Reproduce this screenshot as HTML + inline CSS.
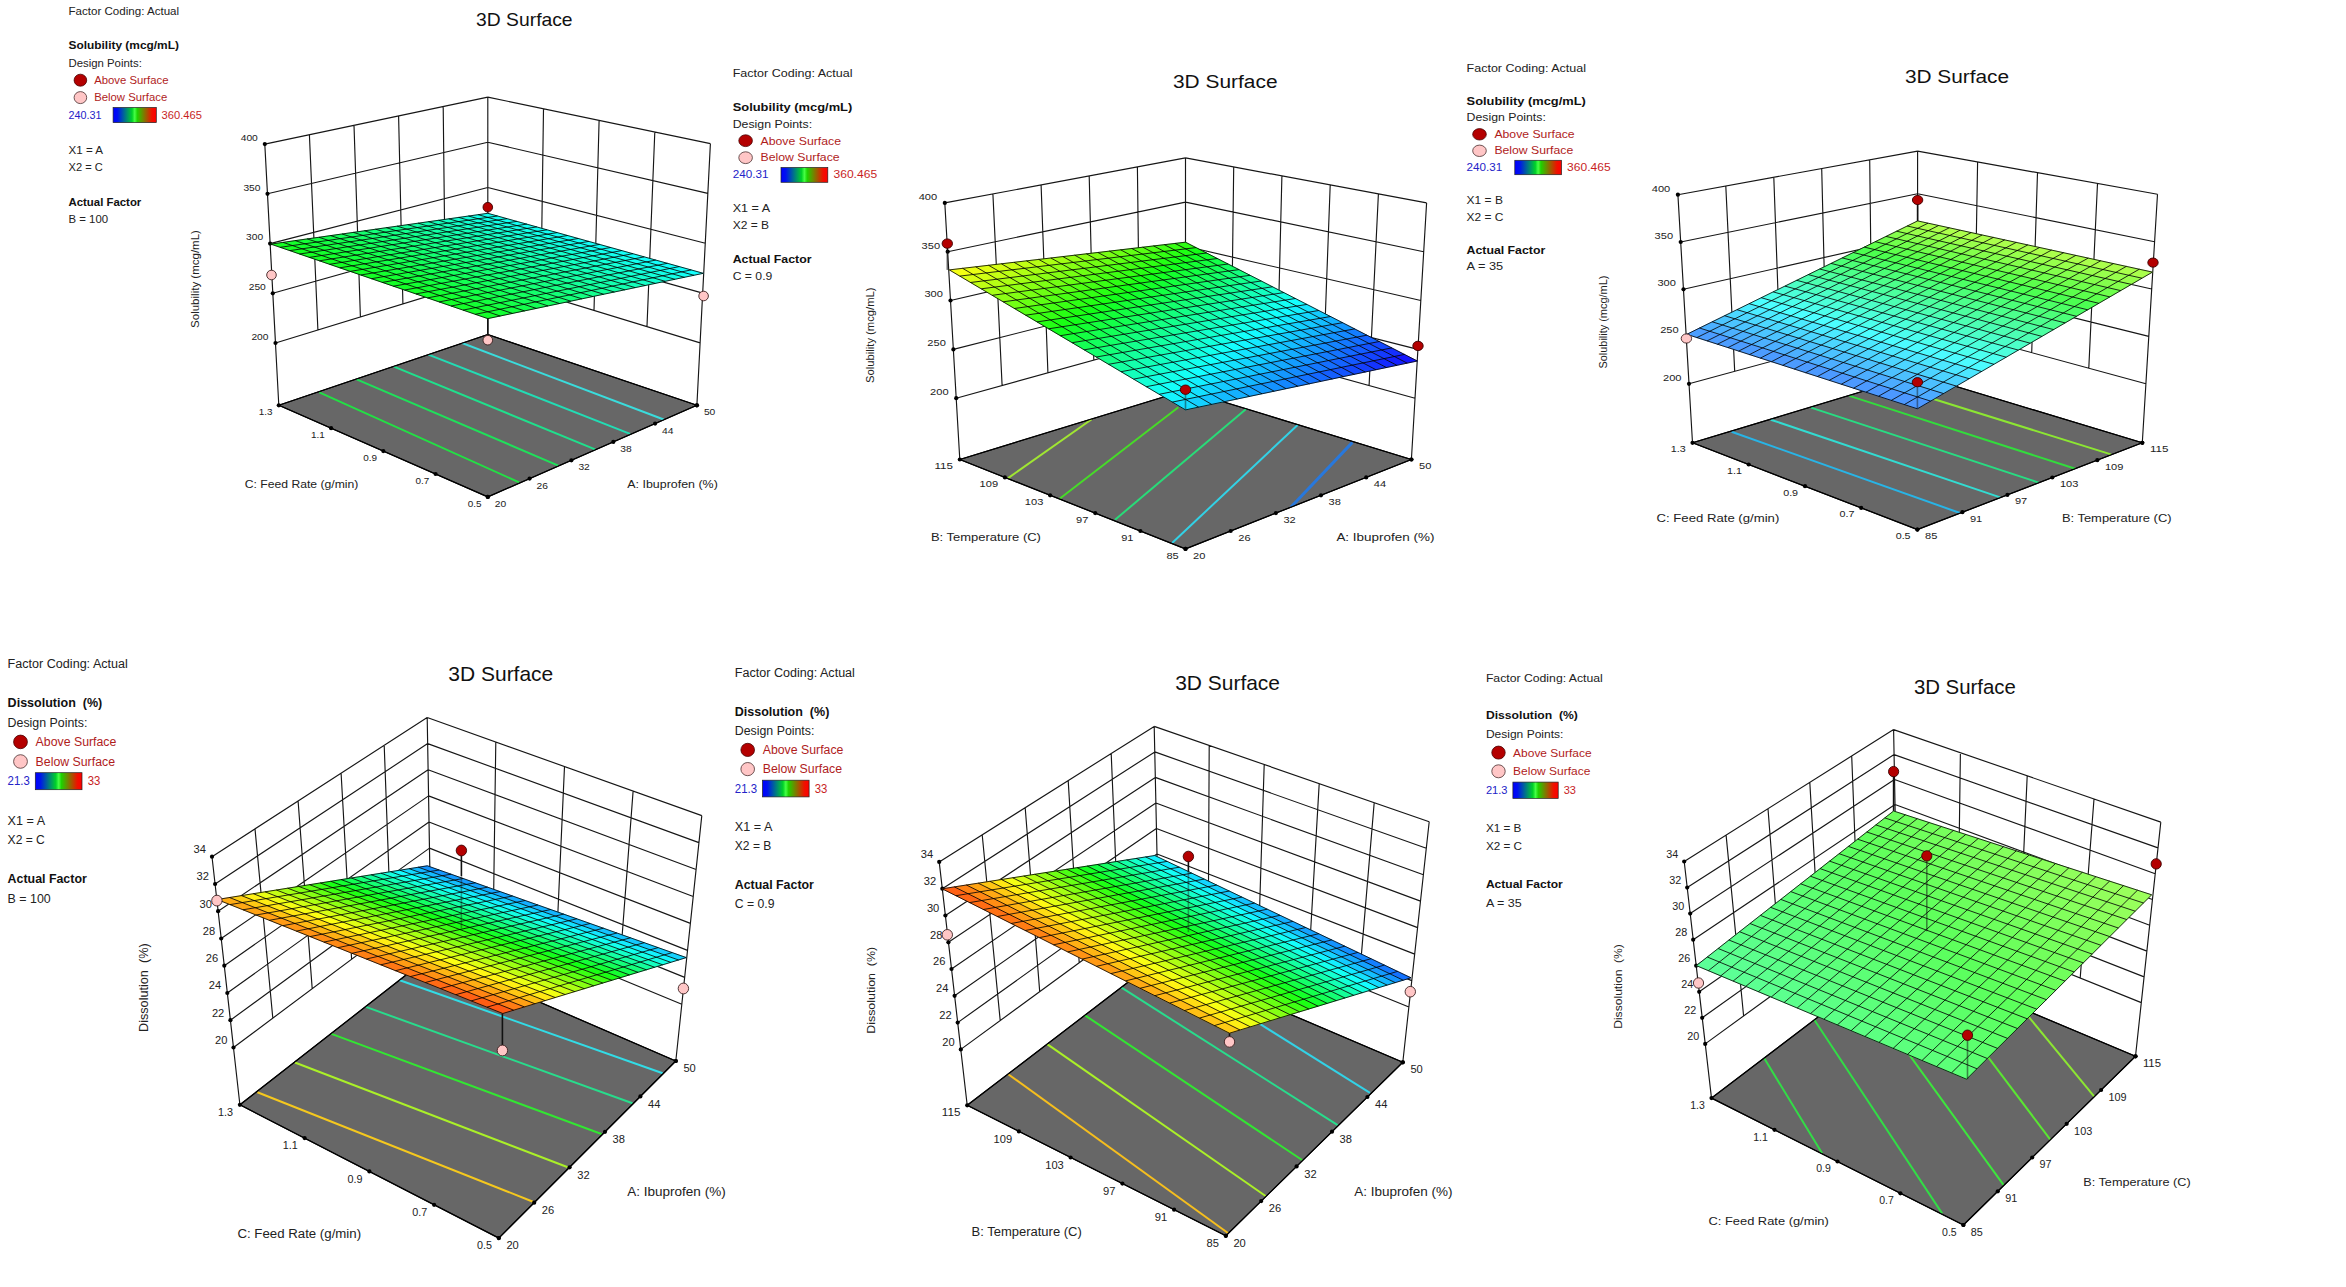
<!DOCTYPE html>
<html lang="en"><head><meta charset="utf-8"><title>3D Surface plots</title>
<style>html,body{margin:0;padding:0;background:#fff;}body{width:2346px;height:1287px;overflow:hidden;}svg{display:block;}</style>
</head><body>
<svg width="2346" height="1287" viewBox="0 0 2346 1287" font-family='"Liberation Sans", sans-serif'>
<defs><linearGradient id="cbar" x1="0" x2="1" y1="0" y2="0"><stop offset="0" stop-color="#0000ff"/><stop offset="0.1" stop-color="#0010f0"/><stop offset="0.44" stop-color="#00d228"/><stop offset="0.5" stop-color="#46ff46"/><stop offset="0.56" stop-color="#1ed200"/><stop offset="0.9" stop-color="#f01000"/><stop offset="1" stop-color="#ff0000"/></linearGradient></defs>
<rect width="2346" height="1287" fill="#fff"/>
<g>
<text x="68.5" y="14.5" font-size="10.90" fill="#222" textLength="110.6" lengthAdjust="spacingAndGlyphs">Factor Coding: Actual</text>
<text x="68.5" y="49.2" font-size="10.90" fill="#111" font-weight="bold" textLength="110.4" lengthAdjust="spacingAndGlyphs">Solubility (mcg/mL)</text>
<text x="68.5" y="66.6" font-size="10.90" fill="#222" textLength="73.3" lengthAdjust="spacingAndGlyphs">Design Points:</text>
<ellipse cx="80.4" cy="80.2" rx="6.3" ry="6" fill="#b40000" stroke="#4a0000" stroke-width="0.8"/>
<text x="94.2" y="84" font-size="10.90" fill="#b01c1c" textLength="74.3" lengthAdjust="spacingAndGlyphs">Above Surface</text>
<ellipse cx="80.4" cy="97.6" rx="6.3" ry="6" fill="#ffc6c6" stroke="#4a3030" stroke-width="0.8"/>
<text x="94.2" y="101.4" font-size="10.90" fill="#b01c1c" textLength="73" lengthAdjust="spacingAndGlyphs">Below Surface</text>
<text x="68.5" y="118.7" font-size="10.90" fill="#2323c8" textLength="33" lengthAdjust="spacingAndGlyphs">240.31</text>
<rect x="113.1" y="107.5" width="43.2" height="15.1" fill="url(#cbar)" stroke="#222" stroke-width="0.7"/>
<text x="161.6" y="118.7" font-size="10.90" fill="#c81e1e" textLength="40.3" lengthAdjust="spacingAndGlyphs">360.465</text>
<text x="68.5" y="153.5" font-size="10.90" fill="#222" textLength="34.5" lengthAdjust="spacingAndGlyphs">X1 = A</text>
<text x="68.5" y="170.8" font-size="10.90" fill="#222" textLength="34.2" lengthAdjust="spacingAndGlyphs">X2 = C</text>
<text x="68.5" y="205.6" font-size="10.90" fill="#111" font-weight="bold" textLength="72.8" lengthAdjust="spacingAndGlyphs">Actual Factor</text>
<text x="68.5" y="222.9" font-size="10.90" fill="#222" textLength="39.6" lengthAdjust="spacingAndGlyphs">B = 100</text>
<path d="M264.8,144.1 L275.5,343 M309.4,134.7 L317.9,330 M354,125.3 L360.4,317 M398.6,115.9 L402.9,303.9 M443.2,106.5 L445.3,290.9 M487.8,97.1 L487.8,277.9 M264.8,144.1 L487.8,97.1 M267.5,193.8 L487.8,142.3 M270.1,243.6 L487.8,187.5 M272.8,293.3 L487.8,232.7 M275.5,343 L487.8,277.9 M487.8,97.1 L487.8,277.9 M543.5,108.7 L540.9,294.1 M599.1,120.3 L594,310.4 M654.8,132 L647,326.6 M710.4,143.6 L700.1,342.9 M487.8,97.1 L710.4,143.6 M487.8,142.3 L707.8,193.4 M487.8,187.5 L705.3,243.2 M487.8,232.7 L702.7,293.1 M487.8,277.9 L700.1,342.9 M264.8,144.1 L278.8,405.3 M487.8,97.1 L487.8,334.5 M710.4,143.6 L696.9,405.3" fill="none" stroke="#161616" stroke-width="1.15"/>
<clipPath id="fc0"><polygon points="278.8,405.3 487.8,334.5 696.9,405.3 487.8,496.9"/></clipPath>
<polygon points="278.8,405.3 487.8,334.5 696.9,405.3 487.8,496.9" fill="#676767" stroke="#000" stroke-width="1.1" stroke-linejoin="round"/>
<g clip-path="url(#fc0)" fill="none"><path d="M319.3,392.3 L519.2,482.4" stroke="#22e044" stroke-width="2"/><path d="M356.6,379.4 L558.3,465.6" stroke="#1fe05a" stroke-width="2"/><path d="M393.9,366.7 L595.1,449.4" stroke="#1fe08c" stroke-width="2"/><path d="M428.4,354.6 L630.1,433.9" stroke="#22dcb4" stroke-width="2"/><path d="M462,343 L663.7,419.5" stroke="#3adcdc" stroke-width="2"/></g>
<polygon points="278.8,405.3 487.8,334.5 696.9,405.3 487.8,496.9" fill="none" stroke="#000" stroke-width="1.2" stroke-linejoin="round"/>
<g fill="#000"><circle cx="264.8" cy="144.1" r="2.1"/><circle cx="267.5" cy="193.8" r="2.1"/><circle cx="270.1" cy="243.6" r="2.1"/><circle cx="272.8" cy="293.3" r="2.1"/><circle cx="275.5" cy="343" r="2.1"/><circle cx="278.8" cy="405.3" r="2.1"/><circle cx="331.1" cy="428.2" r="2.1"/><circle cx="383.3" cy="451.1" r="2.1"/><circle cx="435.6" cy="474" r="2.1"/><circle cx="487.8" cy="496.9" r="2.1"/><circle cx="487.8" cy="496.9" r="2.1"/><circle cx="529.6" cy="478.6" r="2.1"/><circle cx="571.4" cy="460.3" r="2.1"/><circle cx="613.3" cy="441.9" r="2.1"/><circle cx="655.1" cy="423.6" r="2.1"/><circle cx="696.9" cy="405.3" r="2.1"/><circle cx="696.9" cy="405.3" r="2.1"/></g>
<g><text x="257.8" y="140.8" font-size="9.90" fill="#222" text-anchor="end" textLength="17.1" lengthAdjust="spacingAndGlyphs">400</text><text x="260.5" y="190.5" font-size="9.90" fill="#222" text-anchor="end" textLength="17.1" lengthAdjust="spacingAndGlyphs">350</text><text x="263.1" y="240.3" font-size="9.90" fill="#222" text-anchor="end" textLength="17.1" lengthAdjust="spacingAndGlyphs">300</text><text x="265.8" y="290" font-size="9.90" fill="#222" text-anchor="end" textLength="17.1" lengthAdjust="spacingAndGlyphs">250</text><text x="268.5" y="339.7" font-size="9.90" fill="#222" text-anchor="end" textLength="17.1" lengthAdjust="spacingAndGlyphs">200</text><text x="272.5" y="415.3" font-size="9.90" fill="#222" text-anchor="end" textLength="13.8" lengthAdjust="spacingAndGlyphs">1.3</text><text x="324.8" y="438.2" font-size="9.90" fill="#222" text-anchor="end" textLength="13.8" lengthAdjust="spacingAndGlyphs">1.1</text><text x="377" y="461.1" font-size="9.90" fill="#222" text-anchor="end" textLength="13.8" lengthAdjust="spacingAndGlyphs">0.9</text><text x="429.2" y="484" font-size="9.90" fill="#222" text-anchor="end" textLength="13.8" lengthAdjust="spacingAndGlyphs">0.7</text><text x="481.5" y="506.9" font-size="9.90" fill="#222" text-anchor="end" textLength="13.8" lengthAdjust="spacingAndGlyphs">0.5</text><text x="494.8" y="506.9" font-size="9.90" fill="#222" textLength="11.4" lengthAdjust="spacingAndGlyphs">20</text><text x="536.6" y="488.6" font-size="9.90" fill="#222" textLength="11.4" lengthAdjust="spacingAndGlyphs">26</text><text x="578.4" y="470.3" font-size="9.90" fill="#222" textLength="11.4" lengthAdjust="spacingAndGlyphs">32</text><text x="620.3" y="451.9" font-size="9.90" fill="#222" textLength="11.4" lengthAdjust="spacingAndGlyphs">38</text><text x="662.1" y="433.6" font-size="9.90" fill="#222" textLength="11.4" lengthAdjust="spacingAndGlyphs">44</text><text x="703.9" y="415.3" font-size="9.90" fill="#222" textLength="11.4" lengthAdjust="spacingAndGlyphs">50</text></g>
<text x="244.7" y="488" font-size="10.90" fill="#222" textLength="113.7" lengthAdjust="spacingAndGlyphs">C: Feed Rate (g/min)</text>
<text x="627.3" y="488" font-size="10.90" fill="#222" textLength="90.5" lengthAdjust="spacingAndGlyphs">A: Ibuprofen (%)</text>
<text x="0" y="0" font-size="10.90" fill="#222" textLength="97.8" lengthAdjust="spacingAndGlyphs" transform="translate(199.1,327.9) rotate(-90)">Solubility (mcg/mL)</text>
<text x="476.1" y="25.7" font-size="18.40" fill="#111" textLength="96.5" lengthAdjust="spacingAndGlyphs">3D Surface</text>
<g stroke-width="0.6" stroke-linejoin="round"><path d="M487.8,217.3 L497.4,216 L487.8,213.3 L478.2,214.7Z" fill="#14fff1" stroke="#14fff1"/><path d="M497.5,220.1 L507,218.7 L497.4,216 L487.8,217.3Z" fill="#14fff2" stroke="#14fff2"/><path d="M507.3,222.8 L516.8,221.4 L507,218.7 L497.5,220.1Z" fill="#14fff3" stroke="#14fff3"/><path d="M517.2,225.6 L526.8,224.1 L516.8,221.4 L507.3,222.8Z" fill="#14fff3" stroke="#14fff3"/><path d="M527.2,228.4 L536.8,226.9 L526.8,224.1 L517.2,225.6Z" fill="#14fff4" stroke="#14fff4"/><path d="M537.4,231.3 L547,229.8 L536.8,226.9 L527.2,228.4Z" fill="#14fff4" stroke="#14fff4"/><path d="M547.7,234.2 L557.2,232.6 L547,229.8 L537.4,231.3Z" fill="#14fff5" stroke="#14fff5"/><path d="M558.1,237.1 L567.6,235.5 L557.2,232.6 L547.7,234.2Z" fill="#14fff6" stroke="#14fff6"/><path d="M568.7,240.1 L578.2,238.5 L567.6,235.5 L558.1,237.1Z" fill="#14fff6" stroke="#14fff6"/><path d="M579.3,243.1 L588.8,241.4 L578.2,238.5 L568.7,240.1Z" fill="#14fff7" stroke="#14fff7"/><path d="M590.1,246.1 L599.6,244.4 L588.8,241.4 L579.3,243.1Z" fill="#14fff8" stroke="#14fff8"/><path d="M601.1,249.2 L610.6,247.5 L599.6,244.4 L590.1,246.1Z" fill="#14fff8" stroke="#14fff8"/><path d="M612.2,252.3 L621.7,250.6 L610.6,247.5 L601.1,249.2Z" fill="#14fff9" stroke="#14fff9"/><path d="M623.4,255.4 L632.9,253.7 L621.7,250.6 L612.2,252.3Z" fill="#14fff9" stroke="#14fff9"/><path d="M634.8,258.6 L644.2,256.9 L632.9,253.7 L623.4,255.4Z" fill="#14fffa" stroke="#14fffa"/><path d="M646.3,261.9 L655.7,260.1 L644.2,256.9 L634.8,258.6Z" fill="#14fffb" stroke="#14fffb"/><path d="M658,265.2 L667.4,263.3 L655.7,260.1 L646.3,261.9Z" fill="#14fffb" stroke="#14fffb"/><path d="M669.8,268.5 L679.2,266.6 L667.4,263.3 L658,265.2Z" fill="#14fffc" stroke="#14fffc"/><path d="M681.8,271.8 L691.2,269.9 L679.2,266.6 L669.8,268.5Z" fill="#14fffd" stroke="#14fffd"/><path d="M694,275.3 L703.3,273.3 L691.2,269.9 L681.8,271.8Z" fill="#14fffd" stroke="#14fffd"/><path d="M478.1,218.7 L487.8,217.3 L478.2,214.7 L468.5,216Z" fill="#14ffe6" stroke="#14ffe6"/><path d="M487.8,221.5 L497.5,220.1 L487.8,217.3 L478.1,218.7Z" fill="#14ffe7" stroke="#14ffe7"/><path d="M497.6,224.3 L507.3,222.8 L497.5,220.1 L487.8,221.5Z" fill="#14ffe8" stroke="#14ffe8"/><path d="M507.5,227.1 L517.2,225.6 L507.3,222.8 L497.6,224.3Z" fill="#14ffe8" stroke="#14ffe8"/><path d="M517.6,229.9 L527.2,228.4 L517.2,225.6 L507.5,227.1Z" fill="#14ffe9" stroke="#14ffe9"/><path d="M527.7,232.8 L537.4,231.3 L527.2,228.4 L517.6,229.9Z" fill="#14ffe9" stroke="#14ffe9"/><path d="M538,235.7 L547.7,234.2 L537.4,231.3 L527.7,232.8Z" fill="#14ffea" stroke="#14ffea"/><path d="M548.5,238.7 L558.1,237.1 L547.7,234.2 L538,235.7Z" fill="#14ffeb" stroke="#14ffeb"/><path d="M559,241.7 L568.7,240.1 L558.1,237.1 L548.5,238.7Z" fill="#14ffeb" stroke="#14ffeb"/><path d="M569.7,244.7 L579.3,243.1 L568.7,240.1 L559,241.7Z" fill="#14ffec" stroke="#14ffec"/><path d="M580.5,247.8 L590.1,246.1 L579.3,243.1 L569.7,244.7Z" fill="#14ffec" stroke="#14ffec"/><path d="M591.5,250.9 L601.1,249.2 L590.1,246.1 L580.5,247.8Z" fill="#14ffed" stroke="#14ffed"/><path d="M602.6,254 L612.2,252.3 L601.1,249.2 L591.5,250.9Z" fill="#14ffee" stroke="#14ffee"/><path d="M613.8,257.2 L623.4,255.4 L612.2,252.3 L602.6,254Z" fill="#14ffee" stroke="#14ffee"/><path d="M625.2,260.5 L634.8,258.6 L623.4,255.4 L613.8,257.2Z" fill="#14ffef" stroke="#14ffef"/><path d="M636.8,263.7 L646.3,261.9 L634.8,258.6 L625.2,260.5Z" fill="#14fff0" stroke="#14fff0"/><path d="M648.5,267 L658,265.2 L646.3,261.9 L636.8,263.7Z" fill="#14fff0" stroke="#14fff0"/><path d="M660.3,270.4 L669.8,268.5 L658,265.2 L648.5,267Z" fill="#14fff1" stroke="#14fff1"/><path d="M672.3,273.8 L681.8,271.8 L669.8,268.5 L660.3,270.4Z" fill="#14fff1" stroke="#14fff1"/><path d="M684.5,277.3 L694,275.3 L681.8,271.8 L672.3,273.8Z" fill="#14fff2" stroke="#14fff2"/><path d="M468.3,220.2 L478.1,218.7 L468.5,216 L458.7,217.4Z" fill="#14ffdb" stroke="#14ffdb"/><path d="M478,222.9 L487.8,221.5 L478.1,218.7 L468.3,220.2Z" fill="#14ffdc" stroke="#14ffdc"/><path d="M487.8,225.7 L497.6,224.3 L487.8,221.5 L478,222.9Z" fill="#14ffdd" stroke="#14ffdd"/><path d="M497.7,228.6 L507.5,227.1 L497.6,224.3 L487.8,225.7Z" fill="#14ffdd" stroke="#14ffdd"/><path d="M507.8,231.5 L517.6,229.9 L507.5,227.1 L497.7,228.6Z" fill="#14ffde" stroke="#14ffde"/><path d="M518,234.4 L527.7,232.8 L517.6,229.9 L507.8,231.5Z" fill="#14ffde" stroke="#14ffde"/><path d="M528.3,237.3 L538,235.7 L527.7,232.8 L518,234.4Z" fill="#14ffdf" stroke="#14ffdf"/><path d="M538.7,240.3 L548.5,238.7 L538,235.7 L528.3,237.3Z" fill="#14ffe0" stroke="#14ffe0"/><path d="M549.2,243.3 L559,241.7 L548.5,238.7 L538.7,240.3Z" fill="#14ffe0" stroke="#14ffe0"/><path d="M559.9,246.4 L569.7,244.7 L559,241.7 L549.2,243.3Z" fill="#14ffe1" stroke="#14ffe1"/><path d="M570.8,249.5 L580.5,247.8 L569.7,244.7 L559.9,246.4Z" fill="#14ffe1" stroke="#14ffe1"/><path d="M581.8,252.6 L591.5,250.9 L580.5,247.8 L570.8,249.5Z" fill="#14ffe2" stroke="#14ffe2"/><path d="M592.9,255.8 L602.6,254 L591.5,250.9 L581.8,252.6Z" fill="#14ffe3" stroke="#14ffe3"/><path d="M604.1,259 L613.8,257.2 L602.6,254 L592.9,255.8Z" fill="#14ffe3" stroke="#14ffe3"/><path d="M615.5,262.3 L625.2,260.5 L613.8,257.2 L604.1,259Z" fill="#14ffe4" stroke="#14ffe4"/><path d="M627.1,265.6 L636.8,263.7 L625.2,260.5 L615.5,262.3Z" fill="#14ffe4" stroke="#14ffe4"/><path d="M638.8,268.9 L648.5,267 L636.8,263.7 L627.1,265.6Z" fill="#14ffe5" stroke="#14ffe5"/><path d="M650.7,272.3 L660.3,270.4 L648.5,267 L638.8,268.9Z" fill="#14ffe6" stroke="#14ffe6"/><path d="M662.7,275.8 L672.3,273.8 L660.3,270.4 L650.7,272.3Z" fill="#14ffe6" stroke="#14ffe6"/><path d="M674.9,279.3 L684.5,277.3 L672.3,273.8 L662.7,275.8Z" fill="#14ffe7" stroke="#14ffe7"/><path d="M458.4,221.6 L468.3,220.2 L458.7,217.4 L448.8,218.8Z" fill="#14ffd0" stroke="#14ffd0"/><path d="M468.1,224.4 L478,222.9 L468.3,220.2 L458.4,221.6Z" fill="#14ffd1" stroke="#14ffd1"/><path d="M477.9,227.2 L487.8,225.7 L478,222.9 L468.1,224.4Z" fill="#14ffd2" stroke="#14ffd2"/><path d="M487.8,230.1 L497.7,228.6 L487.8,225.7 L477.9,227.2Z" fill="#14ffd2" stroke="#14ffd2"/><path d="M497.9,233 L507.8,231.5 L497.7,228.6 L487.8,230.1Z" fill="#14ffd3" stroke="#14ffd3"/><path d="M508,235.9 L518,234.4 L507.8,231.5 L497.9,233Z" fill="#14ffd3" stroke="#14ffd3"/><path d="M518.3,238.9 L528.3,237.3 L518,234.4 L508,235.9Z" fill="#14ffd4" stroke="#14ffd4"/><path d="M528.8,241.9 L538.7,240.3 L528.3,237.3 L518.3,238.9Z" fill="#14ffd5" stroke="#14ffd5"/><path d="M539.4,245 L549.2,243.3 L538.7,240.3 L528.8,241.9Z" fill="#14ffd5" stroke="#14ffd5"/><path d="M550.1,248.1 L559.9,246.4 L549.2,243.3 L539.4,245Z" fill="#14ffd6" stroke="#14ffd6"/><path d="M560.9,251.2 L570.8,249.5 L559.9,246.4 L550.1,248.1Z" fill="#14ffd6" stroke="#14ffd6"/><path d="M571.9,254.4 L581.8,252.6 L570.8,249.5 L560.9,251.2Z" fill="#14ffd7" stroke="#14ffd7"/><path d="M583,257.6 L592.9,255.8 L581.8,252.6 L571.9,254.4Z" fill="#14ffd8" stroke="#14ffd8"/><path d="M594.3,260.9 L604.1,259 L592.9,255.8 L583,257.6Z" fill="#14ffd8" stroke="#14ffd8"/><path d="M605.7,264.2 L615.5,262.3 L604.1,259 L594.3,260.9Z" fill="#14ffd9" stroke="#14ffd9"/><path d="M617.3,267.5 L627.1,265.6 L615.5,262.3 L605.7,264.2Z" fill="#14ffd9" stroke="#14ffd9"/><path d="M629,270.9 L638.8,268.9 L627.1,265.6 L617.3,267.5Z" fill="#14ffda" stroke="#14ffda"/><path d="M640.9,274.3 L650.7,272.3 L638.8,268.9 L629,270.9Z" fill="#14ffdb" stroke="#14ffdb"/><path d="M652.9,277.8 L662.7,275.8 L650.7,272.3 L640.9,274.3Z" fill="#14ffdb" stroke="#14ffdb"/><path d="M665.2,281.3 L674.9,279.3 L662.7,275.8 L652.9,277.8Z" fill="#14ffdc" stroke="#14ffdc"/><path d="M448.3,223.1 L458.4,221.6 L448.8,218.8 L438.7,220.3Z" fill="#14ffc6" stroke="#14ffc6"/><path d="M458,225.9 L468.1,224.4 L458.4,221.6 L448.3,223.1Z" fill="#14ffc6" stroke="#14ffc6"/><path d="M467.8,228.7 L477.9,227.2 L468.1,224.4 L458,225.9Z" fill="#14ffc7" stroke="#14ffc7"/><path d="M477.7,231.6 L487.8,230.1 L477.9,227.2 L467.8,228.7Z" fill="#14ffc7" stroke="#14ffc7"/><path d="M487.8,234.6 L497.9,233 L487.8,230.1 L477.7,231.6Z" fill="#14ffc8" stroke="#14ffc8"/><path d="M498,237.5 L508,235.9 L497.9,233 L487.8,234.6Z" fill="#14ffc8" stroke="#14ffc8"/><path d="M508.3,240.5 L518.3,238.9 L508,235.9 L498,237.5Z" fill="#14ffc9" stroke="#14ffc9"/><path d="M518.7,243.6 L528.8,241.9 L518.3,238.9 L508.3,240.5Z" fill="#14ffca" stroke="#14ffca"/><path d="M529.3,246.7 L539.4,245 L528.8,241.9 L518.7,243.6Z" fill="#14ffca" stroke="#14ffca"/><path d="M540,249.8 L550.1,248.1 L539.4,245 L529.3,246.7Z" fill="#14ffcb" stroke="#14ffcb"/><path d="M550.9,253 L560.9,251.2 L550.1,248.1 L540,249.8Z" fill="#14ffcb" stroke="#14ffcb"/><path d="M561.9,256.2 L571.9,254.4 L560.9,251.2 L550.9,253Z" fill="#14ffcc" stroke="#14ffcc"/><path d="M573,259.4 L583,257.6 L571.9,254.4 L561.9,256.2Z" fill="#14ffcd" stroke="#14ffcd"/><path d="M584.3,262.7 L594.3,260.9 L583,257.6 L573,259.4Z" fill="#14ffcd" stroke="#14ffcd"/><path d="M595.7,266 L605.7,264.2 L594.3,260.9 L584.3,262.7Z" fill="#14ffce" stroke="#14ffce"/><path d="M607.3,269.4 L617.3,267.5 L605.7,264.2 L595.7,266Z" fill="#14ffce" stroke="#14ffce"/><path d="M619.1,272.8 L629,270.9 L617.3,267.5 L607.3,269.4Z" fill="#14ffcf" stroke="#14ffcf"/><path d="M631,276.3 L640.9,274.3 L629,270.9 L619.1,272.8Z" fill="#14ffcf" stroke="#14ffcf"/><path d="M643,279.8 L652.9,277.8 L640.9,274.3 L631,276.3Z" fill="#14ffd0" stroke="#14ffd0"/><path d="M655.3,283.4 L665.2,281.3 L652.9,277.8 L643,279.8Z" fill="#14ffd1" stroke="#14ffd1"/><path d="M438.1,224.5 L448.3,223.1 L438.7,220.3 L428.5,221.7Z" fill="#14ffbb" stroke="#14ffbb"/><path d="M447.8,227.4 L458,225.9 L448.3,223.1 L438.1,224.5Z" fill="#14ffbb" stroke="#14ffbb"/><path d="M457.6,230.3 L467.8,228.7 L458,225.9 L447.8,227.4Z" fill="#14ffbc" stroke="#14ffbc"/><path d="M467.6,233.2 L477.7,231.6 L467.8,228.7 L457.6,230.3Z" fill="#14ffbc" stroke="#14ffbc"/><path d="M477.6,236.2 L487.8,234.6 L477.7,231.6 L467.6,233.2Z" fill="#14ffbd" stroke="#14ffbd"/><path d="M487.8,239.2 L498,237.5 L487.8,234.6 L477.6,236.2Z" fill="#14ffbd" stroke="#14ffbd"/><path d="M498.1,242.2 L508.3,240.5 L498,237.5 L487.8,239.2Z" fill="#14ffbe" stroke="#14ffbe"/><path d="M508.6,245.3 L518.7,243.6 L508.3,240.5 L498.1,242.2Z" fill="#14ffbf" stroke="#14ffbf"/><path d="M519.1,248.4 L529.3,246.7 L518.7,243.6 L508.6,245.3Z" fill="#14ffbf" stroke="#14ffbf"/><path d="M529.9,251.5 L540,249.8 L529.3,246.7 L519.1,248.4Z" fill="#14ffc0" stroke="#14ffc0"/><path d="M540.7,254.7 L550.9,253 L540,249.8 L529.9,251.5Z" fill="#14ffc0" stroke="#14ffc0"/><path d="M551.7,258 L561.9,256.2 L550.9,253 L540.7,254.7Z" fill="#14ffc1" stroke="#14ffc1"/><path d="M562.9,261.3 L573,259.4 L561.9,256.2 L551.7,258Z" fill="#14ffc1" stroke="#14ffc1"/><path d="M574.2,264.6 L584.3,262.7 L573,259.4 L562.9,261.3Z" fill="#14ffc2" stroke="#14ffc2"/><path d="M585.6,268 L595.7,266 L584.3,262.7 L574.2,264.6Z" fill="#14ffc3" stroke="#14ffc3"/><path d="M597.2,271.4 L607.3,269.4 L595.7,266 L585.6,268Z" fill="#14ffc3" stroke="#14ffc3"/><path d="M609,274.8 L619.1,272.8 L607.3,269.4 L597.2,271.4Z" fill="#14ffc4" stroke="#14ffc4"/><path d="M620.9,278.3 L631,276.3 L619.1,272.8 L609,274.8Z" fill="#14ffc4" stroke="#14ffc4"/><path d="M633,281.9 L643,279.8 L631,276.3 L620.9,278.3Z" fill="#14ffc5" stroke="#14ffc5"/><path d="M645.2,285.5 L655.3,283.4 L643,279.8 L633,281.9Z" fill="#14ffc6" stroke="#14ffc6"/><path d="M427.8,226 L438.1,224.5 L428.5,221.7 L418.2,223.2Z" fill="#14ffb0" stroke="#14ffb0"/><path d="M437.5,228.9 L447.8,227.4 L438.1,224.5 L427.8,226Z" fill="#14ffb0" stroke="#14ffb0"/><path d="M447.3,231.8 L457.6,230.3 L447.8,227.4 L437.5,228.9Z" fill="#14ffb1" stroke="#14ffb1"/><path d="M457.2,234.8 L467.6,233.2 L457.6,230.3 L447.3,231.8Z" fill="#14ffb1" stroke="#14ffb1"/><path d="M467.3,237.8 L477.6,236.2 L467.6,233.2 L457.2,234.8Z" fill="#14ffb2" stroke="#14ffb2"/><path d="M477.5,240.8 L487.8,239.2 L477.6,236.2 L467.3,237.8Z" fill="#14ffb2" stroke="#14ffb2"/><path d="M487.8,243.9 L498.1,242.2 L487.8,239.2 L477.5,240.8Z" fill="#14ffb3" stroke="#14ffb3"/><path d="M498.3,247 L508.6,245.3 L498.1,242.2 L487.8,243.9Z" fill="#14ffb4" stroke="#14ffb4"/><path d="M508.8,250.1 L519.1,248.4 L508.6,245.3 L498.3,247Z" fill="#14ffb4" stroke="#14ffb4"/><path d="M519.6,253.3 L529.9,251.5 L519.1,248.4 L508.8,250.1Z" fill="#14ffb5" stroke="#14ffb5"/><path d="M530.4,256.5 L540.7,254.7 L529.9,251.5 L519.6,253.3Z" fill="#14ffb5" stroke="#14ffb5"/><path d="M541.4,259.8 L551.7,258 L540.7,254.7 L530.4,256.5Z" fill="#14ffb6" stroke="#14ffb6"/><path d="M552.6,263.1 L562.9,261.3 L551.7,258 L541.4,259.8Z" fill="#14ffb6" stroke="#14ffb6"/><path d="M563.9,266.5 L574.2,264.6 L562.9,261.3 L552.6,263.1Z" fill="#14ffb7" stroke="#14ffb7"/><path d="M575.4,269.9 L585.6,268 L574.2,264.6 L563.9,266.5Z" fill="#14ffb8" stroke="#14ffb8"/><path d="M587,273.3 L597.2,271.4 L585.6,268 L575.4,269.9Z" fill="#14ffb8" stroke="#14ffb8"/><path d="M598.8,276.8 L609,274.8 L597.2,271.4 L587,273.3Z" fill="#14ffb9" stroke="#14ffb9"/><path d="M610.7,280.4 L620.9,278.3 L609,274.8 L598.8,276.8Z" fill="#14ffb9" stroke="#14ffb9"/><path d="M622.8,284 L633,281.9 L620.9,278.3 L610.7,280.4Z" fill="#14ffba" stroke="#14ffba"/><path d="M635.1,287.6 L645.2,285.5 L633,281.9 L622.8,284Z" fill="#14ffba" stroke="#14ffba"/><path d="M417.3,227.5 L427.8,226 L418.2,223.2 L407.8,224.7Z" fill="#14ffa5" stroke="#14ffa5"/><path d="M427,230.4 L437.5,228.9 L427.8,226 L417.3,227.5Z" fill="#14ffa5" stroke="#14ffa5"/><path d="M436.8,233.4 L447.3,231.8 L437.5,228.9 L427,230.4Z" fill="#14ffa6" stroke="#14ffa6"/><path d="M446.8,236.4 L457.2,234.8 L447.3,231.8 L436.8,233.4Z" fill="#14ffa6" stroke="#14ffa6"/><path d="M456.8,239.4 L467.3,237.8 L457.2,234.8 L446.8,236.4Z" fill="#14ffa7" stroke="#14ffa7"/><path d="M467,242.5 L477.5,240.8 L467.3,237.8 L456.8,239.4Z" fill="#14ffa7" stroke="#14ffa7"/><path d="M477.3,245.6 L487.8,243.9 L477.5,240.8 L467,242.5Z" fill="#14ffa8" stroke="#14ffa8"/><path d="M487.8,248.7 L498.3,247 L487.8,243.9 L477.3,245.6Z" fill="#14ffa9" stroke="#14ffa9"/><path d="M498.4,251.9 L508.8,250.1 L498.3,247 L487.8,248.7Z" fill="#14ffa9" stroke="#14ffa9"/><path d="M509.1,255.1 L519.6,253.3 L508.8,250.1 L498.4,251.9Z" fill="#14ffaa" stroke="#14ffaa"/><path d="M520,258.4 L530.4,256.5 L519.6,253.3 L509.1,255.1Z" fill="#14ffaa" stroke="#14ffaa"/><path d="M531,261.7 L541.4,259.8 L530.4,256.5 L520,258.4Z" fill="#14ffab" stroke="#14ffab"/><path d="M542.2,265 L552.6,263.1 L541.4,259.8 L531,261.7Z" fill="#14ffab" stroke="#14ffab"/><path d="M553.5,268.4 L563.9,266.5 L552.6,263.1 L542.2,265Z" fill="#14ffac" stroke="#14ffac"/><path d="M565,271.9 L575.4,269.9 L563.9,266.5 L553.5,268.4Z" fill="#14ffad" stroke="#14ffad"/><path d="M576.6,275.4 L587,273.3 L575.4,269.9 L565,271.9Z" fill="#14ffad" stroke="#14ffad"/><path d="M588.4,278.9 L598.8,276.8 L587,273.3 L576.6,275.4Z" fill="#14ffae" stroke="#14ffae"/><path d="M600.3,282.5 L610.7,280.4 L598.8,276.8 L588.4,278.9Z" fill="#14ffae" stroke="#14ffae"/><path d="M612.5,286.1 L622.8,284 L610.7,280.4 L600.3,282.5Z" fill="#14ffaf" stroke="#14ffaf"/><path d="M624.8,289.8 L635.1,287.6 L622.8,284 L612.5,286.1Z" fill="#14ffaf" stroke="#14ffaf"/><path d="M406.7,229.1 L417.3,227.5 L407.8,224.7 L397.2,226.2Z" fill="#14ff9a" stroke="#14ff9a"/><path d="M416.4,232 L427,230.4 L417.3,227.5 L406.7,229.1Z" fill="#14ff9a" stroke="#14ff9a"/><path d="M426.2,235 L436.8,233.4 L427,230.4 L416.4,232Z" fill="#14ff9b" stroke="#14ff9b"/><path d="M436.2,238 L446.8,236.4 L436.8,233.4 L426.2,235Z" fill="#14ff9b" stroke="#14ff9b"/><path d="M446.2,241 L456.8,239.4 L446.8,236.4 L436.2,238Z" fill="#14ff9c" stroke="#14ff9c"/><path d="M456.4,244.1 L467,242.5 L456.8,239.4 L446.2,241Z" fill="#14ff9c" stroke="#14ff9c"/><path d="M466.7,247.3 L477.3,245.6 L467,242.5 L456.4,244.1Z" fill="#14ff9d" stroke="#14ff9d"/><path d="M477.2,250.4 L487.8,248.7 L477.3,245.6 L466.7,247.3Z" fill="#14ff9e" stroke="#14ff9e"/><path d="M487.8,253.7 L498.4,251.9 L487.8,248.7 L477.2,250.4Z" fill="#14ff9e" stroke="#14ff9e"/><path d="M498.5,256.9 L509.1,255.1 L498.4,251.9 L487.8,253.7Z" fill="#14ff9f" stroke="#14ff9f"/><path d="M509.4,260.2 L520,258.4 L509.1,255.1 L498.5,256.9Z" fill="#14ff9f" stroke="#14ff9f"/><path d="M520.4,263.6 L531,261.7 L520,258.4 L509.4,260.2Z" fill="#14ffa0" stroke="#14ffa0"/><path d="M531.6,266.9 L542.2,265 L531,261.7 L520.4,263.6Z" fill="#14ffa0" stroke="#14ffa0"/><path d="M542.9,270.4 L553.5,268.4 L542.2,265 L531.6,266.9Z" fill="#14ffa1" stroke="#14ffa1"/><path d="M554.4,273.9 L565,271.9 L553.5,268.4 L542.9,270.4Z" fill="#14ffa1" stroke="#14ffa1"/><path d="M566.1,277.4 L576.6,275.4 L565,271.9 L554.4,273.9Z" fill="#14ffa2" stroke="#14ffa2"/><path d="M577.9,281 L588.4,278.9 L576.6,275.4 L566.1,277.4Z" fill="#14ffa3" stroke="#14ffa3"/><path d="M589.8,284.6 L600.3,282.5 L588.4,278.9 L577.9,281Z" fill="#14ffa3" stroke="#14ffa3"/><path d="M602,288.3 L612.5,286.1 L600.3,282.5 L589.8,284.6Z" fill="#14ffa4" stroke="#14ffa4"/><path d="M614.3,292 L624.8,289.8 L612.5,286.1 L602,288.3Z" fill="#14ffa4" stroke="#14ffa4"/><path d="M396,230.6 L406.7,229.1 L397.2,226.2 L386.4,227.7Z" fill="#14ff8f" stroke="#14ff8f"/><path d="M405.7,233.6 L416.4,232 L406.7,229.1 L396,230.6Z" fill="#14ff8f" stroke="#14ff8f"/><path d="M415.5,236.6 L426.2,235 L416.4,232 L405.7,233.6Z" fill="#14ff90" stroke="#14ff90"/><path d="M425.4,239.6 L436.2,238 L426.2,235 L415.5,236.6Z" fill="#14ff90" stroke="#14ff90"/><path d="M435.5,242.7 L446.2,241 L436.2,238 L425.4,239.6Z" fill="#14ff91" stroke="#14ff91"/><path d="M445.7,245.8 L456.4,244.1 L446.2,241 L435.5,242.7Z" fill="#14ff92" stroke="#14ff92"/><path d="M456,249 L466.7,247.3 L456.4,244.1 L445.7,245.8Z" fill="#14ff92" stroke="#14ff92"/><path d="M466.5,252.2 L477.2,250.4 L466.7,247.3 L456,249Z" fill="#14ff93" stroke="#14ff93"/><path d="M477.1,255.5 L487.8,253.7 L477.2,250.4 L466.5,252.2Z" fill="#14ff93" stroke="#14ff93"/><path d="M487.8,258.8 L498.5,256.9 L487.8,253.7 L477.1,255.5Z" fill="#14ff94" stroke="#14ff94"/><path d="M498.7,262.1 L509.4,260.2 L498.5,256.9 L487.8,258.8Z" fill="#14ff94" stroke="#14ff94"/><path d="M509.7,265.5 L520.4,263.6 L509.4,260.2 L498.7,262.1Z" fill="#14ff95" stroke="#14ff95"/><path d="M520.9,268.9 L531.6,266.9 L520.4,263.6 L509.7,265.5Z" fill="#14ff95" stroke="#14ff95"/><path d="M532.2,272.4 L542.9,270.4 L531.6,266.9 L520.9,268.9Z" fill="#14ff96" stroke="#14ff96"/><path d="M543.7,275.9 L554.4,273.9 L542.9,270.4 L532.2,272.4Z" fill="#14ff96" stroke="#14ff96"/><path d="M555.4,279.5 L566.1,277.4 L554.4,273.9 L543.7,275.9Z" fill="#14ff97" stroke="#14ff97"/><path d="M567.2,283.1 L577.9,281 L566.1,277.4 L555.4,279.5Z" fill="#14ff97" stroke="#14ff97"/><path d="M579.2,286.7 L589.8,284.6 L577.9,281 L567.2,283.1Z" fill="#14ff98" stroke="#14ff98"/><path d="M591.3,290.5 L602,288.3 L589.8,284.6 L579.2,286.7Z" fill="#14ff99" stroke="#14ff99"/><path d="M603.6,294.2 L614.3,292 L602,288.3 L591.3,290.5Z" fill="#14ff99" stroke="#14ff99"/><path d="M385.1,232.2 L396,230.6 L386.4,227.7 L375.6,229.2Z" fill="#14ff84" stroke="#14ff84"/><path d="M394.8,235.2 L405.7,233.6 L396,230.6 L385.1,232.2Z" fill="#14ff84" stroke="#14ff84"/><path d="M404.6,238.2 L415.5,236.6 L405.7,233.6 L394.8,235.2Z" fill="#14ff85" stroke="#14ff85"/><path d="M414.5,241.3 L425.4,239.6 L415.5,236.6 L404.6,238.2Z" fill="#14ff85" stroke="#14ff85"/><path d="M424.6,244.4 L435.5,242.7 L425.4,239.6 L414.5,241.3Z" fill="#14ff86" stroke="#14ff86"/><path d="M434.8,247.6 L445.7,245.8 L435.5,242.7 L424.6,244.4Z" fill="#14ff87" stroke="#14ff87"/><path d="M445.1,250.8 L456,249 L445.7,245.8 L434.8,247.6Z" fill="#14ff87" stroke="#14ff87"/><path d="M455.6,254 L466.5,252.2 L456,249 L445.1,250.8Z" fill="#14ff88" stroke="#14ff88"/><path d="M466.2,257.3 L477.1,255.5 L466.5,252.2 L455.6,254Z" fill="#14ff88" stroke="#14ff88"/><path d="M476.9,260.6 L487.8,258.8 L477.1,255.5 L466.2,257.3Z" fill="#14ff89" stroke="#14ff89"/><path d="M487.8,264 L498.7,262.1 L487.8,258.8 L476.9,260.6Z" fill="#14ff89" stroke="#14ff89"/><path d="M498.8,267.4 L509.7,265.5 L498.7,262.1 L487.8,264Z" fill="#14ff8a" stroke="#14ff8a"/><path d="M510,270.9 L520.9,268.9 L509.7,265.5 L498.8,267.4Z" fill="#14ff8a" stroke="#14ff8a"/><path d="M521.4,274.4 L532.2,272.4 L520.9,268.9 L510,270.9Z" fill="#14ff8b" stroke="#14ff8b"/><path d="M532.9,277.9 L543.7,275.9 L532.2,272.4 L521.4,274.4Z" fill="#14ff8b" stroke="#14ff8b"/><path d="M544.5,281.6 L555.4,279.5 L543.7,275.9 L532.9,277.9Z" fill="#14ff8c" stroke="#14ff8c"/><path d="M556.4,285.2 L567.2,283.1 L555.4,279.5 L544.5,281.6Z" fill="#14ff8c" stroke="#14ff8c"/><path d="M568.3,288.9 L579.2,286.7 L567.2,283.1 L556.4,285.2Z" fill="#14ff8d" stroke="#14ff8d"/><path d="M580.5,292.7 L591.3,290.5 L579.2,286.7 L568.3,288.9Z" fill="#14ff8d" stroke="#14ff8d"/><path d="M592.8,296.5 L603.6,294.2 L591.3,290.5 L580.5,292.7Z" fill="#14ff8e" stroke="#14ff8e"/><path d="M374.1,233.8 L385.1,232.2 L375.6,229.2 L364.5,230.8Z" fill="#14ff79" stroke="#14ff79"/><path d="M383.8,236.8 L394.8,235.2 L385.1,232.2 L374.1,233.8Z" fill="#14ff79" stroke="#14ff79"/><path d="M393.6,239.9 L404.6,238.2 L394.8,235.2 L383.8,236.8Z" fill="#14ff7a" stroke="#14ff7a"/><path d="M403.5,243 L414.5,241.3 L404.6,238.2 L393.6,239.9Z" fill="#14ff7a" stroke="#14ff7a"/><path d="M413.5,246.1 L424.6,244.4 L414.5,241.3 L403.5,243Z" fill="#14ff7b" stroke="#14ff7b"/><path d="M423.7,249.3 L434.8,247.6 L424.6,244.4 L413.5,246.1Z" fill="#14ff7c" stroke="#14ff7c"/><path d="M434.1,252.6 L445.1,250.8 L434.8,247.6 L423.7,249.3Z" fill="#14ff7c" stroke="#14ff7c"/><path d="M444.5,255.8 L455.6,254 L445.1,250.8 L434.1,252.6Z" fill="#14ff7d" stroke="#14ff7d"/><path d="M455.1,259.1 L466.2,257.3 L455.6,254 L444.5,255.8Z" fill="#14ff7d" stroke="#14ff7d"/><path d="M465.9,262.5 L476.9,260.6 L466.2,257.3 L455.1,259.1Z" fill="#14ff7e" stroke="#14ff7e"/><path d="M476.8,265.9 L487.8,264 L476.9,260.6 L465.9,262.5Z" fill="#14ff7e" stroke="#14ff7e"/><path d="M487.8,269.4 L498.8,267.4 L487.8,264 L476.8,265.9Z" fill="#14ff7f" stroke="#14ff7f"/><path d="M499,272.9 L510,270.9 L498.8,267.4 L487.8,269.4Z" fill="#14ff7f" stroke="#14ff7f"/><path d="M510.3,276.4 L521.4,274.4 L510,270.9 L499,272.9Z" fill="#14ff80" stroke="#14ff80"/><path d="M521.8,280 L532.9,277.9 L521.4,274.4 L510.3,276.4Z" fill="#14ff80" stroke="#14ff80"/><path d="M533.5,283.7 L544.5,281.6 L532.9,277.9 L521.8,280Z" fill="#14ff81" stroke="#14ff81"/><path d="M545.4,287.4 L556.4,285.2 L544.5,281.6 L533.5,283.7Z" fill="#14ff81" stroke="#14ff81"/><path d="M557.4,291.1 L568.3,288.9 L556.4,285.2 L545.4,287.4Z" fill="#14ff82" stroke="#14ff82"/><path d="M569.5,295 L580.5,292.7 L568.3,288.9 L557.4,291.1Z" fill="#14ff82" stroke="#14ff82"/><path d="M581.9,298.8 L592.8,296.5 L580.5,292.7 L569.5,295Z" fill="#14ff83" stroke="#14ff83"/><path d="M362.9,235.4 L374.1,233.8 L364.5,230.8 L353.4,232.4Z" fill="#14ff6e" stroke="#14ff6e"/><path d="M372.6,238.5 L383.8,236.8 L374.1,233.8 L362.9,235.4Z" fill="#14ff6f" stroke="#14ff6f"/><path d="M382.4,241.6 L393.6,239.9 L383.8,236.8 L372.6,238.5Z" fill="#14ff6f" stroke="#14ff6f"/><path d="M392.3,244.7 L403.5,243 L393.6,239.9 L382.4,241.6Z" fill="#14ff70" stroke="#14ff70"/><path d="M402.4,247.9 L413.5,246.1 L403.5,243 L392.3,244.7Z" fill="#14ff70" stroke="#14ff70"/><path d="M412.5,251.1 L423.7,249.3 L413.5,246.1 L402.4,247.9Z" fill="#14ff71" stroke="#14ff71"/><path d="M422.9,254.4 L434.1,252.6 L423.7,249.3 L412.5,251.1Z" fill="#14ff71" stroke="#14ff71"/><path d="M433.3,257.7 L444.5,255.8 L434.1,252.6 L422.9,254.4Z" fill="#14ff72" stroke="#14ff72"/><path d="M443.9,261 L455.1,259.1 L444.5,255.8 L433.3,257.7Z" fill="#14ff72" stroke="#14ff72"/><path d="M454.7,264.4 L465.9,262.5 L455.1,259.1 L443.9,261Z" fill="#14ff73" stroke="#14ff73"/><path d="M465.6,267.9 L476.8,265.9 L465.9,262.5 L454.7,264.4Z" fill="#14ff73" stroke="#14ff73"/><path d="M476.6,271.4 L487.8,269.4 L476.8,265.9 L465.6,267.9Z" fill="#14ff74" stroke="#14ff74"/><path d="M487.8,274.9 L499,272.9 L487.8,269.4 L476.6,271.4Z" fill="#14ff74" stroke="#14ff74"/><path d="M499.2,278.5 L510.3,276.4 L499,272.9 L487.8,274.9Z" fill="#14ff75" stroke="#14ff75"/><path d="M510.7,282.1 L521.8,280 L510.3,276.4 L499.2,278.5Z" fill="#14ff75" stroke="#14ff75"/><path d="M522.3,285.8 L533.5,283.7 L521.8,280 L510.7,282.1Z" fill="#14ff76" stroke="#14ff76"/><path d="M534.2,289.6 L545.4,287.4 L533.5,283.7 L522.3,285.8Z" fill="#14ff76" stroke="#14ff76"/><path d="M546.2,293.4 L557.4,291.1 L545.4,287.4 L534.2,289.6Z" fill="#14ff77" stroke="#14ff77"/><path d="M558.4,297.2 L569.5,295 L557.4,291.1 L546.2,293.4Z" fill="#14ff77" stroke="#14ff77"/><path d="M570.8,301.2 L581.9,298.8 L569.5,295 L558.4,297.2Z" fill="#14ff78" stroke="#14ff78"/><path d="M351.6,237 L362.9,235.4 L353.4,232.4 L342.1,234Z" fill="#14ff63" stroke="#14ff63"/><path d="M361.2,240.1 L372.6,238.5 L362.9,235.4 L351.6,237Z" fill="#14ff64" stroke="#14ff64"/><path d="M371,243.3 L382.4,241.6 L372.6,238.5 L361.2,240.1Z" fill="#14ff64" stroke="#14ff64"/><path d="M381,246.4 L392.3,244.7 L382.4,241.6 L371,243.3Z" fill="#14ff65" stroke="#14ff65"/><path d="M391,249.6 L402.4,247.9 L392.3,244.7 L381,246.4Z" fill="#14ff65" stroke="#14ff65"/><path d="M401.2,252.9 L412.5,251.1 L402.4,247.9 L391,249.6Z" fill="#14ff66" stroke="#14ff66"/><path d="M411.5,256.2 L422.9,254.4 L412.5,251.1 L401.2,252.9Z" fill="#14ff66" stroke="#14ff66"/><path d="M422,259.5 L433.3,257.7 L422.9,254.4 L411.5,256.2Z" fill="#14ff67" stroke="#14ff67"/><path d="M432.6,262.9 L443.9,261 L433.3,257.7 L422,259.5Z" fill="#14ff67" stroke="#14ff67"/><path d="M443.3,266.4 L454.7,264.4 L443.9,261 L432.6,262.9Z" fill="#14ff68" stroke="#14ff68"/><path d="M454.2,269.9 L465.6,267.9 L454.7,264.4 L443.3,266.4Z" fill="#14ff68" stroke="#14ff68"/><path d="M465.2,273.4 L476.6,271.4 L465.6,267.9 L454.2,269.9Z" fill="#14ff69" stroke="#14ff69"/><path d="M476.4,277 L487.8,274.9 L476.6,271.4 L465.2,273.4Z" fill="#14ff69" stroke="#14ff69"/><path d="M487.8,280.6 L499.2,278.5 L487.8,274.9 L476.4,277Z" fill="#14ff6a" stroke="#14ff6a"/><path d="M499.3,284.3 L510.7,282.1 L499.2,278.5 L487.8,280.6Z" fill="#14ff6a" stroke="#14ff6a"/><path d="M511,288 L522.3,285.8 L510.7,282.1 L499.3,284.3Z" fill="#14ff6b" stroke="#14ff6b"/><path d="M522.9,291.8 L534.2,289.6 L522.3,285.8 L511,288Z" fill="#14ff6b" stroke="#14ff6b"/><path d="M534.9,295.7 L546.2,293.4 L534.2,289.6 L522.9,291.8Z" fill="#14ff6c" stroke="#14ff6c"/><path d="M547.1,299.6 L558.4,297.2 L546.2,293.4 L534.9,295.7Z" fill="#14ff6c" stroke="#14ff6c"/><path d="M559.5,303.5 L570.8,301.2 L558.4,297.2 L547.1,299.6Z" fill="#14ff6d" stroke="#14ff6d"/><path d="M340.1,238.7 L351.6,237 L342.1,234 L330.6,235.6Z" fill="#14ff58" stroke="#14ff58"/><path d="M349.8,241.8 L361.2,240.1 L351.6,237 L340.1,238.7Z" fill="#14ff59" stroke="#14ff59"/><path d="M359.5,245 L371,243.3 L361.2,240.1 L349.8,241.8Z" fill="#14ff59" stroke="#14ff59"/><path d="M369.4,248.2 L381,246.4 L371,243.3 L359.5,245Z" fill="#14ff5a" stroke="#14ff5a"/><path d="M379.5,251.4 L391,249.6 L381,246.4 L369.4,248.2Z" fill="#14ff5a" stroke="#14ff5a"/><path d="M389.7,254.7 L401.2,252.9 L391,249.6 L379.5,251.4Z" fill="#14ff5b" stroke="#14ff5b"/><path d="M400,258.1 L411.5,256.2 L401.2,252.9 L389.7,254.7Z" fill="#14ff5b" stroke="#14ff5b"/><path d="M410.4,261.4 L422,259.5 L411.5,256.2 L400,258.1Z" fill="#14ff5c" stroke="#14ff5c"/><path d="M421,264.9 L432.6,262.9 L422,259.5 L410.4,261.4Z" fill="#14ff5c" stroke="#14ff5c"/><path d="M431.8,268.4 L443.3,266.4 L432.6,262.9 L421,264.9Z" fill="#14ff5d" stroke="#14ff5d"/><path d="M442.7,271.9 L454.2,269.9 L443.3,266.4 L431.8,268.4Z" fill="#14ff5d" stroke="#14ff5d"/><path d="M453.7,275.5 L465.2,273.4 L454.2,269.9 L442.7,271.9Z" fill="#14ff5e" stroke="#14ff5e"/><path d="M464.9,279.1 L476.4,277 L465.2,273.4 L453.7,275.5Z" fill="#14ff5e" stroke="#14ff5e"/><path d="M476.3,282.8 L487.8,280.6 L476.4,277 L464.9,279.1Z" fill="#14ff5e" stroke="#14ff5e"/><path d="M487.8,286.5 L499.3,284.3 L487.8,280.6 L476.3,282.8Z" fill="#14ff5f" stroke="#14ff5f"/><path d="M499.5,290.3 L511,288 L499.3,284.3 L487.8,286.5Z" fill="#14ff5f" stroke="#14ff5f"/><path d="M511.3,294.1 L522.9,291.8 L511,288 L499.5,290.3Z" fill="#14ff60" stroke="#14ff60"/><path d="M523.4,298 L534.9,295.7 L522.9,291.8 L511.3,294.1Z" fill="#14ff60" stroke="#14ff60"/><path d="M535.6,301.9 L547.1,299.6 L534.9,295.7 L523.4,298Z" fill="#14ff61" stroke="#14ff61"/><path d="M548,305.9 L559.5,303.5 L547.1,299.6 L535.6,301.9Z" fill="#14ff61" stroke="#14ff61"/><path d="M328.5,240.4 L340.1,238.7 L330.6,235.6 L319,237.3Z" fill="#14ff4d" stroke="#14ff4d"/><path d="M338.1,243.5 L349.8,241.8 L340.1,238.7 L328.5,240.4Z" fill="#14ff4e" stroke="#14ff4e"/><path d="M347.9,246.7 L359.5,245 L349.8,241.8 L338.1,243.5Z" fill="#14ff4e" stroke="#14ff4e"/><path d="M357.8,250 L369.4,248.2 L359.5,245 L347.9,246.7Z" fill="#14ff4f" stroke="#14ff4f"/><path d="M367.8,253.3 L379.5,251.4 L369.4,248.2 L357.8,250Z" fill="#14ff4f" stroke="#14ff4f"/><path d="M378,256.6 L389.7,254.7 L379.5,251.4 L367.8,253.3Z" fill="#14ff50" stroke="#14ff50"/><path d="M388.3,260 L400,258.1 L389.7,254.7 L378,256.6Z" fill="#14ff50" stroke="#14ff50"/><path d="M398.7,263.4 L410.4,261.4 L400,258.1 L388.3,260Z" fill="#14ff51" stroke="#14ff51"/><path d="M409.3,266.8 L421,264.9 L410.4,261.4 L398.7,263.4Z" fill="#14ff51" stroke="#14ff51"/><path d="M420.1,270.4 L431.8,268.4 L421,264.9 L409.3,266.8Z" fill="#14ff52" stroke="#14ff52"/><path d="M431,273.9 L442.7,271.9 L431.8,268.4 L420.1,270.4Z" fill="#14ff52" stroke="#14ff52"/><path d="M442,277.5 L453.7,275.5 L442.7,271.9 L431,273.9Z" fill="#14ff52" stroke="#14ff52"/><path d="M453.2,281.2 L464.9,279.1 L453.7,275.5 L442,277.5Z" fill="#14ff53" stroke="#14ff53"/><path d="M464.6,284.9 L476.3,282.8 L464.9,279.1 L453.2,281.2Z" fill="#14ff53" stroke="#14ff53"/><path d="M476.1,288.7 L487.8,286.5 L476.3,282.8 L464.6,284.9Z" fill="#14ff54" stroke="#14ff54"/><path d="M487.8,292.5 L499.5,290.3 L487.8,286.5 L476.1,288.7Z" fill="#14ff54" stroke="#14ff54"/><path d="M499.7,296.4 L511.3,294.1 L499.5,290.3 L487.8,292.5Z" fill="#14ff55" stroke="#14ff55"/><path d="M511.7,300.3 L523.4,298 L511.3,294.1 L499.7,296.4Z" fill="#14ff55" stroke="#14ff55"/><path d="M523.9,304.3 L535.6,301.9 L523.4,298 L511.7,300.3Z" fill="#14ff56" stroke="#14ff56"/><path d="M536.3,308.4 L548,305.9 L535.6,301.9 L523.9,304.3Z" fill="#14ff56" stroke="#14ff56"/><path d="M316.7,242.1 L328.5,240.4 L319,237.3 L307.2,238.9Z" fill="#14ff42" stroke="#14ff42"/><path d="M326.3,245.3 L338.1,243.5 L328.5,240.4 L316.7,242.1Z" fill="#14ff43" stroke="#14ff43"/><path d="M336.1,248.5 L347.9,246.7 L338.1,243.5 L326.3,245.3Z" fill="#14ff43" stroke="#14ff43"/><path d="M345.9,251.8 L357.8,250 L347.9,246.7 L336.1,248.5Z" fill="#14ff44" stroke="#14ff44"/><path d="M356,255.1 L367.8,253.3 L357.8,250 L345.9,251.8Z" fill="#14ff44" stroke="#14ff44"/><path d="M366.1,258.5 L378,256.6 L367.8,253.3 L356,255.1Z" fill="#14ff45" stroke="#14ff45"/><path d="M376.4,261.9 L388.3,260 L378,256.6 L366.1,258.5Z" fill="#14ff45" stroke="#14ff45"/><path d="M386.9,265.3 L398.7,263.4 L388.3,260 L376.4,261.9Z" fill="#14ff46" stroke="#14ff46"/><path d="M397.5,268.8 L409.3,266.8 L398.7,263.4 L386.9,265.3Z" fill="#14ff46" stroke="#14ff46"/><path d="M408.2,272.4 L420.1,270.4 L409.3,266.8 L397.5,268.8Z" fill="#14ff46" stroke="#14ff46"/><path d="M419.1,276 L431,273.9 L420.1,270.4 L408.2,272.4Z" fill="#14ff47" stroke="#14ff47"/><path d="M430.1,279.7 L442,277.5 L431,273.9 L419.1,276Z" fill="#14ff47" stroke="#14ff47"/><path d="M441.3,283.4 L453.2,281.2 L442,277.5 L430.1,279.7Z" fill="#14ff48" stroke="#14ff48"/><path d="M452.7,287.1 L464.6,284.9 L453.2,281.2 L441.3,283.4Z" fill="#14ff48" stroke="#14ff48"/><path d="M464.2,290.9 L476.1,288.7 L464.6,284.9 L452.7,287.1Z" fill="#14ff49" stroke="#14ff49"/><path d="M475.9,294.8 L487.8,292.5 L476.1,288.7 L464.2,290.9Z" fill="#14ff49" stroke="#14ff49"/><path d="M487.8,298.7 L499.7,296.4 L487.8,292.5 L475.9,294.8Z" fill="#14ff4a" stroke="#14ff4a"/><path d="M499.8,302.7 L511.7,300.3 L499.7,296.4 L487.8,298.7Z" fill="#14ff4a" stroke="#14ff4a"/><path d="M512.1,306.8 L523.9,304.3 L511.7,300.3 L499.8,302.7Z" fill="#14ff4b" stroke="#14ff4b"/><path d="M524.5,310.9 L536.3,308.4 L523.9,304.3 L512.1,306.8Z" fill="#14ff4b" stroke="#14ff4b"/><path d="M304.7,243.8 L316.7,242.1 L307.2,238.9 L295.2,240.6Z" fill="#14ff37" stroke="#14ff37"/><path d="M314.3,247 L326.3,245.3 L316.7,242.1 L304.7,243.8Z" fill="#14ff38" stroke="#14ff38"/><path d="M324.1,250.3 L336.1,248.5 L326.3,245.3 L314.3,247Z" fill="#14ff38" stroke="#14ff38"/><path d="M333.9,253.6 L345.9,251.8 L336.1,248.5 L324.1,250.3Z" fill="#14ff39" stroke="#14ff39"/><path d="M344,257 L356,255.1 L345.9,251.8 L333.9,253.6Z" fill="#14ff39" stroke="#14ff39"/><path d="M354.1,260.4 L366.1,258.5 L356,255.1 L344,257Z" fill="#14ff3a" stroke="#14ff3a"/><path d="M364.4,263.8 L376.4,261.9 L366.1,258.5 L354.1,260.4Z" fill="#14ff3a" stroke="#14ff3a"/><path d="M374.8,267.3 L386.9,265.3 L376.4,261.9 L364.4,263.8Z" fill="#14ff3b" stroke="#14ff3b"/><path d="M385.4,270.9 L397.5,268.8 L386.9,265.3 L374.8,267.3Z" fill="#14ff3b" stroke="#14ff3b"/><path d="M396.2,274.5 L408.2,272.4 L397.5,268.8 L385.4,270.9Z" fill="#14ff3b" stroke="#14ff3b"/><path d="M407,278.1 L419.1,276 L408.2,272.4 L396.2,274.5Z" fill="#14ff3c" stroke="#14ff3c"/><path d="M418.1,281.8 L430.1,279.7 L419.1,276 L407,278.1Z" fill="#14ff3c" stroke="#14ff3c"/><path d="M429.3,285.6 L441.3,283.4 L430.1,279.7 L418.1,281.8Z" fill="#14ff3d" stroke="#14ff3d"/><path d="M440.6,289.4 L452.7,287.1 L441.3,283.4 L429.3,285.6Z" fill="#14ff3d" stroke="#14ff3d"/><path d="M452.2,293.2 L464.2,290.9 L452.7,287.1 L440.6,289.4Z" fill="#14ff3e" stroke="#14ff3e"/><path d="M463.9,297.1 L475.9,294.8 L464.2,290.9 L452.2,293.2Z" fill="#14ff3e" stroke="#14ff3e"/><path d="M475.7,301.1 L487.8,298.7 L475.9,294.8 L463.9,297.1Z" fill="#14ff3f" stroke="#14ff3f"/><path d="M487.8,305.2 L499.8,302.7 L487.8,298.7 L475.7,301.1Z" fill="#14ff3f" stroke="#14ff3f"/><path d="M500,309.3 L512.1,306.8 L499.8,302.7 L487.8,305.2Z" fill="#14ff40" stroke="#14ff40"/><path d="M512.4,313.4 L524.5,310.9 L512.1,306.8 L500,309.3Z" fill="#14ff40" stroke="#14ff40"/><path d="M292.6,245.6 L304.7,243.8 L295.2,240.6 L283.1,242.4Z" fill="#14ff2c" stroke="#14ff2c"/><path d="M302.2,248.8 L314.3,247 L304.7,243.8 L292.6,245.6Z" fill="#14ff2d" stroke="#14ff2d"/><path d="M311.9,252.1 L324.1,250.3 L314.3,247 L302.2,248.8Z" fill="#14ff2d" stroke="#14ff2d"/><path d="M321.8,255.5 L333.9,253.6 L324.1,250.3 L311.9,252.1Z" fill="#14ff2e" stroke="#14ff2e"/><path d="M331.8,258.9 L344,257 L333.9,253.6 L321.8,255.5Z" fill="#14ff2e" stroke="#14ff2e"/><path d="M341.9,262.3 L354.1,260.4 L344,257 L331.8,258.9Z" fill="#14ff2f" stroke="#14ff2f"/><path d="M352.2,265.8 L364.4,263.8 L354.1,260.4 L341.9,262.3Z" fill="#14ff2f" stroke="#14ff2f"/><path d="M362.6,269.3 L374.8,267.3 L364.4,263.8 L352.2,265.8Z" fill="#14ff30" stroke="#14ff30"/><path d="M373.2,272.9 L385.4,270.9 L374.8,267.3 L362.6,269.3Z" fill="#14ff30" stroke="#14ff30"/><path d="M383.9,276.6 L396.2,274.5 L385.4,270.9 L373.2,272.9Z" fill="#14ff30" stroke="#14ff30"/><path d="M394.8,280.2 L407,278.1 L396.2,274.5 L383.9,276.6Z" fill="#14ff31" stroke="#14ff31"/><path d="M405.9,284 L418.1,281.8 L407,278.1 L394.8,280.2Z" fill="#14ff31" stroke="#14ff31"/><path d="M417,287.8 L429.3,285.6 L418.1,281.8 L405.9,284Z" fill="#14ff32" stroke="#14ff32"/><path d="M428.4,291.6 L440.6,289.4 L429.3,285.6 L417,287.8Z" fill="#14ff32" stroke="#14ff32"/><path d="M439.9,295.5 L452.2,293.2 L440.6,289.4 L428.4,291.6Z" fill="#14ff33" stroke="#14ff33"/><path d="M451.6,299.5 L463.9,297.1 L452.2,293.2 L439.9,295.5Z" fill="#14ff33" stroke="#14ff33"/><path d="M463.5,303.5 L475.7,301.1 L463.9,297.1 L451.6,299.5Z" fill="#14ff34" stroke="#14ff34"/><path d="M475.6,307.6 L487.8,305.2 L475.7,301.1 L463.5,303.5Z" fill="#14ff34" stroke="#14ff34"/><path d="M487.8,311.8 L500,309.3 L487.8,305.2 L475.6,307.6Z" fill="#14ff35" stroke="#14ff35"/><path d="M500.2,316 L512.4,313.4 L500,309.3 L487.8,311.8Z" fill="#14ff35" stroke="#14ff35"/><path d="M280.3,247.3 L292.6,245.6 L283.1,242.4 L270.8,244.1Z" fill="#14ff21" stroke="#14ff21"/><path d="M289.9,250.6 L302.2,248.8 L292.6,245.6 L280.3,247.3Z" fill="#14ff22" stroke="#14ff22"/><path d="M299.6,254 L311.9,252.1 L302.2,248.8 L289.9,250.6Z" fill="#14ff22" stroke="#14ff22"/><path d="M309.4,257.4 L321.8,255.5 L311.9,252.1 L299.6,254Z" fill="#14ff23" stroke="#14ff23"/><path d="M319.4,260.8 L331.8,258.9 L321.8,255.5 L309.4,257.4Z" fill="#14ff23" stroke="#14ff23"/><path d="M329.6,264.3 L341.9,262.3 L331.8,258.9 L319.4,260.8Z" fill="#14ff24" stroke="#14ff24"/><path d="M339.8,267.8 L352.2,265.8 L341.9,262.3 L329.6,264.3Z" fill="#14ff24" stroke="#14ff24"/><path d="M350.2,271.4 L362.6,269.3 L352.2,265.8 L339.8,267.8Z" fill="#14ff25" stroke="#14ff25"/><path d="M360.8,275 L373.2,272.9 L362.6,269.3 L350.2,271.4Z" fill="#14ff25" stroke="#14ff25"/><path d="M371.5,278.7 L383.9,276.6 L373.2,272.9 L360.8,275Z" fill="#14ff25" stroke="#14ff25"/><path d="M382.4,282.4 L394.8,280.2 L383.9,276.6 L371.5,278.7Z" fill="#14ff26" stroke="#14ff26"/><path d="M393.4,286.2 L405.9,284 L394.8,280.2 L382.4,282.4Z" fill="#14ff26" stroke="#14ff26"/><path d="M404.6,290 L417,287.8 L405.9,284 L393.4,286.2Z" fill="#14ff27" stroke="#14ff27"/><path d="M416,293.9 L428.4,291.6 L417,287.8 L404.6,290Z" fill="#14ff27" stroke="#14ff27"/><path d="M427.5,297.9 L439.9,295.5 L428.4,291.6 L416,293.9Z" fill="#14ff28" stroke="#14ff28"/><path d="M439.2,301.9 L451.6,299.5 L439.9,295.5 L427.5,297.9Z" fill="#14ff28" stroke="#14ff28"/><path d="M451.1,306 L463.5,303.5 L451.6,299.5 L439.2,301.9Z" fill="#14ff29" stroke="#14ff29"/><path d="M463.1,310.1 L475.6,307.6 L463.5,303.5 L451.1,306Z" fill="#14ff29" stroke="#14ff29"/><path d="M475.4,314.3 L487.8,311.8 L475.6,307.6 L463.1,310.1Z" fill="#14ff29" stroke="#14ff29"/><path d="M487.8,318.6 L500.2,316 L487.8,311.8 L475.4,314.3Z" fill="#14ff2a" stroke="#14ff2a"/></g>
<path d="M487.8,318.6 L270.8,244.1 M487.8,318.6 L703.3,273.3 M500.2,316 L283.1,242.4 M475.4,314.3 L691.2,269.9 M512.4,313.4 L295.2,240.6 M463.1,310.1 L679.2,266.6 M524.5,310.9 L307.2,238.9 M451.1,306 L667.4,263.3 M536.3,308.4 L319,237.3 M439.2,301.9 L655.7,260.1 M548,305.9 L330.6,235.6 M427.5,297.9 L644.2,256.9 M559.5,303.5 L342.1,234 M416,293.9 L632.9,253.7 M570.8,301.2 L353.4,232.4 M404.6,290 L621.7,250.6 M581.9,298.8 L364.5,230.8 M393.4,286.2 L610.6,247.5 M592.8,296.5 L375.6,229.2 M382.4,282.4 L599.6,244.4 M603.6,294.2 L386.4,227.7 M371.5,278.7 L588.8,241.4 M614.3,292 L397.2,226.2 M360.8,275 L578.2,238.5 M624.8,289.8 L407.8,224.7 M350.2,271.4 L567.6,235.5 M635.1,287.6 L418.2,223.2 M339.8,267.8 L557.2,232.6 M645.2,285.5 L428.5,221.7 M329.6,264.3 L547,229.8 M655.3,283.4 L438.7,220.3 M319.4,260.8 L536.8,226.9 M665.2,281.3 L448.8,218.8 M309.4,257.4 L526.8,224.1 M674.9,279.3 L458.7,217.4 M299.6,254 L516.8,221.4 M684.5,277.3 L468.5,216 M289.9,250.6 L507,218.7 M694,275.3 L478.2,214.7 M280.3,247.3 L497.4,216 M703.3,273.3 L487.8,213.3 M270.8,244.1 L487.8,213.3" fill="none" stroke="#000" stroke-opacity="0.82" stroke-width="1.0"/>
<ellipse cx="271.5" cy="275" rx="4.8" ry="4.8" fill="#ffc6c6" stroke="#3c2020" stroke-width="0.9"/>
<ellipse cx="487.8" cy="207.2" rx="4.8" ry="4.8" fill="#b40000" stroke="#3c0000" stroke-width="0.9"/>
<ellipse cx="703.6" cy="296" rx="4.8" ry="4.8" fill="#ffc6c6" stroke="#3c2020" stroke-width="0.9"/>
<path d="M487.8,318.6 L487.8,340.2" stroke="#111" stroke-opacity="1" stroke-width="1.6"/>
<ellipse cx="487.8" cy="340.2" rx="4.8" ry="4.8" fill="#ffc6c6" stroke="#3c2020" stroke-width="0.9"/>
</g>
<g>
<text x="732.7" y="76.5" font-size="10.66" fill="#222" textLength="119.8" lengthAdjust="spacingAndGlyphs">Factor Coding: Actual</text>
<text x="732.7" y="110.5" font-size="10.66" fill="#111" font-weight="bold" textLength="119.6" lengthAdjust="spacingAndGlyphs">Solubility (mcg/mL)</text>
<text x="732.7" y="127.5" font-size="10.66" fill="#222" textLength="79.4" lengthAdjust="spacingAndGlyphs">Design Points:</text>
<ellipse cx="745.6" cy="140.7" rx="6.8" ry="5.9" fill="#b40000" stroke="#4a0000" stroke-width="0.8"/>
<text x="760.5" y="144.5" font-size="10.66" fill="#b01c1c" textLength="80.5" lengthAdjust="spacingAndGlyphs">Above Surface</text>
<ellipse cx="745.6" cy="157.7" rx="6.8" ry="5.9" fill="#ffc6c6" stroke="#4a3030" stroke-width="0.8"/>
<text x="760.5" y="161.4" font-size="10.66" fill="#b01c1c" textLength="79.1" lengthAdjust="spacingAndGlyphs">Below Surface</text>
<text x="732.7" y="178.4" font-size="10.66" fill="#2323c8" textLength="35.7" lengthAdjust="spacingAndGlyphs">240.31</text>
<rect x="781" y="167.5" width="46.8" height="14.8" fill="url(#cbar)" stroke="#222" stroke-width="0.7"/>
<text x="833.5" y="178.4" font-size="10.66" fill="#c81e1e" textLength="43.6" lengthAdjust="spacingAndGlyphs">360.465</text>
<text x="732.7" y="212.4" font-size="10.66" fill="#222" textLength="37.4" lengthAdjust="spacingAndGlyphs">X1 = A</text>
<text x="732.7" y="229.4" font-size="10.66" fill="#222" textLength="36.4" lengthAdjust="spacingAndGlyphs">X2 = B</text>
<text x="732.7" y="263.4" font-size="10.66" fill="#111" font-weight="bold" textLength="78.8" lengthAdjust="spacingAndGlyphs">Actual Factor</text>
<text x="732.7" y="280.4" font-size="10.66" fill="#222" textLength="39.6" lengthAdjust="spacingAndGlyphs">C = 0.9</text>
<path d="M944.8,202.9 L956.2,398.2 M992.9,193.9 L1002.1,385.5 M1041.1,184.9 L1047.9,372.8 M1089.2,175.9 L1093.8,360.1 M1137.4,166.9 L1139.6,347.4 M1185.5,157.9 L1185.5,334.7 M944.8,202.9 L1185.5,157.9 M947.7,251.7 L1185.5,202.1 M950.5,300.5 L1185.5,246.3 M953.4,349.4 L1185.5,290.5 M956.2,398.2 L1185.5,334.7 M1185.5,157.9 L1185.5,334.7 M1233.7,166.9 L1231.4,347.4 M1281.9,175.9 L1277.3,360.1 M1330.2,184.9 L1323.2,372.8 M1378.4,193.9 L1369.1,385.5 M1426.6,202.9 L1415,398.2 M1185.5,157.9 L1426.6,202.9 M1185.5,202.1 L1423.7,251.7 M1185.5,246.3 L1420.8,300.5 M1185.5,290.5 L1417.9,349.4 M1185.5,334.7 L1415,398.2 M944.8,202.9 L959.8,459.5 M1185.5,157.9 L1185.5,390.2 M1426.6,202.9 L1411.4,459.5" fill="none" stroke="#161616" stroke-width="1.15"/>
<clipPath id="fc1"><polygon points="959.8,459.5 1185.5,390.2 1411.4,459.5 1185.5,548.9"/></clipPath>
<polygon points="959.8,459.5 1185.5,390.2 1411.4,459.5 1185.5,548.9" fill="#676767" stroke="#000" stroke-width="1.1" stroke-linejoin="round"/>
<g clip-path="url(#fc1)" fill="none"><path d="M1008.1,478.1 L1091.7,419.3" stroke="#a0e632" stroke-width="2"/><path d="M1059.6,498.7 L1178.4,407.2" stroke="#46dc28" stroke-width="2"/><path d="M1115,519.8 L1246.1,409" stroke="#28dc78" stroke-width="2"/><path d="M1172.1,543 L1297.9,424.7" stroke="#32d2e6" stroke-width="2"/><path d="M1290.8,507.3 L1352.4,442.4" stroke="#2878dc" stroke-width="3"/></g>
<polygon points="959.8,459.5 1185.5,390.2 1411.4,459.5 1185.5,548.9" fill="none" stroke="#000" stroke-width="1.2" stroke-linejoin="round"/>
<g fill="#000"><circle cx="944.8" cy="202.9" r="2.1"/><circle cx="947.7" cy="251.7" r="2.1"/><circle cx="950.5" cy="300.5" r="2.1"/><circle cx="953.4" cy="349.4" r="2.1"/><circle cx="956.2" cy="398.2" r="2.1"/><circle cx="959.8" cy="459.5" r="2.1"/><circle cx="1004.9" cy="477.4" r="2.1"/><circle cx="1050.1" cy="495.3" r="2.1"/><circle cx="1095.2" cy="513.1" r="2.1"/><circle cx="1140.4" cy="531" r="2.1"/><circle cx="1185.5" cy="548.9" r="2.1"/><circle cx="1185.5" cy="548.9" r="2.1"/><circle cx="1230.7" cy="531" r="2.1"/><circle cx="1275.9" cy="513.1" r="2.1"/><circle cx="1321" cy="495.3" r="2.1"/><circle cx="1366.2" cy="477.4" r="2.1"/><circle cx="1411.4" cy="459.5" r="2.1"/><circle cx="1411.4" cy="459.5" r="2.1"/></g>
<g><text x="937.2" y="199.7" font-size="9.68" fill="#222" text-anchor="end" textLength="18.5" lengthAdjust="spacingAndGlyphs">400</text><text x="940.1" y="248.5" font-size="9.68" fill="#222" text-anchor="end" textLength="18.5" lengthAdjust="spacingAndGlyphs">350</text><text x="942.9" y="297.3" font-size="9.68" fill="#222" text-anchor="end" textLength="18.5" lengthAdjust="spacingAndGlyphs">300</text><text x="945.8" y="346.1" font-size="9.68" fill="#222" text-anchor="end" textLength="18.5" lengthAdjust="spacingAndGlyphs">250</text><text x="948.6" y="395" font-size="9.68" fill="#222" text-anchor="end" textLength="18.5" lengthAdjust="spacingAndGlyphs">200</text><text x="953" y="469.3" font-size="9.68" fill="#222" text-anchor="end" textLength="18.5" lengthAdjust="spacingAndGlyphs">115</text><text x="998.1" y="487.2" font-size="9.68" fill="#222" text-anchor="end" textLength="18.5" lengthAdjust="spacingAndGlyphs">109</text><text x="1043.3" y="505" font-size="9.68" fill="#222" text-anchor="end" textLength="18.5" lengthAdjust="spacingAndGlyphs">103</text><text x="1088.4" y="522.9" font-size="9.68" fill="#222" text-anchor="end" textLength="12.3" lengthAdjust="spacingAndGlyphs">97</text><text x="1133.5" y="540.8" font-size="9.68" fill="#222" text-anchor="end" textLength="12.3" lengthAdjust="spacingAndGlyphs">91</text><text x="1178.7" y="558.7" font-size="9.68" fill="#222" text-anchor="end" textLength="12.3" lengthAdjust="spacingAndGlyphs">85</text><text x="1193.1" y="558.7" font-size="9.68" fill="#222" textLength="12.3" lengthAdjust="spacingAndGlyphs">20</text><text x="1238.3" y="540.8" font-size="9.68" fill="#222" textLength="12.3" lengthAdjust="spacingAndGlyphs">26</text><text x="1283.4" y="522.9" font-size="9.68" fill="#222" textLength="12.3" lengthAdjust="spacingAndGlyphs">32</text><text x="1328.6" y="505" font-size="9.68" fill="#222" textLength="12.3" lengthAdjust="spacingAndGlyphs">38</text><text x="1373.8" y="487.2" font-size="9.68" fill="#222" textLength="12.3" lengthAdjust="spacingAndGlyphs">44</text><text x="1419" y="469.3" font-size="9.68" fill="#222" textLength="12.3" lengthAdjust="spacingAndGlyphs">50</text></g>
<text x="930.9" y="541.2" font-size="10.66" fill="#222" textLength="110" lengthAdjust="spacingAndGlyphs">B: Temperature (C)</text>
<text x="1336.4" y="541.2" font-size="10.66" fill="#222" textLength="98" lengthAdjust="spacingAndGlyphs">A: Ibuprofen (%)</text>
<text x="0" y="0" font-size="11.80" fill="#222" textLength="95.6" lengthAdjust="spacingAndGlyphs" transform="translate(873.9,383) rotate(-90)">Solubility (mcg/mL)</text>
<text x="1173" y="87.9" font-size="18.00" fill="#111" textLength="104.5" lengthAdjust="spacingAndGlyphs">3D Surface</text>
<g stroke-width="0.6" stroke-linejoin="round"><path d="M1185.5,248.8 L1196,247.6 L1185.5,242.2 L1175,243.4Z" fill="#2eff14" stroke="#2eff14"/><path d="M1196.1,254.3 L1206.6,253 L1196,247.6 L1185.5,248.8Z" fill="#14ff15" stroke="#14ff15"/><path d="M1206.8,259.8 L1217.3,258.5 L1206.6,253 L1196.1,254.3Z" fill="#14ff2f" stroke="#14ff2f"/><path d="M1217.6,265.4 L1228.1,264 L1217.3,258.5 L1206.8,259.8Z" fill="#14ff49" stroke="#14ff49"/><path d="M1228.6,271 L1239,269.6 L1228.1,264 L1217.6,265.4Z" fill="#14ff63" stroke="#14ff63"/><path d="M1239.6,276.7 L1250,275.3 L1239,269.6 L1228.6,271Z" fill="#14ff7d" stroke="#14ff7d"/><path d="M1250.8,282.5 L1261.2,281 L1250,275.3 L1239.6,276.7Z" fill="#14ff97" stroke="#14ff97"/><path d="M1262,288.3 L1272.4,286.8 L1261.2,281 L1250.8,282.5Z" fill="#14ffb1" stroke="#14ffb1"/><path d="M1273.4,294.2 L1283.8,292.6 L1272.4,286.8 L1262,288.3Z" fill="#14ffcb" stroke="#14ffcb"/><path d="M1284.9,300.1 L1295.3,298.5 L1283.8,292.6 L1273.4,294.2Z" fill="#14ffe5" stroke="#14ffe5"/><path d="M1296.6,306.1 L1306.9,304.4 L1295.3,298.5 L1284.9,300.1Z" fill="#14ffff" stroke="#14ffff"/><path d="M1308.3,312.2 L1318.7,310.5 L1306.9,304.4 L1296.6,306.1Z" fill="#14e5ff" stroke="#14e5ff"/><path d="M1320.2,318.3 L1330.5,316.5 L1318.7,310.5 L1308.3,312.2Z" fill="#14cbff" stroke="#14cbff"/><path d="M1332.2,324.5 L1342.5,322.7 L1330.5,316.5 L1320.2,318.3Z" fill="#14b1ff" stroke="#14b1ff"/><path d="M1344.4,330.8 L1354.7,328.9 L1342.5,322.7 L1332.2,324.5Z" fill="#1497ff" stroke="#1497ff"/><path d="M1356.7,337.1 L1366.9,335.2 L1354.7,328.9 L1344.4,330.8Z" fill="#147dff" stroke="#147dff"/><path d="M1369.1,343.5 L1379.3,341.5 L1366.9,335.2 L1356.7,337.1Z" fill="#1463ff" stroke="#1463ff"/><path d="M1381.6,350 L1391.8,347.9 L1379.3,341.5 L1369.1,343.5Z" fill="#1449ff" stroke="#1449ff"/><path d="M1394.3,356.5 L1404.5,354.4 L1391.8,347.9 L1381.6,350Z" fill="#142fff" stroke="#142fff"/><path d="M1407.1,363.1 L1417.3,361 L1404.5,354.4 L1394.3,356.5Z" fill="#1415ff" stroke="#1415ff"/><path d="M1174.9,250.1 L1185.5,248.8 L1175,243.4 L1164.4,244.7Z" fill="#38ff14" stroke="#38ff14"/><path d="M1185.5,255.6 L1196.1,254.3 L1185.5,248.8 L1174.9,250.1Z" fill="#1eff14" stroke="#1eff14"/><path d="M1196.2,261.2 L1206.8,259.8 L1196.1,254.3 L1185.5,255.6Z" fill="#14ff24" stroke="#14ff24"/><path d="M1207,266.8 L1217.6,265.4 L1206.8,259.8 L1196.2,261.2Z" fill="#14ff3e" stroke="#14ff3e"/><path d="M1218,272.5 L1228.6,271 L1217.6,265.4 L1207,266.8Z" fill="#14ff58" stroke="#14ff58"/><path d="M1229,278.2 L1239.6,276.7 L1228.6,271 L1218,272.5Z" fill="#14ff72" stroke="#14ff72"/><path d="M1240.2,284 L1250.8,282.5 L1239.6,276.7 L1229,278.2Z" fill="#14ff8c" stroke="#14ff8c"/><path d="M1251.5,289.9 L1262,288.3 L1250.8,282.5 L1240.2,284Z" fill="#14ffa6" stroke="#14ffa6"/><path d="M1262.9,295.8 L1273.4,294.2 L1262,288.3 L1251.5,289.9Z" fill="#14ffc0" stroke="#14ffc0"/><path d="M1274.4,301.8 L1284.9,300.1 L1273.4,294.2 L1262.9,295.8Z" fill="#14ffda" stroke="#14ffda"/><path d="M1286.1,307.8 L1296.6,306.1 L1284.9,300.1 L1274.4,301.8Z" fill="#14fff4" stroke="#14fff4"/><path d="M1297.9,313.9 L1308.3,312.2 L1296.6,306.1 L1286.1,307.8Z" fill="#14f0ff" stroke="#14f0ff"/><path d="M1309.8,320.1 L1320.2,318.3 L1308.3,312.2 L1297.9,313.9Z" fill="#14d6ff" stroke="#14d6ff"/><path d="M1321.8,326.4 L1332.2,324.5 L1320.2,318.3 L1309.8,320.1Z" fill="#14bcff" stroke="#14bcff"/><path d="M1334,332.7 L1344.4,330.8 L1332.2,324.5 L1321.8,326.4Z" fill="#14a2ff" stroke="#14a2ff"/><path d="M1346.3,339.1 L1356.7,337.1 L1344.4,330.8 L1334,332.7Z" fill="#1488ff" stroke="#1488ff"/><path d="M1358.7,345.5 L1369.1,343.5 L1356.7,337.1 L1346.3,339.1Z" fill="#146eff" stroke="#146eff"/><path d="M1371.3,352 L1381.6,350 L1369.1,343.5 L1358.7,345.5Z" fill="#1454ff" stroke="#1454ff"/><path d="M1384,358.6 L1394.3,356.5 L1381.6,350 L1371.3,352Z" fill="#143aff" stroke="#143aff"/><path d="M1396.9,365.3 L1407.1,363.1 L1394.3,356.5 L1384,358.6Z" fill="#1420ff" stroke="#1420ff"/><path d="M1164.2,251.4 L1174.9,250.1 L1164.4,244.7 L1153.6,245.9Z" fill="#43ff14" stroke="#43ff14"/><path d="M1174.8,257 L1185.5,255.6 L1174.9,250.1 L1164.2,251.4Z" fill="#29ff14" stroke="#29ff14"/><path d="M1185.5,262.6 L1196.2,261.2 L1185.5,255.6 L1174.8,257Z" fill="#14ff1a" stroke="#14ff1a"/><path d="M1196.3,268.2 L1207,266.8 L1196.2,261.2 L1185.5,262.6Z" fill="#14ff34" stroke="#14ff34"/><path d="M1207.3,274 L1218,272.5 L1207,266.8 L1196.3,268.2Z" fill="#14ff4e" stroke="#14ff4e"/><path d="M1218.4,279.7 L1229,278.2 L1218,272.5 L1207.3,274Z" fill="#14ff68" stroke="#14ff68"/><path d="M1229.5,285.6 L1240.2,284 L1229,278.2 L1218.4,279.7Z" fill="#14ff82" stroke="#14ff82"/><path d="M1240.8,291.5 L1251.5,289.9 L1240.2,284 L1229.5,285.6Z" fill="#14ff9c" stroke="#14ff9c"/><path d="M1252.3,297.4 L1262.9,295.8 L1251.5,289.9 L1240.8,291.5Z" fill="#14ffb6" stroke="#14ffb6"/><path d="M1263.8,303.5 L1274.4,301.8 L1262.9,295.8 L1252.3,297.4Z" fill="#14ffd0" stroke="#14ffd0"/><path d="M1275.5,309.6 L1286.1,307.8 L1274.4,301.8 L1263.8,303.5Z" fill="#14ffea" stroke="#14ffea"/><path d="M1287.3,315.7 L1297.9,313.9 L1286.1,307.8 L1275.5,309.6Z" fill="#14faff" stroke="#14faff"/><path d="M1299.2,322 L1309.8,320.1 L1297.9,313.9 L1287.3,315.7Z" fill="#14e0ff" stroke="#14e0ff"/><path d="M1311.3,328.2 L1321.8,326.4 L1309.8,320.1 L1299.2,322Z" fill="#14c6ff" stroke="#14c6ff"/><path d="M1323.4,334.6 L1334,332.7 L1321.8,326.4 L1311.3,328.2Z" fill="#14acff" stroke="#14acff"/><path d="M1335.8,341 L1346.3,339.1 L1334,332.7 L1323.4,334.6Z" fill="#1492ff" stroke="#1492ff"/><path d="M1348.2,347.6 L1358.7,345.5 L1346.3,339.1 L1335.8,341Z" fill="#1478ff" stroke="#1478ff"/><path d="M1360.8,354.1 L1371.3,352 L1358.7,345.5 L1348.2,347.6Z" fill="#145eff" stroke="#145eff"/><path d="M1373.6,360.8 L1384,358.6 L1371.3,352 L1360.8,354.1Z" fill="#1444ff" stroke="#1444ff"/><path d="M1386.4,367.5 L1396.9,365.3 L1384,358.6 L1373.6,360.8Z" fill="#142aff" stroke="#142aff"/><path d="M1153.3,252.7 L1164.2,251.4 L1153.6,245.9 L1142.8,247.2Z" fill="#4dff14" stroke="#4dff14"/><path d="M1163.9,258.3 L1174.8,257 L1164.2,251.4 L1153.3,252.7Z" fill="#33ff14" stroke="#33ff14"/><path d="M1174.7,264 L1185.5,262.6 L1174.8,257 L1163.9,258.3Z" fill="#19ff14" stroke="#19ff14"/><path d="M1185.5,269.7 L1196.3,268.2 L1185.5,262.6 L1174.7,264Z" fill="#14ff2a" stroke="#14ff2a"/><path d="M1196.5,275.4 L1207.3,274 L1196.3,268.2 L1185.5,269.7Z" fill="#14ff44" stroke="#14ff44"/><path d="M1207.5,281.3 L1218.4,279.7 L1207.3,274 L1196.5,275.4Z" fill="#14ff5e" stroke="#14ff5e"/><path d="M1218.7,287.1 L1229.5,285.6 L1218.4,279.7 L1207.5,281.3Z" fill="#14ff78" stroke="#14ff78"/><path d="M1230.1,293.1 L1240.8,291.5 L1229.5,285.6 L1218.7,287.1Z" fill="#14ff92" stroke="#14ff92"/><path d="M1241.5,299.1 L1252.3,297.4 L1240.8,291.5 L1230.1,293.1Z" fill="#14ffac" stroke="#14ffac"/><path d="M1253,305.2 L1263.8,303.5 L1252.3,297.4 L1241.5,299.1Z" fill="#14ffc6" stroke="#14ffc6"/><path d="M1264.7,311.3 L1275.5,309.6 L1263.8,303.5 L1253,305.2Z" fill="#14ffe0" stroke="#14ffe0"/><path d="M1276.5,317.5 L1287.3,315.7 L1275.5,309.6 L1264.7,311.3Z" fill="#14fffa" stroke="#14fffa"/><path d="M1288.5,323.8 L1299.2,322 L1287.3,315.7 L1276.5,317.5Z" fill="#14eaff" stroke="#14eaff"/><path d="M1300.6,330.1 L1311.3,328.2 L1299.2,322 L1288.5,323.8Z" fill="#14d0ff" stroke="#14d0ff"/><path d="M1312.8,336.6 L1323.4,334.6 L1311.3,328.2 L1300.6,330.1Z" fill="#14b6ff" stroke="#14b6ff"/><path d="M1325.1,343.1 L1335.8,341 L1323.4,334.6 L1312.8,336.6Z" fill="#149cff" stroke="#149cff"/><path d="M1337.6,349.6 L1348.2,347.6 L1335.8,341 L1325.1,343.1Z" fill="#1482ff" stroke="#1482ff"/><path d="M1350.2,356.2 L1360.8,354.1 L1348.2,347.6 L1337.6,349.6Z" fill="#1468ff" stroke="#1468ff"/><path d="M1363,363 L1373.6,360.8 L1360.8,354.1 L1350.2,356.2Z" fill="#144eff" stroke="#144eff"/><path d="M1375.9,369.7 L1386.4,367.5 L1373.6,360.8 L1363,363Z" fill="#1434ff" stroke="#1434ff"/><path d="M1142.3,254.1 L1153.3,252.7 L1142.8,247.2 L1131.8,248.5Z" fill="#58ff14" stroke="#58ff14"/><path d="M1152.9,259.7 L1163.9,258.3 L1153.3,252.7 L1142.3,254.1Z" fill="#3eff14" stroke="#3eff14"/><path d="M1163.7,265.4 L1174.7,264 L1163.9,258.3 L1152.9,259.7Z" fill="#24ff14" stroke="#24ff14"/><path d="M1174.5,271.1 L1185.5,269.7 L1174.7,264 L1163.7,265.4Z" fill="#14ff1f" stroke="#14ff1f"/><path d="M1185.5,276.9 L1196.5,275.4 L1185.5,269.7 L1174.5,271.1Z" fill="#14ff39" stroke="#14ff39"/><path d="M1196.6,282.8 L1207.5,281.3 L1196.5,275.4 L1185.5,276.9Z" fill="#14ff53" stroke="#14ff53"/><path d="M1207.8,288.7 L1218.7,287.1 L1207.5,281.3 L1196.6,282.8Z" fill="#14ff6d" stroke="#14ff6d"/><path d="M1219.1,294.7 L1230.1,293.1 L1218.7,287.1 L1207.8,288.7Z" fill="#14ff87" stroke="#14ff87"/><path d="M1230.6,300.8 L1241.5,299.1 L1230.1,293.1 L1219.1,294.7Z" fill="#14ffa1" stroke="#14ffa1"/><path d="M1242.1,306.9 L1253,305.2 L1241.5,299.1 L1230.6,300.8Z" fill="#14ffbb" stroke="#14ffbb"/><path d="M1253.8,313.1 L1264.7,311.3 L1253,305.2 L1242.1,306.9Z" fill="#14ffd5" stroke="#14ffd5"/><path d="M1265.7,319.4 L1276.5,317.5 L1264.7,311.3 L1253.8,313.1Z" fill="#14ffef" stroke="#14ffef"/><path d="M1277.6,325.7 L1288.5,323.8 L1276.5,317.5 L1265.7,319.4Z" fill="#14f5ff" stroke="#14f5ff"/><path d="M1289.7,332.1 L1300.6,330.1 L1288.5,323.8 L1277.6,325.7Z" fill="#14dbff" stroke="#14dbff"/><path d="M1301.9,338.5 L1312.8,336.6 L1300.6,330.1 L1289.7,332.1Z" fill="#14c1ff" stroke="#14c1ff"/><path d="M1314.3,345.1 L1325.1,343.1 L1312.8,336.6 L1301.9,338.5Z" fill="#14a7ff" stroke="#14a7ff"/><path d="M1326.8,351.7 L1337.6,349.6 L1325.1,343.1 L1314.3,345.1Z" fill="#148dff" stroke="#148dff"/><path d="M1339.4,358.4 L1350.2,356.2 L1337.6,349.6 L1326.8,351.7Z" fill="#1473ff" stroke="#1473ff"/><path d="M1352.2,365.2 L1363,363 L1350.2,356.2 L1339.4,358.4Z" fill="#1459ff" stroke="#1459ff"/><path d="M1365.2,372 L1375.9,369.7 L1363,363 L1352.2,365.2Z" fill="#143fff" stroke="#143fff"/><path d="M1131.2,255.4 L1142.3,254.1 L1131.8,248.5 L1120.6,249.8Z" fill="#62ff14" stroke="#62ff14"/><path d="M1141.8,261.1 L1152.9,259.7 L1142.3,254.1 L1131.2,255.4Z" fill="#48ff14" stroke="#48ff14"/><path d="M1152.6,266.8 L1163.7,265.4 L1152.9,259.7 L1141.8,261.1Z" fill="#2eff14" stroke="#2eff14"/><path d="M1163.4,272.6 L1174.5,271.1 L1163.7,265.4 L1152.6,266.8Z" fill="#14ff15" stroke="#14ff15"/><path d="M1174.4,278.4 L1185.5,276.9 L1174.5,271.1 L1163.4,272.6Z" fill="#14ff2f" stroke="#14ff2f"/><path d="M1185.5,284.4 L1196.6,282.8 L1185.5,276.9 L1174.4,278.4Z" fill="#14ff49" stroke="#14ff49"/><path d="M1196.7,290.3 L1207.8,288.7 L1196.6,282.8 L1185.5,284.4Z" fill="#14ff63" stroke="#14ff63"/><path d="M1208.1,296.4 L1219.1,294.7 L1207.8,288.7 L1196.7,290.3Z" fill="#14ff7d" stroke="#14ff7d"/><path d="M1219.5,302.5 L1230.6,300.8 L1219.1,294.7 L1208.1,296.4Z" fill="#14ff97" stroke="#14ff97"/><path d="M1231.1,308.7 L1242.1,306.9 L1230.6,300.8 L1219.5,302.5Z" fill="#14ffb1" stroke="#14ffb1"/><path d="M1242.8,314.9 L1253.8,313.1 L1242.1,306.9 L1231.1,308.7Z" fill="#14ffcb" stroke="#14ffcb"/><path d="M1254.7,321.2 L1265.7,319.4 L1253.8,313.1 L1242.8,314.9Z" fill="#14ffe5" stroke="#14ffe5"/><path d="M1266.6,327.6 L1277.6,325.7 L1265.7,319.4 L1254.7,321.2Z" fill="#14ffff" stroke="#14ffff"/><path d="M1278.7,334 L1289.7,332.1 L1277.6,325.7 L1266.6,327.6Z" fill="#14e5ff" stroke="#14e5ff"/><path d="M1291,340.6 L1301.9,338.5 L1289.7,332.1 L1278.7,334Z" fill="#14cbff" stroke="#14cbff"/><path d="M1303.4,347.1 L1314.3,345.1 L1301.9,338.5 L1291,340.6Z" fill="#14b1ff" stroke="#14b1ff"/><path d="M1315.9,353.8 L1326.8,351.7 L1314.3,345.1 L1303.4,347.1Z" fill="#1497ff" stroke="#1497ff"/><path d="M1328.6,360.6 L1339.4,358.4 L1326.8,351.7 L1315.9,353.8Z" fill="#147dff" stroke="#147dff"/><path d="M1341.4,367.4 L1352.2,365.2 L1339.4,358.4 L1328.6,360.6Z" fill="#1463ff" stroke="#1463ff"/><path d="M1354.3,374.3 L1365.2,372 L1352.2,365.2 L1341.4,367.4Z" fill="#1449ff" stroke="#1449ff"/><path d="M1119.9,256.8 L1131.2,255.4 L1120.6,249.8 L1109.4,251.1Z" fill="#6cff14" stroke="#6cff14"/><path d="M1130.5,262.5 L1141.8,261.1 L1131.2,255.4 L1119.9,256.8Z" fill="#52ff14" stroke="#52ff14"/><path d="M1141.3,268.3 L1152.6,266.8 L1141.8,261.1 L1130.5,262.5Z" fill="#38ff14" stroke="#38ff14"/><path d="M1152.2,274.1 L1163.4,272.6 L1152.6,266.8 L1141.3,268.3Z" fill="#1eff14" stroke="#1eff14"/><path d="M1163.2,280 L1174.4,278.4 L1163.4,272.6 L1152.2,274.1Z" fill="#14ff24" stroke="#14ff24"/><path d="M1174.3,285.9 L1185.5,284.4 L1174.4,278.4 L1163.2,280Z" fill="#14ff3e" stroke="#14ff3e"/><path d="M1185.5,292 L1196.7,290.3 L1185.5,284.4 L1174.3,285.9Z" fill="#14ff58" stroke="#14ff58"/><path d="M1196.8,298.1 L1208.1,296.4 L1196.7,290.3 L1185.5,292Z" fill="#14ff72" stroke="#14ff72"/><path d="M1208.3,304.2 L1219.5,302.5 L1208.1,296.4 L1196.8,298.1Z" fill="#14ff8c" stroke="#14ff8c"/><path d="M1219.9,310.4 L1231.1,308.7 L1219.5,302.5 L1208.3,304.2Z" fill="#14ffa6" stroke="#14ffa6"/><path d="M1231.6,316.7 L1242.8,314.9 L1231.1,308.7 L1219.9,310.4Z" fill="#14ffc0" stroke="#14ffc0"/><path d="M1243.5,323.1 L1254.7,321.2 L1242.8,314.9 L1231.6,316.7Z" fill="#14ffda" stroke="#14ffda"/><path d="M1255.5,329.5 L1266.6,327.6 L1254.7,321.2 L1243.5,323.1Z" fill="#14fff4" stroke="#14fff4"/><path d="M1267.6,336 L1278.7,334 L1266.6,327.6 L1255.5,329.5Z" fill="#14f0ff" stroke="#14f0ff"/><path d="M1279.9,342.6 L1291,340.6 L1278.7,334 L1267.6,336Z" fill="#14d6ff" stroke="#14d6ff"/><path d="M1292.3,349.2 L1303.4,347.1 L1291,340.6 L1279.9,342.6Z" fill="#14bcff" stroke="#14bcff"/><path d="M1304.8,356 L1315.9,353.8 L1303.4,347.1 L1292.3,349.2Z" fill="#14a2ff" stroke="#14a2ff"/><path d="M1317.5,362.8 L1328.6,360.6 L1315.9,353.8 L1304.8,356Z" fill="#1488ff" stroke="#1488ff"/><path d="M1330.3,369.6 L1341.4,367.4 L1328.6,360.6 L1317.5,362.8Z" fill="#146eff" stroke="#146eff"/><path d="M1343.3,376.6 L1354.3,374.3 L1341.4,367.4 L1330.3,369.6Z" fill="#1454ff" stroke="#1454ff"/><path d="M1108.5,258.2 L1119.9,256.8 L1109.4,251.1 L1098,252.5Z" fill="#77ff14" stroke="#77ff14"/><path d="M1119.1,263.9 L1130.5,262.5 L1119.9,256.8 L1108.5,258.2Z" fill="#5dff14" stroke="#5dff14"/><path d="M1129.9,269.7 L1141.3,268.3 L1130.5,262.5 L1119.1,263.9Z" fill="#43ff14" stroke="#43ff14"/><path d="M1140.8,275.6 L1152.2,274.1 L1141.3,268.3 L1129.9,269.7Z" fill="#29ff14" stroke="#29ff14"/><path d="M1151.8,281.5 L1163.2,280 L1152.2,274.1 L1140.8,275.6Z" fill="#14ff1a" stroke="#14ff1a"/><path d="M1162.9,287.5 L1174.3,285.9 L1163.2,280 L1151.8,281.5Z" fill="#14ff34" stroke="#14ff34"/><path d="M1174.1,293.6 L1185.5,292 L1174.3,285.9 L1162.9,287.5Z" fill="#14ff4e" stroke="#14ff4e"/><path d="M1185.5,299.7 L1196.8,298.1 L1185.5,292 L1174.1,293.6Z" fill="#14ff68" stroke="#14ff68"/><path d="M1197,305.9 L1208.3,304.2 L1196.8,298.1 L1185.5,299.7Z" fill="#14ff82" stroke="#14ff82"/><path d="M1208.6,312.2 L1219.9,310.4 L1208.3,304.2 L1197,305.9Z" fill="#14ff9c" stroke="#14ff9c"/><path d="M1220.3,318.6 L1231.6,316.7 L1219.9,310.4 L1208.6,312.2Z" fill="#14ffb6" stroke="#14ffb6"/><path d="M1232.2,325 L1243.5,323.1 L1231.6,316.7 L1220.3,318.6Z" fill="#14ffd0" stroke="#14ffd0"/><path d="M1244.2,331.5 L1255.5,329.5 L1243.5,323.1 L1232.2,325Z" fill="#14ffea" stroke="#14ffea"/><path d="M1256.4,338 L1267.6,336 L1255.5,329.5 L1244.2,331.5Z" fill="#14faff" stroke="#14faff"/><path d="M1268.6,344.6 L1279.9,342.6 L1267.6,336 L1256.4,338Z" fill="#14e0ff" stroke="#14e0ff"/><path d="M1281.1,351.3 L1292.3,349.2 L1279.9,342.6 L1268.6,344.6Z" fill="#14c6ff" stroke="#14c6ff"/><path d="M1293.6,358.1 L1304.8,356 L1292.3,349.2 L1281.1,351.3Z" fill="#14acff" stroke="#14acff"/><path d="M1306.3,365 L1317.5,362.8 L1304.8,356 L1293.6,358.1Z" fill="#1492ff" stroke="#1492ff"/><path d="M1319.2,371.9 L1330.3,369.6 L1317.5,362.8 L1306.3,365Z" fill="#1478ff" stroke="#1478ff"/><path d="M1332.2,379 L1343.3,376.6 L1330.3,369.6 L1319.2,371.9Z" fill="#145eff" stroke="#145eff"/><path d="M1096.9,259.6 L1108.5,258.2 L1098,252.5 L1086.4,253.8Z" fill="#81ff14" stroke="#81ff14"/><path d="M1107.6,265.4 L1119.1,263.9 L1108.5,258.2 L1096.9,259.6Z" fill="#67ff14" stroke="#67ff14"/><path d="M1118.4,271.2 L1129.9,269.7 L1119.1,263.9 L1107.6,265.4Z" fill="#4dff14" stroke="#4dff14"/><path d="M1129.3,277.1 L1140.8,275.6 L1129.9,269.7 L1118.4,271.2Z" fill="#33ff14" stroke="#33ff14"/><path d="M1140.3,283.1 L1151.8,281.5 L1140.8,275.6 L1129.3,277.1Z" fill="#19ff14" stroke="#19ff14"/><path d="M1151.4,289.2 L1162.9,287.5 L1151.8,281.5 L1140.3,283.1Z" fill="#14ff29" stroke="#14ff29"/><path d="M1162.6,295.3 L1174.1,293.6 L1162.9,287.5 L1151.4,289.2Z" fill="#14ff43" stroke="#14ff43"/><path d="M1174,301.5 L1185.5,299.7 L1174.1,293.6 L1162.6,295.3Z" fill="#14ff5e" stroke="#14ff5e"/><path d="M1185.5,307.7 L1197,305.9 L1185.5,299.7 L1174,301.5Z" fill="#14ff78" stroke="#14ff78"/><path d="M1197.1,314 L1208.6,312.2 L1197,305.9 L1185.5,307.7Z" fill="#14ff92" stroke="#14ff92"/><path d="M1208.9,320.4 L1220.3,318.6 L1208.6,312.2 L1197.1,314Z" fill="#14ffac" stroke="#14ffac"/><path d="M1220.8,326.9 L1232.2,325 L1220.3,318.6 L1208.9,320.4Z" fill="#14ffc6" stroke="#14ffc6"/><path d="M1232.8,333.4 L1244.2,331.5 L1232.2,325 L1220.8,326.9Z" fill="#14ffe0" stroke="#14ffe0"/><path d="M1244.9,340 L1256.4,338 L1244.2,331.5 L1232.8,333.4Z" fill="#14fffa" stroke="#14fffa"/><path d="M1257.2,346.7 L1268.6,344.6 L1256.4,338 L1244.9,340Z" fill="#14eaff" stroke="#14eaff"/><path d="M1269.7,353.5 L1281.1,351.3 L1268.6,344.6 L1257.2,346.7Z" fill="#14d0ff" stroke="#14d0ff"/><path d="M1282.2,360.3 L1293.6,358.1 L1281.1,351.3 L1269.7,353.5Z" fill="#14b6ff" stroke="#14b6ff"/><path d="M1295,367.3 L1306.3,365 L1293.6,358.1 L1282.2,360.3Z" fill="#149cff" stroke="#149cff"/><path d="M1307.9,374.3 L1319.2,371.9 L1306.3,365 L1295,367.3Z" fill="#1482ff" stroke="#1482ff"/><path d="M1320.9,381.3 L1332.2,379 L1319.2,371.9 L1307.9,374.3Z" fill="#1468ff" stroke="#1468ff"/><path d="M1085.3,261 L1096.9,259.6 L1086.4,253.8 L1074.7,255.2Z" fill="#8cff14" stroke="#8cff14"/><path d="M1095.9,266.8 L1107.6,265.4 L1096.9,259.6 L1085.3,261Z" fill="#72ff14" stroke="#72ff14"/><path d="M1106.7,272.7 L1118.4,271.2 L1107.6,265.4 L1095.9,266.8Z" fill="#58ff14" stroke="#58ff14"/><path d="M1117.6,278.7 L1129.3,277.1 L1118.4,271.2 L1106.7,272.7Z" fill="#3eff14" stroke="#3eff14"/><path d="M1128.6,284.7 L1140.3,283.1 L1129.3,277.1 L1117.6,278.7Z" fill="#24ff14" stroke="#24ff14"/><path d="M1139.7,290.8 L1151.4,289.2 L1140.3,283.1 L1128.6,284.7Z" fill="#14ff1f" stroke="#14ff1f"/><path d="M1151,297 L1162.6,295.3 L1151.4,289.2 L1139.7,290.8Z" fill="#14ff39" stroke="#14ff39"/><path d="M1162.4,303.2 L1174,301.5 L1162.6,295.3 L1151,297Z" fill="#14ff53" stroke="#14ff53"/><path d="M1173.9,309.5 L1185.5,307.7 L1174,301.5 L1162.4,303.2Z" fill="#14ff6d" stroke="#14ff6d"/><path d="M1185.5,315.9 L1197.1,314 L1185.5,307.7 L1173.9,309.5Z" fill="#14ff87" stroke="#14ff87"/><path d="M1197.3,322.3 L1208.9,320.4 L1197.1,314 L1185.5,315.9Z" fill="#14ffa1" stroke="#14ffa1"/><path d="M1209.2,328.8 L1220.8,326.9 L1208.9,320.4 L1197.3,322.3Z" fill="#14ffbb" stroke="#14ffbb"/><path d="M1221.2,335.4 L1232.8,333.4 L1220.8,326.9 L1209.2,328.8Z" fill="#14ffd5" stroke="#14ffd5"/><path d="M1233.4,342.1 L1244.9,340 L1232.8,333.4 L1221.2,335.4Z" fill="#14ffef" stroke="#14ffef"/><path d="M1245.7,348.8 L1257.2,346.7 L1244.9,340 L1233.4,342.1Z" fill="#14f5ff" stroke="#14f5ff"/><path d="M1258.1,355.7 L1269.7,353.5 L1257.2,346.7 L1245.7,348.8Z" fill="#14dbff" stroke="#14dbff"/><path d="M1270.7,362.6 L1282.2,360.3 L1269.7,353.5 L1258.1,355.7Z" fill="#14c1ff" stroke="#14c1ff"/><path d="M1283.5,369.5 L1295,367.3 L1282.2,360.3 L1270.7,362.6Z" fill="#14a7ff" stroke="#14a7ff"/><path d="M1296.4,376.6 L1307.9,374.3 L1295,367.3 L1283.5,369.5Z" fill="#148dff" stroke="#148dff"/><path d="M1309.4,383.8 L1320.9,381.3 L1307.9,374.3 L1296.4,376.6Z" fill="#1473ff" stroke="#1473ff"/><path d="M1073.4,262.4 L1085.3,261 L1074.7,255.2 L1062.9,256.6Z" fill="#96ff14" stroke="#96ff14"/><path d="M1084.1,268.3 L1095.9,266.8 L1085.3,261 L1073.4,262.4Z" fill="#7cff14" stroke="#7cff14"/><path d="M1094.9,274.2 L1106.7,272.7 L1095.9,266.8 L1084.1,268.3Z" fill="#62ff14" stroke="#62ff14"/><path d="M1105.8,280.2 L1117.6,278.7 L1106.7,272.7 L1094.9,274.2Z" fill="#48ff14" stroke="#48ff14"/><path d="M1116.8,286.3 L1128.6,284.7 L1117.6,278.7 L1105.8,280.2Z" fill="#2eff14" stroke="#2eff14"/><path d="M1127.9,292.5 L1139.7,290.8 L1128.6,284.7 L1116.8,286.3Z" fill="#14ff15" stroke="#14ff15"/><path d="M1139.2,298.7 L1151,297 L1139.7,290.8 L1127.9,292.5Z" fill="#14ff2f" stroke="#14ff2f"/><path d="M1150.6,305 L1162.4,303.2 L1151,297 L1139.2,298.7Z" fill="#14ff49" stroke="#14ff49"/><path d="M1162.1,311.3 L1173.9,309.5 L1162.4,303.2 L1150.6,305Z" fill="#14ff63" stroke="#14ff63"/><path d="M1173.7,317.7 L1185.5,315.9 L1173.9,309.5 L1162.1,311.3Z" fill="#14ff7d" stroke="#14ff7d"/><path d="M1185.5,324.2 L1197.3,322.3 L1185.5,315.9 L1173.7,317.7Z" fill="#14ff97" stroke="#14ff97"/><path d="M1197.4,330.8 L1209.2,328.8 L1197.3,322.3 L1185.5,324.2Z" fill="#14ffb1" stroke="#14ffb1"/><path d="M1209.5,337.5 L1221.2,335.4 L1209.2,328.8 L1197.4,330.8Z" fill="#14ffcb" stroke="#14ffcb"/><path d="M1221.6,344.2 L1233.4,342.1 L1221.2,335.4 L1209.5,337.5Z" fill="#14ffe5" stroke="#14ffe5"/><path d="M1234,351 L1245.7,348.8 L1233.4,342.1 L1221.6,344.2Z" fill="#14ffff" stroke="#14ffff"/><path d="M1246.4,357.9 L1258.1,355.7 L1245.7,348.8 L1234,351Z" fill="#14e5ff" stroke="#14e5ff"/><path d="M1259.1,364.8 L1270.7,362.6 L1258.1,355.7 L1246.4,357.9Z" fill="#14cbff" stroke="#14cbff"/><path d="M1271.8,371.9 L1283.5,369.5 L1270.7,362.6 L1259.1,364.8Z" fill="#14b1ff" stroke="#14b1ff"/><path d="M1284.7,379 L1296.4,376.6 L1283.5,369.5 L1271.8,371.9Z" fill="#1497ff" stroke="#1497ff"/><path d="M1297.8,386.2 L1309.4,383.8 L1296.4,376.6 L1284.7,379Z" fill="#147dff" stroke="#147dff"/><path d="M1061.4,263.9 L1073.4,262.4 L1062.9,256.6 L1050.9,258Z" fill="#a1ff14" stroke="#a1ff14"/><path d="M1072.1,269.8 L1084.1,268.3 L1073.4,262.4 L1061.4,263.9Z" fill="#87ff14" stroke="#87ff14"/><path d="M1082.9,275.8 L1094.9,274.2 L1084.1,268.3 L1072.1,269.8Z" fill="#6dff14" stroke="#6dff14"/><path d="M1093.8,281.8 L1105.8,280.2 L1094.9,274.2 L1082.9,275.8Z" fill="#53ff14" stroke="#53ff14"/><path d="M1104.8,288 L1116.8,286.3 L1105.8,280.2 L1093.8,281.8Z" fill="#39ff14" stroke="#39ff14"/><path d="M1116,294.2 L1127.9,292.5 L1116.8,286.3 L1104.8,288Z" fill="#1fff14" stroke="#1fff14"/><path d="M1127.2,300.4 L1139.2,298.7 L1127.9,292.5 L1116,294.2Z" fill="#14ff24" stroke="#14ff24"/><path d="M1138.6,306.8 L1150.6,305 L1139.2,298.7 L1127.2,300.4Z" fill="#14ff3e" stroke="#14ff3e"/><path d="M1150.1,313.2 L1162.1,311.3 L1150.6,305 L1138.6,306.8Z" fill="#14ff58" stroke="#14ff58"/><path d="M1161.8,319.6 L1173.7,317.7 L1162.1,311.3 L1150.1,313.2Z" fill="#14ff72" stroke="#14ff72"/><path d="M1173.6,326.2 L1185.5,324.2 L1173.7,317.7 L1161.8,319.6Z" fill="#14ff8c" stroke="#14ff8c"/><path d="M1185.5,332.8 L1197.4,330.8 L1185.5,324.2 L1173.6,326.2Z" fill="#14ffa6" stroke="#14ffa6"/><path d="M1197.6,339.5 L1209.5,337.5 L1197.4,330.8 L1185.5,332.8Z" fill="#14ffc0" stroke="#14ffc0"/><path d="M1209.8,346.3 L1221.6,344.2 L1209.5,337.5 L1197.6,339.5Z" fill="#14ffda" stroke="#14ffda"/><path d="M1222.1,353.2 L1234,351 L1221.6,344.2 L1209.8,346.3Z" fill="#14fff4" stroke="#14fff4"/><path d="M1234.6,360.1 L1246.4,357.9 L1234,351 L1222.1,353.2Z" fill="#14f0ff" stroke="#14f0ff"/><path d="M1247.2,367.1 L1259.1,364.8 L1246.4,357.9 L1234.6,360.1Z" fill="#14d6ff" stroke="#14d6ff"/><path d="M1260,374.2 L1271.8,371.9 L1259.1,364.8 L1247.2,367.1Z" fill="#14bcff" stroke="#14bcff"/><path d="M1272.9,381.4 L1284.7,379 L1271.8,371.9 L1260,374.2Z" fill="#14a2ff" stroke="#14a2ff"/><path d="M1286,388.7 L1297.8,386.2 L1284.7,379 L1272.9,381.4Z" fill="#1487ff" stroke="#1487ff"/><path d="M1049.3,265.3 L1061.4,263.9 L1050.9,258 L1038.7,259.4Z" fill="#abff14" stroke="#abff14"/><path d="M1060,271.3 L1072.1,269.8 L1061.4,263.9 L1049.3,265.3Z" fill="#91ff14" stroke="#91ff14"/><path d="M1070.8,277.3 L1082.9,275.8 L1072.1,269.8 L1060,271.3Z" fill="#77ff14" stroke="#77ff14"/><path d="M1081.7,283.4 L1093.8,281.8 L1082.9,275.8 L1070.8,277.3Z" fill="#5dff14" stroke="#5dff14"/><path d="M1092.7,289.6 L1104.8,288 L1093.8,281.8 L1081.7,283.4Z" fill="#43ff14" stroke="#43ff14"/><path d="M1103.8,295.9 L1116,294.2 L1104.8,288 L1092.7,289.6Z" fill="#29ff14" stroke="#29ff14"/><path d="M1115.1,302.2 L1127.2,300.4 L1116,294.2 L1103.8,295.9Z" fill="#14ff1a" stroke="#14ff1a"/><path d="M1126.5,308.6 L1138.6,306.8 L1127.2,300.4 L1115.1,302.2Z" fill="#14ff34" stroke="#14ff34"/><path d="M1138,315 L1150.1,313.2 L1138.6,306.8 L1126.5,308.6Z" fill="#14ff4e" stroke="#14ff4e"/><path d="M1149.7,321.5 L1161.8,319.6 L1150.1,313.2 L1138,315Z" fill="#14ff68" stroke="#14ff68"/><path d="M1161.5,328.2 L1173.6,326.2 L1161.8,319.6 L1149.7,321.5Z" fill="#14ff82" stroke="#14ff82"/><path d="M1173.4,334.8 L1185.5,332.8 L1173.6,326.2 L1161.5,328.2Z" fill="#14ff9c" stroke="#14ff9c"/><path d="M1185.5,341.6 L1197.6,339.5 L1185.5,332.8 L1173.4,334.8Z" fill="#14ffb6" stroke="#14ffb6"/><path d="M1197.7,348.4 L1209.8,346.3 L1197.6,339.5 L1185.5,341.6Z" fill="#14ffd0" stroke="#14ffd0"/><path d="M1210.1,355.4 L1222.1,353.2 L1209.8,346.3 L1197.7,348.4Z" fill="#14ffea" stroke="#14ffea"/><path d="M1222.6,362.4 L1234.6,360.1 L1222.1,353.2 L1210.1,355.4Z" fill="#14faff" stroke="#14faff"/><path d="M1235.2,369.4 L1247.2,367.1 L1234.6,360.1 L1222.6,362.4Z" fill="#14e0ff" stroke="#14e0ff"/><path d="M1248,376.6 L1260,374.2 L1247.2,367.1 L1235.2,369.4Z" fill="#14c6ff" stroke="#14c6ff"/><path d="M1261,383.9 L1272.9,381.4 L1260,374.2 L1248,376.6Z" fill="#14acff" stroke="#14acff"/><path d="M1274.1,391.2 L1286,388.7 L1272.9,381.4 L1261,383.9Z" fill="#1492ff" stroke="#1492ff"/><path d="M1037,266.8 L1049.3,265.3 L1038.7,259.4 L1026.5,260.9Z" fill="#b6ff14" stroke="#b6ff14"/><path d="M1047.7,272.8 L1060,271.3 L1049.3,265.3 L1037,266.8Z" fill="#9cff14" stroke="#9cff14"/><path d="M1058.5,278.9 L1070.8,277.3 L1060,271.3 L1047.7,272.8Z" fill="#82ff14" stroke="#82ff14"/><path d="M1069.4,285.1 L1081.7,283.4 L1070.8,277.3 L1058.5,278.9Z" fill="#68ff14" stroke="#68ff14"/><path d="M1080.4,291.3 L1092.7,289.6 L1081.7,283.4 L1069.4,285.1Z" fill="#4dff14" stroke="#4dff14"/><path d="M1091.6,297.6 L1103.8,295.9 L1092.7,289.6 L1080.4,291.3Z" fill="#33ff14" stroke="#33ff14"/><path d="M1102.8,304 L1115.1,302.2 L1103.8,295.9 L1091.6,297.6Z" fill="#19ff14" stroke="#19ff14"/><path d="M1114.2,310.4 L1126.5,308.6 L1115.1,302.2 L1102.8,304Z" fill="#14ff29" stroke="#14ff29"/><path d="M1125.8,316.9 L1138,315 L1126.5,308.6 L1114.2,310.4Z" fill="#14ff43" stroke="#14ff43"/><path d="M1137.4,323.5 L1149.7,321.5 L1138,315 L1125.8,316.9Z" fill="#14ff5d" stroke="#14ff5d"/><path d="M1149.3,330.2 L1161.5,328.2 L1149.7,321.5 L1137.4,323.5Z" fill="#14ff77" stroke="#14ff77"/><path d="M1161.2,336.9 L1173.4,334.8 L1161.5,328.2 L1149.3,330.2Z" fill="#14ff92" stroke="#14ff92"/><path d="M1173.3,343.7 L1185.5,341.6 L1173.4,334.8 L1161.2,336.9Z" fill="#14ffac" stroke="#14ffac"/><path d="M1185.5,350.6 L1197.7,348.4 L1185.5,341.6 L1173.3,343.7Z" fill="#14ffc6" stroke="#14ffc6"/><path d="M1197.9,357.6 L1210.1,355.4 L1197.7,348.4 L1185.5,350.6Z" fill="#14ffe0" stroke="#14ffe0"/><path d="M1210.4,364.7 L1222.6,362.4 L1210.1,355.4 L1197.9,357.6Z" fill="#14fffa" stroke="#14fffa"/><path d="M1223,371.8 L1235.2,369.4 L1222.6,362.4 L1210.4,364.7Z" fill="#14eaff" stroke="#14eaff"/><path d="M1235.9,379 L1248,376.6 L1235.2,369.4 L1223,371.8Z" fill="#14d0ff" stroke="#14d0ff"/><path d="M1248.8,386.4 L1261,383.9 L1248,376.6 L1235.9,379Z" fill="#14b6ff" stroke="#14b6ff"/><path d="M1262,393.8 L1274.1,391.2 L1261,383.9 L1248.8,386.4Z" fill="#149cff" stroke="#149cff"/><path d="M1024.6,268.3 L1037,266.8 L1026.5,260.9 L1014,262.3Z" fill="#c0ff14" stroke="#c0ff14"/><path d="M1035.2,274.4 L1047.7,272.8 L1037,266.8 L1024.6,268.3Z" fill="#a6ff14" stroke="#a6ff14"/><path d="M1046,280.5 L1058.5,278.9 L1047.7,272.8 L1035.2,274.4Z" fill="#8cff14" stroke="#8cff14"/><path d="M1056.9,286.7 L1069.4,285.1 L1058.5,278.9 L1046,280.5Z" fill="#72ff14" stroke="#72ff14"/><path d="M1068,293 L1080.4,291.3 L1069.4,285.1 L1056.9,286.7Z" fill="#58ff14" stroke="#58ff14"/><path d="M1079.1,299.3 L1091.6,297.6 L1080.4,291.3 L1068,293Z" fill="#3eff14" stroke="#3eff14"/><path d="M1090.4,305.8 L1102.8,304 L1091.6,297.6 L1079.1,299.3Z" fill="#24ff14" stroke="#24ff14"/><path d="M1101.8,312.3 L1114.2,310.4 L1102.8,304 L1090.4,305.8Z" fill="#14ff1f" stroke="#14ff1f"/><path d="M1113.4,318.8 L1125.8,316.9 L1114.2,310.4 L1101.8,312.3Z" fill="#14ff39" stroke="#14ff39"/><path d="M1125,325.5 L1137.4,323.5 L1125.8,316.9 L1113.4,318.8Z" fill="#14ff53" stroke="#14ff53"/><path d="M1136.8,332.2 L1149.3,330.2 L1137.4,323.5 L1125,325.5Z" fill="#14ff6d" stroke="#14ff6d"/><path d="M1148.8,339 L1161.2,336.9 L1149.3,330.2 L1136.8,332.2Z" fill="#14ff87" stroke="#14ff87"/><path d="M1160.9,345.9 L1173.3,343.7 L1161.2,336.9 L1148.8,339Z" fill="#14ffa1" stroke="#14ffa1"/><path d="M1173.1,352.8 L1185.5,350.6 L1173.3,343.7 L1160.9,345.9Z" fill="#14ffbb" stroke="#14ffbb"/><path d="M1185.5,359.9 L1197.9,357.6 L1185.5,350.6 L1173.1,352.8Z" fill="#14ffd5" stroke="#14ffd5"/><path d="M1198,367 L1210.4,364.7 L1197.9,357.6 L1185.5,359.9Z" fill="#14ffef" stroke="#14ffef"/><path d="M1210.7,374.2 L1223,371.8 L1210.4,364.7 L1198,367Z" fill="#14f5ff" stroke="#14f5ff"/><path d="M1223.5,381.5 L1235.9,379 L1223,371.8 L1210.7,374.2Z" fill="#14dbff" stroke="#14dbff"/><path d="M1236.5,388.9 L1248.8,386.4 L1235.9,379 L1223.5,381.5Z" fill="#14c1ff" stroke="#14c1ff"/><path d="M1249.7,396.4 L1262,393.8 L1248.8,386.4 L1236.5,388.9Z" fill="#14a7ff" stroke="#14a7ff"/><path d="M1011.9,269.8 L1024.6,268.3 L1014,262.3 L1001.4,263.8Z" fill="#caff14" stroke="#caff14"/><path d="M1022.6,276 L1035.2,274.4 L1024.6,268.3 L1011.9,269.8Z" fill="#b0ff14" stroke="#b0ff14"/><path d="M1033.4,282.1 L1046,280.5 L1035.2,274.4 L1022.6,276Z" fill="#96ff14" stroke="#96ff14"/><path d="M1044.3,288.4 L1056.9,286.7 L1046,280.5 L1033.4,282.1Z" fill="#7cff14" stroke="#7cff14"/><path d="M1055.3,294.7 L1068,293 L1056.9,286.7 L1044.3,288.4Z" fill="#62ff14" stroke="#62ff14"/><path d="M1066.5,301.1 L1079.1,299.3 L1068,293 L1055.3,294.7Z" fill="#48ff14" stroke="#48ff14"/><path d="M1077.8,307.6 L1090.4,305.8 L1079.1,299.3 L1066.5,301.1Z" fill="#2eff14" stroke="#2eff14"/><path d="M1089.2,314.1 L1101.8,312.3 L1090.4,305.8 L1077.8,307.6Z" fill="#14ff15" stroke="#14ff15"/><path d="M1100.8,320.8 L1113.4,318.8 L1101.8,312.3 L1089.2,314.1Z" fill="#14ff2f" stroke="#14ff2f"/><path d="M1112.4,327.5 L1125,325.5 L1113.4,318.8 L1100.8,320.8Z" fill="#14ff49" stroke="#14ff49"/><path d="M1124.3,334.2 L1136.8,332.2 L1125,325.5 L1112.4,327.5Z" fill="#14ff63" stroke="#14ff63"/><path d="M1136.2,341.1 L1148.8,339 L1136.8,332.2 L1124.3,334.2Z" fill="#14ff7d" stroke="#14ff7d"/><path d="M1148.3,348 L1160.9,345.9 L1148.8,339 L1136.2,341.1Z" fill="#14ff97" stroke="#14ff97"/><path d="M1160.6,355 L1173.1,352.8 L1160.9,345.9 L1148.3,348Z" fill="#14ffb1" stroke="#14ffb1"/><path d="M1173,362.1 L1185.5,359.9 L1173.1,352.8 L1160.6,355Z" fill="#14ffcb" stroke="#14ffcb"/><path d="M1185.5,369.3 L1198,367 L1185.5,359.9 L1173,362.1Z" fill="#14ffe5" stroke="#14ffe5"/><path d="M1198.2,376.6 L1210.7,374.2 L1198,367 L1185.5,369.3Z" fill="#14ffff" stroke="#14ffff"/><path d="M1211,384 L1223.5,381.5 L1210.7,374.2 L1198.2,376.6Z" fill="#14e5ff" stroke="#14e5ff"/><path d="M1224,391.4 L1236.5,388.9 L1223.5,381.5 L1211,384Z" fill="#14cbff" stroke="#14cbff"/><path d="M1237.2,399 L1249.7,396.4 L1236.5,388.9 L1224,391.4Z" fill="#14b1ff" stroke="#14b1ff"/><path d="M999.2,271.4 L1011.9,269.8 L1001.4,263.8 L988.6,265.3Z" fill="#d5ff14" stroke="#d5ff14"/><path d="M1009.8,277.6 L1022.6,276 L1011.9,269.8 L999.2,271.4Z" fill="#bbff14" stroke="#bbff14"/><path d="M1020.6,283.8 L1033.4,282.1 L1022.6,276 L1009.8,277.6Z" fill="#a1ff14" stroke="#a1ff14"/><path d="M1031.5,290.1 L1044.3,288.4 L1033.4,282.1 L1020.6,283.8Z" fill="#87ff14" stroke="#87ff14"/><path d="M1042.6,296.5 L1055.3,294.7 L1044.3,288.4 L1031.5,290.1Z" fill="#6dff14" stroke="#6dff14"/><path d="M1053.7,302.9 L1066.5,301.1 L1055.3,294.7 L1042.6,296.5Z" fill="#53ff14" stroke="#53ff14"/><path d="M1065,309.4 L1077.8,307.6 L1066.5,301.1 L1053.7,302.9Z" fill="#39ff14" stroke="#39ff14"/><path d="M1076.4,316 L1089.2,314.1 L1077.8,307.6 L1065,309.4Z" fill="#1fff14" stroke="#1fff14"/><path d="M1088,322.7 L1100.8,320.8 L1089.2,314.1 L1076.4,316Z" fill="#14ff24" stroke="#14ff24"/><path d="M1099.7,329.5 L1112.4,327.5 L1100.8,320.8 L1088,322.7Z" fill="#14ff3e" stroke="#14ff3e"/><path d="M1111.5,336.3 L1124.3,334.2 L1112.4,327.5 L1099.7,329.5Z" fill="#14ff58" stroke="#14ff58"/><path d="M1123.5,343.2 L1136.2,341.1 L1124.3,334.2 L1111.5,336.3Z" fill="#14ff72" stroke="#14ff72"/><path d="M1135.6,350.2 L1148.3,348 L1136.2,341.1 L1123.5,343.2Z" fill="#14ff8c" stroke="#14ff8c"/><path d="M1147.8,357.3 L1160.6,355 L1148.3,348 L1135.6,350.2Z" fill="#14ffa6" stroke="#14ffa6"/><path d="M1160.2,364.5 L1173,362.1 L1160.6,355 L1147.8,357.3Z" fill="#14ffc0" stroke="#14ffc0"/><path d="M1172.8,371.7 L1185.5,369.3 L1173,362.1 L1160.2,364.5Z" fill="#14ffda" stroke="#14ffda"/><path d="M1185.5,379.1 L1198.2,376.6 L1185.5,369.3 L1172.8,371.7Z" fill="#14fff4" stroke="#14fff4"/><path d="M1198.4,386.5 L1211,384 L1198.2,376.6 L1185.5,379.1Z" fill="#14efff" stroke="#14efff"/><path d="M1211.4,394 L1224,391.4 L1211,384 L1198.4,386.5Z" fill="#14d5ff" stroke="#14d5ff"/><path d="M1224.6,401.7 L1237.2,399 L1224,391.4 L1211.4,394Z" fill="#14bbff" stroke="#14bbff"/><path d="M986.2,273 L999.2,271.4 L988.6,265.3 L975.7,266.8Z" fill="#dfff14" stroke="#dfff14"/><path d="M996.9,279.2 L1009.8,277.6 L999.2,271.4 L986.2,273Z" fill="#c5ff14" stroke="#c5ff14"/><path d="M1007.7,285.5 L1020.6,283.8 L1009.8,277.6 L996.9,279.2Z" fill="#abff14" stroke="#abff14"/><path d="M1018.6,291.8 L1031.5,290.1 L1020.6,283.8 L1007.7,285.5Z" fill="#91ff14" stroke="#91ff14"/><path d="M1029.6,298.2 L1042.6,296.5 L1031.5,290.1 L1018.6,291.8Z" fill="#77ff14" stroke="#77ff14"/><path d="M1040.8,304.7 L1053.7,302.9 L1042.6,296.5 L1029.6,298.2Z" fill="#5dff14" stroke="#5dff14"/><path d="M1052.1,311.3 L1065,309.4 L1053.7,302.9 L1040.8,304.7Z" fill="#43ff14" stroke="#43ff14"/><path d="M1063.5,318 L1076.4,316 L1065,309.4 L1052.1,311.3Z" fill="#29ff14" stroke="#29ff14"/><path d="M1075.1,324.7 L1088,322.7 L1076.4,316 L1063.5,318Z" fill="#14ff1a" stroke="#14ff1a"/><path d="M1086.7,331.5 L1099.7,329.5 L1088,322.7 L1075.1,324.7Z" fill="#14ff34" stroke="#14ff34"/><path d="M1098.6,338.4 L1111.5,336.3 L1099.7,329.5 L1086.7,331.5Z" fill="#14ff4e" stroke="#14ff4e"/><path d="M1110.5,345.4 L1123.5,343.2 L1111.5,336.3 L1098.6,338.4Z" fill="#14ff68" stroke="#14ff68"/><path d="M1122.7,352.5 L1135.6,350.2 L1123.5,343.2 L1110.5,345.4Z" fill="#14ff82" stroke="#14ff82"/><path d="M1134.9,359.6 L1147.8,357.3 L1135.6,350.2 L1122.7,352.5Z" fill="#14ff9c" stroke="#14ff9c"/><path d="M1147.3,366.8 L1160.2,364.5 L1147.8,357.3 L1134.9,359.6Z" fill="#14ffb6" stroke="#14ffb6"/><path d="M1159.9,374.2 L1172.8,371.7 L1160.2,364.5 L1147.3,366.8Z" fill="#14ffd0" stroke="#14ffd0"/><path d="M1172.6,381.6 L1185.5,379.1 L1172.8,371.7 L1159.9,374.2Z" fill="#14ffea" stroke="#14ffea"/><path d="M1185.5,389.1 L1198.4,386.5 L1185.5,379.1 L1172.6,381.6Z" fill="#14faff" stroke="#14faff"/><path d="M1198.5,396.7 L1211.4,394 L1198.4,386.5 L1185.5,389.1Z" fill="#14e0ff" stroke="#14e0ff"/><path d="M1211.7,404.4 L1224.6,401.7 L1211.4,394 L1198.5,396.7Z" fill="#14c6ff" stroke="#14c6ff"/><path d="M973.1,274.5 L986.2,273 L975.7,266.8 L962.6,268.3Z" fill="#eaff14" stroke="#eaff14"/><path d="M983.8,280.8 L996.9,279.2 L986.2,273 L973.1,274.5Z" fill="#d0ff14" stroke="#d0ff14"/><path d="M994.6,287.1 L1007.7,285.5 L996.9,279.2 L983.8,280.8Z" fill="#b6ff14" stroke="#b6ff14"/><path d="M1005.5,293.5 L1018.6,291.8 L1007.7,285.5 L994.6,287.1Z" fill="#9cff14" stroke="#9cff14"/><path d="M1016.5,300 L1029.6,298.2 L1018.6,291.8 L1005.5,293.5Z" fill="#82ff14" stroke="#82ff14"/><path d="M1027.7,306.6 L1040.8,304.7 L1029.6,298.2 L1016.5,300Z" fill="#68ff14" stroke="#68ff14"/><path d="M1039,313.2 L1052.1,311.3 L1040.8,304.7 L1027.7,306.6Z" fill="#4eff14" stroke="#4eff14"/><path d="M1050.4,319.9 L1063.5,318 L1052.1,311.3 L1039,313.2Z" fill="#34ff14" stroke="#34ff14"/><path d="M1061.9,326.7 L1075.1,324.7 L1063.5,318 L1050.4,319.9Z" fill="#19ff14" stroke="#19ff14"/><path d="M1073.6,333.6 L1086.7,331.5 L1075.1,324.7 L1061.9,326.7Z" fill="#14ff29" stroke="#14ff29"/><path d="M1085.5,340.6 L1098.6,338.4 L1086.7,331.5 L1073.6,333.6Z" fill="#14ff43" stroke="#14ff43"/><path d="M1097.4,347.6 L1110.5,345.4 L1098.6,338.4 L1085.5,340.6Z" fill="#14ff5d" stroke="#14ff5d"/><path d="M1109.6,354.7 L1122.7,352.5 L1110.5,345.4 L1097.4,347.6Z" fill="#14ff78" stroke="#14ff78"/><path d="M1121.8,361.9 L1134.9,359.6 L1122.7,352.5 L1109.6,354.7Z" fill="#14ff92" stroke="#14ff92"/><path d="M1134.3,369.2 L1147.3,366.8 L1134.9,359.6 L1121.8,361.9Z" fill="#14ffac" stroke="#14ffac"/><path d="M1146.8,376.6 L1159.9,374.2 L1147.3,366.8 L1134.3,369.2Z" fill="#14ffc6" stroke="#14ffc6"/><path d="M1159.6,384.1 L1172.6,381.6 L1159.9,374.2 L1146.8,376.6Z" fill="#14ffe0" stroke="#14ffe0"/><path d="M1172.4,391.7 L1185.5,389.1 L1172.6,381.6 L1159.6,384.1Z" fill="#14fffa" stroke="#14fffa"/><path d="M1185.5,399.3 L1198.5,396.7 L1185.5,389.1 L1172.4,391.7Z" fill="#14eaff" stroke="#14eaff"/><path d="M1198.7,407.1 L1211.7,404.4 L1198.5,396.7 L1185.5,399.3Z" fill="#14d0ff" stroke="#14d0ff"/><path d="M959.8,276.1 L973.1,274.5 L962.6,268.3 L949.3,269.9Z" fill="#f4ff14" stroke="#f4ff14"/><path d="M970.5,282.5 L983.8,280.8 L973.1,274.5 L959.8,276.1Z" fill="#daff14" stroke="#daff14"/><path d="M981.3,288.8 L994.6,287.1 L983.8,280.8 L970.5,282.5Z" fill="#c0ff14" stroke="#c0ff14"/><path d="M992.2,295.3 L1005.5,293.5 L994.6,287.1 L981.3,288.8Z" fill="#a6ff14" stroke="#a6ff14"/><path d="M1003.2,301.8 L1016.5,300 L1005.5,293.5 L992.2,295.3Z" fill="#8cff14" stroke="#8cff14"/><path d="M1014.4,308.5 L1027.7,306.6 L1016.5,300 L1003.2,301.8Z" fill="#72ff14" stroke="#72ff14"/><path d="M1025.6,315.2 L1039,313.2 L1027.7,306.6 L1014.4,308.5Z" fill="#58ff14" stroke="#58ff14"/><path d="M1037.1,321.9 L1050.4,319.9 L1039,313.2 L1025.6,315.2Z" fill="#3eff14" stroke="#3eff14"/><path d="M1048.6,328.8 L1061.9,326.7 L1050.4,319.9 L1037.1,321.9Z" fill="#24ff14" stroke="#24ff14"/><path d="M1060.3,335.7 L1073.6,333.6 L1061.9,326.7 L1048.6,328.8Z" fill="#14ff1f" stroke="#14ff1f"/><path d="M1072.2,342.7 L1085.5,340.6 L1073.6,333.6 L1060.3,335.7Z" fill="#14ff39" stroke="#14ff39"/><path d="M1084.2,349.8 L1097.4,347.6 L1085.5,340.6 L1072.2,342.7Z" fill="#14ff53" stroke="#14ff53"/><path d="M1096.3,357 L1109.6,354.7 L1097.4,347.6 L1084.2,349.8Z" fill="#14ff6d" stroke="#14ff6d"/><path d="M1108.6,364.3 L1121.8,361.9 L1109.6,354.7 L1096.3,357Z" fill="#14ff87" stroke="#14ff87"/><path d="M1121,371.7 L1134.3,369.2 L1121.8,361.9 L1108.6,364.3Z" fill="#14ffa1" stroke="#14ffa1"/><path d="M1133.6,379.1 L1146.8,376.6 L1134.3,369.2 L1121,371.7Z" fill="#14ffbb" stroke="#14ffbb"/><path d="M1146.3,386.7 L1159.6,384.1 L1146.8,376.6 L1133.6,379.1Z" fill="#14ffd5" stroke="#14ffd5"/><path d="M1159.2,394.3 L1172.4,391.7 L1159.6,384.1 L1146.3,386.7Z" fill="#14ffef" stroke="#14ffef"/><path d="M1172.3,402.1 L1185.5,399.3 L1172.4,391.7 L1159.2,394.3Z" fill="#14f5ff" stroke="#14f5ff"/><path d="M1185.5,409.9 L1198.7,407.1 L1185.5,399.3 L1172.3,402.1Z" fill="#14dbff" stroke="#14dbff"/></g>
<path d="M1185.5,409.9 L949.3,269.9 M1185.5,409.9 L1417.3,361 M1198.7,407.1 L962.6,268.3 M1172.3,402.1 L1404.5,354.4 M1211.7,404.4 L975.7,266.8 M1159.2,394.3 L1391.8,347.9 M1224.6,401.7 L988.6,265.3 M1146.3,386.7 L1379.3,341.5 M1237.2,399 L1001.4,263.8 M1133.6,379.1 L1366.9,335.2 M1249.7,396.4 L1014,262.3 M1121,371.7 L1354.7,328.9 M1262,393.8 L1026.5,260.9 M1108.6,364.3 L1342.5,322.7 M1274.1,391.2 L1038.7,259.4 M1096.3,357 L1330.5,316.5 M1286,388.7 L1050.9,258 M1084.2,349.8 L1318.7,310.5 M1297.8,386.2 L1062.9,256.6 M1072.2,342.7 L1306.9,304.4 M1309.4,383.8 L1074.7,255.2 M1060.3,335.7 L1295.3,298.5 M1320.9,381.3 L1086.4,253.8 M1048.6,328.8 L1283.8,292.6 M1332.2,379 L1098,252.5 M1037.1,321.9 L1272.4,286.8 M1343.3,376.6 L1109.4,251.1 M1025.6,315.2 L1261.2,281 M1354.3,374.3 L1120.6,249.8 M1014.4,308.5 L1250,275.3 M1365.2,372 L1131.8,248.5 M1003.2,301.8 L1239,269.6 M1375.9,369.7 L1142.8,247.2 M992.2,295.3 L1228.1,264 M1386.4,367.5 L1153.6,245.9 M981.3,288.8 L1217.3,258.5 M1396.9,365.3 L1164.4,244.7 M970.5,282.5 L1206.6,253 M1407.1,363.1 L1175,243.4 M959.8,276.1 L1196,247.6 M1417.3,361 L1185.5,242.2 M949.3,269.9 L1185.5,242.2" fill="none" stroke="#000" stroke-opacity="0.82" stroke-width="1.0"/>
<path d="M947.3,243.6 L947.3,269.9" stroke="#111" stroke-opacity="0.6" stroke-width="1.6"/>
<ellipse cx="947.3" cy="243.6" rx="5.2" ry="4.7" fill="#b40000" stroke="#3c0000" stroke-width="0.9"/>
<ellipse cx="1418" cy="345.9" rx="5.2" ry="4.7" fill="#b40000" stroke="#3c0000" stroke-width="0.9"/>
<path d="M1185.5,389.7 L1185.5,409.9" stroke="#111" stroke-opacity="0.45" stroke-width="1.6"/>
<ellipse cx="1185.5" cy="389.7" rx="5.2" ry="4.7" fill="#b40000" stroke="#3c0000" stroke-width="0.9"/>
</g>
<g>
<text x="1466.6" y="71.8" font-size="10.37" fill="#222" textLength="119.4" lengthAdjust="spacingAndGlyphs">Factor Coding: Actual</text>
<text x="1466.6" y="104.8" font-size="10.37" fill="#111" font-weight="bold" textLength="119.2" lengthAdjust="spacingAndGlyphs">Solubility (mcg/mL)</text>
<text x="1466.6" y="121.4" font-size="10.37" fill="#222" textLength="79.2" lengthAdjust="spacingAndGlyphs">Design Points:</text>
<ellipse cx="1479.5" cy="134.3" rx="6.8" ry="5.7" fill="#b40000" stroke="#4a0000" stroke-width="0.8"/>
<text x="1494.4" y="137.9" font-size="10.37" fill="#b01c1c" textLength="80.2" lengthAdjust="spacingAndGlyphs">Above Surface</text>
<ellipse cx="1479.5" cy="150.8" rx="6.8" ry="5.7" fill="#ffc6c6" stroke="#4a3030" stroke-width="0.8"/>
<text x="1494.4" y="154.4" font-size="10.37" fill="#b01c1c" textLength="78.8" lengthAdjust="spacingAndGlyphs">Below Surface</text>
<text x="1466.6" y="170.9" font-size="10.37" fill="#2323c8" textLength="35.6" lengthAdjust="spacingAndGlyphs">240.31</text>
<rect x="1514.8" y="160.3" width="46.7" height="14.4" fill="url(#cbar)" stroke="#222" stroke-width="0.7"/>
<text x="1567.1" y="170.9" font-size="10.37" fill="#c81e1e" textLength="43.5" lengthAdjust="spacingAndGlyphs">360.465</text>
<text x="1466.6" y="204" font-size="10.37" fill="#222" textLength="36.3" lengthAdjust="spacingAndGlyphs">X1 = B</text>
<text x="1466.6" y="220.5" font-size="10.37" fill="#222" textLength="36.9" lengthAdjust="spacingAndGlyphs">X2 = C</text>
<text x="1466.6" y="253.5" font-size="10.37" fill="#111" font-weight="bold" textLength="78.6" lengthAdjust="spacingAndGlyphs">Actual Factor</text>
<text x="1466.6" y="270" font-size="10.37" fill="#222" textLength="36.6" lengthAdjust="spacingAndGlyphs">A = 35</text>
<path d="M1677.9,194.7 L1689,383.8 M1725.8,186 L1734.7,371.4 M1773.8,177.3 L1780.4,358.9 M1821.7,168.5 L1826.1,346.5 M1869.7,159.8 L1871.8,334 M1917.6,151.1 L1917.5,321.6 M1677.9,194.7 L1917.6,151.1 M1680.7,242 L1917.6,193.7 M1683.5,289.3 L1917.6,236.4 M1686.2,336.5 L1917.5,279 M1689,383.8 L1917.5,321.6 M1917.6,151.1 L1917.5,321.6 M1977.6,161.9 L1974.6,337.1 M2037.5,172.7 L2031.7,352.7 M2097.5,183.5 L2088.8,368.2 M2157.5,194.3 L2145.9,383.7 M1917.6,151.1 L2157.5,194.3 M1917.6,193.7 L2154.6,241.7 M1917.6,236.4 L2151.7,289 M1917.5,279 L2148.8,336.4 M1917.5,321.6 L2145.9,383.7 M1677.9,194.7 L1692.5,442.8 M1917.6,151.1 L1917.5,374.8 M2157.5,194.3 L2142.3,442.8" fill="none" stroke="#161616" stroke-width="1.15"/>
<clipPath id="fc2"><polygon points="1692.5,442.8 1917.5,374.8 2142.3,442.8 1917.4,529.6"/></clipPath>
<polygon points="1692.5,442.8 1917.5,374.8 2142.3,442.8 1917.4,529.6" fill="#676767" stroke="#000" stroke-width="1.1" stroke-linejoin="round"/>
<g clip-path="url(#fc2)" fill="none"><path d="M1731.5,431.7 L1960,513" stroke="#28b4e6" stroke-width="2"/><path d="M1770.8,419.7 L2000.2,497.4" stroke="#32dcd2" stroke-width="2"/><path d="M1811,407.6 L2038.7,482.6" stroke="#28dc82" stroke-width="2"/><path d="M1849.4,395.9 L2075.3,468.7" stroke="#32dc3c" stroke-width="2"/><path d="M1887,384.5 L2111,454.4" stroke="#8ce632" stroke-width="2"/></g>
<polygon points="1692.5,442.8 1917.5,374.8 2142.3,442.8 1917.4,529.6" fill="none" stroke="#000" stroke-width="1.2" stroke-linejoin="round"/>
<g fill="#000"><circle cx="1677.9" cy="194.7" r="2.1"/><circle cx="1680.7" cy="242" r="2.1"/><circle cx="1683.5" cy="289.3" r="2.1"/><circle cx="1686.2" cy="336.5" r="2.1"/><circle cx="1689" cy="383.8" r="2.1"/><circle cx="1692.5" cy="442.8" r="2.1"/><circle cx="1748.7" cy="464.5" r="2.1"/><circle cx="1805" cy="486.2" r="2.1"/><circle cx="1861.2" cy="507.9" r="2.1"/><circle cx="1917.4" cy="529.6" r="2.1"/><circle cx="1917.4" cy="529.6" r="2.1"/><circle cx="1962.4" cy="512.2" r="2.1"/><circle cx="2007.4" cy="494.9" r="2.1"/><circle cx="2052.3" cy="477.5" r="2.1"/><circle cx="2097.3" cy="460.2" r="2.1"/><circle cx="2142.3" cy="442.8" r="2.1"/><circle cx="2142.3" cy="442.8" r="2.1"/></g>
<g><text x="1670.3" y="191.6" font-size="9.41" fill="#222" text-anchor="end" textLength="18.5" lengthAdjust="spacingAndGlyphs">400</text><text x="1673.1" y="238.8" font-size="9.41" fill="#222" text-anchor="end" textLength="18.5" lengthAdjust="spacingAndGlyphs">350</text><text x="1675.9" y="286.1" font-size="9.41" fill="#222" text-anchor="end" textLength="18.5" lengthAdjust="spacingAndGlyphs">300</text><text x="1678.7" y="333.4" font-size="9.41" fill="#222" text-anchor="end" textLength="18.5" lengthAdjust="spacingAndGlyphs">250</text><text x="1681.5" y="380.7" font-size="9.41" fill="#222" text-anchor="end" textLength="18.5" lengthAdjust="spacingAndGlyphs">200</text><text x="1685.7" y="452.3" font-size="9.41" fill="#222" text-anchor="end" textLength="14.9" lengthAdjust="spacingAndGlyphs">1.3</text><text x="1741.9" y="474" font-size="9.41" fill="#222" text-anchor="end" textLength="14.9" lengthAdjust="spacingAndGlyphs">1.1</text><text x="1798.1" y="495.7" font-size="9.41" fill="#222" text-anchor="end" textLength="14.9" lengthAdjust="spacingAndGlyphs">0.9</text><text x="1854.4" y="517.4" font-size="9.41" fill="#222" text-anchor="end" textLength="14.9" lengthAdjust="spacingAndGlyphs">0.7</text><text x="1910.6" y="539.1" font-size="9.41" fill="#222" text-anchor="end" textLength="14.9" lengthAdjust="spacingAndGlyphs">0.5</text><text x="1925" y="539.1" font-size="9.41" fill="#222" textLength="12.3" lengthAdjust="spacingAndGlyphs">85</text><text x="1969.9" y="521.8" font-size="9.41" fill="#222" textLength="12.3" lengthAdjust="spacingAndGlyphs">91</text><text x="2014.9" y="504.4" font-size="9.41" fill="#222" textLength="12.3" lengthAdjust="spacingAndGlyphs">97</text><text x="2059.9" y="487" font-size="9.41" fill="#222" textLength="18.5" lengthAdjust="spacingAndGlyphs">103</text><text x="2104.9" y="469.7" font-size="9.41" fill="#222" textLength="18.5" lengthAdjust="spacingAndGlyphs">109</text><text x="2149.9" y="452.3" font-size="9.41" fill="#222" textLength="18.5" lengthAdjust="spacingAndGlyphs">115</text></g>
<text x="1656.5" y="521.9" font-size="10.37" fill="#222" textLength="122.8" lengthAdjust="spacingAndGlyphs">C: Feed Rate (g/min)</text>
<text x="2061.9" y="521.9" font-size="10.37" fill="#222" textLength="109.7" lengthAdjust="spacingAndGlyphs">B: Temperature (C)</text>
<text x="0" y="0" font-size="11.77" fill="#222" textLength="93" lengthAdjust="spacingAndGlyphs" transform="translate(1607.4,368.6) rotate(-90)">Solubility (mcg/mL)</text>
<text x="1904.9" y="82.9" font-size="17.50" fill="#111" textLength="104.2" lengthAdjust="spacingAndGlyphs">3D Surface</text>
<g stroke-width="0.6" stroke-linejoin="round"><path d="M1917.6,228.3 L1928,223.2 L1917.6,220.9 L1907.2,226Z" fill="#acff4c" stroke="#acff4c"/><path d="M1928.1,230.7 L1938.6,225.5 L1928,223.2 L1917.6,228.3Z" fill="#acff4c" stroke="#acff4c"/><path d="M1938.8,233.1 L1949.3,227.8 L1938.6,225.5 L1928.1,230.7Z" fill="#acff4c" stroke="#acff4c"/><path d="M1949.6,235.5 L1960.1,230.2 L1949.3,227.8 L1938.8,233.1Z" fill="#acff4c" stroke="#acff4c"/><path d="M1960.6,237.9 L1971.1,232.6 L1960.1,230.2 L1949.6,235.5Z" fill="#acff4c" stroke="#acff4c"/><path d="M1971.7,240.4 L1982.1,235 L1971.1,232.6 L1960.6,237.9Z" fill="#acff4c" stroke="#acff4c"/><path d="M1982.9,242.8 L1993.3,237.4 L1982.1,235 L1971.7,240.4Z" fill="#acff4c" stroke="#acff4c"/><path d="M1994.2,245.4 L2004.7,239.9 L1993.3,237.4 L1982.9,242.8Z" fill="#abff4c" stroke="#abff4c"/><path d="M2005.7,247.9 L2016.2,242.4 L2004.7,239.9 L1994.2,245.4Z" fill="#abff4c" stroke="#abff4c"/><path d="M2017.3,250.5 L2027.8,244.9 L2016.2,242.4 L2005.7,247.9Z" fill="#abff4c" stroke="#abff4c"/><path d="M2029.1,253.1 L2039.6,247.5 L2027.8,244.9 L2017.3,250.5Z" fill="#abff4c" stroke="#abff4c"/><path d="M2041,255.8 L2051.5,250.1 L2039.6,247.5 L2029.1,253.1Z" fill="#abff4c" stroke="#abff4c"/><path d="M2053.1,258.4 L2063.6,252.7 L2051.5,250.1 L2041,255.8Z" fill="#abff4c" stroke="#abff4c"/><path d="M2065.3,261.2 L2075.8,255.4 L2063.6,252.7 L2053.1,258.4Z" fill="#abff4c" stroke="#abff4c"/><path d="M2077.7,263.9 L2088.2,258.1 L2075.8,255.4 L2065.3,261.2Z" fill="#abff4c" stroke="#abff4c"/><path d="M2090.2,266.7 L2100.7,260.8 L2088.2,258.1 L2077.7,263.9Z" fill="#abff4c" stroke="#abff4c"/><path d="M2102.9,269.5 L2113.4,263.6 L2100.7,260.8 L2090.2,266.7Z" fill="#abff4c" stroke="#abff4c"/><path d="M2115.8,272.4 L2126.3,266.4 L2113.4,263.6 L2102.9,269.5Z" fill="#abff4c" stroke="#abff4c"/><path d="M2128.8,275.3 L2139.3,269.2 L2126.3,266.4 L2115.8,272.4Z" fill="#aaff4c" stroke="#aaff4c"/><path d="M2142,278.2 L2152.5,272.1 L2139.3,269.2 L2128.8,275.3Z" fill="#aaff4c" stroke="#aaff4c"/><path d="M1907,233.6 L1917.6,228.3 L1907.2,226 L1896.6,231.2Z" fill="#99ff4c" stroke="#99ff4c"/><path d="M1917.6,236 L1928.1,230.7 L1917.6,228.3 L1907,233.6Z" fill="#98ff4c" stroke="#98ff4c"/><path d="M1928.3,238.4 L1938.8,233.1 L1928.1,230.7 L1917.6,236Z" fill="#98ff4c" stroke="#98ff4c"/><path d="M1939.1,240.8 L1949.6,235.5 L1938.8,233.1 L1928.3,238.4Z" fill="#98ff4c" stroke="#98ff4c"/><path d="M1950,243.3 L1960.6,237.9 L1949.6,235.5 L1939.1,240.8Z" fill="#98ff4c" stroke="#98ff4c"/><path d="M1961.1,245.8 L1971.7,240.4 L1960.6,237.9 L1950,243.3Z" fill="#98ff4c" stroke="#98ff4c"/><path d="M1972.3,248.3 L1982.9,242.8 L1971.7,240.4 L1961.1,245.8Z" fill="#98ff4c" stroke="#98ff4c"/><path d="M1983.6,250.9 L1994.2,245.4 L1982.9,242.8 L1972.3,248.3Z" fill="#98ff4c" stroke="#98ff4c"/><path d="M1995.1,253.5 L2005.7,247.9 L1994.2,245.4 L1983.6,250.9Z" fill="#98ff4c" stroke="#98ff4c"/><path d="M2006.7,256.1 L2017.3,250.5 L2005.7,247.9 L1995.1,253.5Z" fill="#98ff4c" stroke="#98ff4c"/><path d="M2018.5,258.8 L2029.1,253.1 L2017.3,250.5 L2006.7,256.1Z" fill="#98ff4c" stroke="#98ff4c"/><path d="M2030.4,261.5 L2041,255.8 L2029.1,253.1 L2018.5,258.8Z" fill="#97ff4c" stroke="#97ff4c"/><path d="M2042.4,264.2 L2053.1,258.4 L2041,255.8 L2030.4,261.5Z" fill="#97ff4c" stroke="#97ff4c"/><path d="M2054.7,267 L2065.3,261.2 L2053.1,258.4 L2042.4,264.2Z" fill="#97ff4c" stroke="#97ff4c"/><path d="M2067,269.8 L2077.7,263.9 L2065.3,261.2 L2054.7,267Z" fill="#97ff4c" stroke="#97ff4c"/><path d="M2079.6,272.6 L2090.2,266.7 L2077.7,263.9 L2067,269.8Z" fill="#97ff4c" stroke="#97ff4c"/><path d="M2092.3,275.5 L2102.9,269.5 L2090.2,266.7 L2079.6,272.6Z" fill="#97ff4c" stroke="#97ff4c"/><path d="M2105.2,278.4 L2115.8,272.4 L2102.9,269.5 L2092.3,275.5Z" fill="#97ff4c" stroke="#97ff4c"/><path d="M2118.2,281.4 L2128.8,275.3 L2115.8,272.4 L2105.2,278.4Z" fill="#97ff4c" stroke="#97ff4c"/><path d="M2131.4,284.4 L2142,278.2 L2128.8,275.3 L2118.2,281.4Z" fill="#97ff4c" stroke="#97ff4c"/><path d="M1896.4,238.8 L1907,233.6 L1896.6,231.2 L1886,236.4Z" fill="#85ff4c" stroke="#85ff4c"/><path d="M1906.9,241.3 L1917.6,236 L1907,233.6 L1896.4,238.8Z" fill="#85ff4c" stroke="#85ff4c"/><path d="M1917.6,243.7 L1928.3,238.4 L1917.6,236 L1906.9,241.3Z" fill="#85ff4c" stroke="#85ff4c"/><path d="M1928.4,246.2 L1939.1,240.8 L1928.3,238.4 L1917.6,243.7Z" fill="#85ff4c" stroke="#85ff4c"/><path d="M1939.3,248.8 L1950,243.3 L1939.1,240.8 L1928.4,246.2Z" fill="#85ff4c" stroke="#85ff4c"/><path d="M1950.4,251.3 L1961.1,245.8 L1950,243.3 L1939.3,248.8Z" fill="#84ff4c" stroke="#84ff4c"/><path d="M1961.5,253.9 L1972.3,248.3 L1961.1,245.8 L1950.4,251.3Z" fill="#84ff4c" stroke="#84ff4c"/><path d="M1972.9,256.5 L1983.6,250.9 L1972.3,248.3 L1961.5,253.9Z" fill="#84ff4c" stroke="#84ff4c"/><path d="M1984.4,259.1 L1995.1,253.5 L1983.6,250.9 L1972.9,256.5Z" fill="#84ff4c" stroke="#84ff4c"/><path d="M1996,261.8 L2006.7,256.1 L1995.1,253.5 L1984.4,259.1Z" fill="#84ff4c" stroke="#84ff4c"/><path d="M2007.7,264.5 L2018.5,258.8 L2006.7,256.1 L1996,261.8Z" fill="#84ff4c" stroke="#84ff4c"/><path d="M2019.6,267.3 L2030.4,261.5 L2018.5,258.8 L2007.7,264.5Z" fill="#84ff4c" stroke="#84ff4c"/><path d="M2031.7,270.1 L2042.4,264.2 L2030.4,261.5 L2019.6,267.3Z" fill="#84ff4c" stroke="#84ff4c"/><path d="M2043.9,272.9 L2054.7,267 L2042.4,264.2 L2031.7,270.1Z" fill="#84ff4c" stroke="#84ff4c"/><path d="M2056.3,275.8 L2067,269.8 L2054.7,267 L2043.9,272.9Z" fill="#83ff4c" stroke="#83ff4c"/><path d="M2068.8,278.6 L2079.6,272.6 L2067,269.8 L2056.3,275.8Z" fill="#83ff4c" stroke="#83ff4c"/><path d="M2081.5,281.6 L2092.3,275.5 L2079.6,272.6 L2068.8,278.6Z" fill="#83ff4c" stroke="#83ff4c"/><path d="M2094.4,284.5 L2105.2,278.4 L2092.3,275.5 L2081.5,281.6Z" fill="#83ff4c" stroke="#83ff4c"/><path d="M2107.5,287.6 L2118.2,281.4 L2105.2,278.4 L2094.4,284.5Z" fill="#83ff4c" stroke="#83ff4c"/><path d="M2120.7,290.6 L2131.4,284.4 L2118.2,281.4 L2107.5,287.6Z" fill="#83ff4c" stroke="#83ff4c"/><path d="M1885.6,244.2 L1896.4,238.8 L1886,236.4 L1875.2,241.7Z" fill="#71ff4c" stroke="#71ff4c"/><path d="M1896.1,246.7 L1906.9,241.3 L1896.4,238.8 L1885.6,244.2Z" fill="#71ff4c" stroke="#71ff4c"/><path d="M1906.8,249.2 L1917.6,243.7 L1906.9,241.3 L1896.1,246.7Z" fill="#71ff4c" stroke="#71ff4c"/><path d="M1917.6,251.7 L1928.4,246.2 L1917.6,243.7 L1906.8,249.2Z" fill="#71ff4c" stroke="#71ff4c"/><path d="M1928.5,254.3 L1939.3,248.8 L1928.4,246.2 L1917.6,251.7Z" fill="#71ff4c" stroke="#71ff4c"/><path d="M1939.5,256.9 L1950.4,251.3 L1939.3,248.8 L1928.5,254.3Z" fill="#71ff4c" stroke="#71ff4c"/><path d="M1950.7,259.5 L1961.5,253.9 L1950.4,251.3 L1939.5,256.9Z" fill="#71ff4c" stroke="#71ff4c"/><path d="M1962,262.2 L1972.9,256.5 L1961.5,253.9 L1950.7,259.5Z" fill="#71ff4c" stroke="#71ff4c"/><path d="M1973.5,264.9 L1984.4,259.1 L1972.9,256.5 L1962,262.2Z" fill="#70ff4c" stroke="#70ff4c"/><path d="M1985.1,267.6 L1996,261.8 L1984.4,259.1 L1973.5,264.9Z" fill="#70ff4c" stroke="#70ff4c"/><path d="M1996.9,270.4 L2007.7,264.5 L1996,261.8 L1985.1,267.6Z" fill="#70ff4c" stroke="#70ff4c"/><path d="M2008.8,273.2 L2019.6,267.3 L2007.7,264.5 L1996.9,270.4Z" fill="#70ff4c" stroke="#70ff4c"/><path d="M2020.9,276 L2031.7,270.1 L2019.6,267.3 L2008.8,273.2Z" fill="#70ff4c" stroke="#70ff4c"/><path d="M2033.1,278.9 L2043.9,272.9 L2031.7,270.1 L2020.9,276Z" fill="#70ff4c" stroke="#70ff4c"/><path d="M2045.4,281.8 L2056.3,275.8 L2043.9,272.9 L2033.1,278.9Z" fill="#70ff4c" stroke="#70ff4c"/><path d="M2058,284.7 L2068.8,278.6 L2056.3,275.8 L2045.4,281.8Z" fill="#70ff4c" stroke="#70ff4c"/><path d="M2070.7,287.7 L2081.5,281.6 L2068.8,278.6 L2058,284.7Z" fill="#6fff4c" stroke="#6fff4c"/><path d="M2083.6,290.7 L2094.4,284.5 L2081.5,281.6 L2070.7,287.7Z" fill="#6fff4c" stroke="#6fff4c"/><path d="M2096.6,293.8 L2107.5,287.6 L2094.4,284.5 L2083.6,290.7Z" fill="#6fff4c" stroke="#6fff4c"/><path d="M2109.8,296.9 L2120.7,290.6 L2107.5,287.6 L2096.6,293.8Z" fill="#6fff4c" stroke="#6fff4c"/><path d="M1874.7,249.6 L1885.6,244.2 L1875.2,241.7 L1864.3,247.1Z" fill="#5eff4c" stroke="#5eff4c"/><path d="M1885.2,252.1 L1896.1,246.7 L1885.6,244.2 L1874.7,249.6Z" fill="#5eff4c" stroke="#5eff4c"/><path d="M1895.9,254.6 L1906.8,249.2 L1896.1,246.7 L1885.2,252.1Z" fill="#5eff4c" stroke="#5eff4c"/><path d="M1906.7,257.2 L1917.6,251.7 L1906.8,249.2 L1895.9,254.6Z" fill="#5dff4c" stroke="#5dff4c"/><path d="M1917.6,259.8 L1928.5,254.3 L1917.6,251.7 L1906.7,257.2Z" fill="#5dff4c" stroke="#5dff4c"/><path d="M1928.6,262.5 L1939.5,256.9 L1928.5,254.3 L1917.6,259.8Z" fill="#5dff4c" stroke="#5dff4c"/><path d="M1939.8,265.2 L1950.7,259.5 L1939.5,256.9 L1928.6,262.5Z" fill="#5dff4c" stroke="#5dff4c"/><path d="M1951.1,267.9 L1962,262.2 L1950.7,259.5 L1939.8,265.2Z" fill="#5dff4c" stroke="#5dff4c"/><path d="M1962.6,270.6 L1973.5,264.9 L1962,262.2 L1951.1,267.9Z" fill="#5dff4c" stroke="#5dff4c"/><path d="M1974.2,273.4 L1985.1,267.6 L1973.5,264.9 L1962.6,270.6Z" fill="#5dff4c" stroke="#5dff4c"/><path d="M1985.9,276.2 L1996.9,270.4 L1985.1,267.6 L1974.2,273.4Z" fill="#5dff4c" stroke="#5dff4c"/><path d="M1997.8,279.1 L2008.8,273.2 L1996.9,270.4 L1985.9,276.2Z" fill="#5cff4c" stroke="#5cff4c"/><path d="M2009.9,282 L2020.9,276 L2008.8,273.2 L1997.8,279.1Z" fill="#5cff4c" stroke="#5cff4c"/><path d="M2022.1,284.9 L2033.1,278.9 L2020.9,276 L2009.9,282Z" fill="#5cff4c" stroke="#5cff4c"/><path d="M2034.5,287.9 L2045.4,281.8 L2033.1,278.9 L2022.1,284.9Z" fill="#5cff4c" stroke="#5cff4c"/><path d="M2047,290.9 L2058,284.7 L2045.4,281.8 L2034.5,287.9Z" fill="#5cff4c" stroke="#5cff4c"/><path d="M2059.7,293.9 L2070.7,287.7 L2058,284.7 L2047,290.9Z" fill="#5cff4c" stroke="#5cff4c"/><path d="M2072.6,297 L2083.6,290.7 L2070.7,287.7 L2059.7,293.9Z" fill="#5cff4c" stroke="#5cff4c"/><path d="M2085.6,300.1 L2096.6,293.8 L2083.6,290.7 L2072.6,297Z" fill="#5bff4c" stroke="#5bff4c"/><path d="M2098.8,303.3 L2109.8,296.9 L2096.6,293.8 L2085.6,300.1Z" fill="#5bff4c" stroke="#5bff4c"/><path d="M1863.7,255 L1874.7,249.6 L1864.3,247.1 L1853.3,252.5Z" fill="#4cff4f" stroke="#4cff4f"/><path d="M1874.2,257.6 L1885.2,252.1 L1874.7,249.6 L1863.7,255Z" fill="#4cff4f" stroke="#4cff4f"/><path d="M1884.9,260.2 L1895.9,254.6 L1885.2,252.1 L1874.2,257.6Z" fill="#4cff4f" stroke="#4cff4f"/><path d="M1895.6,262.8 L1906.7,257.2 L1895.9,254.6 L1884.9,260.2Z" fill="#4cff4f" stroke="#4cff4f"/><path d="M1906.5,265.5 L1917.6,259.8 L1906.7,257.2 L1895.6,262.8Z" fill="#4cff4f" stroke="#4cff4f"/><path d="M1917.5,268.2 L1928.6,262.5 L1917.6,259.8 L1906.5,265.5Z" fill="#4cff4f" stroke="#4cff4f"/><path d="M1928.7,270.9 L1939.8,265.2 L1928.6,262.5 L1917.5,268.2Z" fill="#4cff50" stroke="#4cff50"/><path d="M1940,273.7 L1951.1,267.9 L1939.8,265.2 L1928.7,270.9Z" fill="#4cff50" stroke="#4cff50"/><path d="M1951.5,276.5 L1962.6,270.6 L1951.1,267.9 L1940,273.7Z" fill="#4cff50" stroke="#4cff50"/><path d="M1963.1,279.3 L1974.2,273.4 L1962.6,270.6 L1951.5,276.5Z" fill="#4cff50" stroke="#4cff50"/><path d="M1974.8,282.2 L1985.9,276.2 L1974.2,273.4 L1963.1,279.3Z" fill="#4cff50" stroke="#4cff50"/><path d="M1986.7,285.1 L1997.8,279.1 L1985.9,276.2 L1974.8,282.2Z" fill="#4cff50" stroke="#4cff50"/><path d="M1998.8,288 L2009.9,282 L1997.8,279.1 L1986.7,285.1Z" fill="#4cff50" stroke="#4cff50"/><path d="M2011,291 L2022.1,284.9 L2009.9,282 L1998.8,288Z" fill="#4cff51" stroke="#4cff51"/><path d="M2023.4,294 L2034.5,287.9 L2022.1,284.9 L2011,291Z" fill="#4cff51" stroke="#4cff51"/><path d="M2035.9,297.1 L2047,290.9 L2034.5,287.9 L2023.4,294Z" fill="#4cff51" stroke="#4cff51"/><path d="M2048.6,300.2 L2059.7,293.9 L2047,290.9 L2035.9,297.1Z" fill="#4cff51" stroke="#4cff51"/><path d="M2061.5,303.3 L2072.6,297 L2059.7,293.9 L2048.6,300.2Z" fill="#4cff51" stroke="#4cff51"/><path d="M2074.5,306.5 L2085.6,300.1 L2072.6,297 L2061.5,303.3Z" fill="#4cff51" stroke="#4cff51"/><path d="M2087.7,309.8 L2098.8,303.3 L2085.6,300.1 L2074.5,306.5Z" fill="#4cff52" stroke="#4cff52"/><path d="M1852.6,260.5 L1863.7,255 L1853.3,252.5 L1842.2,257.9Z" fill="#4cff62" stroke="#4cff62"/><path d="M1863.1,263.1 L1874.2,257.6 L1863.7,255 L1852.6,260.5Z" fill="#4cff62" stroke="#4cff62"/><path d="M1873.7,265.8 L1884.9,260.2 L1874.2,257.6 L1863.1,263.1Z" fill="#4cff63" stroke="#4cff63"/><path d="M1884.5,268.4 L1895.6,262.8 L1884.9,260.2 L1873.7,265.8Z" fill="#4cff63" stroke="#4cff63"/><path d="M1895.4,271.2 L1906.5,265.5 L1895.6,262.8 L1884.5,268.4Z" fill="#4cff63" stroke="#4cff63"/><path d="M1906.4,273.9 L1917.5,268.2 L1906.5,265.5 L1895.4,271.2Z" fill="#4cff63" stroke="#4cff63"/><path d="M1917.5,276.7 L1928.7,270.9 L1917.5,268.2 L1906.4,273.9Z" fill="#4cff63" stroke="#4cff63"/><path d="M1928.8,279.5 L1940,273.7 L1928.7,270.9 L1917.5,276.7Z" fill="#4cff63" stroke="#4cff63"/><path d="M1940.3,282.4 L1951.5,276.5 L1940,273.7 L1928.8,279.5Z" fill="#4cff64" stroke="#4cff64"/><path d="M1951.9,285.2 L1963.1,279.3 L1951.5,276.5 L1940.3,282.4Z" fill="#4cff64" stroke="#4cff64"/><path d="M1963.6,288.2 L1974.8,282.2 L1963.1,279.3 L1951.9,285.2Z" fill="#4cff64" stroke="#4cff64"/><path d="M1975.5,291.1 L1986.7,285.1 L1974.8,282.2 L1963.6,288.2Z" fill="#4cff64" stroke="#4cff64"/><path d="M1987.6,294.1 L1998.8,288 L1986.7,285.1 L1975.5,291.1Z" fill="#4cff64" stroke="#4cff64"/><path d="M1999.8,297.2 L2011,291 L1998.8,288 L1987.6,294.1Z" fill="#4cff64" stroke="#4cff64"/><path d="M2012.1,300.3 L2023.4,294 L2011,291 L1999.8,297.2Z" fill="#4cff65" stroke="#4cff65"/><path d="M2024.7,303.4 L2035.9,297.1 L2023.4,294 L2012.1,300.3Z" fill="#4cff65" stroke="#4cff65"/><path d="M2037.4,306.5 L2048.6,300.2 L2035.9,297.1 L2024.7,303.4Z" fill="#4cff65" stroke="#4cff65"/><path d="M2050.2,309.7 L2061.5,303.3 L2048.6,300.2 L2037.4,306.5Z" fill="#4cff65" stroke="#4cff65"/><path d="M2063.3,313 L2074.5,306.5 L2061.5,303.3 L2050.2,309.7Z" fill="#4cff65" stroke="#4cff65"/><path d="M2076.5,316.3 L2087.7,309.8 L2074.5,306.5 L2063.3,313Z" fill="#4cff65" stroke="#4cff65"/><path d="M1841.4,266.1 L1852.6,260.5 L1842.2,257.9 L1831,263.4Z" fill="#4cff76" stroke="#4cff76"/><path d="M1851.9,268.7 L1863.1,263.1 L1852.6,260.5 L1841.4,266.1Z" fill="#4cff76" stroke="#4cff76"/><path d="M1862.5,271.4 L1873.7,265.8 L1863.1,263.1 L1851.9,268.7Z" fill="#4cff76" stroke="#4cff76"/><path d="M1873.2,274.1 L1884.5,268.4 L1873.7,265.8 L1862.5,271.4Z" fill="#4cff76" stroke="#4cff76"/><path d="M1884.1,276.9 L1895.4,271.2 L1884.5,268.4 L1873.2,274.1Z" fill="#4cff76" stroke="#4cff76"/><path d="M1895.1,279.7 L1906.4,273.9 L1895.4,271.2 L1884.1,276.9Z" fill="#4cff77" stroke="#4cff77"/><path d="M1906.2,282.5 L1917.5,276.7 L1906.4,273.9 L1895.1,279.7Z" fill="#4cff77" stroke="#4cff77"/><path d="M1917.5,285.4 L1928.8,279.5 L1917.5,276.7 L1906.2,282.5Z" fill="#4cff77" stroke="#4cff77"/><path d="M1929,288.3 L1940.3,282.4 L1928.8,279.5 L1917.5,285.4Z" fill="#4cff77" stroke="#4cff77"/><path d="M1940.5,291.3 L1951.9,285.2 L1940.3,282.4 L1929,288.3Z" fill="#4cff77" stroke="#4cff77"/><path d="M1952.3,294.2 L1963.6,288.2 L1951.9,285.2 L1940.5,291.3Z" fill="#4cff78" stroke="#4cff78"/><path d="M1964.2,297.3 L1975.5,291.1 L1963.6,288.2 L1952.3,294.2Z" fill="#4cff78" stroke="#4cff78"/><path d="M1976.2,300.3 L1987.6,294.1 L1975.5,291.1 L1964.2,297.3Z" fill="#4cff78" stroke="#4cff78"/><path d="M1988.4,303.4 L1999.8,297.2 L1987.6,294.1 L1976.2,300.3Z" fill="#4cff78" stroke="#4cff78"/><path d="M2000.8,306.6 L2012.1,300.3 L1999.8,297.2 L1988.4,303.4Z" fill="#4cff78" stroke="#4cff78"/><path d="M2013.3,309.7 L2024.7,303.4 L2012.1,300.3 L2000.8,306.6Z" fill="#4cff78" stroke="#4cff78"/><path d="M2026,313 L2037.4,306.5 L2024.7,303.4 L2013.3,309.7Z" fill="#4cff79" stroke="#4cff79"/><path d="M2038.9,316.2 L2050.2,309.7 L2037.4,306.5 L2026,313Z" fill="#4cff79" stroke="#4cff79"/><path d="M2051.9,319.5 L2063.3,313 L2050.2,309.7 L2038.9,316.2Z" fill="#4cff79" stroke="#4cff79"/><path d="M2065.1,322.9 L2076.5,316.3 L2063.3,313 L2051.9,319.5Z" fill="#4cff79" stroke="#4cff79"/><path d="M1830,271.7 L1841.4,266.1 L1831,263.4 L1819.7,269Z" fill="#4cff89" stroke="#4cff89"/><path d="M1840.5,274.4 L1851.9,268.7 L1841.4,266.1 L1830,271.7Z" fill="#4cff89" stroke="#4cff89"/><path d="M1851.1,277.1 L1862.5,271.4 L1851.9,268.7 L1840.5,274.4Z" fill="#4cff8a" stroke="#4cff8a"/><path d="M1861.8,279.9 L1873.2,274.1 L1862.5,271.4 L1851.1,277.1Z" fill="#4cff8a" stroke="#4cff8a"/><path d="M1872.7,282.7 L1884.1,276.9 L1873.2,274.1 L1861.8,279.9Z" fill="#4cff8a" stroke="#4cff8a"/><path d="M1883.7,285.6 L1895.1,279.7 L1884.1,276.9 L1872.7,282.7Z" fill="#4cff8a" stroke="#4cff8a"/><path d="M1894.8,288.5 L1906.2,282.5 L1895.1,279.7 L1883.7,285.6Z" fill="#4cff8a" stroke="#4cff8a"/><path d="M1906.1,291.4 L1917.5,285.4 L1906.2,282.5 L1894.8,288.5Z" fill="#4cff8b" stroke="#4cff8b"/><path d="M1917.5,294.3 L1929,288.3 L1917.5,285.4 L1906.1,291.4Z" fill="#4cff8b" stroke="#4cff8b"/><path d="M1929.1,297.3 L1940.5,291.3 L1929,288.3 L1917.5,294.3Z" fill="#4cff8b" stroke="#4cff8b"/><path d="M1940.8,300.4 L1952.3,294.2 L1940.5,291.3 L1929.1,297.3Z" fill="#4cff8b" stroke="#4cff8b"/><path d="M1952.7,303.4 L1964.2,297.3 L1952.3,294.2 L1940.8,300.4Z" fill="#4cff8b" stroke="#4cff8b"/><path d="M1964.7,306.6 L1976.2,300.3 L1964.2,297.3 L1952.7,303.4Z" fill="#4cff8c" stroke="#4cff8c"/><path d="M1976.9,309.7 L1988.4,303.4 L1976.2,300.3 L1964.7,306.6Z" fill="#4cff8c" stroke="#4cff8c"/><path d="M1989.3,312.9 L2000.8,306.6 L1988.4,303.4 L1976.9,309.7Z" fill="#4cff8c" stroke="#4cff8c"/><path d="M2001.8,316.2 L2013.3,309.7 L2000.8,306.6 L1989.3,312.9Z" fill="#4cff8c" stroke="#4cff8c"/><path d="M2014.5,319.5 L2026,313 L2013.3,309.7 L2001.8,316.2Z" fill="#4cff8c" stroke="#4cff8c"/><path d="M2027.4,322.8 L2038.9,316.2 L2026,313 L2014.5,319.5Z" fill="#4cff8d" stroke="#4cff8d"/><path d="M2040.4,326.2 L2051.9,319.5 L2038.9,316.2 L2027.4,322.8Z" fill="#4cff8d" stroke="#4cff8d"/><path d="M2053.6,329.6 L2065.1,322.9 L2051.9,319.5 L2040.4,326.2Z" fill="#4cff8d" stroke="#4cff8d"/><path d="M1818.6,277.4 L1830,271.7 L1819.7,269 L1808.3,274.6Z" fill="#4cff9d" stroke="#4cff9d"/><path d="M1829,280.1 L1840.5,274.4 L1830,271.7 L1818.6,277.4Z" fill="#4cff9d" stroke="#4cff9d"/><path d="M1839.6,282.9 L1851.1,277.1 L1840.5,274.4 L1829,280.1Z" fill="#4cff9d" stroke="#4cff9d"/><path d="M1850.3,285.7 L1861.8,279.9 L1851.1,277.1 L1839.6,282.9Z" fill="#4cff9d" stroke="#4cff9d"/><path d="M1861.2,288.6 L1872.7,282.7 L1861.8,279.9 L1850.3,285.7Z" fill="#4cff9e" stroke="#4cff9e"/><path d="M1872.1,291.5 L1883.7,285.6 L1872.7,282.7 L1861.2,288.6Z" fill="#4cff9e" stroke="#4cff9e"/><path d="M1883.3,294.4 L1894.8,288.5 L1883.7,285.6 L1872.1,291.5Z" fill="#4cff9e" stroke="#4cff9e"/><path d="M1894.5,297.4 L1906.1,291.4 L1894.8,288.5 L1883.3,294.4Z" fill="#4cff9e" stroke="#4cff9e"/><path d="M1906,300.4 L1917.5,294.3 L1906.1,291.4 L1894.5,297.4Z" fill="#4cff9e" stroke="#4cff9e"/><path d="M1917.5,303.5 L1929.1,297.3 L1917.5,294.3 L1906,300.4Z" fill="#4cff9f" stroke="#4cff9f"/><path d="M1929.2,306.6 L1940.8,300.4 L1929.1,297.3 L1917.5,303.5Z" fill="#4cff9f" stroke="#4cff9f"/><path d="M1941.1,309.7 L1952.7,303.4 L1940.8,300.4 L1929.2,306.6Z" fill="#4cff9f" stroke="#4cff9f"/><path d="M1953.1,312.9 L1964.7,306.6 L1952.7,303.4 L1941.1,309.7Z" fill="#4cff9f" stroke="#4cff9f"/><path d="M1965.3,316.1 L1976.9,309.7 L1964.7,306.6 L1953.1,312.9Z" fill="#4cff9f" stroke="#4cff9f"/><path d="M1977.7,319.4 L1989.3,312.9 L1976.9,309.7 L1965.3,316.1Z" fill="#4cffa0" stroke="#4cffa0"/><path d="M1990.2,322.7 L2001.8,316.2 L1989.3,312.9 L1977.7,319.4Z" fill="#4cffa0" stroke="#4cffa0"/><path d="M2002.9,326 L2014.5,319.5 L2001.8,316.2 L1990.2,322.7Z" fill="#4cffa0" stroke="#4cffa0"/><path d="M2015.7,329.4 L2027.4,322.8 L2014.5,319.5 L2002.9,326Z" fill="#4cffa0" stroke="#4cffa0"/><path d="M2028.8,332.9 L2040.4,326.2 L2027.4,322.8 L2015.7,329.4Z" fill="#4cffa0" stroke="#4cffa0"/><path d="M2042,336.4 L2053.6,329.6 L2040.4,326.2 L2028.8,332.9Z" fill="#4cffa1" stroke="#4cffa1"/><path d="M1807,283.1 L1818.6,277.4 L1808.3,274.6 L1796.7,280.3Z" fill="#4cffb0" stroke="#4cffb0"/><path d="M1817.4,285.9 L1829,280.1 L1818.6,277.4 L1807,283.1Z" fill="#4cffb1" stroke="#4cffb1"/><path d="M1828,288.7 L1839.6,282.9 L1829,280.1 L1817.4,285.9Z" fill="#4cffb1" stroke="#4cffb1"/><path d="M1838.7,291.6 L1850.3,285.7 L1839.6,282.9 L1828,288.7Z" fill="#4cffb1" stroke="#4cffb1"/><path d="M1849.5,294.5 L1861.2,288.6 L1850.3,285.7 L1838.7,291.6Z" fill="#4cffb1" stroke="#4cffb1"/><path d="M1860.5,297.5 L1872.1,291.5 L1861.2,288.6 L1849.5,294.5Z" fill="#4cffb1" stroke="#4cffb1"/><path d="M1871.6,300.5 L1883.3,294.4 L1872.1,291.5 L1860.5,297.5Z" fill="#4cffb2" stroke="#4cffb2"/><path d="M1882.8,303.5 L1894.5,297.4 L1883.3,294.4 L1871.6,300.5Z" fill="#4cffb2" stroke="#4cffb2"/><path d="M1894.3,306.6 L1906,300.4 L1894.5,297.4 L1882.8,303.5Z" fill="#4cffb2" stroke="#4cffb2"/><path d="M1905.8,309.7 L1917.5,303.5 L1906,300.4 L1894.3,306.6Z" fill="#4cffb2" stroke="#4cffb2"/><path d="M1917.5,312.9 L1929.2,306.6 L1917.5,303.5 L1905.8,309.7Z" fill="#4cffb3" stroke="#4cffb3"/><path d="M1929.4,316.1 L1941.1,309.7 L1929.2,306.6 L1917.5,312.9Z" fill="#4cffb3" stroke="#4cffb3"/><path d="M1941.4,319.3 L1953.1,312.9 L1941.1,309.7 L1929.4,316.1Z" fill="#4cffb3" stroke="#4cffb3"/><path d="M1953.6,322.6 L1965.3,316.1 L1953.1,312.9 L1941.4,319.3Z" fill="#4cffb3" stroke="#4cffb3"/><path d="M1965.9,325.9 L1977.7,319.4 L1965.3,316.1 L1953.6,322.6Z" fill="#4cffb3" stroke="#4cffb3"/><path d="M1978.4,329.3 L1990.2,322.7 L1977.7,319.4 L1965.9,325.9Z" fill="#4cffb4" stroke="#4cffb4"/><path d="M1991.1,332.7 L2002.9,326 L1990.2,322.7 L1978.4,329.3Z" fill="#4cffb4" stroke="#4cffb4"/><path d="M2003.9,336.1 L2015.7,329.4 L2002.9,326 L1991.1,332.7Z" fill="#4cffb4" stroke="#4cffb4"/><path d="M2017,339.7 L2028.8,332.9 L2015.7,329.4 L2003.9,336.1Z" fill="#4cffb4" stroke="#4cffb4"/><path d="M2030.2,343.2 L2042,336.4 L2028.8,332.9 L2017,339.7Z" fill="#4cffb4" stroke="#4cffb4"/><path d="M1795.3,288.9 L1807,283.1 L1796.7,280.3 L1785,286.1Z" fill="#4cffc4" stroke="#4cffc4"/><path d="M1805.7,291.7 L1817.4,285.9 L1807,283.1 L1795.3,288.9Z" fill="#4cffc4" stroke="#4cffc4"/><path d="M1816.2,294.6 L1828,288.7 L1817.4,285.9 L1805.7,291.7Z" fill="#4cffc4" stroke="#4cffc4"/><path d="M1826.9,297.6 L1838.7,291.6 L1828,288.7 L1816.2,294.6Z" fill="#4cffc5" stroke="#4cffc5"/><path d="M1837.7,300.5 L1849.5,294.5 L1838.7,291.6 L1826.9,297.6Z" fill="#4cffc5" stroke="#4cffc5"/><path d="M1848.7,303.6 L1860.5,297.5 L1849.5,294.5 L1837.7,300.5Z" fill="#4cffc5" stroke="#4cffc5"/><path d="M1859.8,306.6 L1871.6,300.5 L1860.5,297.5 L1848.7,303.6Z" fill="#4cffc5" stroke="#4cffc5"/><path d="M1871,309.7 L1882.8,303.5 L1871.6,300.5 L1859.8,306.6Z" fill="#4cffc6" stroke="#4cffc6"/><path d="M1882.4,312.8 L1894.3,306.6 L1882.8,303.5 L1871,309.7Z" fill="#4cffc6" stroke="#4cffc6"/><path d="M1894,316 L1905.8,309.7 L1894.3,306.6 L1882.4,312.8Z" fill="#4cffc6" stroke="#4cffc6"/><path d="M1905.6,319.2 L1917.5,312.9 L1905.8,309.7 L1894,316Z" fill="#4cffc6" stroke="#4cffc6"/><path d="M1917.5,322.5 L1929.4,316.1 L1917.5,312.9 L1905.6,319.2Z" fill="#4cffc6" stroke="#4cffc6"/><path d="M1929.5,325.8 L1941.4,319.3 L1929.4,316.1 L1917.5,322.5Z" fill="#4cffc7" stroke="#4cffc7"/><path d="M1941.7,329.1 L1953.6,322.6 L1941.4,319.3 L1929.5,325.8Z" fill="#4cffc7" stroke="#4cffc7"/><path d="M1954,332.5 L1965.9,325.9 L1953.6,322.6 L1941.7,329.1Z" fill="#4cffc7" stroke="#4cffc7"/><path d="M1966.5,335.9 L1978.4,329.3 L1965.9,325.9 L1954,332.5Z" fill="#4cffc7" stroke="#4cffc7"/><path d="M1979.2,339.4 L1991.1,332.7 L1978.4,329.3 L1966.5,335.9Z" fill="#4cffc8" stroke="#4cffc8"/><path d="M1992,342.9 L2003.9,336.1 L1991.1,332.7 L1979.2,339.4Z" fill="#4cffc8" stroke="#4cffc8"/><path d="M2005.1,346.5 L2017,339.7 L2003.9,336.1 L1992,342.9Z" fill="#4cffc8" stroke="#4cffc8"/><path d="M2018.3,350.1 L2030.2,343.2 L2017,339.7 L2005.1,346.5Z" fill="#4cffc8" stroke="#4cffc8"/><path d="M1783.4,294.7 L1795.3,288.9 L1785,286.1 L1773.2,291.9Z" fill="#4cffd7" stroke="#4cffd7"/><path d="M1793.8,297.7 L1805.7,291.7 L1795.3,288.9 L1783.4,294.7Z" fill="#4cffd8" stroke="#4cffd8"/><path d="M1804.4,300.6 L1816.2,294.6 L1805.7,291.7 L1793.8,297.7Z" fill="#4cffd8" stroke="#4cffd8"/><path d="M1815,303.6 L1826.9,297.6 L1816.2,294.6 L1804.4,300.6Z" fill="#4cffd8" stroke="#4cffd8"/><path d="M1825.8,306.6 L1837.7,300.5 L1826.9,297.6 L1815,303.6Z" fill="#4cffd8" stroke="#4cffd8"/><path d="M1836.8,309.7 L1848.7,303.6 L1837.7,300.5 L1825.8,306.6Z" fill="#4cffd9" stroke="#4cffd9"/><path d="M1847.9,312.8 L1859.8,306.6 L1848.7,303.6 L1836.8,309.7Z" fill="#4cffd9" stroke="#4cffd9"/><path d="M1859.1,315.9 L1871,309.7 L1859.8,306.6 L1847.9,312.8Z" fill="#4cffd9" stroke="#4cffd9"/><path d="M1870.5,319.1 L1882.4,312.8 L1871,309.7 L1859.1,315.9Z" fill="#4cffd9" stroke="#4cffd9"/><path d="M1882,322.4 L1894,316 L1882.4,312.8 L1870.5,319.1Z" fill="#4cffda" stroke="#4cffda"/><path d="M1893.7,325.6 L1905.6,319.2 L1894,316 L1882,322.4Z" fill="#4cffda" stroke="#4cffda"/><path d="M1905.5,328.9 L1917.5,322.5 L1905.6,319.2 L1893.7,325.6Z" fill="#4cffda" stroke="#4cffda"/><path d="M1917.5,332.3 L1929.5,325.8 L1917.5,322.5 L1905.5,328.9Z" fill="#4cffda" stroke="#4cffda"/><path d="M1929.6,335.7 L1941.7,329.1 L1929.5,325.8 L1917.5,332.3Z" fill="#4cffdb" stroke="#4cffdb"/><path d="M1942,339.2 L1954,332.5 L1941.7,329.1 L1929.6,335.7Z" fill="#4cffdb" stroke="#4cffdb"/><path d="M1954.5,342.7 L1966.5,335.9 L1954,332.5 L1942,339.2Z" fill="#4cffdb" stroke="#4cffdb"/><path d="M1967.1,346.2 L1979.2,339.4 L1966.5,335.9 L1954.5,342.7Z" fill="#4cffdb" stroke="#4cffdb"/><path d="M1980,349.8 L1992,342.9 L1979.2,339.4 L1967.1,346.2Z" fill="#4cffdc" stroke="#4cffdc"/><path d="M1993,353.5 L2005.1,346.5 L1992,342.9 L1980,349.8Z" fill="#4cffdc" stroke="#4cffdc"/><path d="M2006.2,357.2 L2018.3,350.1 L2005.1,346.5 L1993,353.5Z" fill="#4cffdc" stroke="#4cffdc"/><path d="M1771.5,300.7 L1783.4,294.7 L1773.2,291.9 L1761.2,297.7Z" fill="#4cffeb" stroke="#4cffeb"/><path d="M1781.9,303.6 L1793.8,297.7 L1783.4,294.7 L1771.5,300.7Z" fill="#4cffeb" stroke="#4cffeb"/><path d="M1792.4,306.6 L1804.4,300.6 L1793.8,297.7 L1781.9,303.6Z" fill="#4cffec" stroke="#4cffec"/><path d="M1803,309.7 L1815,303.6 L1804.4,300.6 L1792.4,306.6Z" fill="#4cffec" stroke="#4cffec"/><path d="M1813.8,312.8 L1825.8,306.6 L1815,303.6 L1803,309.7Z" fill="#4cffec" stroke="#4cffec"/><path d="M1824.7,315.9 L1836.8,309.7 L1825.8,306.6 L1813.8,312.8Z" fill="#4cffec" stroke="#4cffec"/><path d="M1835.8,319 L1847.9,312.8 L1836.8,309.7 L1824.7,315.9Z" fill="#4cffed" stroke="#4cffed"/><path d="M1847,322.2 L1859.1,315.9 L1847.9,312.8 L1835.8,319Z" fill="#4cffed" stroke="#4cffed"/><path d="M1858.4,325.5 L1870.5,319.1 L1859.1,315.9 L1847,322.2Z" fill="#4cffed" stroke="#4cffed"/><path d="M1869.9,328.8 L1882,322.4 L1870.5,319.1 L1858.4,325.5Z" fill="#4cffed" stroke="#4cffed"/><path d="M1881.5,332.1 L1893.7,325.6 L1882,322.4 L1869.9,328.8Z" fill="#4cffee" stroke="#4cffee"/><path d="M1893.3,335.5 L1905.5,328.9 L1893.7,325.6 L1881.5,332.1Z" fill="#4cffee" stroke="#4cffee"/><path d="M1905.3,338.9 L1917.5,332.3 L1905.5,328.9 L1893.3,335.5Z" fill="#4cffee" stroke="#4cffee"/><path d="M1917.5,342.4 L1929.6,335.7 L1917.5,332.3 L1905.3,338.9Z" fill="#4cffee" stroke="#4cffee"/><path d="M1929.8,345.9 L1942,339.2 L1929.6,335.7 L1917.5,342.4Z" fill="#4cffef" stroke="#4cffef"/><path d="M1942.3,349.5 L1954.5,342.7 L1942,339.2 L1929.8,345.9Z" fill="#4cffef" stroke="#4cffef"/><path d="M1954.9,353.1 L1967.1,346.2 L1954.5,342.7 L1942.3,349.5Z" fill="#4cffef" stroke="#4cffef"/><path d="M1967.8,356.8 L1980,349.8 L1967.1,346.2 L1954.9,353.1Z" fill="#4cffef" stroke="#4cffef"/><path d="M1980.8,360.5 L1993,353.5 L1980,349.8 L1967.8,356.8Z" fill="#4cfff0" stroke="#4cfff0"/><path d="M1994,364.3 L2006.2,357.2 L1993,353.5 L1980.8,360.5Z" fill="#4cfff0" stroke="#4cfff0"/><path d="M1759.4,306.6 L1771.5,300.7 L1761.2,297.7 L1749.2,303.7Z" fill="#4cffff" stroke="#4cffff"/><path d="M1769.8,309.7 L1781.9,303.6 L1771.5,300.7 L1759.4,306.6Z" fill="#4cffff" stroke="#4cffff"/><path d="M1780.2,312.7 L1792.4,306.6 L1781.9,303.6 L1769.8,309.7Z" fill="#4cffff" stroke="#4cffff"/><path d="M1790.9,315.8 L1803,309.7 L1792.4,306.6 L1780.2,312.7Z" fill="#4cffff" stroke="#4cffff"/><path d="M1801.6,319 L1813.8,312.8 L1803,309.7 L1790.9,315.8Z" fill="#4cfeff" stroke="#4cfeff"/><path d="M1812.5,322.1 L1824.7,315.9 L1813.8,312.8 L1801.6,319Z" fill="#4cfeff" stroke="#4cfeff"/><path d="M1823.6,325.4 L1835.8,319 L1824.7,315.9 L1812.5,322.1Z" fill="#4cfeff" stroke="#4cfeff"/><path d="M1834.8,328.6 L1847,322.2 L1835.8,319 L1823.6,325.4Z" fill="#4cfeff" stroke="#4cfeff"/><path d="M1846.1,331.9 L1858.4,325.5 L1847,322.2 L1834.8,328.6Z" fill="#4cfdff" stroke="#4cfdff"/><path d="M1857.6,335.3 L1869.9,328.8 L1858.4,325.5 L1846.1,331.9Z" fill="#4cfdff" stroke="#4cfdff"/><path d="M1869.3,338.7 L1881.5,332.1 L1869.9,328.8 L1857.6,335.3Z" fill="#4cfdff" stroke="#4cfdff"/><path d="M1881.1,342.1 L1893.3,335.5 L1881.5,332.1 L1869.3,338.7Z" fill="#4cfcff" stroke="#4cfcff"/><path d="M1893,345.6 L1905.3,338.9 L1893.3,335.5 L1881.1,342.1Z" fill="#4cfcff" stroke="#4cfcff"/><path d="M1905.2,349.2 L1917.5,342.4 L1905.3,338.9 L1893,345.6Z" fill="#4cfcff" stroke="#4cfcff"/><path d="M1917.5,352.8 L1929.8,345.9 L1917.5,342.4 L1905.2,349.2Z" fill="#4cfcff" stroke="#4cfcff"/><path d="M1929.9,356.4 L1942.3,349.5 L1929.8,345.9 L1917.5,352.8Z" fill="#4cfbff" stroke="#4cfbff"/><path d="M1942.6,360.1 L1954.9,353.1 L1942.3,349.5 L1929.9,356.4Z" fill="#4cfbff" stroke="#4cfbff"/><path d="M1955.4,363.8 L1967.8,356.8 L1954.9,353.1 L1942.6,360.1Z" fill="#4cfbff" stroke="#4cfbff"/><path d="M1968.4,367.6 L1980.8,360.5 L1967.8,356.8 L1955.4,363.8Z" fill="#4cfbff" stroke="#4cfbff"/><path d="M1981.6,371.5 L1994,364.3 L1980.8,360.5 L1968.4,367.6Z" fill="#4cfaff" stroke="#4cfaff"/><path d="M1747.2,312.7 L1759.4,306.6 L1749.2,303.7 L1737,309.7Z" fill="#4cecff" stroke="#4cecff"/><path d="M1757.5,315.8 L1769.8,309.7 L1759.4,306.6 L1747.2,312.7Z" fill="#4cecff" stroke="#4cecff"/><path d="M1768,318.9 L1780.2,312.7 L1769.8,309.7 L1757.5,315.8Z" fill="#4cebff" stroke="#4cebff"/><path d="M1778.6,322 L1790.9,315.8 L1780.2,312.7 L1768,318.9Z" fill="#4cebff" stroke="#4cebff"/><path d="M1789.3,325.2 L1801.6,319 L1790.9,315.8 L1778.6,322Z" fill="#4cebff" stroke="#4cebff"/><path d="M1800.2,328.5 L1812.5,322.1 L1801.6,319 L1789.3,325.2Z" fill="#4ceaff" stroke="#4ceaff"/><path d="M1811.2,331.8 L1823.6,325.4 L1812.5,322.1 L1800.2,328.5Z" fill="#4ceaff" stroke="#4ceaff"/><path d="M1822.4,335.1 L1834.8,328.6 L1823.6,325.4 L1811.2,331.8Z" fill="#4ceaff" stroke="#4ceaff"/><path d="M1833.7,338.5 L1846.1,331.9 L1834.8,328.6 L1822.4,335.1Z" fill="#4ceaff" stroke="#4ceaff"/><path d="M1845.2,341.9 L1857.6,335.3 L1846.1,331.9 L1833.7,338.5Z" fill="#4ce9ff" stroke="#4ce9ff"/><path d="M1856.8,345.3 L1869.3,338.7 L1857.6,335.3 L1845.2,341.9Z" fill="#4ce9ff" stroke="#4ce9ff"/><path d="M1868.6,348.8 L1881.1,342.1 L1869.3,338.7 L1856.8,345.3Z" fill="#4ce9ff" stroke="#4ce9ff"/><path d="M1880.6,352.4 L1893,345.6 L1881.1,342.1 L1868.6,348.8Z" fill="#4ce9ff" stroke="#4ce9ff"/><path d="M1892.7,356 L1905.2,349.2 L1893,345.6 L1880.6,352.4Z" fill="#4ce8ff" stroke="#4ce8ff"/><path d="M1905,359.7 L1917.5,352.8 L1905.2,349.2 L1892.7,356Z" fill="#4ce8ff" stroke="#4ce8ff"/><path d="M1917.4,363.4 L1929.9,356.4 L1917.5,352.8 L1905,359.7Z" fill="#4ce8ff" stroke="#4ce8ff"/><path d="M1930.1,367.1 L1942.6,360.1 L1929.9,356.4 L1917.4,363.4Z" fill="#4ce7ff" stroke="#4ce7ff"/><path d="M1942.9,371 L1955.4,363.8 L1942.6,360.1 L1930.1,367.1Z" fill="#4ce7ff" stroke="#4ce7ff"/><path d="M1955.9,374.8 L1968.4,367.6 L1955.4,363.8 L1942.9,371Z" fill="#4ce7ff" stroke="#4ce7ff"/><path d="M1969.1,378.7 L1981.6,371.5 L1968.4,367.6 L1955.9,374.8Z" fill="#4ce7ff" stroke="#4ce7ff"/><path d="M1734.8,318.8 L1747.2,312.7 L1737,309.7 L1724.6,315.7Z" fill="#4cd8ff" stroke="#4cd8ff"/><path d="M1745.1,321.9 L1757.5,315.8 L1747.2,312.7 L1734.8,318.8Z" fill="#4cd8ff" stroke="#4cd8ff"/><path d="M1755.6,325.1 L1768,318.9 L1757.5,315.8 L1745.1,321.9Z" fill="#4cd8ff" stroke="#4cd8ff"/><path d="M1766.2,328.3 L1778.6,322 L1768,318.9 L1755.6,325.1Z" fill="#4cd7ff" stroke="#4cd7ff"/><path d="M1776.9,331.6 L1789.3,325.2 L1778.6,322 L1766.2,328.3Z" fill="#4cd7ff" stroke="#4cd7ff"/><path d="M1787.7,334.9 L1800.2,328.5 L1789.3,325.2 L1776.9,331.6Z" fill="#4cd7ff" stroke="#4cd7ff"/><path d="M1798.7,338.2 L1811.2,331.8 L1800.2,328.5 L1787.7,334.9Z" fill="#4cd7ff" stroke="#4cd7ff"/><path d="M1809.9,341.6 L1822.4,335.1 L1811.2,331.8 L1798.7,338.2Z" fill="#4cd6ff" stroke="#4cd6ff"/><path d="M1821.2,345.1 L1833.7,338.5 L1822.4,335.1 L1809.9,341.6Z" fill="#4cd6ff" stroke="#4cd6ff"/><path d="M1832.7,348.5 L1845.2,341.9 L1833.7,338.5 L1821.2,345.1Z" fill="#4cd6ff" stroke="#4cd6ff"/><path d="M1844.3,352.1 L1856.8,345.3 L1845.2,341.9 L1832.7,348.5Z" fill="#4cd5ff" stroke="#4cd5ff"/><path d="M1856.1,355.6 L1868.6,348.8 L1856.8,345.3 L1844.3,352.1Z" fill="#4cd5ff" stroke="#4cd5ff"/><path d="M1868,359.3 L1880.6,352.4 L1868.6,348.8 L1856.1,355.6Z" fill="#4cd5ff" stroke="#4cd5ff"/><path d="M1880.1,362.9 L1892.7,356 L1880.6,352.4 L1868,359.3Z" fill="#4cd5ff" stroke="#4cd5ff"/><path d="M1892.4,366.7 L1905,359.7 L1892.7,356 L1880.1,362.9Z" fill="#4cd4ff" stroke="#4cd4ff"/><path d="M1904.8,370.4 L1917.4,363.4 L1905,359.7 L1892.4,366.7Z" fill="#4cd4ff" stroke="#4cd4ff"/><path d="M1917.4,374.3 L1930.1,367.1 L1917.4,363.4 L1904.8,370.4Z" fill="#4cd4ff" stroke="#4cd4ff"/><path d="M1930.2,378.2 L1942.9,371 L1930.1,367.1 L1917.4,374.3Z" fill="#4cd3ff" stroke="#4cd3ff"/><path d="M1943.2,382.1 L1955.9,374.8 L1942.9,371 L1930.2,378.2Z" fill="#4cd3ff" stroke="#4cd3ff"/><path d="M1956.4,386.1 L1969.1,378.7 L1955.9,374.8 L1943.2,382.1Z" fill="#4cd3ff" stroke="#4cd3ff"/><path d="M1722.3,325 L1734.8,318.8 L1724.6,315.7 L1712.2,321.8Z" fill="#4cc5ff" stroke="#4cc5ff"/><path d="M1732.6,328.2 L1745.1,321.9 L1734.8,318.8 L1722.3,325Z" fill="#4cc4ff" stroke="#4cc4ff"/><path d="M1743,331.4 L1755.6,325.1 L1745.1,321.9 L1732.6,328.2Z" fill="#4cc4ff" stroke="#4cc4ff"/><path d="M1753.6,334.7 L1766.2,328.3 L1755.6,325.1 L1743,331.4Z" fill="#4cc4ff" stroke="#4cc4ff"/><path d="M1764.3,338 L1776.9,331.6 L1766.2,328.3 L1753.6,334.7Z" fill="#4cc4ff" stroke="#4cc4ff"/><path d="M1775.1,341.4 L1787.7,334.9 L1776.9,331.6 L1764.3,338Z" fill="#4cc3ff" stroke="#4cc3ff"/><path d="M1786.1,344.8 L1798.7,338.2 L1787.7,334.9 L1775.1,341.4Z" fill="#4cc3ff" stroke="#4cc3ff"/><path d="M1797.3,348.2 L1809.9,341.6 L1798.7,338.2 L1786.1,344.8Z" fill="#4cc3ff" stroke="#4cc3ff"/><path d="M1808.5,351.7 L1821.2,345.1 L1809.9,341.6 L1797.3,348.2Z" fill="#4cc2ff" stroke="#4cc2ff"/><path d="M1820,355.3 L1832.7,348.5 L1821.2,345.1 L1808.5,351.7Z" fill="#4cc2ff" stroke="#4cc2ff"/><path d="M1831.6,358.9 L1844.3,352.1 L1832.7,348.5 L1820,355.3Z" fill="#4cc2ff" stroke="#4cc2ff"/><path d="M1843.3,362.5 L1856.1,355.6 L1844.3,352.1 L1831.6,358.9Z" fill="#4cc1ff" stroke="#4cc1ff"/><path d="M1855.3,366.2 L1868,359.3 L1856.1,355.6 L1843.3,362.5Z" fill="#4cc1ff" stroke="#4cc1ff"/><path d="M1867.3,370 L1880.1,362.9 L1868,359.3 L1855.3,366.2Z" fill="#4cc1ff" stroke="#4cc1ff"/><path d="M1879.6,373.8 L1892.4,366.7 L1880.1,362.9 L1867.3,370Z" fill="#4cc1ff" stroke="#4cc1ff"/><path d="M1892,377.6 L1904.8,370.4 L1892.4,366.7 L1879.6,373.8Z" fill="#4cc0ff" stroke="#4cc0ff"/><path d="M1904.6,381.5 L1917.4,374.3 L1904.8,370.4 L1892,377.6Z" fill="#4cc0ff" stroke="#4cc0ff"/><path d="M1917.4,385.5 L1930.2,378.2 L1917.4,374.3 L1904.6,381.5Z" fill="#4cc0ff" stroke="#4cc0ff"/><path d="M1930.4,389.5 L1943.2,382.1 L1930.2,378.2 L1917.4,385.5Z" fill="#4cbfff" stroke="#4cbfff"/><path d="M1943.6,393.6 L1956.4,386.1 L1943.2,382.1 L1930.4,389.5Z" fill="#4cbfff" stroke="#4cbfff"/><path d="M1709.7,331.2 L1722.3,325 L1712.2,321.8 L1699.5,328Z" fill="#4cb1ff" stroke="#4cb1ff"/><path d="M1719.9,334.5 L1732.6,328.2 L1722.3,325 L1709.7,331.2Z" fill="#4cb1ff" stroke="#4cb1ff"/><path d="M1730.3,337.8 L1743,331.4 L1732.6,328.2 L1719.9,334.5Z" fill="#4cb1ff" stroke="#4cb1ff"/><path d="M1740.9,341.1 L1753.6,334.7 L1743,331.4 L1730.3,337.8Z" fill="#4cb0ff" stroke="#4cb0ff"/><path d="M1751.6,344.5 L1764.3,338 L1753.6,334.7 L1740.9,341.1Z" fill="#4cb0ff" stroke="#4cb0ff"/><path d="M1762.4,347.9 L1775.1,341.4 L1764.3,338 L1751.6,344.5Z" fill="#4cb0ff" stroke="#4cb0ff"/><path d="M1773.3,351.4 L1786.1,344.8 L1775.1,341.4 L1762.4,347.9Z" fill="#4cafff" stroke="#4cafff"/><path d="M1784.5,354.9 L1797.3,348.2 L1786.1,344.8 L1773.3,351.4Z" fill="#4cafff" stroke="#4cafff"/><path d="M1795.7,358.5 L1808.5,351.7 L1797.3,348.2 L1784.5,354.9Z" fill="#4cafff" stroke="#4cafff"/><path d="M1807.1,362.1 L1820,355.3 L1808.5,351.7 L1795.7,358.5Z" fill="#4caeff" stroke="#4caeff"/><path d="M1818.7,365.7 L1831.6,358.9 L1820,355.3 L1807.1,362.1Z" fill="#4caeff" stroke="#4caeff"/><path d="M1830.5,369.5 L1843.3,362.5 L1831.6,358.9 L1818.7,365.7Z" fill="#4caeff" stroke="#4caeff"/><path d="M1842.4,373.2 L1855.3,366.2 L1843.3,362.5 L1830.5,369.5Z" fill="#4cadff" stroke="#4cadff"/><path d="M1854.4,377 L1867.3,370 L1855.3,366.2 L1842.4,373.2Z" fill="#4cadff" stroke="#4cadff"/><path d="M1866.7,380.9 L1879.6,373.8 L1867.3,370 L1854.4,377Z" fill="#4cadff" stroke="#4cadff"/><path d="M1879.1,384.9 L1892,377.6 L1879.6,373.8 L1866.7,380.9Z" fill="#4cacff" stroke="#4cacff"/><path d="M1891.7,388.8 L1904.6,381.5 L1892,377.6 L1879.1,384.9Z" fill="#4cacff" stroke="#4cacff"/><path d="M1904.4,392.9 L1917.4,385.5 L1904.6,381.5 L1891.7,388.8Z" fill="#4cacff" stroke="#4cacff"/><path d="M1917.4,397 L1930.4,389.5 L1917.4,385.5 L1904.4,392.9Z" fill="#4cacff" stroke="#4cacff"/><path d="M1930.6,401.1 L1943.6,393.6 L1930.4,389.5 L1917.4,397Z" fill="#4cabff" stroke="#4cabff"/><path d="M1696.9,337.6 L1709.7,331.2 L1699.5,328 L1686.8,334.3Z" fill="#4c9eff" stroke="#4c9eff"/><path d="M1707.1,340.9 L1719.9,334.5 L1709.7,331.2 L1696.9,337.6Z" fill="#4c9dff" stroke="#4c9dff"/><path d="M1717.5,344.2 L1730.3,337.8 L1719.9,334.5 L1707.1,340.9Z" fill="#4c9dff" stroke="#4c9dff"/><path d="M1728,347.6 L1740.9,341.1 L1730.3,337.8 L1717.5,344.2Z" fill="#4c9dff" stroke="#4c9dff"/><path d="M1738.7,351.1 L1751.6,344.5 L1740.9,341.1 L1728,347.6Z" fill="#4c9cff" stroke="#4c9cff"/><path d="M1749.5,354.6 L1762.4,347.9 L1751.6,344.5 L1738.7,351.1Z" fill="#4c9cff" stroke="#4c9cff"/><path d="M1760.4,358.1 L1773.3,351.4 L1762.4,347.9 L1749.5,354.6Z" fill="#4c9cff" stroke="#4c9cff"/><path d="M1771.5,361.7 L1784.5,354.9 L1773.3,351.4 L1760.4,358.1Z" fill="#4c9bff" stroke="#4c9bff"/><path d="M1782.8,365.3 L1795.7,358.5 L1784.5,354.9 L1771.5,361.7Z" fill="#4c9bff" stroke="#4c9bff"/><path d="M1794.2,369 L1807.1,362.1 L1795.7,358.5 L1782.8,365.3Z" fill="#4c9bff" stroke="#4c9bff"/><path d="M1805.7,372.7 L1818.7,365.7 L1807.1,362.1 L1794.2,369Z" fill="#4c9aff" stroke="#4c9aff"/><path d="M1817.4,376.5 L1830.5,369.5 L1818.7,365.7 L1805.7,372.7Z" fill="#4c9aff" stroke="#4c9aff"/><path d="M1829.3,380.3 L1842.4,373.2 L1830.5,369.5 L1817.4,376.5Z" fill="#4c9aff" stroke="#4c9aff"/><path d="M1841.4,384.2 L1854.4,377 L1842.4,373.2 L1829.3,380.3Z" fill="#4c99ff" stroke="#4c99ff"/><path d="M1853.6,388.2 L1866.7,380.9 L1854.4,377 L1841.4,384.2Z" fill="#4c99ff" stroke="#4c99ff"/><path d="M1866,392.2 L1879.1,384.9 L1866.7,380.9 L1853.6,388.2Z" fill="#4c99ff" stroke="#4c99ff"/><path d="M1878.6,396.2 L1891.7,388.8 L1879.1,384.9 L1866,392.2Z" fill="#4c98ff" stroke="#4c98ff"/><path d="M1891.3,400.4 L1904.4,392.9 L1891.7,388.8 L1878.6,396.2Z" fill="#4c98ff" stroke="#4c98ff"/><path d="M1904.3,404.6 L1917.4,397 L1904.4,392.9 L1891.3,400.4Z" fill="#4c98ff" stroke="#4c98ff"/><path d="M1917.4,408.8 L1930.6,401.1 L1917.4,397 L1904.3,404.6Z" fill="#4c97ff" stroke="#4c97ff"/></g>
<path d="M1917.4,408.8 L1686.8,334.3 M1917.4,408.8 L2152.5,272.1 M1930.6,401.1 L1699.5,328 M1904.3,404.6 L2139.3,269.2 M1943.6,393.6 L1712.2,321.8 M1891.3,400.4 L2126.3,266.4 M1956.4,386.1 L1724.6,315.7 M1878.6,396.2 L2113.4,263.6 M1969.1,378.7 L1737,309.7 M1866,392.2 L2100.7,260.8 M1981.6,371.5 L1749.2,303.7 M1853.6,388.2 L2088.2,258.1 M1994,364.3 L1761.2,297.7 M1841.4,384.2 L2075.8,255.4 M2006.2,357.2 L1773.2,291.9 M1829.3,380.3 L2063.6,252.7 M2018.3,350.1 L1785,286.1 M1817.4,376.5 L2051.5,250.1 M2030.2,343.2 L1796.7,280.3 M1805.7,372.7 L2039.6,247.5 M2042,336.4 L1808.3,274.6 M1794.2,369 L2027.8,244.9 M2053.6,329.6 L1819.7,269 M1782.8,365.3 L2016.2,242.4 M2065.1,322.9 L1831,263.4 M1771.5,361.7 L2004.7,239.9 M2076.5,316.3 L1842.2,257.9 M1760.4,358.1 L1993.3,237.4 M2087.7,309.8 L1853.3,252.5 M1749.5,354.6 L1982.1,235 M2098.8,303.3 L1864.3,247.1 M1738.7,351.1 L1971.1,232.6 M2109.8,296.9 L1875.2,241.7 M1728,347.6 L1960.1,230.2 M2120.7,290.6 L1886,236.4 M1717.5,344.2 L1949.3,227.8 M2131.4,284.4 L1896.6,231.2 M1707.1,340.9 L1938.6,225.5 M2142,278.2 L1907.2,226 M1696.9,337.6 L1928,223.2 M2152.5,272.1 L1917.6,220.9 M1686.8,334.3 L1917.6,220.9" fill="none" stroke="#000" stroke-opacity="0.82" stroke-width="1.0"/>
<ellipse cx="1686.4" cy="338.5" rx="5.2" ry="4.6" fill="#ffc6c6" stroke="#3c2020" stroke-width="0.9"/>
<path d="M1917.6,200 L1917.6,220.9" stroke="#111" stroke-opacity="1" stroke-width="1.6"/>
<ellipse cx="1917.6" cy="200" rx="5.2" ry="4.6" fill="#b40000" stroke="#3c0000" stroke-width="0.9"/>
<ellipse cx="2153" cy="262.6" rx="5.2" ry="4.6" fill="#b40000" stroke="#3c0000" stroke-width="0.9"/>
<path d="M1917.4,382.2 L1917.4,408.8" stroke="#111" stroke-opacity="0.45" stroke-width="1.6"/>
<ellipse cx="1917.4" cy="382.2" rx="5.2" ry="4.6" fill="#b40000" stroke="#3c0000" stroke-width="0.9"/>
</g>
<g>
<text x="7.6" y="667.9" font-size="12.28" fill="#222" textLength="120.3" lengthAdjust="spacingAndGlyphs">Factor Coding: Actual</text>
<text x="7.6" y="707.1" font-size="12.28" fill="#111" font-weight="bold" style="white-space:pre" textLength="94.7" lengthAdjust="spacingAndGlyphs">Dissolution  (%)</text>
<text x="7.6" y="726.6" font-size="12.28" fill="#222" textLength="79.8" lengthAdjust="spacingAndGlyphs">Design Points:</text>
<ellipse cx="20.5" cy="741.9" rx="6.9" ry="6.8" fill="#b40000" stroke="#4a0000" stroke-width="0.8"/>
<text x="35.6" y="746.2" font-size="12.28" fill="#b01c1c" textLength="80.8" lengthAdjust="spacingAndGlyphs">Above Surface</text>
<ellipse cx="20.5" cy="761.5" rx="6.9" ry="6.8" fill="#ffc6c6" stroke="#4a3030" stroke-width="0.8"/>
<text x="35.6" y="765.8" font-size="12.28" fill="#b01c1c" textLength="79.4" lengthAdjust="spacingAndGlyphs">Below Surface</text>
<text x="7.6" y="785.4" font-size="12.28" fill="#2323c8" textLength="22.2" lengthAdjust="spacingAndGlyphs">21.3</text>
<rect x="35.3" y="772.7" width="46.7" height="17" fill="url(#cbar)" stroke="#222" stroke-width="0.7"/>
<text x="87.7" y="785.4" font-size="12.28" fill="#c81e1e" textLength="12.6" lengthAdjust="spacingAndGlyphs">33</text>
<text x="7.6" y="824.5" font-size="12.28" fill="#222" textLength="37.5" lengthAdjust="spacingAndGlyphs">X1 = A</text>
<text x="7.6" y="844.1" font-size="12.28" fill="#222" textLength="37.2" lengthAdjust="spacingAndGlyphs">X2 = C</text>
<text x="7.6" y="883.2" font-size="12.28" fill="#111" font-weight="bold" textLength="79.2" lengthAdjust="spacingAndGlyphs">Actual Factor</text>
<text x="7.6" y="902.8" font-size="12.28" fill="#222" textLength="43.1" lengthAdjust="spacingAndGlyphs">B = 100</text>
<path d="M212,856.7 L233.5,1047.5 M255,828.9 L272.8,1018.1 M298.1,801 L312.2,988.6 M341.1,773.2 L351.6,959.2 M384.2,745.3 L391,929.8 M427.2,717.5 L430.4,900.4 M212,856.7 L427.2,717.5 M215.1,884 L427.7,743.6 M218.1,911.2 L428.1,769.7 M221.2,938.5 L428.6,795.9 M224.3,965.7 L429,822 M227.3,993 L429.5,848.1 M230.4,1020.2 L429.9,874.2 M233.5,1047.5 L430.4,900.4 M427.2,717.5 L430.4,900.4 M495.8,742 L493.2,926.4 M564.5,766.5 L556.1,952.3 M633.1,791.1 L618.9,978.3 M701.8,815.6 L681.8,1004.3 M427.2,717.5 L701.8,815.6 M427.7,743.6 L698.9,842.6 M428.1,769.7 L696.1,869.5 M428.6,795.9 L693.2,896.5 M429,822 L690.4,923.4 M429.5,848.1 L687.5,950.4 M429.9,874.2 L684.7,977.4 M430.4,900.4 L681.8,1004.3 M212,856.7 L239.9,1104.8 M427.2,717.5 L431.3,955.3 M701.8,815.6 L675.8,1061" fill="none" stroke="#161616" stroke-width="1.15"/>
<clipPath id="fc3"><polygon points="239.9,1104.8 431.3,955.3 675.8,1061 498.8,1238.1"/></clipPath>
<polygon points="239.9,1104.8 431.3,955.3 675.8,1061 498.8,1238.1" fill="#676767" stroke="#000" stroke-width="1.1" stroke-linejoin="round"/>
<g clip-path="url(#fc3)" fill="none"><path d="M257.4,1092.2 L533,1201.7" stroke="#f5c81e" stroke-width="2"/><path d="M294.9,1062.5 L567.8,1167.3" stroke="#aaf028" stroke-width="2"/><path d="M331.4,1033.9 L601.5,1134" stroke="#32e632" stroke-width="2"/><path d="M365.8,1006.9 L632.5,1103.2" stroke="#28dc8c" stroke-width="2"/><path d="M399.1,980 L662.7,1073.2" stroke="#32dce6" stroke-width="2"/></g>
<polygon points="239.9,1104.8 431.3,955.3 675.8,1061 498.8,1238.1" fill="none" stroke="#000" stroke-width="1.2" stroke-linejoin="round"/>
<g fill="#000"><circle cx="212" cy="856.7" r="2.1"/><circle cx="215.1" cy="884" r="2.1"/><circle cx="218.1" cy="911.2" r="2.1"/><circle cx="221.2" cy="938.5" r="2.1"/><circle cx="224.3" cy="965.7" r="2.1"/><circle cx="227.3" cy="993" r="2.1"/><circle cx="230.4" cy="1020.2" r="2.1"/><circle cx="233.5" cy="1047.5" r="2.1"/><circle cx="239.9" cy="1104.8" r="2.1"/><circle cx="304.6" cy="1138.1" r="2.1"/><circle cx="369.4" cy="1171.4" r="2.1"/><circle cx="434.1" cy="1204.8" r="2.1"/><circle cx="498.8" cy="1238.1" r="2.1"/><circle cx="498.8" cy="1238.1" r="2.1"/><circle cx="534.2" cy="1202.7" r="2.1"/><circle cx="569.6" cy="1167.3" r="2.1"/><circle cx="605" cy="1131.8" r="2.1"/><circle cx="640.4" cy="1096.4" r="2.1"/><circle cx="675.8" cy="1061" r="2.1"/><circle cx="675.8" cy="1061" r="2.1"/></g>
<g><text x="205.9" y="853" font-size="11.16" fill="#222" text-anchor="end" textLength="12.4" lengthAdjust="spacingAndGlyphs">34</text><text x="209" y="880.2" font-size="11.16" fill="#222" text-anchor="end" textLength="12.4" lengthAdjust="spacingAndGlyphs">32</text><text x="212" y="907.5" font-size="11.16" fill="#222" text-anchor="end" textLength="12.4" lengthAdjust="spacingAndGlyphs">30</text><text x="215.1" y="934.7" font-size="11.16" fill="#222" text-anchor="end" textLength="12.4" lengthAdjust="spacingAndGlyphs">28</text><text x="218.2" y="962" font-size="11.16" fill="#222" text-anchor="end" textLength="12.4" lengthAdjust="spacingAndGlyphs">26</text><text x="221.2" y="989.3" font-size="11.16" fill="#222" text-anchor="end" textLength="12.4" lengthAdjust="spacingAndGlyphs">24</text><text x="224.3" y="1016.5" font-size="11.16" fill="#222" text-anchor="end" textLength="12.4" lengthAdjust="spacingAndGlyphs">22</text><text x="227.4" y="1043.8" font-size="11.16" fill="#222" text-anchor="end" textLength="12.4" lengthAdjust="spacingAndGlyphs">20</text><text x="233" y="1116.1" font-size="11.16" fill="#222" text-anchor="end" textLength="15" lengthAdjust="spacingAndGlyphs">1.3</text><text x="297.8" y="1149.4" font-size="11.16" fill="#222" text-anchor="end" textLength="15" lengthAdjust="spacingAndGlyphs">1.1</text><text x="362.5" y="1182.7" font-size="11.16" fill="#222" text-anchor="end" textLength="15" lengthAdjust="spacingAndGlyphs">0.9</text><text x="427.2" y="1216" font-size="11.16" fill="#222" text-anchor="end" textLength="15" lengthAdjust="spacingAndGlyphs">0.7</text><text x="491.9" y="1249.4" font-size="11.16" fill="#222" text-anchor="end" textLength="15" lengthAdjust="spacingAndGlyphs">0.5</text><text x="506.4" y="1249.4" font-size="11.16" fill="#222" textLength="12.4" lengthAdjust="spacingAndGlyphs">20</text><text x="541.8" y="1213.9" font-size="11.16" fill="#222" textLength="12.4" lengthAdjust="spacingAndGlyphs">26</text><text x="577.2" y="1178.5" font-size="11.16" fill="#222" textLength="12.4" lengthAdjust="spacingAndGlyphs">32</text><text x="612.6" y="1143.1" font-size="11.16" fill="#222" textLength="12.4" lengthAdjust="spacingAndGlyphs">38</text><text x="648" y="1107.7" font-size="11.16" fill="#222" textLength="12.4" lengthAdjust="spacingAndGlyphs">44</text><text x="683.4" y="1072.3" font-size="11.16" fill="#222" textLength="12.4" lengthAdjust="spacingAndGlyphs">50</text></g>
<text x="237.4" y="1238.1" font-size="12.28" fill="#222" textLength="123.7" lengthAdjust="spacingAndGlyphs">C: Feed Rate (g/min)</text>
<text x="627.2" y="1196.4" font-size="12.28" fill="#222" textLength="98.5" lengthAdjust="spacingAndGlyphs">A: Ibuprofen (%)</text>
<text x="0" y="0" font-size="11.86" fill="#222" style="white-space:pre" textLength="88.6" lengthAdjust="spacingAndGlyphs" transform="translate(148.2,1032) rotate(-90)">Dissolution  (%)</text>
<text x="448.3" y="680.5" font-size="20.74" fill="#111" textLength="105" lengthAdjust="spacingAndGlyphs">3D Surface</text>
<g stroke-width="0.6" stroke-linejoin="round"><path d="M430.2,871.5 L439.1,870 L427.3,865.8 L418.3,867.2Z" fill="#1493ff" stroke="#1493ff"/><path d="M442.2,875.8 L451.1,874.2 L439.1,870 L430.2,871.5Z" fill="#1497ff" stroke="#1497ff"/><path d="M454.3,880.1 L463.1,878.5 L451.1,874.2 L442.2,875.8Z" fill="#149aff" stroke="#149aff"/><path d="M466.5,884.4 L475.3,882.8 L463.1,878.5 L454.3,880.1Z" fill="#149dff" stroke="#149dff"/><path d="M478.9,888.8 L487.6,887.2 L475.3,882.8 L466.5,884.4Z" fill="#14a1ff" stroke="#14a1ff"/><path d="M491.3,893.2 L500,891.6 L487.6,887.2 L478.9,888.8Z" fill="#14a4ff" stroke="#14a4ff"/><path d="M503.9,897.7 L512.5,896 L500,891.6 L491.3,893.2Z" fill="#14a7ff" stroke="#14a7ff"/><path d="M516.6,902.2 L525.1,900.5 L512.5,896 L503.9,897.7Z" fill="#14abff" stroke="#14abff"/><path d="M529.4,906.8 L537.9,905 L525.1,900.5 L516.6,902.2Z" fill="#14aeff" stroke="#14aeff"/><path d="M542.3,911.4 L550.7,909.5 L537.9,905 L529.4,906.8Z" fill="#14b1ff" stroke="#14b1ff"/><path d="M555.3,916.1 L563.7,914.1 L550.7,909.5 L542.3,911.4Z" fill="#14b5ff" stroke="#14b5ff"/><path d="M568.5,920.7 L576.8,918.8 L563.7,914.1 L555.3,916.1Z" fill="#14b8ff" stroke="#14b8ff"/><path d="M581.8,925.5 L590,923.5 L576.8,918.8 L568.5,920.7Z" fill="#14bbff" stroke="#14bbff"/><path d="M595.2,930.3 L603.4,928.2 L590,923.5 L581.8,925.5Z" fill="#14beff" stroke="#14beff"/><path d="M608.8,935.1 L616.9,933 L603.4,928.2 L595.2,930.3Z" fill="#14c2ff" stroke="#14c2ff"/><path d="M622.5,940 L630.5,937.8 L616.9,933 L608.8,935.1Z" fill="#14c5ff" stroke="#14c5ff"/><path d="M636.3,944.9 L644.2,942.7 L630.5,937.8 L622.5,940Z" fill="#14c8ff" stroke="#14c8ff"/><path d="M650.2,949.9 L658.1,947.6 L644.2,942.7 L636.3,944.9Z" fill="#14ccff" stroke="#14ccff"/><path d="M664.3,954.9 L672.1,952.6 L658.1,947.6 L650.2,949.9Z" fill="#14cfff" stroke="#14cfff"/><path d="M678.6,960 L686.3,957.6 L672.1,952.6 L664.3,954.9Z" fill="#14d2ff" stroke="#14d2ff"/><path d="M421.1,873 L430.2,871.5 L418.3,867.2 L409.2,868.7Z" fill="#14b6ff" stroke="#14b6ff"/><path d="M433.2,877.3 L442.2,875.8 L430.2,871.5 L421.1,873Z" fill="#14baff" stroke="#14baff"/><path d="M445.3,881.6 L454.3,880.1 L442.2,875.8 L433.2,877.3Z" fill="#14bdff" stroke="#14bdff"/><path d="M457.6,886 L466.5,884.4 L454.3,880.1 L445.3,881.6Z" fill="#14c0ff" stroke="#14c0ff"/><path d="M470,890.5 L478.9,888.8 L466.5,884.4 L457.6,886Z" fill="#14c4ff" stroke="#14c4ff"/><path d="M482.5,895 L491.3,893.2 L478.9,888.8 L470,890.5Z" fill="#14c7ff" stroke="#14c7ff"/><path d="M495.1,899.5 L503.9,897.7 L491.3,893.2 L482.5,895Z" fill="#14caff" stroke="#14caff"/><path d="M507.9,904 L516.6,902.2 L503.9,897.7 L495.1,899.5Z" fill="#14ceff" stroke="#14ceff"/><path d="M520.7,908.6 L529.4,906.8 L516.6,902.2 L507.9,904Z" fill="#14d1ff" stroke="#14d1ff"/><path d="M533.7,913.3 L542.3,911.4 L529.4,906.8 L520.7,908.6Z" fill="#14d4ff" stroke="#14d4ff"/><path d="M546.8,918 L555.3,916.1 L542.3,911.4 L533.7,913.3Z" fill="#14d8ff" stroke="#14d8ff"/><path d="M560.1,922.7 L568.5,920.7 L555.3,916.1 L546.8,918Z" fill="#14dbff" stroke="#14dbff"/><path d="M573.4,927.5 L581.8,925.5 L568.5,920.7 L560.1,922.7Z" fill="#14dfff" stroke="#14dfff"/><path d="M586.9,932.3 L595.2,930.3 L581.8,925.5 L573.4,927.5Z" fill="#14e2ff" stroke="#14e2ff"/><path d="M600.6,937.2 L608.8,935.1 L595.2,930.3 L586.9,932.3Z" fill="#14e5ff" stroke="#14e5ff"/><path d="M614.3,942.1 L622.5,940 L608.8,935.1 L600.6,937.2Z" fill="#14e9ff" stroke="#14e9ff"/><path d="M628.2,947.1 L636.3,944.9 L622.5,940 L614.3,942.1Z" fill="#14ecff" stroke="#14ecff"/><path d="M642.2,952.1 L650.2,949.9 L636.3,944.9 L628.2,947.1Z" fill="#14efff" stroke="#14efff"/><path d="M656.4,957.2 L664.3,954.9 L650.2,949.9 L642.2,952.1Z" fill="#14f3ff" stroke="#14f3ff"/><path d="M670.7,962.3 L678.6,960 L664.3,954.9 L656.4,957.2Z" fill="#14f6ff" stroke="#14f6ff"/><path d="M411.9,874.5 L421.1,873 L409.2,868.7 L399.9,870.2Z" fill="#14d9ff" stroke="#14d9ff"/><path d="M424,878.9 L433.2,877.3 L421.1,873 L411.9,874.5Z" fill="#14dcff" stroke="#14dcff"/><path d="M436.2,883.3 L445.3,881.6 L433.2,877.3 L424,878.9Z" fill="#14e0ff" stroke="#14e0ff"/><path d="M448.6,887.7 L457.6,886 L445.3,881.6 L436.2,883.3Z" fill="#14e3ff" stroke="#14e3ff"/><path d="M461,892.2 L470,890.5 L457.6,886 L448.6,887.7Z" fill="#14e7ff" stroke="#14e7ff"/><path d="M473.6,896.7 L482.5,895 L470,890.5 L461,892.2Z" fill="#14eaff" stroke="#14eaff"/><path d="M486.2,901.3 L495.1,899.5 L482.5,895 L473.6,896.7Z" fill="#14edff" stroke="#14edff"/><path d="M499,905.9 L507.9,904 L495.1,899.5 L486.2,901.3Z" fill="#14f1ff" stroke="#14f1ff"/><path d="M512,910.5 L520.7,908.6 L507.9,904 L499,905.9Z" fill="#14f4ff" stroke="#14f4ff"/><path d="M525,915.2 L533.7,913.3 L520.7,908.6 L512,910.5Z" fill="#14f8ff" stroke="#14f8ff"/><path d="M538.2,920 L546.8,918 L533.7,913.3 L525,915.2Z" fill="#14fbff" stroke="#14fbff"/><path d="M551.5,924.7 L560.1,922.7 L546.8,918 L538.2,920Z" fill="#14ffff" stroke="#14ffff"/><path d="M564.9,929.6 L573.4,927.5 L560.1,922.7 L551.5,924.7Z" fill="#14fffc" stroke="#14fffc"/><path d="M578.5,934.5 L586.9,932.3 L573.4,927.5 L564.9,929.6Z" fill="#14fff9" stroke="#14fff9"/><path d="M592.2,939.4 L600.6,937.2 L586.9,932.3 L578.5,934.5Z" fill="#14fff5" stroke="#14fff5"/><path d="M606,944.4 L614.3,942.1 L600.6,937.2 L592.2,939.4Z" fill="#14fff2" stroke="#14fff2"/><path d="M620,949.4 L628.2,947.1 L614.3,942.1 L606,944.4Z" fill="#14ffee" stroke="#14ffee"/><path d="M634.1,954.5 L642.2,952.1 L628.2,947.1 L620,949.4Z" fill="#14ffeb" stroke="#14ffeb"/><path d="M648.4,959.6 L656.4,957.2 L642.2,952.1 L634.1,954.5Z" fill="#14ffe7" stroke="#14ffe7"/><path d="M662.7,964.8 L670.7,962.3 L656.4,957.2 L648.4,959.6Z" fill="#14ffe4" stroke="#14ffe4"/><path d="M402.5,876.1 L411.9,874.5 L399.9,870.2 L390.5,871.7Z" fill="#14fcff" stroke="#14fcff"/><path d="M414.7,880.5 L424,878.9 L411.9,874.5 L402.5,876.1Z" fill="#14ffff" stroke="#14ffff"/><path d="M427,884.9 L436.2,883.3 L424,878.9 L414.7,880.5Z" fill="#14fffb" stroke="#14fffb"/><path d="M439.3,889.4 L448.6,887.7 L436.2,883.3 L427,884.9Z" fill="#14fff8" stroke="#14fff8"/><path d="M451.8,893.9 L461,892.2 L448.6,887.7 L439.3,889.4Z" fill="#14fff4" stroke="#14fff4"/><path d="M464.5,898.5 L473.6,896.7 L461,892.2 L451.8,893.9Z" fill="#14fff1" stroke="#14fff1"/><path d="M477.2,903.1 L486.2,901.3 L473.6,896.7 L464.5,898.5Z" fill="#14ffee" stroke="#14ffee"/><path d="M490.1,907.7 L499,905.9 L486.2,901.3 L477.2,903.1Z" fill="#14ffea" stroke="#14ffea"/><path d="M503.1,912.4 L512,910.5 L499,905.9 L490.1,907.7Z" fill="#14ffe7" stroke="#14ffe7"/><path d="M516.2,917.2 L525,915.2 L512,910.5 L503.1,912.4Z" fill="#14ffe3" stroke="#14ffe3"/><path d="M529.4,921.9 L538.2,920 L525,915.2 L516.2,917.2Z" fill="#14ffe0" stroke="#14ffe0"/><path d="M542.8,926.8 L551.5,924.7 L538.2,920 L529.4,921.9Z" fill="#14ffdc" stroke="#14ffdc"/><path d="M556.3,931.7 L564.9,929.6 L551.5,924.7 L542.8,926.8Z" fill="#14ffd9" stroke="#14ffd9"/><path d="M569.9,936.6 L578.5,934.5 L564.9,929.6 L556.3,931.7Z" fill="#14ffd5" stroke="#14ffd5"/><path d="M583.7,941.6 L592.2,939.4 L578.5,934.5 L569.9,936.6Z" fill="#14ffd2" stroke="#14ffd2"/><path d="M597.6,946.6 L606,944.4 L592.2,939.4 L583.7,941.6Z" fill="#14ffce" stroke="#14ffce"/><path d="M611.6,951.7 L620,949.4 L606,944.4 L597.6,946.6Z" fill="#14ffcb" stroke="#14ffcb"/><path d="M625.8,956.8 L634.1,954.5 L620,949.4 L611.6,951.7Z" fill="#14ffc7" stroke="#14ffc7"/><path d="M640.2,962 L648.4,959.6 L634.1,954.5 L625.8,956.8Z" fill="#14ffc4" stroke="#14ffc4"/><path d="M654.6,967.2 L662.7,964.8 L648.4,959.6 L640.2,962Z" fill="#14ffc0" stroke="#14ffc0"/><path d="M393,877.6 L402.5,876.1 L390.5,871.7 L380.9,873.2Z" fill="#14ffe0" stroke="#14ffe0"/><path d="M405.2,882.1 L414.7,880.5 L402.5,876.1 L393,877.6Z" fill="#14ffdc" stroke="#14ffdc"/><path d="M417.6,886.6 L427,884.9 L414.7,880.5 L405.2,882.1Z" fill="#14ffd9" stroke="#14ffd9"/><path d="M430,891.1 L439.3,889.4 L427,884.9 L417.6,886.6Z" fill="#14ffd5" stroke="#14ffd5"/><path d="M442.6,895.6 L451.8,893.9 L439.3,889.4 L430,891.1Z" fill="#14ffd2" stroke="#14ffd2"/><path d="M455.2,900.3 L464.5,898.5 L451.8,893.9 L442.6,895.6Z" fill="#14ffce" stroke="#14ffce"/><path d="M468,904.9 L477.2,903.1 L464.5,898.5 L455.2,900.3Z" fill="#14ffca" stroke="#14ffca"/><path d="M480.9,909.6 L490.1,907.7 L477.2,903.1 L468,904.9Z" fill="#14ffc7" stroke="#14ffc7"/><path d="M494,914.3 L503.1,912.4 L490.1,907.7 L480.9,909.6Z" fill="#14ffc3" stroke="#14ffc3"/><path d="M507.2,919.1 L516.2,917.2 L503.1,912.4 L494,914.3Z" fill="#14ffc0" stroke="#14ffc0"/><path d="M520.5,924 L529.4,921.9 L516.2,917.2 L507.2,919.1Z" fill="#14ffbc" stroke="#14ffbc"/><path d="M533.9,928.9 L542.8,926.8 L529.4,921.9 L520.5,924Z" fill="#14ffb9" stroke="#14ffb9"/><path d="M547.5,933.8 L556.3,931.7 L542.8,926.8 L533.9,928.9Z" fill="#14ffb5" stroke="#14ffb5"/><path d="M561.2,938.8 L569.9,936.6 L556.3,931.7 L547.5,933.8Z" fill="#14ffb2" stroke="#14ffb2"/><path d="M575,943.8 L583.7,941.6 L569.9,936.6 L561.2,938.8Z" fill="#14ffae" stroke="#14ffae"/><path d="M589,948.9 L597.6,946.6 L583.7,941.6 L575,943.8Z" fill="#14ffab" stroke="#14ffab"/><path d="M603.1,954 L611.6,951.7 L597.6,946.6 L589,948.9Z" fill="#14ffa7" stroke="#14ffa7"/><path d="M617.4,959.2 L625.8,956.8 L611.6,951.7 L603.1,954Z" fill="#14ffa4" stroke="#14ffa4"/><path d="M631.8,964.5 L640.2,962 L625.8,956.8 L617.4,959.2Z" fill="#14ffa0" stroke="#14ffa0"/><path d="M646.4,969.8 L654.6,967.2 L640.2,962 L631.8,964.5Z" fill="#14ff9c" stroke="#14ff9c"/><path d="M383.4,879.2 L393,877.6 L380.9,873.2 L371.2,874.8Z" fill="#14ffbd" stroke="#14ffbd"/><path d="M395.6,883.7 L405.2,882.1 L393,877.6 L383.4,879.2Z" fill="#14ffb9" stroke="#14ffb9"/><path d="M408,888.2 L417.6,886.6 L405.2,882.1 L395.6,883.7Z" fill="#14ffb6" stroke="#14ffb6"/><path d="M420.5,892.8 L430,891.1 L417.6,886.6 L408,888.2Z" fill="#14ffb2" stroke="#14ffb2"/><path d="M433.1,897.4 L442.6,895.6 L430,891.1 L420.5,892.8Z" fill="#14ffaf" stroke="#14ffaf"/><path d="M445.8,902.1 L455.2,900.3 L442.6,895.6 L433.1,897.4Z" fill="#14ffab" stroke="#14ffab"/><path d="M458.7,906.8 L468,904.9 L455.2,900.3 L445.8,902.1Z" fill="#14ffa7" stroke="#14ffa7"/><path d="M471.7,911.5 L480.9,909.6 L468,904.9 L458.7,906.8Z" fill="#14ffa4" stroke="#14ffa4"/><path d="M484.8,916.3 L494,914.3 L480.9,909.6 L471.7,911.5Z" fill="#14ffa0" stroke="#14ffa0"/><path d="M498,921.2 L507.2,919.1 L494,914.3 L484.8,916.3Z" fill="#14ff9d" stroke="#14ff9d"/><path d="M511.4,926 L520.5,924 L507.2,919.1 L498,921.2Z" fill="#14ff99" stroke="#14ff99"/><path d="M524.9,931 L533.9,928.9 L520.5,924 L511.4,926Z" fill="#14ff95" stroke="#14ff95"/><path d="M538.5,936 L547.5,933.8 L533.9,928.9 L524.9,931Z" fill="#14ff92" stroke="#14ff92"/><path d="M552.3,941 L561.2,938.8 L547.5,933.8 L538.5,936Z" fill="#14ff8e" stroke="#14ff8e"/><path d="M566.2,946.1 L575,943.8 L561.2,938.8 L552.3,941Z" fill="#14ff8b" stroke="#14ff8b"/><path d="M580.3,951.2 L589,948.9 L575,943.8 L566.2,946.1Z" fill="#14ff87" stroke="#14ff87"/><path d="M594.5,956.4 L603.1,954 L589,948.9 L580.3,951.2Z" fill="#14ff83" stroke="#14ff83"/><path d="M608.8,961.7 L617.4,959.2 L603.1,954 L594.5,956.4Z" fill="#14ff80" stroke="#14ff80"/><path d="M623.3,967 L631.8,964.5 L617.4,959.2 L608.8,961.7Z" fill="#14ff7c" stroke="#14ff7c"/><path d="M638,972.3 L646.4,969.8 L631.8,964.5 L623.3,967Z" fill="#14ff79" stroke="#14ff79"/><path d="M373.6,880.9 L383.4,879.2 L371.2,874.8 L361.4,876.4Z" fill="#14ff9a" stroke="#14ff9a"/><path d="M385.9,885.4 L395.6,883.7 L383.4,879.2 L373.6,880.9Z" fill="#14ff97" stroke="#14ff97"/><path d="M398.3,890 L408,888.2 L395.6,883.7 L385.9,885.4Z" fill="#14ff93" stroke="#14ff93"/><path d="M410.8,894.6 L420.5,892.8 L408,888.2 L398.3,890Z" fill="#14ff8f" stroke="#14ff8f"/><path d="M423.5,899.2 L433.1,897.4 L420.5,892.8 L410.8,894.6Z" fill="#14ff8c" stroke="#14ff8c"/><path d="M436.3,903.9 L445.8,902.1 L433.1,897.4 L423.5,899.2Z" fill="#14ff88" stroke="#14ff88"/><path d="M449.2,908.7 L458.7,906.8 L445.8,902.1 L436.3,903.9Z" fill="#14ff84" stroke="#14ff84"/><path d="M462.3,913.5 L471.7,911.5 L458.7,906.8 L449.2,908.7Z" fill="#14ff81" stroke="#14ff81"/><path d="M475.4,918.3 L484.8,916.3 L471.7,911.5 L462.3,913.5Z" fill="#14ff7d" stroke="#14ff7d"/><path d="M488.7,923.2 L498,921.2 L484.8,916.3 L475.4,918.3Z" fill="#14ff79" stroke="#14ff79"/><path d="M502.2,928.1 L511.4,926 L498,921.2 L488.7,923.2Z" fill="#14ff76" stroke="#14ff76"/><path d="M515.7,933.1 L524.9,931 L511.4,926 L502.2,928.1Z" fill="#14ff72" stroke="#14ff72"/><path d="M529.4,938.2 L538.5,936 L524.9,931 L515.7,933.1Z" fill="#14ff6e" stroke="#14ff6e"/><path d="M543.3,943.3 L552.3,941 L538.5,936 L529.4,938.2Z" fill="#14ff6b" stroke="#14ff6b"/><path d="M557.3,948.4 L566.2,946.1 L552.3,941 L543.3,943.3Z" fill="#14ff67" stroke="#14ff67"/><path d="M571.4,953.6 L580.3,951.2 L566.2,946.1 L557.3,948.4Z" fill="#14ff63" stroke="#14ff63"/><path d="M585.7,958.9 L594.5,956.4 L580.3,951.2 L571.4,953.6Z" fill="#14ff60" stroke="#14ff60"/><path d="M600.1,964.2 L608.8,961.7 L594.5,956.4 L585.7,958.9Z" fill="#14ff5c" stroke="#14ff5c"/><path d="M614.7,969.5 L623.3,967 L608.8,961.7 L600.1,964.2Z" fill="#14ff59" stroke="#14ff59"/><path d="M629.4,974.9 L638,972.3 L623.3,967 L614.7,969.5Z" fill="#14ff55" stroke="#14ff55"/><path d="M363.6,882.5 L373.6,880.9 L361.4,876.4 L351.3,878Z" fill="#14ff77" stroke="#14ff77"/><path d="M375.9,887.1 L385.9,885.4 L373.6,880.9 L363.6,882.5Z" fill="#14ff74" stroke="#14ff74"/><path d="M388.4,891.7 L398.3,890 L385.9,885.4 L375.9,887.1Z" fill="#14ff70" stroke="#14ff70"/><path d="M401,896.4 L410.8,894.6 L398.3,890 L388.4,891.7Z" fill="#14ff6c" stroke="#14ff6c"/><path d="M413.8,901.1 L423.5,899.2 L410.8,894.6 L401,896.4Z" fill="#14ff69" stroke="#14ff69"/><path d="M426.6,905.8 L436.3,903.9 L423.5,899.2 L413.8,901.1Z" fill="#14ff65" stroke="#14ff65"/><path d="M439.6,910.6 L449.2,908.7 L436.3,903.9 L426.6,905.8Z" fill="#14ff61" stroke="#14ff61"/><path d="M452.7,915.4 L462.3,913.5 L449.2,908.7 L439.6,910.6Z" fill="#14ff5e" stroke="#14ff5e"/><path d="M465.9,920.3 L475.4,918.3 L462.3,913.5 L452.7,915.4Z" fill="#14ff5a" stroke="#14ff5a"/><path d="M479.3,925.3 L488.7,923.2 L475.4,918.3 L465.9,920.3Z" fill="#14ff56" stroke="#14ff56"/><path d="M492.8,930.3 L502.2,928.1 L488.7,923.2 L479.3,925.3Z" fill="#14ff52" stroke="#14ff52"/><path d="M506.4,935.3 L515.7,933.1 L502.2,928.1 L492.8,930.3Z" fill="#14ff4f" stroke="#14ff4f"/><path d="M520.2,940.4 L529.4,938.2 L515.7,933.1 L506.4,935.3Z" fill="#14ff4b" stroke="#14ff4b"/><path d="M534.1,945.6 L543.3,943.3 L529.4,938.2 L520.2,940.4Z" fill="#14ff47" stroke="#14ff47"/><path d="M548.2,950.8 L557.3,948.4 L543.3,943.3 L534.1,945.6Z" fill="#14ff44" stroke="#14ff44"/><path d="M562.4,956 L571.4,953.6 L557.3,948.4 L548.2,950.8Z" fill="#14ff40" stroke="#14ff40"/><path d="M576.7,961.3 L585.7,958.9 L571.4,953.6 L562.4,956Z" fill="#14ff3c" stroke="#14ff3c"/><path d="M591.2,966.7 L600.1,964.2 L585.7,958.9 L576.7,961.3Z" fill="#14ff38" stroke="#14ff38"/><path d="M605.9,972.1 L614.7,969.5 L600.1,964.2 L591.2,966.7Z" fill="#14ff35" stroke="#14ff35"/><path d="M620.7,977.6 L629.4,974.9 L614.7,969.5 L605.9,972.1Z" fill="#14ff31" stroke="#14ff31"/><path d="M353.5,884.2 L363.6,882.5 L351.3,878 L341.2,879.6Z" fill="#14ff55" stroke="#14ff55"/><path d="M365.9,888.8 L375.9,887.1 L363.6,882.5 L353.5,884.2Z" fill="#14ff51" stroke="#14ff51"/><path d="M378.4,893.5 L388.4,891.7 L375.9,887.1 L365.9,888.8Z" fill="#14ff4d" stroke="#14ff4d"/><path d="M391.1,898.2 L401,896.4 L388.4,891.7 L378.4,893.5Z" fill="#14ff49" stroke="#14ff49"/><path d="M403.8,902.9 L413.8,901.1 L401,896.4 L391.1,898.2Z" fill="#14ff46" stroke="#14ff46"/><path d="M416.7,907.7 L426.6,905.8 L413.8,901.1 L403.8,902.9Z" fill="#14ff42" stroke="#14ff42"/><path d="M429.8,912.6 L439.6,910.6 L426.6,905.8 L416.7,907.7Z" fill="#14ff3e" stroke="#14ff3e"/><path d="M442.9,917.5 L452.7,915.4 L439.6,910.6 L429.8,912.6Z" fill="#14ff3a" stroke="#14ff3a"/><path d="M456.2,922.4 L465.9,920.3 L452.7,915.4 L442.9,917.5Z" fill="#14ff37" stroke="#14ff37"/><path d="M469.7,927.4 L479.3,925.3 L465.9,920.3 L456.2,922.4Z" fill="#14ff33" stroke="#14ff33"/><path d="M483.2,932.4 L492.8,930.3 L479.3,925.3 L469.7,927.4Z" fill="#14ff2f" stroke="#14ff2f"/><path d="M496.9,937.5 L506.4,935.3 L492.8,930.3 L483.2,932.4Z" fill="#14ff2b" stroke="#14ff2b"/><path d="M510.8,942.7 L520.2,940.4 L506.4,935.3 L496.9,937.5Z" fill="#14ff28" stroke="#14ff28"/><path d="M524.8,947.9 L534.1,945.6 L520.2,940.4 L510.8,942.7Z" fill="#14ff24" stroke="#14ff24"/><path d="M538.9,953.2 L548.2,950.8 L534.1,945.6 L524.8,947.9Z" fill="#14ff20" stroke="#14ff20"/><path d="M553.2,958.5 L562.4,956 L548.2,950.8 L538.9,953.2Z" fill="#14ff1c" stroke="#14ff1c"/><path d="M567.6,963.8 L576.7,961.3 L562.4,956 L553.2,958.5Z" fill="#14ff19" stroke="#14ff19"/><path d="M582.2,969.3 L591.2,966.7 L576.7,961.3 L567.6,963.8Z" fill="#14ff15" stroke="#14ff15"/><path d="M597,974.7 L605.9,972.1 L591.2,966.7 L582.2,969.3Z" fill="#18ff14" stroke="#18ff14"/><path d="M611.9,980.3 L620.7,977.6 L605.9,972.1 L597,974.7Z" fill="#1cff14" stroke="#1cff14"/><path d="M343.2,885.9 L353.5,884.2 L341.2,879.6 L330.8,881.3Z" fill="#14ff32" stroke="#14ff32"/><path d="M355.6,890.6 L365.9,888.8 L353.5,884.2 L343.2,885.9Z" fill="#14ff2e" stroke="#14ff2e"/><path d="M368.2,895.3 L378.4,893.5 L365.9,888.8 L355.6,890.6Z" fill="#14ff2a" stroke="#14ff2a"/><path d="M380.9,900 L391.1,898.2 L378.4,893.5 L368.2,895.3Z" fill="#14ff27" stroke="#14ff27"/><path d="M393.7,904.8 L403.8,902.9 L391.1,898.2 L380.9,900Z" fill="#14ff23" stroke="#14ff23"/><path d="M406.7,909.7 L416.7,907.7 L403.8,902.9 L393.7,904.8Z" fill="#14ff1f" stroke="#14ff1f"/><path d="M419.8,914.6 L429.8,912.6 L416.7,907.7 L406.7,909.7Z" fill="#14ff1b" stroke="#14ff1b"/><path d="M433,919.5 L442.9,917.5 L429.8,912.6 L419.8,914.6Z" fill="#14ff17" stroke="#14ff17"/><path d="M446.4,924.5 L456.2,922.4 L442.9,917.5 L433,919.5Z" fill="#15ff14" stroke="#15ff14"/><path d="M459.9,929.6 L469.7,927.4 L456.2,922.4 L446.4,924.5Z" fill="#19ff14" stroke="#19ff14"/><path d="M473.5,934.7 L483.2,932.4 L469.7,927.4 L459.9,929.6Z" fill="#1dff14" stroke="#1dff14"/><path d="M487.3,939.8 L496.9,937.5 L483.2,932.4 L473.5,934.7Z" fill="#21ff14" stroke="#21ff14"/><path d="M501.2,945 L510.8,942.7 L496.9,937.5 L487.3,939.8Z" fill="#25ff14" stroke="#25ff14"/><path d="M515.3,950.3 L524.8,947.9 L510.8,942.7 L501.2,945Z" fill="#28ff14" stroke="#28ff14"/><path d="M529.5,955.6 L538.9,953.2 L524.8,947.9 L515.3,950.3Z" fill="#2cff14" stroke="#2cff14"/><path d="M543.9,961 L553.2,958.5 L538.9,953.2 L529.5,955.6Z" fill="#30ff14" stroke="#30ff14"/><path d="M558.4,966.4 L567.6,963.8 L553.2,958.5 L543.9,961Z" fill="#34ff14" stroke="#34ff14"/><path d="M573,971.9 L582.2,969.3 L567.6,963.8 L558.4,966.4Z" fill="#38ff14" stroke="#38ff14"/><path d="M587.9,977.4 L597,974.7 L582.2,969.3 L573,971.9Z" fill="#3cff14" stroke="#3cff14"/><path d="M602.8,983 L611.9,980.3 L597,974.7 L587.9,977.4Z" fill="#3fff14" stroke="#3fff14"/><path d="M332.7,887.6 L343.2,885.9 L330.8,881.3 L320.3,883Z" fill="#1aff14" stroke="#1aff14"/><path d="M345.2,892.3 L355.6,890.6 L343.2,885.9 L332.7,887.6Z" fill="#1dff14" stroke="#1dff14"/><path d="M357.8,897.1 L368.2,895.3 L355.6,890.6 L345.2,892.3Z" fill="#21ff14" stroke="#21ff14"/><path d="M370.6,901.9 L380.9,900 L368.2,895.3 L357.8,897.1Z" fill="#25ff14" stroke="#25ff14"/><path d="M383.5,906.7 L393.7,904.8 L380.9,900 L370.6,901.9Z" fill="#29ff14" stroke="#29ff14"/><path d="M396.5,911.6 L406.7,909.7 L393.7,904.8 L383.5,906.7Z" fill="#2dff14" stroke="#2dff14"/><path d="M409.7,916.6 L419.8,914.6 L406.7,909.7 L396.5,911.6Z" fill="#31ff14" stroke="#31ff14"/><path d="M423,921.6 L433,919.5 L419.8,914.6 L409.7,916.6Z" fill="#35ff14" stroke="#35ff14"/><path d="M436.4,926.6 L446.4,924.5 L433,919.5 L423,921.6Z" fill="#39ff14" stroke="#39ff14"/><path d="M449.9,931.7 L459.9,929.6 L446.4,924.5 L436.4,926.6Z" fill="#3cff14" stroke="#3cff14"/><path d="M463.6,936.9 L473.5,934.7 L459.9,929.6 L449.9,931.7Z" fill="#40ff14" stroke="#40ff14"/><path d="M477.5,942.1 L487.3,939.8 L473.5,934.7 L463.6,936.9Z" fill="#44ff14" stroke="#44ff14"/><path d="M491.5,947.4 L501.2,945 L487.3,939.8 L477.5,942.1Z" fill="#48ff14" stroke="#48ff14"/><path d="M505.6,952.7 L515.3,950.3 L501.2,945 L491.5,947.4Z" fill="#4cff14" stroke="#4cff14"/><path d="M519.9,958.1 L529.5,955.6 L515.3,950.3 L505.6,952.7Z" fill="#50ff14" stroke="#50ff14"/><path d="M534.3,963.5 L543.9,961 L529.5,955.6 L519.9,958.1Z" fill="#54ff14" stroke="#54ff14"/><path d="M548.9,969 L558.4,966.4 L543.9,961 L534.3,963.5Z" fill="#58ff14" stroke="#58ff14"/><path d="M563.7,974.5 L573,971.9 L558.4,966.4 L548.9,969Z" fill="#5bff14" stroke="#5bff14"/><path d="M578.6,980.2 L587.9,977.4 L573,971.9 L563.7,974.5Z" fill="#5fff14" stroke="#5fff14"/><path d="M593.7,985.8 L602.8,983 L587.9,977.4 L578.6,980.2Z" fill="#63ff14" stroke="#63ff14"/><path d="M322,889.4 L332.7,887.6 L320.3,883 L309.6,884.7Z" fill="#3cff14" stroke="#3cff14"/><path d="M334.6,894.1 L345.2,892.3 L332.7,887.6 L322,889.4Z" fill="#40ff14" stroke="#40ff14"/><path d="M347.3,899 L357.8,897.1 L345.2,892.3 L334.6,894.1Z" fill="#44ff14" stroke="#44ff14"/><path d="M360.1,903.8 L370.6,901.9 L357.8,897.1 L347.3,899Z" fill="#48ff14" stroke="#48ff14"/><path d="M373.1,908.7 L383.5,906.7 L370.6,901.9 L360.1,903.8Z" fill="#4cff14" stroke="#4cff14"/><path d="M386.1,913.7 L396.5,911.6 L383.5,906.7 L373.1,908.7Z" fill="#50ff14" stroke="#50ff14"/><path d="M399.4,918.7 L409.7,916.6 L396.5,911.6 L386.1,913.7Z" fill="#54ff14" stroke="#54ff14"/><path d="M412.7,923.7 L423,921.6 L409.7,916.6 L399.4,918.7Z" fill="#58ff14" stroke="#58ff14"/><path d="M426.2,928.8 L436.4,926.6 L423,921.6 L412.7,923.7Z" fill="#5cff14" stroke="#5cff14"/><path d="M439.8,934 L449.9,931.7 L436.4,926.6 L426.2,928.8Z" fill="#60ff14" stroke="#60ff14"/><path d="M453.6,939.2 L463.6,936.9 L449.9,931.7 L439.8,934Z" fill="#64ff14" stroke="#64ff14"/><path d="M467.5,944.5 L477.5,942.1 L463.6,936.9 L453.6,939.2Z" fill="#67ff14" stroke="#67ff14"/><path d="M481.6,949.8 L491.5,947.4 L477.5,942.1 L467.5,944.5Z" fill="#6bff14" stroke="#6bff14"/><path d="M495.8,955.2 L505.6,952.7 L491.5,947.4 L481.6,949.8Z" fill="#6fff14" stroke="#6fff14"/><path d="M510.1,960.6 L519.9,958.1 L505.6,952.7 L495.8,955.2Z" fill="#73ff14" stroke="#73ff14"/><path d="M524.7,966.1 L534.3,963.5 L519.9,958.1 L510.1,960.6Z" fill="#77ff14" stroke="#77ff14"/><path d="M539.3,971.6 L548.9,969 L534.3,963.5 L524.7,966.1Z" fill="#7bff14" stroke="#7bff14"/><path d="M554.2,977.3 L563.7,974.5 L548.9,969 L539.3,971.6Z" fill="#7fff14" stroke="#7fff14"/><path d="M569.1,982.9 L578.6,980.2 L563.7,974.5 L554.2,977.3Z" fill="#83ff14" stroke="#83ff14"/><path d="M584.3,988.7 L593.7,985.8 L578.6,980.2 L569.1,982.9Z" fill="#87ff14" stroke="#87ff14"/><path d="M311.2,891.2 L322,889.4 L309.6,884.7 L298.7,886.4Z" fill="#5fff14" stroke="#5fff14"/><path d="M323.8,896 L334.6,894.1 L322,889.4 L311.2,891.2Z" fill="#63ff14" stroke="#63ff14"/><path d="M336.6,900.8 L347.3,899 L334.6,894.1 L323.8,896Z" fill="#67ff14" stroke="#67ff14"/><path d="M349.5,905.7 L360.1,903.8 L347.3,899 L336.6,900.8Z" fill="#6bff14" stroke="#6bff14"/><path d="M362.5,910.7 L373.1,908.7 L360.1,903.8 L349.5,905.7Z" fill="#6fff14" stroke="#6fff14"/><path d="M375.6,915.7 L386.1,913.7 L373.1,908.7 L362.5,910.7Z" fill="#73ff14" stroke="#73ff14"/><path d="M388.9,920.8 L399.4,918.7 L386.1,913.7 L375.6,915.7Z" fill="#77ff14" stroke="#77ff14"/><path d="M402.3,925.9 L412.7,923.7 L399.4,918.7 L388.9,920.8Z" fill="#7bff14" stroke="#7bff14"/><path d="M415.8,931 L426.2,928.8 L412.7,923.7 L402.3,925.9Z" fill="#7fff14" stroke="#7fff14"/><path d="M429.5,936.2 L439.8,934 L426.2,928.8 L415.8,931Z" fill="#83ff14" stroke="#83ff14"/><path d="M443.4,941.5 L453.6,939.2 L439.8,934 L429.5,936.2Z" fill="#87ff14" stroke="#87ff14"/><path d="M457.3,946.8 L467.5,944.5 L453.6,939.2 L443.4,941.5Z" fill="#8bff14" stroke="#8bff14"/><path d="M471.5,952.2 L481.6,949.8 L467.5,944.5 L457.3,946.8Z" fill="#8fff14" stroke="#8fff14"/><path d="M485.8,957.7 L495.8,955.2 L481.6,949.8 L471.5,952.2Z" fill="#93ff14" stroke="#93ff14"/><path d="M500.2,963.2 L510.1,960.6 L495.8,955.2 L485.8,957.7Z" fill="#97ff14" stroke="#97ff14"/><path d="M514.8,968.7 L524.7,966.1 L510.1,960.6 L500.2,963.2Z" fill="#9bff14" stroke="#9bff14"/><path d="M529.5,974.3 L539.3,971.6 L524.7,966.1 L514.8,968.7Z" fill="#9fff14" stroke="#9fff14"/><path d="M544.5,980 L554.2,977.3 L539.3,971.6 L529.5,974.3Z" fill="#a3ff14" stroke="#a3ff14"/><path d="M559.5,985.8 L569.1,982.9 L554.2,977.3 L544.5,980Z" fill="#a7ff14" stroke="#a7ff14"/><path d="M574.8,991.6 L584.3,988.7 L569.1,982.9 L559.5,985.8Z" fill="#abff14" stroke="#abff14"/><path d="M300.2,893 L311.2,891.2 L298.7,886.4 L287.7,888.2Z" fill="#82ff14" stroke="#82ff14"/><path d="M312.9,897.9 L323.8,896 L311.2,891.2 L300.2,893Z" fill="#86ff14" stroke="#86ff14"/><path d="M325.7,902.8 L336.6,900.8 L323.8,896 L312.9,897.9Z" fill="#8aff14" stroke="#8aff14"/><path d="M338.6,907.7 L349.5,905.7 L336.6,900.8 L325.7,902.8Z" fill="#8eff14" stroke="#8eff14"/><path d="M351.7,912.7 L362.5,910.7 L349.5,905.7 L338.6,907.7Z" fill="#92ff14" stroke="#92ff14"/><path d="M364.9,917.8 L375.6,915.7 L362.5,910.7 L351.7,912.7Z" fill="#96ff14" stroke="#96ff14"/><path d="M378.2,922.9 L388.9,920.8 L375.6,915.7 L364.9,917.8Z" fill="#9aff14" stroke="#9aff14"/><path d="M391.7,928.1 L402.3,925.9 L388.9,920.8 L378.2,922.9Z" fill="#9eff14" stroke="#9eff14"/><path d="M405.3,933.3 L415.8,931 L402.3,925.9 L391.7,928.1Z" fill="#a2ff14" stroke="#a2ff14"/><path d="M419,938.6 L429.5,936.2 L415.8,931 L405.3,933.3Z" fill="#a6ff14" stroke="#a6ff14"/><path d="M433,943.9 L443.4,941.5 L429.5,936.2 L419,938.6Z" fill="#aaff14" stroke="#aaff14"/><path d="M447,949.3 L457.3,946.8 L443.4,941.5 L433,943.9Z" fill="#aeff14" stroke="#aeff14"/><path d="M461.2,954.7 L471.5,952.2 L457.3,946.8 L447,949.3Z" fill="#b2ff14" stroke="#b2ff14"/><path d="M475.6,960.2 L485.8,957.7 L471.5,952.2 L461.2,954.7Z" fill="#b6ff14" stroke="#b6ff14"/><path d="M490.1,965.8 L500.2,963.2 L485.8,957.7 L475.6,960.2Z" fill="#baff14" stroke="#baff14"/><path d="M504.7,971.4 L514.8,968.7 L500.2,963.2 L490.1,965.8Z" fill="#beff14" stroke="#beff14"/><path d="M519.6,977.1 L529.5,974.3 L514.8,968.7 L504.7,971.4Z" fill="#c2ff14" stroke="#c2ff14"/><path d="M534.6,982.8 L544.5,980 L529.5,974.3 L519.6,977.1Z" fill="#c6ff14" stroke="#c6ff14"/><path d="M549.7,988.7 L559.5,985.8 L544.5,980 L534.6,982.8Z" fill="#cbff14" stroke="#cbff14"/><path d="M565.1,994.5 L574.8,991.6 L559.5,985.8 L549.7,988.7Z" fill="#cfff14" stroke="#cfff14"/><path d="M289,894.9 L300.2,893 L287.7,888.2 L276.4,890Z" fill="#a4ff14" stroke="#a4ff14"/><path d="M301.7,899.8 L312.9,897.9 L300.2,893 L289,894.9Z" fill="#a9ff14" stroke="#a9ff14"/><path d="M314.6,904.7 L325.7,902.8 L312.9,897.9 L301.7,899.8Z" fill="#adff14" stroke="#adff14"/><path d="M327.6,909.7 L338.6,907.7 L325.7,902.8 L314.6,904.7Z" fill="#b1ff14" stroke="#b1ff14"/><path d="M340.7,914.8 L351.7,912.7 L338.6,907.7 L327.6,909.7Z" fill="#b5ff14" stroke="#b5ff14"/><path d="M353.9,919.9 L364.9,917.8 L351.7,912.7 L340.7,914.8Z" fill="#b9ff14" stroke="#b9ff14"/><path d="M367.3,925.1 L378.2,922.9 L364.9,917.8 L353.9,919.9Z" fill="#bdff14" stroke="#bdff14"/><path d="M380.9,930.3 L391.7,928.1 L378.2,922.9 L367.3,925.1Z" fill="#c1ff14" stroke="#c1ff14"/><path d="M394.6,935.6 L405.3,933.3 L391.7,928.1 L380.9,930.3Z" fill="#c5ff14" stroke="#c5ff14"/><path d="M408.4,940.9 L419,938.6 L405.3,933.3 L394.6,935.6Z" fill="#c9ff14" stroke="#c9ff14"/><path d="M422.4,946.3 L433,943.9 L419,938.6 L408.4,940.9Z" fill="#cdff14" stroke="#cdff14"/><path d="M436.5,951.7 L447,949.3 L433,943.9 L422.4,946.3Z" fill="#d2ff14" stroke="#d2ff14"/><path d="M450.8,957.3 L461.2,954.7 L447,949.3 L436.5,951.7Z" fill="#d6ff14" stroke="#d6ff14"/><path d="M465.2,962.8 L475.6,960.2 L461.2,954.7 L450.8,957.3Z" fill="#daff14" stroke="#daff14"/><path d="M479.8,968.5 L490.1,965.8 L475.6,960.2 L465.2,962.8Z" fill="#deff14" stroke="#deff14"/><path d="M494.5,974.1 L504.7,971.4 L490.1,965.8 L479.8,968.5Z" fill="#e2ff14" stroke="#e2ff14"/><path d="M509.4,979.9 L519.6,977.1 L504.7,971.4 L494.5,974.1Z" fill="#e6ff14" stroke="#e6ff14"/><path d="M524.5,985.7 L534.6,982.8 L519.6,977.1 L509.4,979.9Z" fill="#eaff14" stroke="#eaff14"/><path d="M539.8,991.6 L549.7,988.7 L534.6,982.8 L524.5,985.7Z" fill="#eeff14" stroke="#eeff14"/><path d="M555.2,997.5 L565.1,994.5 L549.7,988.7 L539.8,991.6Z" fill="#f2ff14" stroke="#f2ff14"/><path d="M277.6,896.7 L289,894.9 L276.4,890 L265,891.8Z" fill="#c7ff14" stroke="#c7ff14"/><path d="M290.4,901.7 L301.7,899.8 L289,894.9 L277.6,896.7Z" fill="#cbff14" stroke="#cbff14"/><path d="M303.3,906.7 L314.6,904.7 L301.7,899.8 L290.4,901.7Z" fill="#cfff14" stroke="#cfff14"/><path d="M316.3,911.8 L327.6,909.7 L314.6,904.7 L303.3,906.7Z" fill="#d4ff14" stroke="#d4ff14"/><path d="M329.5,916.9 L340.7,914.8 L327.6,909.7 L316.3,911.8Z" fill="#d8ff14" stroke="#d8ff14"/><path d="M342.8,922.1 L353.9,919.9 L340.7,914.8 L329.5,916.9Z" fill="#dcff14" stroke="#dcff14"/><path d="M356.3,927.3 L367.3,925.1 L353.9,919.9 L342.8,922.1Z" fill="#e0ff14" stroke="#e0ff14"/><path d="M369.9,932.6 L380.9,930.3 L367.3,925.1 L356.3,927.3Z" fill="#e4ff14" stroke="#e4ff14"/><path d="M383.6,937.9 L394.6,935.6 L380.9,930.3 L369.9,932.6Z" fill="#e8ff14" stroke="#e8ff14"/><path d="M397.5,943.3 L408.4,940.9 L394.6,935.6 L383.6,937.9Z" fill="#edff14" stroke="#edff14"/><path d="M411.6,948.8 L422.4,946.3 L408.4,940.9 L397.5,943.3Z" fill="#f1ff14" stroke="#f1ff14"/><path d="M425.8,954.3 L436.5,951.7 L422.4,946.3 L411.6,948.8Z" fill="#f5ff14" stroke="#f5ff14"/><path d="M440.1,959.8 L450.8,957.3 L436.5,951.7 L425.8,954.3Z" fill="#f9ff14" stroke="#f9ff14"/><path d="M454.6,965.5 L465.2,962.8 L450.8,957.3 L440.1,959.8Z" fill="#fdff14" stroke="#fdff14"/><path d="M469.3,971.2 L479.8,968.5 L465.2,962.8 L454.6,965.5Z" fill="#fffd14" stroke="#fffd14"/><path d="M484.1,976.9 L494.5,974.1 L479.8,968.5 L469.3,971.2Z" fill="#fff814" stroke="#fff814"/><path d="M499.1,982.7 L509.4,979.9 L494.5,974.1 L484.1,976.9Z" fill="#fff414" stroke="#fff414"/><path d="M514.3,988.6 L524.5,985.7 L509.4,979.9 L499.1,982.7Z" fill="#fff014" stroke="#fff014"/><path d="M529.6,994.6 L539.8,991.6 L524.5,985.7 L514.3,988.6Z" fill="#ffec14" stroke="#ffec14"/><path d="M545.1,1000.6 L555.2,997.5 L539.8,991.6 L529.6,994.6Z" fill="#ffe814" stroke="#ffe814"/><path d="M266,898.7 L277.6,896.7 L265,891.8 L253.3,893.7Z" fill="#eaff14" stroke="#eaff14"/><path d="M278.9,903.7 L290.4,901.7 L277.6,896.7 L266,898.7Z" fill="#eeff14" stroke="#eeff14"/><path d="M291.8,908.7 L303.3,906.7 L290.4,901.7 L278.9,903.7Z" fill="#f2ff14" stroke="#f2ff14"/><path d="M304.9,913.9 L316.3,911.8 L303.3,906.7 L291.8,908.7Z" fill="#f7ff14" stroke="#f7ff14"/><path d="M318.1,919 L329.5,916.9 L316.3,911.8 L304.9,913.9Z" fill="#fbff14" stroke="#fbff14"/><path d="M331.5,924.3 L342.8,922.1 L329.5,916.9 L318.1,919Z" fill="#ffff14" stroke="#ffff14"/><path d="M345,929.5 L356.3,927.3 L342.8,922.1 L331.5,924.3Z" fill="#fffb14" stroke="#fffb14"/><path d="M358.7,934.9 L369.9,932.6 L356.3,927.3 L345,929.5Z" fill="#fff714" stroke="#fff714"/><path d="M372.5,940.3 L383.6,937.9 L369.9,932.6 L358.7,934.9Z" fill="#fff214" stroke="#fff214"/><path d="M386.5,945.7 L397.5,943.3 L383.6,937.9 L372.5,940.3Z" fill="#ffee14" stroke="#ffee14"/><path d="M400.6,951.3 L411.6,948.8 L397.5,943.3 L386.5,945.7Z" fill="#ffea14" stroke="#ffea14"/><path d="M414.8,956.8 L425.8,954.3 L411.6,948.8 L400.6,951.3Z" fill="#ffe614" stroke="#ffe614"/><path d="M429.3,962.5 L440.1,959.8 L425.8,954.3 L414.8,956.8Z" fill="#ffe214" stroke="#ffe214"/><path d="M443.8,968.2 L454.6,965.5 L440.1,959.8 L429.3,962.5Z" fill="#ffdd14" stroke="#ffdd14"/><path d="M458.6,973.9 L469.3,971.2 L454.6,965.5 L443.8,968.2Z" fill="#ffd914" stroke="#ffd914"/><path d="M473.5,979.8 L484.1,976.9 L469.3,971.2 L458.6,973.9Z" fill="#ffd514" stroke="#ffd514"/><path d="M488.6,985.7 L499.1,982.7 L484.1,976.9 L473.5,979.8Z" fill="#ffd114" stroke="#ffd114"/><path d="M503.8,991.6 L514.3,988.6 L499.1,982.7 L488.6,985.7Z" fill="#ffcc14" stroke="#ffcc14"/><path d="M519.2,997.6 L529.6,994.6 L514.3,988.6 L503.8,991.6Z" fill="#ffc814" stroke="#ffc814"/><path d="M534.8,1003.7 L545.1,1000.6 L529.6,994.6 L519.2,997.6Z" fill="#ffc414" stroke="#ffc414"/><path d="M254.2,900.6 L266,898.7 L253.3,893.7 L241.5,895.6Z" fill="#fff114" stroke="#fff114"/><path d="M267.1,905.7 L278.9,903.7 L266,898.7 L254.2,900.6Z" fill="#ffed14" stroke="#ffed14"/><path d="M280.1,910.8 L291.8,908.7 L278.9,903.7 L267.1,905.7Z" fill="#ffe914" stroke="#ffe914"/><path d="M293.3,916 L304.9,913.9 L291.8,908.7 L280.1,910.8Z" fill="#ffe514" stroke="#ffe514"/><path d="M306.6,921.2 L318.1,919 L304.9,913.9 L293.3,916Z" fill="#ffe014" stroke="#ffe014"/><path d="M320,926.5 L331.5,924.3 L318.1,919 L306.6,921.2Z" fill="#ffdc14" stroke="#ffdc14"/><path d="M333.6,931.8 L345,929.5 L331.5,924.3 L320,926.5Z" fill="#ffd814" stroke="#ffd814"/><path d="M347.3,937.2 L358.7,934.9 L345,929.5 L333.6,931.8Z" fill="#ffd314" stroke="#ffd314"/><path d="M361.2,942.7 L372.5,940.3 L358.7,934.9 L347.3,937.2Z" fill="#ffcf14" stroke="#ffcf14"/><path d="M375.2,948.2 L386.5,945.7 L372.5,940.3 L361.2,942.7Z" fill="#ffcb14" stroke="#ffcb14"/><path d="M389.4,953.8 L400.6,951.3 L386.5,945.7 L375.2,948.2Z" fill="#ffc714" stroke="#ffc714"/><path d="M403.7,959.4 L414.8,956.8 L400.6,951.3 L389.4,953.8Z" fill="#ffc214" stroke="#ffc214"/><path d="M418.2,965.1 L429.3,962.5 L414.8,956.8 L403.7,959.4Z" fill="#ffbe14" stroke="#ffbe14"/><path d="M432.9,970.9 L443.8,968.2 L429.3,962.5 L418.2,965.1Z" fill="#ffba14" stroke="#ffba14"/><path d="M447.7,976.7 L458.6,973.9 L443.8,968.2 L432.9,970.9Z" fill="#ffb614" stroke="#ffb614"/><path d="M462.7,982.6 L473.5,979.8 L458.6,973.9 L447.7,976.7Z" fill="#ffb114" stroke="#ffb114"/><path d="M477.8,988.6 L488.6,985.7 L473.5,979.8 L462.7,982.6Z" fill="#ffad14" stroke="#ffad14"/><path d="M493.2,994.7 L503.8,991.6 L488.6,985.7 L477.8,988.6Z" fill="#ffa914" stroke="#ffa914"/><path d="M508.7,1000.8 L519.2,997.6 L503.8,991.6 L493.2,994.7Z" fill="#ffa514" stroke="#ffa514"/><path d="M524.4,1006.9 L534.8,1003.7 L519.2,997.6 L508.7,1000.8Z" fill="#ffa014" stroke="#ffa014"/><path d="M242.3,902.6 L254.2,900.6 L241.5,895.6 L229.5,897.5Z" fill="#ffcf14" stroke="#ffcf14"/><path d="M255.2,907.7 L267.1,905.7 L254.2,900.6 L242.3,902.6Z" fill="#ffca14" stroke="#ffca14"/><path d="M268.2,912.9 L280.1,910.8 L267.1,905.7 L255.2,907.7Z" fill="#ffc614" stroke="#ffc614"/><path d="M281.4,918.1 L293.3,916 L280.1,910.8 L268.2,912.9Z" fill="#ffc214" stroke="#ffc214"/><path d="M294.8,923.4 L306.6,921.2 L293.3,916 L281.4,918.1Z" fill="#ffbd14" stroke="#ffbd14"/><path d="M308.3,928.8 L320,926.5 L306.6,921.2 L294.8,923.4Z" fill="#ffb914" stroke="#ffb914"/><path d="M321.9,934.2 L333.6,931.8 L320,926.5 L308.3,928.8Z" fill="#ffb514" stroke="#ffb514"/><path d="M335.7,939.6 L347.3,937.2 L333.6,931.8 L321.9,934.2Z" fill="#ffb014" stroke="#ffb014"/><path d="M349.6,945.2 L361.2,942.7 L347.3,937.2 L335.7,939.6Z" fill="#ffac14" stroke="#ffac14"/><path d="M363.7,950.7 L375.2,948.2 L361.2,942.7 L349.6,945.2Z" fill="#ffa814" stroke="#ffa814"/><path d="M378,956.4 L389.4,953.8 L375.2,948.2 L363.7,950.7Z" fill="#ffa314" stroke="#ffa314"/><path d="M392.4,962.1 L403.7,959.4 L389.4,953.8 L378,956.4Z" fill="#ff9f14" stroke="#ff9f14"/><path d="M406.9,967.9 L418.2,965.1 L403.7,959.4 L392.4,962.1Z" fill="#ff9b14" stroke="#ff9b14"/><path d="M421.7,973.7 L432.9,970.9 L418.2,965.1 L406.9,967.9Z" fill="#ff9614" stroke="#ff9614"/><path d="M436.6,979.6 L447.7,976.7 L432.9,970.9 L421.7,973.7Z" fill="#ff9214" stroke="#ff9214"/><path d="M451.6,985.6 L462.7,982.6 L447.7,976.7 L436.6,979.6Z" fill="#ff8e14" stroke="#ff8e14"/><path d="M466.9,991.6 L477.8,988.6 L462.7,982.6 L451.6,985.6Z" fill="#ff8914" stroke="#ff8914"/><path d="M482.3,997.7 L493.2,994.7 L477.8,988.6 L466.9,991.6Z" fill="#ff8514" stroke="#ff8514"/><path d="M497.9,1003.9 L508.7,1000.8 L493.2,994.7 L482.3,997.7Z" fill="#ff8114" stroke="#ff8114"/><path d="M513.7,1010.2 L524.4,1006.9 L508.7,1000.8 L497.9,1003.9Z" fill="#ff7c14" stroke="#ff7c14"/><path d="M230,904.6 L242.3,902.6 L229.5,897.5 L217.2,899.5Z" fill="#ffac14" stroke="#ffac14"/><path d="M243,909.8 L255.2,907.7 L242.3,902.6 L230,904.6Z" fill="#ffa814" stroke="#ffa814"/><path d="M256.1,915 L268.2,912.9 L255.2,907.7 L243,909.8Z" fill="#ffa314" stroke="#ffa314"/><path d="M269.4,920.3 L281.4,918.1 L268.2,912.9 L256.1,915Z" fill="#ff9f14" stroke="#ff9f14"/><path d="M282.8,925.7 L294.8,923.4 L281.4,918.1 L269.4,920.3Z" fill="#ff9a14" stroke="#ff9a14"/><path d="M296.3,931.1 L308.3,928.8 L294.8,923.4 L282.8,925.7Z" fill="#ff9614" stroke="#ff9614"/><path d="M310,936.6 L321.9,934.2 L308.3,928.8 L296.3,931.1Z" fill="#ff9214" stroke="#ff9214"/><path d="M323.9,942.1 L335.7,939.6 L321.9,934.2 L310,936.6Z" fill="#ff8d14" stroke="#ff8d14"/><path d="M337.9,947.7 L349.6,945.2 L335.7,939.6 L323.9,942.1Z" fill="#ff8914" stroke="#ff8914"/><path d="M352,953.3 L363.7,950.7 L349.6,945.2 L337.9,947.7Z" fill="#ff8414" stroke="#ff8414"/><path d="M366.4,959 L378,956.4 L363.7,950.7 L352,953.3Z" fill="#ff8014" stroke="#ff8014"/><path d="M380.8,964.8 L392.4,962.1 L378,956.4 L366.4,959Z" fill="#ff7c14" stroke="#ff7c14"/><path d="M395.5,970.7 L406.9,967.9 L392.4,962.1 L380.8,964.8Z" fill="#ff7714" stroke="#ff7714"/><path d="M410.3,976.6 L421.7,973.7 L406.9,967.9 L395.5,970.7Z" fill="#ff7314" stroke="#ff7314"/><path d="M425.3,982.5 L436.6,979.6 L421.7,973.7 L410.3,976.6Z" fill="#ff6f14" stroke="#ff6f14"/><path d="M440.4,988.6 L451.6,985.6 L436.6,979.6 L425.3,982.5Z" fill="#ff6a14" stroke="#ff6a14"/><path d="M455.7,994.7 L466.9,991.6 L451.6,985.6 L440.4,988.6Z" fill="#ff6614" stroke="#ff6614"/><path d="M471.2,1000.9 L482.3,997.7 L466.9,991.6 L455.7,994.7Z" fill="#ff6114" stroke="#ff6114"/><path d="M486.9,1007.2 L497.9,1003.9 L482.3,997.7 L471.2,1000.9Z" fill="#ff5d14" stroke="#ff5d14"/><path d="M502.8,1013.5 L513.7,1010.2 L497.9,1003.9 L486.9,1007.2Z" fill="#ff5914" stroke="#ff5914"/></g>
<path d="M502.8,1013.5 L217.2,899.5 M502.8,1013.5 L686.3,957.6 M513.7,1010.2 L229.5,897.5 M486.9,1007.2 L672.1,952.6 M524.4,1006.9 L241.5,895.6 M471.2,1000.9 L658.1,947.6 M534.8,1003.7 L253.3,893.7 M455.7,994.7 L644.2,942.7 M545.1,1000.6 L265,891.8 M440.4,988.6 L630.5,937.8 M555.2,997.5 L276.4,890 M425.3,982.5 L616.9,933 M565.1,994.5 L287.7,888.2 M410.3,976.6 L603.4,928.2 M574.8,991.6 L298.7,886.4 M395.5,970.7 L590,923.5 M584.3,988.7 L309.6,884.7 M380.8,964.8 L576.8,918.8 M593.7,985.8 L320.3,883 M366.4,959 L563.7,914.1 M602.8,983 L330.8,881.3 M352,953.3 L550.7,909.5 M611.9,980.3 L341.2,879.6 M337.9,947.7 L537.9,905 M620.7,977.6 L351.3,878 M323.9,942.1 L525.1,900.5 M629.4,974.9 L361.4,876.4 M310,936.6 L512.5,896 M638,972.3 L371.2,874.8 M296.3,931.1 L500,891.6 M646.4,969.8 L380.9,873.2 M282.8,925.7 L487.6,887.2 M654.6,967.2 L390.5,871.7 M269.4,920.3 L475.3,882.8 M662.7,964.8 L399.9,870.2 M256.1,915 L463.1,878.5 M670.7,962.3 L409.2,868.7 M243,909.8 L451.1,874.2 M678.6,960 L418.3,867.2 M230,904.6 L439.1,870 M686.3,957.6 L427.3,865.8 M217.2,899.5 L427.3,865.8" fill="none" stroke="#000" stroke-opacity="0.82" stroke-width="1.0"/>
<ellipse cx="216.9" cy="900.6" rx="5.2" ry="5.4" fill="#ffc6c6" stroke="#3c2020" stroke-width="0.9"/>
<path d="M461.4,850.5 L461.4,876" stroke="#111" stroke-opacity="1" stroke-width="1.6"/>
<path d="M461.4,876 L461.4,928.3" stroke="#111" stroke-opacity="0.4" stroke-width="1.6"/>
<ellipse cx="461.4" cy="850.5" rx="5.2" ry="5.4" fill="#b40000" stroke="#3c0000" stroke-width="0.9"/>
<ellipse cx="683.4" cy="988.5" rx="5.2" ry="5.4" fill="#ffc6c6" stroke="#3c2020" stroke-width="0.9"/>
<path d="M502.4,1013.5 L502.4,1050.5" stroke="#111" stroke-opacity="1" stroke-width="1.6"/>
<ellipse cx="502.4" cy="1050.5" rx="5.2" ry="5.4" fill="#ffc6c6" stroke="#3c2020" stroke-width="0.9"/>
</g>
<g>
<text x="734.8" y="677.2" font-size="12.07" fill="#222" textLength="120.1" lengthAdjust="spacingAndGlyphs">Factor Coding: Actual</text>
<text x="734.8" y="715.7" font-size="12.07" fill="#111" font-weight="bold" style="white-space:pre" textLength="94.5" lengthAdjust="spacingAndGlyphs">Dissolution  (%)</text>
<text x="734.8" y="734.9" font-size="12.07" fill="#222" textLength="79.6" lengthAdjust="spacingAndGlyphs">Design Points:</text>
<ellipse cx="747.7" cy="749.9" rx="6.8" ry="6.6" fill="#b40000" stroke="#4a0000" stroke-width="0.8"/>
<text x="762.7" y="754.1" font-size="12.07" fill="#b01c1c" textLength="80.7" lengthAdjust="spacingAndGlyphs">Above Surface</text>
<ellipse cx="747.7" cy="769.1" rx="6.8" ry="6.6" fill="#ffc6c6" stroke="#4a3030" stroke-width="0.8"/>
<text x="762.7" y="773.3" font-size="12.07" fill="#b01c1c" textLength="79.3" lengthAdjust="spacingAndGlyphs">Below Surface</text>
<text x="734.8" y="792.6" font-size="12.07" fill="#2323c8" textLength="22.2" lengthAdjust="spacingAndGlyphs">21.3</text>
<rect x="762.5" y="780.2" width="46.6" height="16.7" fill="url(#cbar)" stroke="#222" stroke-width="0.7"/>
<text x="814.7" y="792.6" font-size="12.07" fill="#c81e1e" textLength="12.6" lengthAdjust="spacingAndGlyphs">33</text>
<text x="734.8" y="831" font-size="12.07" fill="#222" textLength="37.5" lengthAdjust="spacingAndGlyphs">X1 = A</text>
<text x="734.8" y="850.3" font-size="12.07" fill="#222" textLength="36.5" lengthAdjust="spacingAndGlyphs">X2 = B</text>
<text x="734.8" y="888.7" font-size="12.07" fill="#111" font-weight="bold" textLength="79.1" lengthAdjust="spacingAndGlyphs">Actual Factor</text>
<text x="734.8" y="907.9" font-size="12.07" fill="#222" textLength="39.7" lengthAdjust="spacingAndGlyphs">C = 0.9</text>
<path d="M939.2,861.9 L960.8,1049.4 M982.2,834.8 L1000.2,1020.5 M1025.2,807.7 L1039.7,991.6 M1068.2,780.6 L1079.2,962.8 M1111.2,753.5 L1118.7,933.9 M1154.2,726.4 L1158.1,905 M939.2,861.9 L1154.2,726.4 M942.3,888.7 L1154.8,751.9 M945.4,915.5 L1155.3,777.4 M948.4,942.3 L1155.9,803 M951.5,969 L1156.4,828.5 M954.6,995.8 L1157,854 M957.7,1022.6 L1157.6,879.5 M960.8,1049.4 L1158.1,905 M1154.2,726.4 L1158.1,905 M1209.2,745.5 L1208.3,925.4 M1264.2,764.5 L1258.4,945.8 M1319.2,783.6 L1308.6,966.2 M1374.2,802.6 L1358.7,986.6 M1429.2,821.7 L1408.9,1007 M1154.2,726.4 L1429.2,821.7 M1154.8,751.9 L1426.3,848.2 M1155.3,777.4 L1423.4,874.7 M1155.9,803 L1420.5,901.1 M1156.4,828.5 L1417.6,927.6 M1157,854 L1414.7,954.1 M1157.6,879.5 L1411.8,980.6 M1158.1,905 L1408.9,1007 M939.2,861.9 L967.2,1105.3 M1154.2,726.4 L1159.3,958.3 M1429.2,821.7 L1402.8,1062.3" fill="none" stroke="#161616" stroke-width="1.15"/>
<clipPath id="fc4"><polygon points="967.2,1105.3 1159.3,958.3 1402.8,1062.3 1225.8,1235.8"/></clipPath>
<polygon points="967.2,1105.3 1159.3,958.3 1402.8,1062.3 1225.8,1235.8" fill="#676767" stroke="#000" stroke-width="1.1" stroke-linejoin="round"/>
<g clip-path="url(#fc4)" fill="none"><path d="M1008.2,1074.2 L1228.3,1233.3" stroke="#f5be1e" stroke-width="2"/><path d="M1046.8,1043.9 L1265.6,1196" stroke="#aaf028" stroke-width="2"/><path d="M1084.6,1015.1 L1302.1,1160" stroke="#32e632" stroke-width="2"/><path d="M1120.8,987.2 L1337.7,1125.2" stroke="#28dc8c" stroke-width="2"/><path d="M1157,959.5 L1370,1092.9" stroke="#32d2e6" stroke-width="2"/></g>
<polygon points="967.2,1105.3 1159.3,958.3 1402.8,1062.3 1225.8,1235.8" fill="none" stroke="#000" stroke-width="1.2" stroke-linejoin="round"/>
<g fill="#000"><circle cx="939.2" cy="861.9" r="2.1"/><circle cx="942.3" cy="888.7" r="2.1"/><circle cx="945.4" cy="915.5" r="2.1"/><circle cx="948.4" cy="942.3" r="2.1"/><circle cx="951.5" cy="969" r="2.1"/><circle cx="954.6" cy="995.8" r="2.1"/><circle cx="957.7" cy="1022.6" r="2.1"/><circle cx="960.8" cy="1049.4" r="2.1"/><circle cx="967.2" cy="1105.3" r="2.1"/><circle cx="1018.9" cy="1131.4" r="2.1"/><circle cx="1070.6" cy="1157.5" r="2.1"/><circle cx="1122.4" cy="1183.6" r="2.1"/><circle cx="1174.1" cy="1209.7" r="2.1"/><circle cx="1225.8" cy="1235.8" r="2.1"/><circle cx="1225.8" cy="1235.8" r="2.1"/><circle cx="1261.2" cy="1201.1" r="2.1"/><circle cx="1296.6" cy="1166.4" r="2.1"/><circle cx="1332" cy="1131.7" r="2.1"/><circle cx="1367.4" cy="1097" r="2.1"/><circle cx="1402.8" cy="1062.3" r="2.1"/><circle cx="1402.8" cy="1062.3" r="2.1"/></g>
<g><text x="933.1" y="858.2" font-size="10.96" fill="#222" text-anchor="end" textLength="12.4" lengthAdjust="spacingAndGlyphs">34</text><text x="936.2" y="885" font-size="10.96" fill="#222" text-anchor="end" textLength="12.4" lengthAdjust="spacingAndGlyphs">32</text><text x="939.3" y="911.8" font-size="10.96" fill="#222" text-anchor="end" textLength="12.4" lengthAdjust="spacingAndGlyphs">30</text><text x="942.4" y="938.6" font-size="10.96" fill="#222" text-anchor="end" textLength="12.4" lengthAdjust="spacingAndGlyphs">28</text><text x="945.4" y="965.4" font-size="10.96" fill="#222" text-anchor="end" textLength="12.4" lengthAdjust="spacingAndGlyphs">26</text><text x="948.5" y="992.2" font-size="10.96" fill="#222" text-anchor="end" textLength="12.4" lengthAdjust="spacingAndGlyphs">24</text><text x="951.6" y="1019" font-size="10.96" fill="#222" text-anchor="end" textLength="12.4" lengthAdjust="spacingAndGlyphs">22</text><text x="954.7" y="1045.7" font-size="10.96" fill="#222" text-anchor="end" textLength="12.4" lengthAdjust="spacingAndGlyphs">20</text><text x="960.4" y="1116.4" font-size="10.96" fill="#222" text-anchor="end" textLength="18.6" lengthAdjust="spacingAndGlyphs">115</text><text x="1012.1" y="1142.5" font-size="10.96" fill="#222" text-anchor="end" textLength="18.6" lengthAdjust="spacingAndGlyphs">109</text><text x="1063.8" y="1168.6" font-size="10.96" fill="#222" text-anchor="end" textLength="18.6" lengthAdjust="spacingAndGlyphs">103</text><text x="1115.5" y="1194.7" font-size="10.96" fill="#222" text-anchor="end" textLength="12.4" lengthAdjust="spacingAndGlyphs">97</text><text x="1167.2" y="1220.8" font-size="10.96" fill="#222" text-anchor="end" textLength="12.4" lengthAdjust="spacingAndGlyphs">91</text><text x="1219" y="1246.9" font-size="10.96" fill="#222" text-anchor="end" textLength="12.4" lengthAdjust="spacingAndGlyphs">85</text><text x="1233.4" y="1246.9" font-size="10.96" fill="#222" textLength="12.4" lengthAdjust="spacingAndGlyphs">20</text><text x="1268.8" y="1212.2" font-size="10.96" fill="#222" textLength="12.4" lengthAdjust="spacingAndGlyphs">26</text><text x="1304.2" y="1177.5" font-size="10.96" fill="#222" textLength="12.4" lengthAdjust="spacingAndGlyphs">32</text><text x="1339.6" y="1142.8" font-size="10.96" fill="#222" textLength="12.4" lengthAdjust="spacingAndGlyphs">38</text><text x="1375" y="1108.1" font-size="10.96" fill="#222" textLength="12.4" lengthAdjust="spacingAndGlyphs">44</text><text x="1410.4" y="1073.4" font-size="10.96" fill="#222" textLength="12.4" lengthAdjust="spacingAndGlyphs">50</text></g>
<text x="971.5" y="1235.8" font-size="12.07" fill="#222" textLength="110.3" lengthAdjust="spacingAndGlyphs">B: Temperature (C)</text>
<text x="1354.3" y="1195.5" font-size="12.07" fill="#222" textLength="98.3" lengthAdjust="spacingAndGlyphs">A: Ibuprofen (%)</text>
<text x="0" y="0" font-size="11.84" fill="#222" style="white-space:pre" textLength="87" lengthAdjust="spacingAndGlyphs" transform="translate(875.4,1033.8) rotate(-90)">Dissolution  (%)</text>
<text x="1175.2" y="689.8" font-size="20.37" fill="#111" textLength="104.8" lengthAdjust="spacingAndGlyphs">3D Surface</text>
<g stroke-width="0.6" stroke-linejoin="round"><path d="M1157.9,862.8 L1167.1,861.4 L1154.8,855.5 L1145.6,856.9Z" fill="#14f1ff" stroke="#14f1ff"/><path d="M1170.3,868.8 L1179.4,867.2 L1167.1,861.4 L1157.9,862.8Z" fill="#14eaff" stroke="#14eaff"/><path d="M1182.7,874.7 L1191.8,873.2 L1179.4,867.2 L1170.3,868.8Z" fill="#14e4ff" stroke="#14e4ff"/><path d="M1195.2,880.7 L1204.2,879.1 L1191.8,873.2 L1182.7,874.7Z" fill="#14ddff" stroke="#14ddff"/><path d="M1207.8,886.7 L1216.7,885.1 L1204.2,879.1 L1195.2,880.7Z" fill="#14d6ff" stroke="#14d6ff"/><path d="M1220.4,892.8 L1229.3,891 L1216.7,885.1 L1207.8,886.7Z" fill="#14d0ff" stroke="#14d0ff"/><path d="M1233.1,898.8 L1241.9,897.1 L1229.3,891 L1220.4,892.8Z" fill="#14c9ff" stroke="#14c9ff"/><path d="M1245.8,904.9 L1254.5,903.1 L1241.9,897.1 L1233.1,898.8Z" fill="#14c2ff" stroke="#14c2ff"/><path d="M1258.6,911 L1267.2,909.2 L1254.5,903.1 L1245.8,904.9Z" fill="#14bcff" stroke="#14bcff"/><path d="M1271.4,917.2 L1280,915.3 L1267.2,909.2 L1258.6,911Z" fill="#14b5ff" stroke="#14b5ff"/><path d="M1284.3,923.3 L1292.8,921.4 L1280,915.3 L1271.4,917.2Z" fill="#14aeff" stroke="#14aeff"/><path d="M1297.3,929.5 L1305.7,927.5 L1292.8,921.4 L1284.3,923.3Z" fill="#14a7ff" stroke="#14a7ff"/><path d="M1310.3,935.8 L1318.7,933.7 L1305.7,927.5 L1297.3,929.5Z" fill="#14a1ff" stroke="#14a1ff"/><path d="M1323.4,942 L1331.7,939.9 L1318.7,933.7 L1310.3,935.8Z" fill="#149aff" stroke="#149aff"/><path d="M1336.5,948.3 L1344.8,946.2 L1331.7,939.9 L1323.4,942Z" fill="#1493ff" stroke="#1493ff"/><path d="M1349.7,954.6 L1357.9,952.4 L1344.8,946.2 L1336.5,948.3Z" fill="#148dff" stroke="#148dff"/><path d="M1363,961 L1371.1,958.7 L1357.9,952.4 L1349.7,954.6Z" fill="#1486ff" stroke="#1486ff"/><path d="M1376.3,967.4 L1384.3,965.1 L1371.1,958.7 L1363,961Z" fill="#147fff" stroke="#147fff"/><path d="M1389.7,973.8 L1397.6,971.4 L1384.3,965.1 L1376.3,967.4Z" fill="#1479ff" stroke="#1479ff"/><path d="M1403.2,980.2 L1411,977.8 L1397.6,971.4 L1389.7,973.8Z" fill="#1472ff" stroke="#1472ff"/><path d="M1148.6,864.4 L1157.9,862.8 L1145.6,856.9 L1136.2,858.4Z" fill="#14ffeb" stroke="#14ffeb"/><path d="M1161,870.3 L1170.3,868.8 L1157.9,862.8 L1148.6,864.4Z" fill="#14fff2" stroke="#14fff2"/><path d="M1173.5,876.3 L1182.7,874.7 L1170.3,868.8 L1161,870.3Z" fill="#14fff8" stroke="#14fff8"/><path d="M1186.1,882.4 L1195.2,880.7 L1182.7,874.7 L1173.5,876.3Z" fill="#14ffff" stroke="#14ffff"/><path d="M1198.7,888.4 L1207.8,886.7 L1195.2,880.7 L1186.1,882.4Z" fill="#14f8ff" stroke="#14f8ff"/><path d="M1211.4,894.5 L1220.4,892.8 L1207.8,886.7 L1198.7,888.4Z" fill="#14f2ff" stroke="#14f2ff"/><path d="M1224.2,900.6 L1233.1,898.8 L1220.4,892.8 L1211.4,894.5Z" fill="#14ebff" stroke="#14ebff"/><path d="M1237,906.7 L1245.8,904.9 L1233.1,898.8 L1224.2,900.6Z" fill="#14e4ff" stroke="#14e4ff"/><path d="M1249.8,912.9 L1258.6,911 L1245.8,904.9 L1237,906.7Z" fill="#14deff" stroke="#14deff"/><path d="M1262.7,919.1 L1271.4,917.2 L1258.6,911 L1249.8,912.9Z" fill="#14d7ff" stroke="#14d7ff"/><path d="M1275.7,925.3 L1284.3,923.3 L1271.4,917.2 L1262.7,919.1Z" fill="#14d1ff" stroke="#14d1ff"/><path d="M1288.7,931.6 L1297.3,929.5 L1284.3,923.3 L1275.7,925.3Z" fill="#14caff" stroke="#14caff"/><path d="M1301.8,937.8 L1310.3,935.8 L1297.3,929.5 L1288.7,931.6Z" fill="#14c3ff" stroke="#14c3ff"/><path d="M1315,944.2 L1323.4,942 L1310.3,935.8 L1301.8,937.8Z" fill="#14bdff" stroke="#14bdff"/><path d="M1328.2,950.5 L1336.5,948.3 L1323.4,942 L1315,944.2Z" fill="#14b6ff" stroke="#14b6ff"/><path d="M1341.5,956.9 L1349.7,954.6 L1336.5,948.3 L1328.2,950.5Z" fill="#14afff" stroke="#14afff"/><path d="M1354.8,963.3 L1363,961 L1349.7,954.6 L1341.5,956.9Z" fill="#14a9ff" stroke="#14a9ff"/><path d="M1368.2,969.7 L1376.3,967.4 L1363,961 L1354.8,963.3Z" fill="#14a2ff" stroke="#14a2ff"/><path d="M1381.7,976.1 L1389.7,973.8 L1376.3,967.4 L1368.2,969.7Z" fill="#149bff" stroke="#149bff"/><path d="M1395.2,982.6 L1403.2,980.2 L1389.7,973.8 L1381.7,976.1Z" fill="#1495ff" stroke="#1495ff"/><path d="M1139.1,865.9 L1148.6,864.4 L1136.2,858.4 L1126.7,859.9Z" fill="#14ffc9" stroke="#14ffc9"/><path d="M1151.7,871.9 L1161,870.3 L1148.6,864.4 L1139.1,865.9Z" fill="#14ffd0" stroke="#14ffd0"/><path d="M1164.2,878 L1173.5,876.3 L1161,870.3 L1151.7,871.9Z" fill="#14ffd7" stroke="#14ffd7"/><path d="M1176.9,884 L1186.1,882.4 L1173.5,876.3 L1164.2,878Z" fill="#14ffdd" stroke="#14ffdd"/><path d="M1189.6,890.1 L1198.7,888.4 L1186.1,882.4 L1176.9,884Z" fill="#14ffe4" stroke="#14ffe4"/><path d="M1202.3,896.3 L1211.4,894.5 L1198.7,888.4 L1189.6,890.1Z" fill="#14ffea" stroke="#14ffea"/><path d="M1215.1,902.4 L1224.2,900.6 L1211.4,894.5 L1202.3,896.3Z" fill="#14fff1" stroke="#14fff1"/><path d="M1228,908.6 L1237,906.7 L1224.2,900.6 L1215.1,902.4Z" fill="#14fff7" stroke="#14fff7"/><path d="M1240.9,914.8 L1249.8,912.9 L1237,906.7 L1228,908.6Z" fill="#14fffe" stroke="#14fffe"/><path d="M1253.9,921.1 L1262.7,919.1 L1249.8,912.9 L1240.9,914.8Z" fill="#14f9ff" stroke="#14f9ff"/><path d="M1267,927.3 L1275.7,925.3 L1262.7,919.1 L1253.9,921.1Z" fill="#14f3ff" stroke="#14f3ff"/><path d="M1280.1,933.6 L1288.7,931.6 L1275.7,925.3 L1267,927.3Z" fill="#14ecff" stroke="#14ecff"/><path d="M1293.2,939.9 L1301.8,937.8 L1288.7,931.6 L1280.1,933.6Z" fill="#14e6ff" stroke="#14e6ff"/><path d="M1306.5,946.3 L1315,944.2 L1301.8,937.8 L1293.2,939.9Z" fill="#14dfff" stroke="#14dfff"/><path d="M1319.7,952.7 L1328.2,950.5 L1315,944.2 L1306.5,946.3Z" fill="#14d9ff" stroke="#14d9ff"/><path d="M1333.1,959.1 L1341.5,956.9 L1328.2,950.5 L1319.7,952.7Z" fill="#14d2ff" stroke="#14d2ff"/><path d="M1346.5,965.6 L1354.8,963.3 L1341.5,956.9 L1333.1,959.1Z" fill="#14cbff" stroke="#14cbff"/><path d="M1360,972 L1368.2,969.7 L1354.8,963.3 L1346.5,965.6Z" fill="#14c5ff" stroke="#14c5ff"/><path d="M1373.5,978.5 L1381.7,976.1 L1368.2,969.7 L1360,972Z" fill="#14beff" stroke="#14beff"/><path d="M1387.1,985.1 L1395.2,982.6 L1381.7,976.1 L1373.5,978.5Z" fill="#14b8ff" stroke="#14b8ff"/><path d="M1129.6,867.5 L1139.1,865.9 L1126.7,859.9 L1117,861.4Z" fill="#14ffa8" stroke="#14ffa8"/><path d="M1142.2,873.5 L1151.7,871.9 L1139.1,865.9 L1129.6,867.5Z" fill="#14ffae" stroke="#14ffae"/><path d="M1154.8,879.6 L1164.2,878 L1151.7,871.9 L1142.2,873.5Z" fill="#14ffb5" stroke="#14ffb5"/><path d="M1167.5,885.7 L1176.9,884 L1164.2,878 L1154.8,879.6Z" fill="#14ffbb" stroke="#14ffbb"/><path d="M1180.3,891.9 L1189.6,890.1 L1176.9,884 L1167.5,885.7Z" fill="#14ffc2" stroke="#14ffc2"/><path d="M1193.1,898 L1202.3,896.3 L1189.6,890.1 L1180.3,891.9Z" fill="#14ffc8" stroke="#14ffc8"/><path d="M1206,904.2 L1215.1,902.4 L1202.3,896.3 L1193.1,898Z" fill="#14ffcf" stroke="#14ffcf"/><path d="M1218.9,910.5 L1228,908.6 L1215.1,902.4 L1206,904.2Z" fill="#14ffd5" stroke="#14ffd5"/><path d="M1231.9,916.7 L1240.9,914.8 L1228,908.6 L1218.9,910.5Z" fill="#14ffdc" stroke="#14ffdc"/><path d="M1245,923 L1253.9,921.1 L1240.9,914.8 L1231.9,916.7Z" fill="#14ffe2" stroke="#14ffe2"/><path d="M1258.1,929.4 L1267,927.3 L1253.9,921.1 L1245,923Z" fill="#14ffe9" stroke="#14ffe9"/><path d="M1271.3,935.7 L1280.1,933.6 L1267,927.3 L1258.1,929.4Z" fill="#14ffef" stroke="#14ffef"/><path d="M1284.5,942.1 L1293.2,939.9 L1280.1,933.6 L1271.3,935.7Z" fill="#14fff6" stroke="#14fff6"/><path d="M1297.8,948.5 L1306.5,946.3 L1293.2,939.9 L1284.5,942.1Z" fill="#14fffc" stroke="#14fffc"/><path d="M1311.2,954.9 L1319.7,952.7 L1306.5,946.3 L1297.8,948.5Z" fill="#14fbff" stroke="#14fbff"/><path d="M1324.6,961.4 L1333.1,959.1 L1319.7,952.7 L1311.2,954.9Z" fill="#14f5ff" stroke="#14f5ff"/><path d="M1338.1,967.9 L1346.5,965.6 L1333.1,959.1 L1324.6,961.4Z" fill="#14eeff" stroke="#14eeff"/><path d="M1351.7,974.4 L1360,972 L1346.5,965.6 L1338.1,967.9Z" fill="#14e8ff" stroke="#14e8ff"/><path d="M1365.3,981 L1373.5,978.5 L1360,972 L1351.7,974.4Z" fill="#14e1ff" stroke="#14e1ff"/><path d="M1379,987.6 L1387.1,985.1 L1373.5,978.5 L1365.3,981Z" fill="#14dbff" stroke="#14dbff"/><path d="M1119.9,869 L1129.6,867.5 L1117,861.4 L1107.3,862.9Z" fill="#14ff86" stroke="#14ff86"/><path d="M1132.5,875.1 L1142.2,873.5 L1129.6,867.5 L1119.9,869Z" fill="#14ff8c" stroke="#14ff8c"/><path d="M1145.2,881.3 L1154.8,879.6 L1142.2,873.5 L1132.5,875.1Z" fill="#14ff93" stroke="#14ff93"/><path d="M1158,887.4 L1167.5,885.7 L1154.8,879.6 L1145.2,881.3Z" fill="#14ff99" stroke="#14ff99"/><path d="M1170.8,893.6 L1180.3,891.9 L1167.5,885.7 L1158,887.4Z" fill="#14ffa0" stroke="#14ffa0"/><path d="M1183.7,899.9 L1193.1,898 L1180.3,891.9 L1170.8,893.6Z" fill="#14ffa6" stroke="#14ffa6"/><path d="M1196.7,906.1 L1206,904.2 L1193.1,898 L1183.7,899.9Z" fill="#14ffad" stroke="#14ffad"/><path d="M1209.7,912.4 L1218.9,910.5 L1206,904.2 L1196.7,906.1Z" fill="#14ffb3" stroke="#14ffb3"/><path d="M1222.7,918.7 L1231.9,916.7 L1218.9,910.5 L1209.7,912.4Z" fill="#14ffba" stroke="#14ffba"/><path d="M1235.9,925 L1245,923 L1231.9,916.7 L1222.7,918.7Z" fill="#14ffc0" stroke="#14ffc0"/><path d="M1249.1,931.4 L1258.1,929.4 L1245,923 L1235.9,925Z" fill="#14ffc6" stroke="#14ffc6"/><path d="M1262.3,937.8 L1271.3,935.7 L1258.1,929.4 L1249.1,931.4Z" fill="#14ffcd" stroke="#14ffcd"/><path d="M1275.6,944.2 L1284.5,942.1 L1271.3,935.7 L1262.3,937.8Z" fill="#14ffd3" stroke="#14ffd3"/><path d="M1289,950.7 L1297.8,948.5 L1284.5,942.1 L1275.6,944.2Z" fill="#14ffda" stroke="#14ffda"/><path d="M1302.5,957.2 L1311.2,954.9 L1297.8,948.5 L1289,950.7Z" fill="#14ffe0" stroke="#14ffe0"/><path d="M1316,963.7 L1324.6,961.4 L1311.2,954.9 L1302.5,957.2Z" fill="#14ffe7" stroke="#14ffe7"/><path d="M1329.5,970.3 L1338.1,967.9 L1324.6,961.4 L1316,963.7Z" fill="#14ffed" stroke="#14ffed"/><path d="M1343.2,976.9 L1351.7,974.4 L1338.1,967.9 L1329.5,970.3Z" fill="#14fff4" stroke="#14fff4"/><path d="M1356.9,983.5 L1365.3,981 L1351.7,974.4 L1343.2,976.9Z" fill="#14fffa" stroke="#14fffa"/><path d="M1370.7,990.1 L1379,987.6 L1365.3,981 L1356.9,983.5Z" fill="#14fdff" stroke="#14fdff"/><path d="M1110,870.6 L1119.9,869 L1107.3,862.9 L1097.4,864.5Z" fill="#14ff64" stroke="#14ff64"/><path d="M1122.7,876.8 L1132.5,875.1 L1119.9,869 L1110,870.6Z" fill="#14ff6a" stroke="#14ff6a"/><path d="M1135.5,883 L1145.2,881.3 L1132.5,875.1 L1122.7,876.8Z" fill="#14ff71" stroke="#14ff71"/><path d="M1148.4,889.2 L1158,887.4 L1145.2,881.3 L1135.5,883Z" fill="#14ff77" stroke="#14ff77"/><path d="M1161.3,895.4 L1170.8,893.6 L1158,887.4 L1148.4,889.2Z" fill="#14ff7e" stroke="#14ff7e"/><path d="M1174.2,901.7 L1183.7,899.9 L1170.8,893.6 L1161.3,895.4Z" fill="#14ff84" stroke="#14ff84"/><path d="M1187.2,908 L1196.7,906.1 L1183.7,899.9 L1174.2,901.7Z" fill="#14ff8b" stroke="#14ff8b"/><path d="M1200.3,914.3 L1209.7,912.4 L1196.7,906.1 L1187.2,908Z" fill="#14ff91" stroke="#14ff91"/><path d="M1213.5,920.7 L1222.7,918.7 L1209.7,912.4 L1200.3,914.3Z" fill="#14ff97" stroke="#14ff97"/><path d="M1226.7,927.1 L1235.9,925 L1222.7,918.7 L1213.5,920.7Z" fill="#14ff9e" stroke="#14ff9e"/><path d="M1239.9,933.5 L1249.1,931.4 L1235.9,925 L1226.7,927.1Z" fill="#14ffa4" stroke="#14ffa4"/><path d="M1253.3,940 L1262.3,937.8 L1249.1,931.4 L1239.9,933.5Z" fill="#14ffab" stroke="#14ffab"/><path d="M1266.7,946.4 L1275.6,944.2 L1262.3,937.8 L1253.3,940Z" fill="#14ffb1" stroke="#14ffb1"/><path d="M1280.1,953 L1289,950.7 L1275.6,944.2 L1266.7,946.4Z" fill="#14ffb7" stroke="#14ffb7"/><path d="M1293.6,959.5 L1302.5,957.2 L1289,950.7 L1280.1,953Z" fill="#14ffbe" stroke="#14ffbe"/><path d="M1307.2,966.1 L1316,963.7 L1302.5,957.2 L1293.6,959.5Z" fill="#14ffc4" stroke="#14ffc4"/><path d="M1320.9,972.7 L1329.5,970.3 L1316,963.7 L1307.2,966.1Z" fill="#14ffcb" stroke="#14ffcb"/><path d="M1334.6,979.3 L1343.2,976.9 L1329.5,970.3 L1320.9,972.7Z" fill="#14ffd1" stroke="#14ffd1"/><path d="M1348.4,986 L1356.9,983.5 L1343.2,976.9 L1334.6,979.3Z" fill="#14ffd7" stroke="#14ffd7"/><path d="M1362.2,992.7 L1370.7,990.1 L1356.9,983.5 L1348.4,986Z" fill="#14ffde" stroke="#14ffde"/><path d="M1100,872.2 L1110,870.6 L1097.4,864.5 L1087.3,866.1Z" fill="#14ff42" stroke="#14ff42"/><path d="M1112.8,878.5 L1122.7,876.8 L1110,870.6 L1100,872.2Z" fill="#14ff49" stroke="#14ff49"/><path d="M1125.7,884.7 L1135.5,883 L1122.7,876.8 L1112.8,878.5Z" fill="#14ff4f" stroke="#14ff4f"/><path d="M1138.6,891 L1148.4,889.2 L1135.5,883 L1125.7,884.7Z" fill="#14ff55" stroke="#14ff55"/><path d="M1151.6,897.2 L1161.3,895.4 L1148.4,889.2 L1138.6,891Z" fill="#14ff5c" stroke="#14ff5c"/><path d="M1164.6,903.6 L1174.2,901.7 L1161.3,895.4 L1151.6,897.2Z" fill="#14ff62" stroke="#14ff62"/><path d="M1177.7,909.9 L1187.2,908 L1174.2,901.7 L1164.6,903.6Z" fill="#14ff68" stroke="#14ff68"/><path d="M1190.8,916.3 L1200.3,914.3 L1187.2,908 L1177.7,909.9Z" fill="#14ff6f" stroke="#14ff6f"/><path d="M1204,922.7 L1213.5,920.7 L1200.3,914.3 L1190.8,916.3Z" fill="#14ff75" stroke="#14ff75"/><path d="M1217.3,929.2 L1226.7,927.1 L1213.5,920.7 L1204,922.7Z" fill="#14ff7b" stroke="#14ff7b"/><path d="M1230.7,935.6 L1239.9,933.5 L1226.7,927.1 L1217.3,929.2Z" fill="#14ff82" stroke="#14ff82"/><path d="M1244.1,942.1 L1253.3,940 L1239.9,933.5 L1230.7,935.6Z" fill="#14ff88" stroke="#14ff88"/><path d="M1257.5,948.7 L1266.7,946.4 L1253.3,940 L1244.1,942.1Z" fill="#14ff8f" stroke="#14ff8f"/><path d="M1271.1,955.2 L1280.1,953 L1266.7,946.4 L1257.5,948.7Z" fill="#14ff95" stroke="#14ff95"/><path d="M1284.7,961.8 L1293.6,959.5 L1280.1,953 L1271.1,955.2Z" fill="#14ff9b" stroke="#14ff9b"/><path d="M1298.3,968.5 L1307.2,966.1 L1293.6,959.5 L1284.7,961.8Z" fill="#14ffa2" stroke="#14ffa2"/><path d="M1312.1,975.1 L1320.9,972.7 L1307.2,966.1 L1298.3,968.5Z" fill="#14ffa8" stroke="#14ffa8"/><path d="M1325.9,981.8 L1334.6,979.3 L1320.9,972.7 L1312.1,975.1Z" fill="#14ffae" stroke="#14ffae"/><path d="M1339.7,988.5 L1348.4,986 L1334.6,979.3 L1325.9,981.8Z" fill="#14ffb5" stroke="#14ffb5"/><path d="M1353.7,995.3 L1362.2,992.7 L1348.4,986 L1339.7,988.5Z" fill="#14ffbb" stroke="#14ffbb"/><path d="M1089.9,873.9 L1100,872.2 L1087.3,866.1 L1077.1,867.7Z" fill="#14ff20" stroke="#14ff20"/><path d="M1102.8,880.1 L1112.8,878.5 L1100,872.2 L1089.9,873.9Z" fill="#14ff27" stroke="#14ff27"/><path d="M1115.7,886.4 L1125.7,884.7 L1112.8,878.5 L1102.8,880.1Z" fill="#14ff2d" stroke="#14ff2d"/><path d="M1128.7,892.7 L1138.6,891 L1125.7,884.7 L1115.7,886.4Z" fill="#14ff33" stroke="#14ff33"/><path d="M1141.7,899.1 L1151.6,897.2 L1138.6,891 L1128.7,892.7Z" fill="#14ff3a" stroke="#14ff3a"/><path d="M1154.8,905.5 L1164.6,903.6 L1151.6,897.2 L1141.7,899.1Z" fill="#14ff40" stroke="#14ff40"/><path d="M1168,911.9 L1177.7,909.9 L1164.6,903.6 L1154.8,905.5Z" fill="#14ff46" stroke="#14ff46"/><path d="M1181.2,918.3 L1190.8,916.3 L1177.7,909.9 L1168,911.9Z" fill="#14ff4d" stroke="#14ff4d"/><path d="M1194.5,924.8 L1204,922.7 L1190.8,916.3 L1181.2,918.3Z" fill="#14ff53" stroke="#14ff53"/><path d="M1207.8,931.3 L1217.3,929.2 L1204,922.7 L1194.5,924.8Z" fill="#14ff59" stroke="#14ff59"/><path d="M1221.3,937.8 L1230.7,935.6 L1217.3,929.2 L1207.8,931.3Z" fill="#14ff5f" stroke="#14ff5f"/><path d="M1234.7,944.3 L1244.1,942.1 L1230.7,935.6 L1221.3,937.8Z" fill="#14ff66" stroke="#14ff66"/><path d="M1248.3,950.9 L1257.5,948.7 L1244.1,942.1 L1234.7,944.3Z" fill="#14ff6c" stroke="#14ff6c"/><path d="M1261.9,957.5 L1271.1,955.2 L1257.5,948.7 L1248.3,950.9Z" fill="#14ff72" stroke="#14ff72"/><path d="M1275.6,964.2 L1284.7,961.8 L1271.1,955.2 L1261.9,957.5Z" fill="#14ff79" stroke="#14ff79"/><path d="M1289.3,970.9 L1298.3,968.5 L1284.7,961.8 L1275.6,964.2Z" fill="#14ff7f" stroke="#14ff7f"/><path d="M1303.1,977.6 L1312.1,975.1 L1298.3,968.5 L1289.3,970.9Z" fill="#14ff85" stroke="#14ff85"/><path d="M1317,984.4 L1325.9,981.8 L1312.1,975.1 L1303.1,977.6Z" fill="#14ff8c" stroke="#14ff8c"/><path d="M1331,991.1 L1339.7,988.5 L1325.9,981.8 L1317,984.4Z" fill="#14ff92" stroke="#14ff92"/><path d="M1345,998 L1353.7,995.3 L1339.7,988.5 L1331,991.1Z" fill="#14ff98" stroke="#14ff98"/><path d="M1079.6,875.6 L1089.9,873.9 L1077.1,867.7 L1066.8,869.3Z" fill="#2aff14" stroke="#2aff14"/><path d="M1092.6,881.9 L1102.8,880.1 L1089.9,873.9 L1079.6,875.6Z" fill="#24ff14" stroke="#24ff14"/><path d="M1105.5,888.2 L1115.7,886.4 L1102.8,880.1 L1092.6,881.9Z" fill="#1eff14" stroke="#1eff14"/><path d="M1118.6,894.6 L1128.7,892.7 L1115.7,886.4 L1105.5,888.2Z" fill="#17ff14" stroke="#17ff14"/><path d="M1131.7,901 L1141.7,899.1 L1128.7,892.7 L1118.6,894.6Z" fill="#14ff18" stroke="#14ff18"/><path d="M1144.9,907.4 L1154.8,905.5 L1141.7,899.1 L1131.7,901Z" fill="#14ff1e" stroke="#14ff1e"/><path d="M1158.1,913.8 L1168,911.9 L1154.8,905.5 L1144.9,907.4Z" fill="#14ff24" stroke="#14ff24"/><path d="M1171.4,920.3 L1181.2,918.3 L1168,911.9 L1158.1,913.8Z" fill="#14ff2a" stroke="#14ff2a"/><path d="M1184.8,926.8 L1194.5,924.8 L1181.2,918.3 L1171.4,920.3Z" fill="#14ff31" stroke="#14ff31"/><path d="M1198.2,933.4 L1207.8,931.3 L1194.5,924.8 L1184.8,926.8Z" fill="#14ff37" stroke="#14ff37"/><path d="M1211.7,940 L1221.3,937.8 L1207.8,931.3 L1198.2,933.4Z" fill="#14ff3d" stroke="#14ff3d"/><path d="M1225.3,946.6 L1234.7,944.3 L1221.3,937.8 L1211.7,940Z" fill="#14ff43" stroke="#14ff43"/><path d="M1238.9,953.2 L1248.3,950.9 L1234.7,944.3 L1225.3,946.6Z" fill="#14ff4a" stroke="#14ff4a"/><path d="M1252.6,959.9 L1261.9,957.5 L1248.3,950.9 L1238.9,953.2Z" fill="#14ff50" stroke="#14ff50"/><path d="M1266.3,966.6 L1275.6,964.2 L1261.9,957.5 L1252.6,959.9Z" fill="#14ff56" stroke="#14ff56"/><path d="M1280.2,973.3 L1289.3,970.9 L1275.6,964.2 L1266.3,966.6Z" fill="#14ff5c" stroke="#14ff5c"/><path d="M1294.1,980.1 L1303.1,977.6 L1289.3,970.9 L1280.2,973.3Z" fill="#14ff63" stroke="#14ff63"/><path d="M1308,986.9 L1317,984.4 L1303.1,977.6 L1294.1,980.1Z" fill="#14ff69" stroke="#14ff69"/><path d="M1322.1,993.8 L1331,991.1 L1317,984.4 L1308,986.9Z" fill="#14ff6f" stroke="#14ff6f"/><path d="M1336.2,1000.6 L1345,998 L1331,991.1 L1322.1,993.8Z" fill="#14ff75" stroke="#14ff75"/><path d="M1069.2,877.3 L1079.6,875.6 L1066.8,869.3 L1056.3,870.9Z" fill="#4cff14" stroke="#4cff14"/><path d="M1082.2,883.6 L1092.6,881.9 L1079.6,875.6 L1069.2,877.3Z" fill="#46ff14" stroke="#46ff14"/><path d="M1095.3,890 L1105.5,888.2 L1092.6,881.9 L1082.2,883.6Z" fill="#40ff14" stroke="#40ff14"/><path d="M1108.4,896.4 L1118.6,894.6 L1105.5,888.2 L1095.3,890Z" fill="#39ff14" stroke="#39ff14"/><path d="M1121.6,902.9 L1131.7,901 L1118.6,894.6 L1108.4,896.4Z" fill="#33ff14" stroke="#33ff14"/><path d="M1134.8,909.3 L1144.9,907.4 L1131.7,901 L1121.6,902.9Z" fill="#2dff14" stroke="#2dff14"/><path d="M1148.1,915.8 L1158.1,913.8 L1144.9,907.4 L1134.8,909.3Z" fill="#27ff14" stroke="#27ff14"/><path d="M1161.5,922.4 L1171.4,920.3 L1158.1,913.8 L1148.1,915.8Z" fill="#21ff14" stroke="#21ff14"/><path d="M1174.9,928.9 L1184.8,926.8 L1171.4,920.3 L1161.5,922.4Z" fill="#1aff14" stroke="#1aff14"/><path d="M1188.5,935.5 L1198.2,933.4 L1184.8,926.8 L1174.9,928.9Z" fill="#14ff15" stroke="#14ff15"/><path d="M1202,942.2 L1211.7,940 L1198.2,933.4 L1188.5,935.5Z" fill="#14ff1b" stroke="#14ff1b"/><path d="M1215.7,948.9 L1225.3,946.6 L1211.7,940 L1202,942.2Z" fill="#14ff21" stroke="#14ff21"/><path d="M1229.4,955.5 L1238.9,953.2 L1225.3,946.6 L1215.7,948.9Z" fill="#14ff27" stroke="#14ff27"/><path d="M1243.1,962.3 L1252.6,959.9 L1238.9,953.2 L1229.4,955.5Z" fill="#14ff2d" stroke="#14ff2d"/><path d="M1257,969 L1266.3,966.6 L1252.6,959.9 L1243.1,962.3Z" fill="#14ff34" stroke="#14ff34"/><path d="M1270.9,975.8 L1280.2,973.3 L1266.3,966.6 L1257,969Z" fill="#14ff3a" stroke="#14ff3a"/><path d="M1284.9,982.7 L1294.1,980.1 L1280.2,973.3 L1270.9,975.8Z" fill="#14ff40" stroke="#14ff40"/><path d="M1298.9,989.5 L1308,986.9 L1294.1,980.1 L1284.9,982.7Z" fill="#14ff46" stroke="#14ff46"/><path d="M1313,996.4 L1322.1,993.8 L1308,986.9 L1298.9,989.5Z" fill="#14ff4c" stroke="#14ff4c"/><path d="M1327.2,1003.4 L1336.2,1000.6 L1322.1,993.8 L1313,996.4Z" fill="#14ff53" stroke="#14ff53"/><path d="M1058.6,879 L1069.2,877.3 L1056.3,870.9 L1045.6,872.6Z" fill="#6eff14" stroke="#6eff14"/><path d="M1071.7,885.4 L1082.2,883.6 L1069.2,877.3 L1058.6,879Z" fill="#68ff14" stroke="#68ff14"/><path d="M1084.8,891.8 L1095.3,890 L1082.2,883.6 L1071.7,885.4Z" fill="#61ff14" stroke="#61ff14"/><path d="M1098,898.3 L1108.4,896.4 L1095.3,890 L1084.8,891.8Z" fill="#5bff14" stroke="#5bff14"/><path d="M1111.3,904.8 L1121.6,902.9 L1108.4,896.4 L1098,898.3Z" fill="#55ff14" stroke="#55ff14"/><path d="M1124.6,911.3 L1134.8,909.3 L1121.6,902.9 L1111.3,904.8Z" fill="#4fff14" stroke="#4fff14"/><path d="M1138,917.9 L1148.1,915.8 L1134.8,909.3 L1124.6,911.3Z" fill="#49ff14" stroke="#49ff14"/><path d="M1151.4,924.5 L1161.5,922.4 L1148.1,915.8 L1138,917.9Z" fill="#43ff14" stroke="#43ff14"/><path d="M1165,931.1 L1174.9,928.9 L1161.5,922.4 L1151.4,924.5Z" fill="#3dff14" stroke="#3dff14"/><path d="M1178.5,937.7 L1188.5,935.5 L1174.9,928.9 L1165,931.1Z" fill="#36ff14" stroke="#36ff14"/><path d="M1192.2,944.4 L1202,942.2 L1188.5,935.5 L1178.5,937.7Z" fill="#30ff14" stroke="#30ff14"/><path d="M1205.9,951.2 L1215.7,948.9 L1202,942.2 L1192.2,944.4Z" fill="#2aff14" stroke="#2aff14"/><path d="M1219.7,957.9 L1229.4,955.5 L1215.7,948.9 L1205.9,951.2Z" fill="#24ff14" stroke="#24ff14"/><path d="M1233.5,964.7 L1243.1,962.3 L1229.4,955.5 L1219.7,957.9Z" fill="#1eff14" stroke="#1eff14"/><path d="M1247.5,971.5 L1257,969 L1243.1,962.3 L1233.5,964.7Z" fill="#18ff14" stroke="#18ff14"/><path d="M1261.5,978.4 L1270.9,975.8 L1257,969 L1247.5,971.5Z" fill="#14ff17" stroke="#14ff17"/><path d="M1275.5,985.3 L1284.9,982.7 L1270.9,975.8 L1261.5,978.4Z" fill="#14ff1d" stroke="#14ff1d"/><path d="M1289.6,992.2 L1298.9,989.5 L1284.9,982.7 L1275.5,985.3Z" fill="#14ff23" stroke="#14ff23"/><path d="M1303.8,999.2 L1313,996.4 L1298.9,989.5 L1289.6,992.2Z" fill="#14ff2a" stroke="#14ff2a"/><path d="M1318.1,1006.2 L1327.2,1003.4 L1313,996.4 L1303.8,999.2Z" fill="#14ff30" stroke="#14ff30"/><path d="M1047.9,880.7 L1058.6,879 L1045.6,872.6 L1034.8,874.3Z" fill="#8fff14" stroke="#8fff14"/><path d="M1061,887.2 L1071.7,885.4 L1058.6,879 L1047.9,880.7Z" fill="#89ff14" stroke="#89ff14"/><path d="M1074.2,893.7 L1084.8,891.8 L1071.7,885.4 L1061,887.2Z" fill="#83ff14" stroke="#83ff14"/><path d="M1087.5,900.2 L1098,898.3 L1084.8,891.8 L1074.2,893.7Z" fill="#7dff14" stroke="#7dff14"/><path d="M1100.8,906.7 L1111.3,904.8 L1098,898.3 L1087.5,900.2Z" fill="#77ff14" stroke="#77ff14"/><path d="M1114.2,913.3 L1124.6,911.3 L1111.3,904.8 L1100.8,906.7Z" fill="#71ff14" stroke="#71ff14"/><path d="M1127.7,919.9 L1138,917.9 L1124.6,911.3 L1114.2,913.3Z" fill="#6bff14" stroke="#6bff14"/><path d="M1141.2,926.6 L1151.4,924.5 L1138,917.9 L1127.7,919.9Z" fill="#65ff14" stroke="#65ff14"/><path d="M1154.8,933.3 L1165,931.1 L1151.4,924.5 L1141.2,926.6Z" fill="#5fff14" stroke="#5fff14"/><path d="M1168.5,940 L1178.5,937.7 L1165,931.1 L1154.8,933.3Z" fill="#59ff14" stroke="#59ff14"/><path d="M1182.2,946.7 L1192.2,944.4 L1178.5,937.7 L1168.5,940Z" fill="#53ff14" stroke="#53ff14"/><path d="M1196,953.5 L1205.9,951.2 L1192.2,944.4 L1182.2,946.7Z" fill="#4dff14" stroke="#4dff14"/><path d="M1209.9,960.3 L1219.7,957.9 L1205.9,951.2 L1196,953.5Z" fill="#47ff14" stroke="#47ff14"/><path d="M1223.8,967.2 L1233.5,964.7 L1219.7,957.9 L1209.9,960.3Z" fill="#40ff14" stroke="#40ff14"/><path d="M1237.8,974 L1247.5,971.5 L1233.5,964.7 L1223.8,967.2Z" fill="#3aff14" stroke="#3aff14"/><path d="M1251.9,981 L1261.5,978.4 L1247.5,971.5 L1237.8,974Z" fill="#34ff14" stroke="#34ff14"/><path d="M1266,987.9 L1275.5,985.3 L1261.5,978.4 L1251.9,981Z" fill="#2eff14" stroke="#2eff14"/><path d="M1280.2,994.9 L1289.6,992.2 L1275.5,985.3 L1266,987.9Z" fill="#28ff14" stroke="#28ff14"/><path d="M1294.5,1001.9 L1303.8,999.2 L1289.6,992.2 L1280.2,994.9Z" fill="#22ff14" stroke="#22ff14"/><path d="M1308.9,1009 L1318.1,1006.2 L1303.8,999.2 L1294.5,1001.9Z" fill="#1cff14" stroke="#1cff14"/><path d="M1037,882.5 L1047.9,880.7 L1034.8,874.3 L1023.8,876Z" fill="#b1ff14" stroke="#b1ff14"/><path d="M1050.2,889 L1061,887.2 L1047.9,880.7 L1037,882.5Z" fill="#abff14" stroke="#abff14"/><path d="M1063.5,895.5 L1074.2,893.7 L1061,887.2 L1050.2,889Z" fill="#a5ff14" stroke="#a5ff14"/><path d="M1076.8,902.1 L1087.5,900.2 L1074.2,893.7 L1063.5,895.5Z" fill="#9fff14" stroke="#9fff14"/><path d="M1090.2,908.7 L1100.8,906.7 L1087.5,900.2 L1076.8,902.1Z" fill="#99ff14" stroke="#99ff14"/><path d="M1103.7,915.4 L1114.2,913.3 L1100.8,906.7 L1090.2,908.7Z" fill="#93ff14" stroke="#93ff14"/><path d="M1117.2,922 L1127.7,919.9 L1114.2,913.3 L1103.7,915.4Z" fill="#8dff14" stroke="#8dff14"/><path d="M1130.8,928.7 L1141.2,926.6 L1127.7,919.9 L1117.2,922Z" fill="#87ff14" stroke="#87ff14"/><path d="M1144.5,935.5 L1154.8,933.3 L1141.2,926.6 L1130.8,928.7Z" fill="#81ff14" stroke="#81ff14"/><path d="M1158.3,942.2 L1168.5,940 L1154.8,933.3 L1144.5,935.5Z" fill="#7bff14" stroke="#7bff14"/><path d="M1172.1,949 L1182.2,946.7 L1168.5,940 L1158.3,942.2Z" fill="#75ff14" stroke="#75ff14"/><path d="M1185.9,955.9 L1196,953.5 L1182.2,946.7 L1172.1,949Z" fill="#6fff14" stroke="#6fff14"/><path d="M1199.9,962.8 L1209.9,960.3 L1196,953.5 L1185.9,955.9Z" fill="#69ff14" stroke="#69ff14"/><path d="M1213.9,969.7 L1223.8,967.2 L1209.9,960.3 L1199.9,962.8Z" fill="#63ff14" stroke="#63ff14"/><path d="M1228,976.6 L1237.8,974 L1223.8,967.2 L1213.9,969.7Z" fill="#5dff14" stroke="#5dff14"/><path d="M1242.1,983.6 L1251.9,981 L1237.8,974 L1228,976.6Z" fill="#57ff14" stroke="#57ff14"/><path d="M1256.4,990.6 L1266,987.9 L1251.9,981 L1242.1,983.6Z" fill="#51ff14" stroke="#51ff14"/><path d="M1270.7,997.6 L1280.2,994.9 L1266,987.9 L1256.4,990.6Z" fill="#4bff14" stroke="#4bff14"/><path d="M1285.1,1004.7 L1294.5,1001.9 L1280.2,994.9 L1270.7,997.6Z" fill="#45ff14" stroke="#45ff14"/><path d="M1299.5,1011.8 L1308.9,1009 L1294.5,1001.9 L1285.1,1004.7Z" fill="#3fff14" stroke="#3fff14"/><path d="M1025.9,884.3 L1037,882.5 L1023.8,876 L1012.7,877.8Z" fill="#d3ff14" stroke="#d3ff14"/><path d="M1039.2,890.9 L1050.2,889 L1037,882.5 L1025.9,884.3Z" fill="#cdff14" stroke="#cdff14"/><path d="M1052.6,897.4 L1063.5,895.5 L1050.2,889 L1039.2,890.9Z" fill="#c7ff14" stroke="#c7ff14"/><path d="M1066,904.1 L1076.8,902.1 L1063.5,895.5 L1052.6,897.4Z" fill="#c1ff14" stroke="#c1ff14"/><path d="M1079.5,910.7 L1090.2,908.7 L1076.8,902.1 L1066,904.1Z" fill="#bbff14" stroke="#bbff14"/><path d="M1093,917.4 L1103.7,915.4 L1090.2,908.7 L1079.5,910.7Z" fill="#b5ff14" stroke="#b5ff14"/><path d="M1106.6,924.2 L1117.2,922 L1103.7,915.4 L1093,917.4Z" fill="#afff14" stroke="#afff14"/><path d="M1120.3,930.9 L1130.8,928.7 L1117.2,922 L1106.6,924.2Z" fill="#a9ff14" stroke="#a9ff14"/><path d="M1134.1,937.7 L1144.5,935.5 L1130.8,928.7 L1120.3,930.9Z" fill="#a3ff14" stroke="#a3ff14"/><path d="M1147.9,944.5 L1158.3,942.2 L1144.5,935.5 L1134.1,937.7Z" fill="#9dff14" stroke="#9dff14"/><path d="M1161.8,951.4 L1172.1,949 L1158.3,942.2 L1147.9,944.5Z" fill="#97ff14" stroke="#97ff14"/><path d="M1175.7,958.3 L1185.9,955.9 L1172.1,949 L1161.8,951.4Z" fill="#91ff14" stroke="#91ff14"/><path d="M1189.8,965.2 L1199.9,962.8 L1185.9,955.9 L1175.7,958.3Z" fill="#8bff14" stroke="#8bff14"/><path d="M1203.9,972.2 L1213.9,969.7 L1199.9,962.8 L1189.8,965.2Z" fill="#85ff14" stroke="#85ff14"/><path d="M1218,979.2 L1228,976.6 L1213.9,969.7 L1203.9,972.2Z" fill="#7fff14" stroke="#7fff14"/><path d="M1232.3,986.2 L1242.1,983.6 L1228,976.6 L1218,979.2Z" fill="#79ff14" stroke="#79ff14"/><path d="M1246.6,993.3 L1256.4,990.6 L1242.1,983.6 L1232.3,986.2Z" fill="#74ff14" stroke="#74ff14"/><path d="M1261,1000.4 L1270.7,997.6 L1256.4,990.6 L1246.6,993.3Z" fill="#6eff14" stroke="#6eff14"/><path d="M1275.4,1007.6 L1285.1,1004.7 L1270.7,997.6 L1261,1000.4Z" fill="#68ff14" stroke="#68ff14"/><path d="M1290,1014.7 L1299.5,1011.8 L1285.1,1004.7 L1275.4,1007.6Z" fill="#62ff14" stroke="#62ff14"/><path d="M1014.7,886.1 L1025.9,884.3 L1012.7,877.8 L1001.4,879.5Z" fill="#f5ff14" stroke="#f5ff14"/><path d="M1028,892.7 L1039.2,890.9 L1025.9,884.3 L1014.7,886.1Z" fill="#efff14" stroke="#efff14"/><path d="M1041.5,899.4 L1052.6,897.4 L1039.2,890.9 L1028,892.7Z" fill="#e9ff14" stroke="#e9ff14"/><path d="M1055,906.1 L1066,904.1 L1052.6,897.4 L1041.5,899.4Z" fill="#e3ff14" stroke="#e3ff14"/><path d="M1068.5,912.8 L1079.5,910.7 L1066,904.1 L1055,906.1Z" fill="#ddff14" stroke="#ddff14"/><path d="M1082.1,919.5 L1093,917.4 L1079.5,910.7 L1068.5,912.8Z" fill="#d7ff14" stroke="#d7ff14"/><path d="M1095.8,926.3 L1106.6,924.2 L1093,917.4 L1082.1,919.5Z" fill="#d1ff14" stroke="#d1ff14"/><path d="M1109.6,933.1 L1120.3,930.9 L1106.6,924.2 L1095.8,926.3Z" fill="#cbff14" stroke="#cbff14"/><path d="M1123.4,940 L1134.1,937.7 L1120.3,930.9 L1109.6,933.1Z" fill="#c5ff14" stroke="#c5ff14"/><path d="M1137.3,946.9 L1147.9,944.5 L1134.1,937.7 L1123.4,940Z" fill="#c0ff14" stroke="#c0ff14"/><path d="M1151.3,953.8 L1161.8,951.4 L1147.9,944.5 L1137.3,946.9Z" fill="#baff14" stroke="#baff14"/><path d="M1165.3,960.7 L1175.7,958.3 L1161.8,951.4 L1151.3,953.8Z" fill="#b4ff14" stroke="#b4ff14"/><path d="M1179.5,967.7 L1189.8,965.2 L1175.7,958.3 L1165.3,960.7Z" fill="#aeff14" stroke="#aeff14"/><path d="M1193.6,974.8 L1203.9,972.2 L1189.8,965.2 L1179.5,967.7Z" fill="#a8ff14" stroke="#a8ff14"/><path d="M1207.9,981.8 L1218,979.2 L1203.9,972.2 L1193.6,974.8Z" fill="#a2ff14" stroke="#a2ff14"/><path d="M1222.2,988.9 L1232.3,986.2 L1218,979.2 L1207.9,981.8Z" fill="#9cff14" stroke="#9cff14"/><path d="M1236.6,996.1 L1246.6,993.3 L1232.3,986.2 L1222.2,988.9Z" fill="#96ff14" stroke="#96ff14"/><path d="M1251.1,1003.2 L1261,1000.4 L1246.6,993.3 L1236.6,996.1Z" fill="#90ff14" stroke="#90ff14"/><path d="M1265.7,1010.4 L1275.4,1007.6 L1261,1000.4 L1251.1,1003.2Z" fill="#8aff14" stroke="#8aff14"/><path d="M1280.3,1017.7 L1290,1014.7 L1275.4,1007.6 L1265.7,1010.4Z" fill="#84ff14" stroke="#84ff14"/><path d="M1003.3,888 L1014.7,886.1 L1001.4,879.5 L989.9,881.3Z" fill="#ffe714" stroke="#ffe714"/><path d="M1016.7,894.6 L1028,892.7 L1014.7,886.1 L1003.3,888Z" fill="#ffed14" stroke="#ffed14"/><path d="M1030.2,901.3 L1041.5,899.4 L1028,892.7 L1016.7,894.6Z" fill="#fff314" stroke="#fff314"/><path d="M1043.8,908.1 L1055,906.1 L1041.5,899.4 L1030.2,901.3Z" fill="#fff914" stroke="#fff914"/><path d="M1057.4,914.9 L1068.5,912.8 L1055,906.1 L1043.8,908.1Z" fill="#ffff14" stroke="#ffff14"/><path d="M1071.1,921.7 L1082.1,919.5 L1068.5,912.8 L1057.4,914.9Z" fill="#f9ff14" stroke="#f9ff14"/><path d="M1084.9,928.5 L1095.8,926.3 L1082.1,919.5 L1071.1,921.7Z" fill="#f3ff14" stroke="#f3ff14"/><path d="M1098.7,935.4 L1109.6,933.1 L1095.8,926.3 L1084.9,928.5Z" fill="#eeff14" stroke="#eeff14"/><path d="M1112.6,942.3 L1123.4,940 L1109.6,933.1 L1098.7,935.4Z" fill="#e8ff14" stroke="#e8ff14"/><path d="M1126.6,949.2 L1137.3,946.9 L1123.4,940 L1112.6,942.3Z" fill="#e2ff14" stroke="#e2ff14"/><path d="M1140.7,956.2 L1151.3,953.8 L1137.3,946.9 L1126.6,949.2Z" fill="#dcff14" stroke="#dcff14"/><path d="M1154.8,963.2 L1165.3,960.7 L1151.3,953.8 L1140.7,956.2Z" fill="#d6ff14" stroke="#d6ff14"/><path d="M1169,970.3 L1179.5,967.7 L1165.3,960.7 L1154.8,963.2Z" fill="#d0ff14" stroke="#d0ff14"/><path d="M1183.3,977.4 L1193.6,974.8 L1179.5,967.7 L1169,970.3Z" fill="#caff14" stroke="#caff14"/><path d="M1197.6,984.5 L1207.9,981.8 L1193.6,974.8 L1183.3,977.4Z" fill="#c5ff14" stroke="#c5ff14"/><path d="M1212,991.7 L1222.2,988.9 L1207.9,981.8 L1197.6,984.5Z" fill="#bfff14" stroke="#bfff14"/><path d="M1226.5,998.9 L1236.6,996.1 L1222.2,988.9 L1212,991.7Z" fill="#b9ff14" stroke="#b9ff14"/><path d="M1241.1,1006.1 L1251.1,1003.2 L1236.6,996.1 L1226.5,998.9Z" fill="#b3ff14" stroke="#b3ff14"/><path d="M1255.7,1013.4 L1265.7,1010.4 L1251.1,1003.2 L1241.1,1006.1Z" fill="#adff14" stroke="#adff14"/><path d="M1270.5,1020.7 L1280.3,1017.7 L1265.7,1010.4 L1255.7,1013.4Z" fill="#a7ff14" stroke="#a7ff14"/><path d="M991.7,889.8 L1003.3,888 L989.9,881.3 L978.3,883.2Z" fill="#ffc614" stroke="#ffc614"/><path d="M1005.2,896.6 L1016.7,894.6 L1003.3,888 L991.7,889.8Z" fill="#ffcb14" stroke="#ffcb14"/><path d="M1018.8,903.3 L1030.2,901.3 L1016.7,894.6 L1005.2,896.6Z" fill="#ffd114" stroke="#ffd114"/><path d="M1032.4,910.1 L1043.8,908.1 L1030.2,901.3 L1018.8,903.3Z" fill="#ffd714" stroke="#ffd714"/><path d="M1046.1,917 L1057.4,914.9 L1043.8,908.1 L1032.4,910.1Z" fill="#ffdd14" stroke="#ffdd14"/><path d="M1059.9,923.8 L1071.1,921.7 L1057.4,914.9 L1046.1,917Z" fill="#ffe314" stroke="#ffe314"/><path d="M1073.8,930.7 L1084.9,928.5 L1071.1,921.7 L1059.9,923.8Z" fill="#ffe814" stroke="#ffe814"/><path d="M1087.7,937.7 L1098.7,935.4 L1084.9,928.5 L1073.8,930.7Z" fill="#ffee14" stroke="#ffee14"/><path d="M1101.7,944.6 L1112.6,942.3 L1098.7,935.4 L1087.7,937.7Z" fill="#fff414" stroke="#fff414"/><path d="M1115.8,951.7 L1126.6,949.2 L1112.6,942.3 L1101.7,944.6Z" fill="#fffa14" stroke="#fffa14"/><path d="M1129.9,958.7 L1140.7,956.2 L1126.6,949.2 L1115.8,951.7Z" fill="#feff14" stroke="#feff14"/><path d="M1144.1,965.8 L1154.8,963.2 L1140.7,956.2 L1129.9,958.7Z" fill="#f9ff14" stroke="#f9ff14"/><path d="M1158.4,972.9 L1169,970.3 L1154.8,963.2 L1144.1,965.8Z" fill="#f3ff14" stroke="#f3ff14"/><path d="M1172.7,980 L1183.3,977.4 L1169,970.3 L1158.4,972.9Z" fill="#edff14" stroke="#edff14"/><path d="M1187.2,987.2 L1197.6,984.5 L1183.3,977.4 L1172.7,980Z" fill="#e7ff14" stroke="#e7ff14"/><path d="M1201.7,994.5 L1212,991.7 L1197.6,984.5 L1187.2,987.2Z" fill="#e1ff14" stroke="#e1ff14"/><path d="M1216.3,1001.7 L1226.5,998.9 L1212,991.7 L1201.7,994.5Z" fill="#dbff14" stroke="#dbff14"/><path d="M1230.9,1009 L1241.1,1006.1 L1226.5,998.9 L1216.3,1001.7Z" fill="#d6ff14" stroke="#d6ff14"/><path d="M1245.7,1016.4 L1255.7,1013.4 L1241.1,1006.1 L1230.9,1009Z" fill="#d0ff14" stroke="#d0ff14"/><path d="M1260.5,1023.7 L1270.5,1020.7 L1255.7,1013.4 L1245.7,1016.4Z" fill="#caff14" stroke="#caff14"/><path d="M979.9,891.8 L991.7,889.8 L978.3,883.2 L966.4,885Z" fill="#ffa414" stroke="#ffa414"/><path d="M993.5,898.5 L1005.2,896.6 L991.7,889.8 L979.9,891.8Z" fill="#ffaa14" stroke="#ffaa14"/><path d="M1007.2,905.4 L1018.8,903.3 L1005.2,896.6 L993.5,898.5Z" fill="#ffaf14" stroke="#ffaf14"/><path d="M1020.9,912.2 L1032.4,910.1 L1018.8,903.3 L1007.2,905.4Z" fill="#ffb514" stroke="#ffb514"/><path d="M1034.7,919.1 L1046.1,917 L1032.4,910.1 L1020.9,912.2Z" fill="#ffbb14" stroke="#ffbb14"/><path d="M1048.6,926 L1059.9,923.8 L1046.1,917 L1034.7,919.1Z" fill="#ffc114" stroke="#ffc114"/><path d="M1062.5,933 L1073.8,930.7 L1059.9,923.8 L1048.6,926Z" fill="#ffc614" stroke="#ffc614"/><path d="M1076.5,940 L1087.7,937.7 L1073.8,930.7 L1062.5,933Z" fill="#ffcc14" stroke="#ffcc14"/><path d="M1090.6,947 L1101.7,944.6 L1087.7,937.7 L1076.5,940Z" fill="#ffd214" stroke="#ffd214"/><path d="M1104.7,954.1 L1115.8,951.7 L1101.7,944.6 L1090.6,947Z" fill="#ffd814" stroke="#ffd814"/><path d="M1118.9,961.2 L1129.9,958.7 L1115.8,951.7 L1104.7,954.1Z" fill="#ffdd14" stroke="#ffdd14"/><path d="M1133.2,968.3 L1144.1,965.8 L1129.9,958.7 L1118.9,961.2Z" fill="#ffe314" stroke="#ffe314"/><path d="M1147.6,975.5 L1158.4,972.9 L1144.1,965.8 L1133.2,968.3Z" fill="#ffe914" stroke="#ffe914"/><path d="M1162,982.7 L1172.7,980 L1158.4,972.9 L1147.6,975.5Z" fill="#ffef14" stroke="#ffef14"/><path d="M1176.6,990 L1187.2,987.2 L1172.7,980 L1162,982.7Z" fill="#fff414" stroke="#fff414"/><path d="M1191.2,997.3 L1201.7,994.5 L1187.2,987.2 L1176.6,990Z" fill="#fffa14" stroke="#fffa14"/><path d="M1205.8,1004.6 L1216.3,1001.7 L1201.7,994.5 L1191.2,997.3Z" fill="#feff14" stroke="#feff14"/><path d="M1220.6,1012 L1230.9,1009 L1216.3,1001.7 L1205.8,1004.6Z" fill="#f8ff14" stroke="#f8ff14"/><path d="M1235.4,1019.4 L1245.7,1016.4 L1230.9,1009 L1220.6,1012Z" fill="#f3ff14" stroke="#f3ff14"/><path d="M1250.3,1026.8 L1260.5,1023.7 L1245.7,1016.4 L1235.4,1019.4Z" fill="#edff14" stroke="#edff14"/><path d="M968,893.7 L979.9,891.8 L966.4,885 L954.4,886.9Z" fill="#ff8214" stroke="#ff8214"/><path d="M981.7,900.5 L993.5,898.5 L979.9,891.8 L968,893.7Z" fill="#ff8814" stroke="#ff8814"/><path d="M995.4,907.4 L1007.2,905.4 L993.5,898.5 L981.7,900.5Z" fill="#ff8d14" stroke="#ff8d14"/><path d="M1009.2,914.3 L1020.9,912.2 L1007.2,905.4 L995.4,907.4Z" fill="#ff9314" stroke="#ff9314"/><path d="M1023.1,921.3 L1034.7,919.1 L1020.9,912.2 L1009.2,914.3Z" fill="#ff9914" stroke="#ff9914"/><path d="M1037,928.3 L1048.6,926 L1034.7,919.1 L1023.1,921.3Z" fill="#ff9f14" stroke="#ff9f14"/><path d="M1051,935.3 L1062.5,933 L1048.6,926 L1037,928.3Z" fill="#ffa414" stroke="#ffa414"/><path d="M1065.1,942.4 L1076.5,940 L1062.5,933 L1051,935.3Z" fill="#ffaa14" stroke="#ffaa14"/><path d="M1079.3,949.5 L1090.6,947 L1076.5,940 L1065.1,942.4Z" fill="#ffb014" stroke="#ffb014"/><path d="M1093.5,956.6 L1104.7,954.1 L1090.6,947 L1079.3,949.5Z" fill="#ffb514" stroke="#ffb514"/><path d="M1107.8,963.8 L1118.9,961.2 L1104.7,954.1 L1093.5,956.6Z" fill="#ffbb14" stroke="#ffbb14"/><path d="M1122.2,971 L1133.2,968.3 L1118.9,961.2 L1107.8,963.8Z" fill="#ffc114" stroke="#ffc114"/><path d="M1136.6,978.2 L1147.6,975.5 L1133.2,968.3 L1122.2,971Z" fill="#ffc614" stroke="#ffc614"/><path d="M1151.2,985.5 L1162,982.7 L1147.6,975.5 L1136.6,978.2Z" fill="#ffcc14" stroke="#ffcc14"/><path d="M1165.8,992.8 L1176.6,990 L1162,982.7 L1151.2,985.5Z" fill="#ffd214" stroke="#ffd214"/><path d="M1180.5,1000.2 L1191.2,997.3 L1176.6,990 L1165.8,992.8Z" fill="#ffd714" stroke="#ffd714"/><path d="M1195.2,1007.6 L1205.8,1004.6 L1191.2,997.3 L1180.5,1000.2Z" fill="#ffdd14" stroke="#ffdd14"/><path d="M1210.1,1015 L1220.6,1012 L1205.8,1004.6 L1195.2,1007.6Z" fill="#ffe314" stroke="#ffe314"/><path d="M1225,1022.5 L1235.4,1019.4 L1220.6,1012 L1210.1,1015Z" fill="#ffe914" stroke="#ffe914"/><path d="M1240,1030 L1250.3,1026.8 L1235.4,1019.4 L1225,1022.5Z" fill="#ffee14" stroke="#ffee14"/><path d="M955.9,895.7 L968,893.7 L954.4,886.9 L942.2,888.8Z" fill="#ff6014" stroke="#ff6014"/><path d="M969.6,902.6 L981.7,900.5 L968,893.7 L955.9,895.7Z" fill="#ff6614" stroke="#ff6614"/><path d="M983.4,909.5 L995.4,907.4 L981.7,900.5 L969.6,902.6Z" fill="#ff6c14" stroke="#ff6c14"/><path d="M997.3,916.5 L1009.2,914.3 L995.4,907.4 L983.4,909.5Z" fill="#ff7114" stroke="#ff7114"/><path d="M1011.2,923.5 L1023.1,921.3 L1009.2,914.3 L997.3,916.5Z" fill="#ff7714" stroke="#ff7714"/><path d="M1025.3,930.5 L1037,928.3 L1023.1,921.3 L1011.2,923.5Z" fill="#ff7c14" stroke="#ff7c14"/><path d="M1039.4,937.6 L1051,935.3 L1037,928.3 L1025.3,930.5Z" fill="#ff8214" stroke="#ff8214"/><path d="M1053.5,944.8 L1065.1,942.4 L1051,935.3 L1039.4,937.6Z" fill="#ff8814" stroke="#ff8814"/><path d="M1067.8,951.9 L1079.3,949.5 L1065.1,942.4 L1053.5,944.8Z" fill="#ff8d14" stroke="#ff8d14"/><path d="M1082.1,959.1 L1093.5,956.6 L1079.3,949.5 L1067.8,951.9Z" fill="#ff9314" stroke="#ff9314"/><path d="M1096.5,966.3 L1107.8,963.8 L1093.5,956.6 L1082.1,959.1Z" fill="#ff9914" stroke="#ff9914"/><path d="M1110.9,973.6 L1122.2,971 L1107.8,963.8 L1096.5,966.3Z" fill="#ff9e14" stroke="#ff9e14"/><path d="M1125.5,980.9 L1136.6,978.2 L1122.2,971 L1110.9,973.6Z" fill="#ffa414" stroke="#ffa414"/><path d="M1140.1,988.3 L1151.2,985.5 L1136.6,978.2 L1125.5,980.9Z" fill="#ffaa14" stroke="#ffaa14"/><path d="M1154.8,995.7 L1165.8,992.8 L1151.2,985.5 L1140.1,988.3Z" fill="#ffaf14" stroke="#ffaf14"/><path d="M1169.6,1003.1 L1180.5,1000.2 L1165.8,992.8 L1154.8,995.7Z" fill="#ffb514" stroke="#ffb514"/><path d="M1184.4,1010.6 L1195.2,1007.6 L1180.5,1000.2 L1169.6,1003.1Z" fill="#ffbb14" stroke="#ffbb14"/><path d="M1199.4,1018.1 L1210.1,1015 L1195.2,1007.6 L1184.4,1010.6Z" fill="#ffc014" stroke="#ffc014"/><path d="M1214.4,1025.6 L1225,1022.5 L1210.1,1015 L1199.4,1018.1Z" fill="#ffc614" stroke="#ffc614"/><path d="M1229.5,1033.2 L1240,1030 L1225,1022.5 L1214.4,1025.6Z" fill="#ffcb14" stroke="#ffcb14"/></g>
<path d="M1229.5,1033.2 L942.2,888.8 M1229.5,1033.2 L1411,977.8 M1240,1030 L954.4,886.9 M1214.4,1025.6 L1397.6,971.4 M1250.3,1026.8 L966.4,885 M1199.4,1018.1 L1384.3,965.1 M1260.5,1023.7 L978.3,883.2 M1184.4,1010.6 L1371.1,958.7 M1270.5,1020.7 L989.9,881.3 M1169.6,1003.1 L1357.9,952.4 M1280.3,1017.7 L1001.4,879.5 M1154.8,995.7 L1344.8,946.2 M1290,1014.7 L1012.7,877.8 M1140.1,988.3 L1331.7,939.9 M1299.5,1011.8 L1023.8,876 M1125.5,980.9 L1318.7,933.7 M1308.9,1009 L1034.8,874.3 M1110.9,973.6 L1305.7,927.5 M1318.1,1006.2 L1045.6,872.6 M1096.5,966.3 L1292.8,921.4 M1327.2,1003.4 L1056.3,870.9 M1082.1,959.1 L1280,915.3 M1336.2,1000.6 L1066.8,869.3 M1067.8,951.9 L1267.2,909.2 M1345,998 L1077.1,867.7 M1053.5,944.8 L1254.5,903.1 M1353.7,995.3 L1087.3,866.1 M1039.4,937.6 L1241.9,897.1 M1362.2,992.7 L1097.4,864.5 M1025.3,930.5 L1229.3,891 M1370.7,990.1 L1107.3,862.9 M1011.2,923.5 L1216.7,885.1 M1379,987.6 L1117,861.4 M997.3,916.5 L1204.2,879.1 M1387.1,985.1 L1126.7,859.9 M983.4,909.5 L1191.8,873.2 M1395.2,982.6 L1136.2,858.4 M969.6,902.6 L1179.4,867.2 M1403.2,980.2 L1145.6,856.9 M955.9,895.7 L1167.1,861.4 M1411,977.8 L1154.8,855.5 M942.2,888.8 L1154.8,855.5" fill="none" stroke="#000" stroke-opacity="0.82" stroke-width="1.0"/>
<ellipse cx="947.3" cy="934.8" rx="5.2" ry="5.3" fill="#ffc6c6" stroke="#3c2020" stroke-width="0.9"/>
<path d="M1188.4,856.5 L1188.4,871.6" stroke="#111" stroke-opacity="1" stroke-width="1.6"/>
<path d="M1188.4,871.6 L1188.4,932.2" stroke="#111" stroke-opacity="0.4" stroke-width="1.6"/>
<ellipse cx="1188.4" cy="856.5" rx="5.2" ry="5.3" fill="#b40000" stroke="#3c0000" stroke-width="0.9"/>
<ellipse cx="1410.3" cy="991.7" rx="5.2" ry="5.3" fill="#ffc6c6" stroke="#3c2020" stroke-width="0.9"/>
<path d="M1229.5,1033.2 L1229.5,1041.9" stroke="#111" stroke-opacity="1" stroke-width="1.6"/>
<ellipse cx="1229.5" cy="1041.9" rx="5.2" ry="5.3" fill="#ffc6c6" stroke="#3c2020" stroke-width="0.9"/>
</g>
<g>
<text x="1485.9" y="681.8" font-size="11.75" fill="#222" textLength="116.9" lengthAdjust="spacingAndGlyphs">Factor Coding: Actual</text>
<text x="1485.9" y="719.2" font-size="11.75" fill="#111" font-weight="bold" style="white-space:pre" textLength="92" lengthAdjust="spacingAndGlyphs">Dissolution  (%)</text>
<text x="1485.9" y="738" font-size="11.75" fill="#222" textLength="77.5" lengthAdjust="spacingAndGlyphs">Design Points:</text>
<ellipse cx="1498.5" cy="752.6" rx="6.7" ry="6.5" fill="#b40000" stroke="#4a0000" stroke-width="0.8"/>
<text x="1513.1" y="756.7" font-size="11.75" fill="#b01c1c" textLength="78.5" lengthAdjust="spacingAndGlyphs">Above Surface</text>
<ellipse cx="1498.5" cy="771.3" rx="6.7" ry="6.5" fill="#ffc6c6" stroke="#4a3030" stroke-width="0.8"/>
<text x="1513.1" y="775.4" font-size="11.75" fill="#b01c1c" textLength="77.2" lengthAdjust="spacingAndGlyphs">Below Surface</text>
<text x="1485.9" y="794.1" font-size="11.75" fill="#2323c8" textLength="21.6" lengthAdjust="spacingAndGlyphs">21.3</text>
<rect x="1512.9" y="782.1" width="45.3" height="16.3" fill="url(#cbar)" stroke="#222" stroke-width="0.7"/>
<text x="1563.7" y="794.1" font-size="11.75" fill="#c81e1e" textLength="12.3" lengthAdjust="spacingAndGlyphs">33</text>
<text x="1485.9" y="831.6" font-size="11.75" fill="#222" textLength="35.5" lengthAdjust="spacingAndGlyphs">X1 = B</text>
<text x="1485.9" y="850.3" font-size="11.75" fill="#222" textLength="36.1" lengthAdjust="spacingAndGlyphs">X2 = C</text>
<text x="1485.9" y="887.8" font-size="11.75" fill="#111" font-weight="bold" textLength="76.9" lengthAdjust="spacingAndGlyphs">Actual Factor</text>
<text x="1485.9" y="906.5" font-size="11.75" fill="#222" textLength="35.8" lengthAdjust="spacingAndGlyphs">A = 35</text>
<path d="M1684.2,861.5 L1705.2,1043.9 M1726.1,835.1 L1743.6,1016 M1768,808.7 L1781.9,988.1 M1809.8,782.4 L1820.2,960.2 M1851.7,756 L1858.6,932.3 M1893.6,729.6 L1896.9,904.4 M1684.2,861.5 L1893.6,729.6 M1687.2,887.6 L1894.1,754.6 M1690.2,913.6 L1894.5,779.5 M1693.2,939.7 L1895,804.5 M1696.2,965.7 L1895.5,829.5 M1699.2,991.8 L1896,854.4 M1702.2,1017.8 L1896.4,879.4 M1705.2,1043.9 L1896.9,904.4 M1893.6,729.6 L1896.9,904.4 M1960.4,752.7 L1958,928.9 M2027.2,775.9 L2019.1,953.5 M2094,799 L2080.2,978.1 M2160.8,822.1 L2141.3,1002.6 M1893.6,729.6 L2160.8,822.1 M1894.1,754.6 L2158,847.9 M1894.5,779.5 L2155.2,873.7 M1895,804.5 L2152.4,899.5 M1895.5,829.5 L2149.7,925.3 M1896,854.4 L2146.9,951.1 M1896.4,879.4 L2144.1,976.9 M1896.9,904.4 L2141.3,1002.6 M1684.2,861.5 L1711.5,1098.1 M1893.6,729.6 L1897.9,956.3 M2160.8,822.1 L2135.5,1056.3" fill="none" stroke="#161616" stroke-width="1.15"/>
<clipPath id="fc5"><polygon points="1711.5,1098.1 1897.9,956.3 2135.5,1056.3 1963.4,1225"/></clipPath>
<polygon points="1711.5,1098.1 1897.9,956.3 2135.5,1056.3 1963.4,1225" fill="#676767" stroke="#000" stroke-width="1.1" stroke-linejoin="round"/>
<g clip-path="url(#fc5)" fill="none"><path d="M1764.4,1058.6 L1822.1,1153.3" stroke="#32dc46" stroke-width="2"/><path d="M1814.1,1019.5 L1942.1,1213.4" stroke="#32dc46" stroke-width="2"/><path d="M1866,995 L2003.5,1184.8" stroke="#3ce63c" stroke-width="2"/><path d="M1945,1000 L2050.3,1139.6" stroke="#5ae632" stroke-width="2"/><path d="M2005,988 L2094.3,1096.6" stroke="#8ce632" stroke-width="2"/></g>
<polygon points="1711.5,1098.1 1897.9,956.3 2135.5,1056.3 1963.4,1225" fill="none" stroke="#000" stroke-width="1.2" stroke-linejoin="round"/>
<g fill="#000"><circle cx="1684.2" cy="861.5" r="2.1"/><circle cx="1687.2" cy="887.6" r="2.1"/><circle cx="1690.2" cy="913.6" r="2.1"/><circle cx="1693.2" cy="939.7" r="2.1"/><circle cx="1696.2" cy="965.7" r="2.1"/><circle cx="1699.2" cy="991.8" r="2.1"/><circle cx="1702.2" cy="1017.8" r="2.1"/><circle cx="1705.2" cy="1043.9" r="2.1"/><circle cx="1711.5" cy="1098.1" r="2.1"/><circle cx="1774.5" cy="1129.8" r="2.1"/><circle cx="1837.5" cy="1161.5" r="2.1"/><circle cx="1900.4" cy="1193.3" r="2.1"/><circle cx="1963.4" cy="1225" r="2.1"/><circle cx="1963.4" cy="1225" r="2.1"/><circle cx="1997.8" cy="1191.3" r="2.1"/><circle cx="2032.2" cy="1157.5" r="2.1"/><circle cx="2066.7" cy="1123.8" r="2.1"/><circle cx="2101.1" cy="1090" r="2.1"/><circle cx="2135.5" cy="1056.3" r="2.1"/><circle cx="2135.5" cy="1056.3" r="2.1"/></g>
<g><text x="1678.3" y="857.9" font-size="10.67" fill="#222" text-anchor="end" textLength="12" lengthAdjust="spacingAndGlyphs">34</text><text x="1681.3" y="884" font-size="10.67" fill="#222" text-anchor="end" textLength="12" lengthAdjust="spacingAndGlyphs">32</text><text x="1684.3" y="910.1" font-size="10.67" fill="#222" text-anchor="end" textLength="12" lengthAdjust="spacingAndGlyphs">30</text><text x="1687.3" y="936.1" font-size="10.67" fill="#222" text-anchor="end" textLength="12" lengthAdjust="spacingAndGlyphs">28</text><text x="1690.3" y="962.2" font-size="10.67" fill="#222" text-anchor="end" textLength="12" lengthAdjust="spacingAndGlyphs">26</text><text x="1693.3" y="988.2" font-size="10.67" fill="#222" text-anchor="end" textLength="12" lengthAdjust="spacingAndGlyphs">24</text><text x="1696.3" y="1014.3" font-size="10.67" fill="#222" text-anchor="end" textLength="12" lengthAdjust="spacingAndGlyphs">22</text><text x="1699.3" y="1040.3" font-size="10.67" fill="#222" text-anchor="end" textLength="12" lengthAdjust="spacingAndGlyphs">20</text><text x="1704.8" y="1108.9" font-size="10.67" fill="#222" text-anchor="end" textLength="14.6" lengthAdjust="spacingAndGlyphs">1.3</text><text x="1767.8" y="1140.6" font-size="10.67" fill="#222" text-anchor="end" textLength="14.6" lengthAdjust="spacingAndGlyphs">1.1</text><text x="1830.8" y="1172.3" font-size="10.67" fill="#222" text-anchor="end" textLength="14.6" lengthAdjust="spacingAndGlyphs">0.9</text><text x="1893.8" y="1204.1" font-size="10.67" fill="#222" text-anchor="end" textLength="14.6" lengthAdjust="spacingAndGlyphs">0.7</text><text x="1956.7" y="1235.8" font-size="10.67" fill="#222" text-anchor="end" textLength="14.6" lengthAdjust="spacingAndGlyphs">0.5</text><text x="1970.8" y="1235.8" font-size="10.67" fill="#222" textLength="12" lengthAdjust="spacingAndGlyphs">85</text><text x="2005.2" y="1202" font-size="10.67" fill="#222" textLength="12" lengthAdjust="spacingAndGlyphs">91</text><text x="2039.6" y="1168.3" font-size="10.67" fill="#222" textLength="12" lengthAdjust="spacingAndGlyphs">97</text><text x="2074.1" y="1134.6" font-size="10.67" fill="#222" textLength="18.1" lengthAdjust="spacingAndGlyphs">103</text><text x="2108.5" y="1100.8" font-size="10.67" fill="#222" textLength="18.1" lengthAdjust="spacingAndGlyphs">109</text><text x="2142.9" y="1067.1" font-size="10.67" fill="#222" textLength="18.1" lengthAdjust="spacingAndGlyphs">115</text></g>
<text x="1708.5" y="1225.1" font-size="11.75" fill="#222" textLength="120.2" lengthAdjust="spacingAndGlyphs">C: Feed Rate (g/min)</text>
<text x="2083.3" y="1185.6" font-size="11.75" fill="#222" textLength="107.4" lengthAdjust="spacingAndGlyphs">B: Temperature (C)</text>
<text x="0" y="0" font-size="11.52" fill="#222" style="white-space:pre" textLength="84.7" lengthAdjust="spacingAndGlyphs" transform="translate(1622.2,1028.8) rotate(-90)">Dissolution  (%)</text>
<text x="1913.9" y="693.8" font-size="19.84" fill="#111" textLength="102" lengthAdjust="spacingAndGlyphs">3D Surface</text>
<g stroke-width="0.6" stroke-linejoin="round"><path d="M1896.5,821.8 L1905.3,814.8 L1893.6,811 L1884.8,817.9Z" fill="#6dff5c" stroke="#6dff5c"/><path d="M1908.4,825.7 L1917.2,818.7 L1905.3,814.8 L1896.5,821.8Z" fill="#70ff5c" stroke="#70ff5c"/><path d="M1920.4,829.6 L1929.2,822.5 L1917.2,818.7 L1908.4,825.7Z" fill="#72ff5c" stroke="#72ff5c"/><path d="M1932.5,833.6 L1941.3,826.5 L1929.2,822.5 L1920.4,829.6Z" fill="#75ff5c" stroke="#75ff5c"/><path d="M1944.7,837.6 L1953.5,830.4 L1941.3,826.5 L1932.5,833.6Z" fill="#77ff5c" stroke="#77ff5c"/><path d="M1957.1,841.7 L1965.8,834.4 L1953.5,830.4 L1944.7,837.6Z" fill="#7aff5c" stroke="#7aff5c"/><path d="M1969.6,845.8 L1978.2,838.5 L1965.8,834.4 L1957.1,841.7Z" fill="#7cff5c" stroke="#7cff5c"/><path d="M1982.1,849.9 L1990.8,842.6 L1978.2,838.5 L1969.6,845.8Z" fill="#7eff5c" stroke="#7eff5c"/><path d="M1994.9,854.1 L2003.5,846.7 L1990.8,842.6 L1982.1,849.9Z" fill="#81ff5c" stroke="#81ff5c"/><path d="M2007.7,858.3 L2016.3,850.8 L2003.5,846.7 L1994.9,854.1Z" fill="#83ff5c" stroke="#83ff5c"/><path d="M2020.7,862.6 L2029.2,855 L2016.3,850.8 L2007.7,858.3Z" fill="#86ff5c" stroke="#86ff5c"/><path d="M2033.8,866.9 L2042.3,859.3 L2029.2,855 L2020.7,862.6Z" fill="#88ff5c" stroke="#88ff5c"/><path d="M2047,871.2 L2055.5,863.6 L2042.3,859.3 L2033.8,866.9Z" fill="#8bff5c" stroke="#8bff5c"/><path d="M2060.4,875.6 L2068.8,867.9 L2055.5,863.6 L2047,871.2Z" fill="#8dff5c" stroke="#8dff5c"/><path d="M2073.9,880.1 L2082.3,872.3 L2068.8,867.9 L2060.4,875.6Z" fill="#90ff5c" stroke="#90ff5c"/><path d="M2087.5,884.6 L2095.9,876.7 L2082.3,872.3 L2073.9,880.1Z" fill="#92ff5c" stroke="#92ff5c"/><path d="M2101.3,889.1 L2109.6,881.1 L2095.9,876.7 L2087.5,884.6Z" fill="#95ff5c" stroke="#95ff5c"/><path d="M2115.2,893.7 L2123.5,885.6 L2109.6,881.1 L2101.3,889.1Z" fill="#97ff5c" stroke="#97ff5c"/><path d="M2129.3,898.3 L2137.5,890.2 L2123.5,885.6 L2115.2,893.7Z" fill="#99ff5c" stroke="#99ff5c"/><path d="M2143.5,903 L2151.7,894.8 L2137.5,890.2 L2129.3,898.3Z" fill="#9cff5c" stroke="#9cff5c"/><path d="M1887.6,828.8 L1896.5,821.8 L1884.8,817.9 L1875.8,824.9Z" fill="#69ff5c" stroke="#69ff5c"/><path d="M1899.5,832.8 L1908.4,825.7 L1896.5,821.8 L1887.6,828.8Z" fill="#6cff5c" stroke="#6cff5c"/><path d="M1911.5,836.8 L1920.4,829.6 L1908.4,825.7 L1899.5,832.8Z" fill="#6eff5c" stroke="#6eff5c"/><path d="M1923.7,840.8 L1932.5,833.6 L1920.4,829.6 L1911.5,836.8Z" fill="#70ff5c" stroke="#70ff5c"/><path d="M1935.9,844.9 L1944.7,837.6 L1932.5,833.6 L1923.7,840.8Z" fill="#73ff5c" stroke="#73ff5c"/><path d="M1948.3,849 L1957.1,841.7 L1944.7,837.6 L1935.9,844.9Z" fill="#75ff5c" stroke="#75ff5c"/><path d="M1960.8,853.2 L1969.6,845.8 L1957.1,841.7 L1948.3,849Z" fill="#78ff5c" stroke="#78ff5c"/><path d="M1973.4,857.4 L1982.1,849.9 L1969.6,845.8 L1960.8,853.2Z" fill="#7aff5c" stroke="#7aff5c"/><path d="M1986.2,861.6 L1994.9,854.1 L1982.1,849.9 L1973.4,857.4Z" fill="#7dff5c" stroke="#7dff5c"/><path d="M1999,865.9 L2007.7,858.3 L1994.9,854.1 L1986.2,861.6Z" fill="#7fff5c" stroke="#7fff5c"/><path d="M2012,870.2 L2020.7,862.6 L2007.7,858.3 L1999,865.9Z" fill="#81ff5c" stroke="#81ff5c"/><path d="M2025.2,874.6 L2033.8,866.9 L2020.7,862.6 L2012,870.2Z" fill="#84ff5c" stroke="#84ff5c"/><path d="M2038.4,879 L2047,871.2 L2033.8,866.9 L2025.2,874.6Z" fill="#86ff5c" stroke="#86ff5c"/><path d="M2051.8,883.5 L2060.4,875.6 L2047,871.2 L2038.4,879Z" fill="#89ff5c" stroke="#89ff5c"/><path d="M2065.4,888 L2073.9,880.1 L2060.4,875.6 L2051.8,883.5Z" fill="#8bff5c" stroke="#8bff5c"/><path d="M2079.1,892.5 L2087.5,884.6 L2073.9,880.1 L2065.4,888Z" fill="#8dff5c" stroke="#8dff5c"/><path d="M2092.9,897.1 L2101.3,889.1 L2087.5,884.6 L2079.1,892.5Z" fill="#90ff5c" stroke="#90ff5c"/><path d="M2106.8,901.8 L2115.2,893.7 L2101.3,889.1 L2092.9,897.1Z" fill="#92ff5c" stroke="#92ff5c"/><path d="M2121,906.5 L2129.3,898.3 L2115.2,893.7 L2106.8,901.8Z" fill="#95ff5c" stroke="#95ff5c"/><path d="M2135.2,911.2 L2143.5,903 L2129.3,898.3 L2121,906.5Z" fill="#97ff5c" stroke="#97ff5c"/><path d="M1878.6,836 L1887.6,828.8 L1875.8,824.9 L1866.8,832Z" fill="#65ff5c" stroke="#65ff5c"/><path d="M1890.5,840 L1899.5,832.8 L1887.6,828.8 L1878.6,836Z" fill="#67ff5c" stroke="#67ff5c"/><path d="M1902.6,844 L1911.5,836.8 L1899.5,832.8 L1890.5,840Z" fill="#6aff5c" stroke="#6aff5c"/><path d="M1914.7,848.1 L1923.7,840.8 L1911.5,836.8 L1902.6,844Z" fill="#6cff5c" stroke="#6cff5c"/><path d="M1927,852.3 L1935.9,844.9 L1923.7,840.8 L1914.7,848.1Z" fill="#6fff5c" stroke="#6fff5c"/><path d="M1939.4,856.5 L1948.3,849 L1935.9,844.9 L1927,852.3Z" fill="#71ff5c" stroke="#71ff5c"/><path d="M1951.9,860.7 L1960.8,853.2 L1948.3,849 L1939.4,856.5Z" fill="#73ff5c" stroke="#73ff5c"/><path d="M1964.6,864.9 L1973.4,857.4 L1960.8,853.2 L1951.9,860.7Z" fill="#76ff5c" stroke="#76ff5c"/><path d="M1977.4,869.2 L1986.2,861.6 L1973.4,857.4 L1964.6,864.9Z" fill="#78ff5c" stroke="#78ff5c"/><path d="M1990.3,873.6 L1999,865.9 L1986.2,861.6 L1977.4,869.2Z" fill="#7bff5c" stroke="#7bff5c"/><path d="M2003.3,878 L2012,870.2 L1999,865.9 L1990.3,873.6Z" fill="#7dff5c" stroke="#7dff5c"/><path d="M2016.5,882.4 L2025.2,874.6 L2012,870.2 L2003.3,878Z" fill="#7fff5c" stroke="#7fff5c"/><path d="M2029.8,886.9 L2038.4,879 L2025.2,874.6 L2016.5,882.4Z" fill="#82ff5c" stroke="#82ff5c"/><path d="M2043.2,891.4 L2051.8,883.5 L2038.4,879 L2029.8,886.9Z" fill="#84ff5c" stroke="#84ff5c"/><path d="M2056.8,896 L2065.4,888 L2051.8,883.5 L2043.2,891.4Z" fill="#86ff5c" stroke="#86ff5c"/><path d="M2070.5,900.6 L2079.1,892.5 L2065.4,888 L2056.8,896Z" fill="#89ff5c" stroke="#89ff5c"/><path d="M2084.4,905.3 L2092.9,897.1 L2079.1,892.5 L2070.5,900.6Z" fill="#8bff5c" stroke="#8bff5c"/><path d="M2098.4,910 L2106.8,901.8 L2092.9,897.1 L2084.4,905.3Z" fill="#8eff5c" stroke="#8eff5c"/><path d="M2112.5,914.8 L2121,906.5 L2106.8,901.8 L2098.4,910Z" fill="#90ff5c" stroke="#90ff5c"/><path d="M2126.8,919.6 L2135.2,911.2 L2121,906.5 L2112.5,914.8Z" fill="#92ff5c" stroke="#92ff5c"/><path d="M1869.5,843.2 L1878.6,836 L1866.8,832 L1857.7,839.2Z" fill="#61ff5c" stroke="#61ff5c"/><path d="M1881.5,847.3 L1890.5,840 L1878.6,836 L1869.5,843.2Z" fill="#63ff5c" stroke="#63ff5c"/><path d="M1893.5,851.4 L1902.6,844 L1890.5,840 L1881.5,847.3Z" fill="#66ff5c" stroke="#66ff5c"/><path d="M1905.7,855.5 L1914.7,848.1 L1902.6,844 L1893.5,851.4Z" fill="#68ff5c" stroke="#68ff5c"/><path d="M1918,859.7 L1927,852.3 L1914.7,848.1 L1905.7,855.5Z" fill="#6aff5c" stroke="#6aff5c"/><path d="M1930.4,864 L1939.4,856.5 L1927,852.3 L1918,859.7Z" fill="#6dff5c" stroke="#6dff5c"/><path d="M1943,868.2 L1951.9,860.7 L1939.4,856.5 L1930.4,864Z" fill="#6fff5c" stroke="#6fff5c"/><path d="M1955.7,872.6 L1964.6,864.9 L1951.9,860.7 L1943,868.2Z" fill="#71ff5c" stroke="#71ff5c"/><path d="M1968.5,876.9 L1977.4,869.2 L1964.6,864.9 L1955.7,872.6Z" fill="#74ff5c" stroke="#74ff5c"/><path d="M1981.4,881.3 L1990.3,873.6 L1977.4,869.2 L1968.5,876.9Z" fill="#76ff5c" stroke="#76ff5c"/><path d="M1994.5,885.8 L2003.3,878 L1990.3,873.6 L1981.4,881.3Z" fill="#78ff5c" stroke="#78ff5c"/><path d="M2007.7,890.3 L2016.5,882.4 L2003.3,878 L1994.5,885.8Z" fill="#7bff5c" stroke="#7bff5c"/><path d="M2021,894.8 L2029.8,886.9 L2016.5,882.4 L2007.7,890.3Z" fill="#7dff5c" stroke="#7dff5c"/><path d="M2034.5,899.4 L2043.2,891.4 L2029.8,886.9 L2021,894.8Z" fill="#80ff5c" stroke="#80ff5c"/><path d="M2048.1,904.1 L2056.8,896 L2043.2,891.4 L2034.5,899.4Z" fill="#82ff5c" stroke="#82ff5c"/><path d="M2061.8,908.8 L2070.5,900.6 L2056.8,896 L2048.1,904.1Z" fill="#84ff5c" stroke="#84ff5c"/><path d="M2075.7,913.5 L2084.4,905.3 L2070.5,900.6 L2061.8,908.8Z" fill="#87ff5c" stroke="#87ff5c"/><path d="M2089.8,918.3 L2098.4,910 L2084.4,905.3 L2075.7,913.5Z" fill="#89ff5c" stroke="#89ff5c"/><path d="M2104,923.1 L2112.5,914.8 L2098.4,910 L2089.8,918.3Z" fill="#8bff5c" stroke="#8bff5c"/><path d="M2118.3,928 L2126.8,919.6 L2112.5,914.8 L2104,923.1Z" fill="#8eff5c" stroke="#8eff5c"/><path d="M1860.3,850.5 L1869.5,843.2 L1857.7,839.2 L1848.4,846.4Z" fill="#5dff5c" stroke="#5dff5c"/><path d="M1872.3,854.6 L1881.5,847.3 L1869.5,843.2 L1860.3,850.5Z" fill="#5fff5c" stroke="#5fff5c"/><path d="M1884.4,858.8 L1893.5,851.4 L1881.5,847.3 L1872.3,854.6Z" fill="#62ff5c" stroke="#62ff5c"/><path d="M1896.6,863 L1905.7,855.5 L1893.5,851.4 L1884.4,858.8Z" fill="#64ff5c" stroke="#64ff5c"/><path d="M1908.9,867.3 L1918,859.7 L1905.7,855.5 L1896.6,863Z" fill="#66ff5c" stroke="#66ff5c"/><path d="M1921.3,871.6 L1930.4,864 L1918,859.7 L1908.9,867.3Z" fill="#68ff5c" stroke="#68ff5c"/><path d="M1933.9,875.9 L1943,868.2 L1930.4,864 L1921.3,871.6Z" fill="#6bff5c" stroke="#6bff5c"/><path d="M1946.6,880.3 L1955.7,872.6 L1943,868.2 L1933.9,875.9Z" fill="#6dff5c" stroke="#6dff5c"/><path d="M1959.5,884.7 L1968.5,876.9 L1955.7,872.6 L1946.6,880.3Z" fill="#6fff5c" stroke="#6fff5c"/><path d="M1972.4,889.2 L1981.4,881.3 L1968.5,876.9 L1959.5,884.7Z" fill="#72ff5c" stroke="#72ff5c"/><path d="M1985.5,893.7 L1994.5,885.8 L1981.4,881.3 L1972.4,889.2Z" fill="#74ff5c" stroke="#74ff5c"/><path d="M1998.8,898.3 L2007.7,890.3 L1994.5,885.8 L1985.5,893.7Z" fill="#76ff5c" stroke="#76ff5c"/><path d="M2012.1,902.9 L2021,894.8 L2007.7,890.3 L1998.8,898.3Z" fill="#79ff5c" stroke="#79ff5c"/><path d="M2025.6,907.6 L2034.5,899.4 L2021,894.8 L2012.1,902.9Z" fill="#7bff5c" stroke="#7bff5c"/><path d="M2039.3,912.3 L2048.1,904.1 L2034.5,899.4 L2025.6,907.6Z" fill="#7dff5c" stroke="#7dff5c"/><path d="M2053.1,917 L2061.8,908.8 L2048.1,904.1 L2039.3,912.3Z" fill="#80ff5c" stroke="#80ff5c"/><path d="M2067,921.9 L2075.7,913.5 L2061.8,908.8 L2053.1,917Z" fill="#82ff5c" stroke="#82ff5c"/><path d="M2081.1,926.7 L2089.8,918.3 L2075.7,913.5 L2067,921.9Z" fill="#84ff5c" stroke="#84ff5c"/><path d="M2095.3,931.6 L2104,923.1 L2089.8,918.3 L2081.1,926.7Z" fill="#87ff5c" stroke="#87ff5c"/><path d="M2109.7,936.6 L2118.3,928 L2104,923.1 L2095.3,931.6Z" fill="#89ff5c" stroke="#89ff5c"/><path d="M1851,857.9 L1860.3,850.5 L1848.4,846.4 L1839.1,853.7Z" fill="#5cff5f" stroke="#5cff5f"/><path d="M1863,862.1 L1872.3,854.6 L1860.3,850.5 L1851,857.9Z" fill="#5cff5d" stroke="#5cff5d"/><path d="M1875.1,866.3 L1884.4,858.8 L1872.3,854.6 L1863,862.1Z" fill="#5dff5c" stroke="#5dff5c"/><path d="M1887.3,870.6 L1896.6,863 L1884.4,858.8 L1875.1,866.3Z" fill="#60ff5c" stroke="#60ff5c"/><path d="M1899.7,874.9 L1908.9,867.3 L1896.6,863 L1887.3,870.6Z" fill="#62ff5c" stroke="#62ff5c"/><path d="M1912.2,879.2 L1921.3,871.6 L1908.9,867.3 L1899.7,874.9Z" fill="#64ff5c" stroke="#64ff5c"/><path d="M1924.8,883.7 L1933.9,875.9 L1921.3,871.6 L1912.2,879.2Z" fill="#66ff5c" stroke="#66ff5c"/><path d="M1937.5,888.1 L1946.6,880.3 L1933.9,875.9 L1924.8,883.7Z" fill="#69ff5c" stroke="#69ff5c"/><path d="M1950.4,892.6 L1959.5,884.7 L1946.6,880.3 L1937.5,888.1Z" fill="#6bff5c" stroke="#6bff5c"/><path d="M1963.3,897.1 L1972.4,889.2 L1959.5,884.7 L1950.4,892.6Z" fill="#6dff5c" stroke="#6dff5c"/><path d="M1976.5,901.7 L1985.5,893.7 L1972.4,889.2 L1963.3,897.1Z" fill="#70ff5c" stroke="#70ff5c"/><path d="M1989.7,906.4 L1998.8,898.3 L1985.5,893.7 L1976.5,901.7Z" fill="#72ff5c" stroke="#72ff5c"/><path d="M2003.1,911.1 L2012.1,902.9 L1998.8,898.3 L1989.7,906.4Z" fill="#74ff5c" stroke="#74ff5c"/><path d="M2016.7,915.8 L2025.6,907.6 L2012.1,902.9 L2003.1,911.1Z" fill="#76ff5c" stroke="#76ff5c"/><path d="M2030.4,920.6 L2039.3,912.3 L2025.6,907.6 L2016.7,915.8Z" fill="#79ff5c" stroke="#79ff5c"/><path d="M2044.2,925.4 L2053.1,917 L2039.3,912.3 L2030.4,920.6Z" fill="#7bff5c" stroke="#7bff5c"/><path d="M2058.2,930.3 L2067,921.9 L2053.1,917 L2044.2,925.4Z" fill="#7dff5c" stroke="#7dff5c"/><path d="M2072.3,935.2 L2081.1,926.7 L2067,921.9 L2058.2,930.3Z" fill="#80ff5c" stroke="#80ff5c"/><path d="M2086.6,940.2 L2095.3,931.6 L2081.1,926.7 L2072.3,935.2Z" fill="#82ff5c" stroke="#82ff5c"/><path d="M2101,945.3 L2109.7,936.6 L2095.3,931.6 L2086.6,940.2Z" fill="#84ff5c" stroke="#84ff5c"/><path d="M1841.5,865.3 L1851,857.9 L1839.1,853.7 L1829.6,861.1Z" fill="#5cff63" stroke="#5cff63"/><path d="M1853.6,869.6 L1863,862.1 L1851,857.9 L1841.5,865.3Z" fill="#5cff61" stroke="#5cff61"/><path d="M1865.7,873.9 L1875.1,866.3 L1863,862.1 L1853.6,869.6Z" fill="#5cff5e" stroke="#5cff5e"/><path d="M1878,878.2 L1887.3,870.6 L1875.1,866.3 L1865.7,873.9Z" fill="#5cff5c" stroke="#5cff5c"/><path d="M1890.3,882.6 L1899.7,874.9 L1887.3,870.6 L1878,878.2Z" fill="#5eff5c" stroke="#5eff5c"/><path d="M1902.8,887 L1912.2,879.2 L1899.7,874.9 L1890.3,882.6Z" fill="#60ff5c" stroke="#60ff5c"/><path d="M1915.5,891.5 L1924.8,883.7 L1912.2,879.2 L1902.8,887Z" fill="#62ff5c" stroke="#62ff5c"/><path d="M1928.2,896 L1937.5,888.1 L1924.8,883.7 L1915.5,891.5Z" fill="#64ff5c" stroke="#64ff5c"/><path d="M1941.1,900.6 L1950.4,892.6 L1937.5,888.1 L1928.2,896Z" fill="#67ff5c" stroke="#67ff5c"/><path d="M1954.2,905.2 L1963.3,897.1 L1950.4,892.6 L1941.1,900.6Z" fill="#69ff5c" stroke="#69ff5c"/><path d="M1967.3,909.8 L1976.5,901.7 L1963.3,897.1 L1954.2,905.2Z" fill="#6bff5c" stroke="#6bff5c"/><path d="M1980.6,914.6 L1989.7,906.4 L1976.5,901.7 L1967.3,909.8Z" fill="#6dff5c" stroke="#6dff5c"/><path d="M1994.1,919.3 L2003.1,911.1 L1989.7,906.4 L1980.6,914.6Z" fill="#70ff5c" stroke="#70ff5c"/><path d="M2007.6,924.1 L2016.7,915.8 L2003.1,911.1 L1994.1,919.3Z" fill="#72ff5c" stroke="#72ff5c"/><path d="M2021.4,929 L2030.4,920.6 L2016.7,915.8 L2007.6,924.1Z" fill="#74ff5c" stroke="#74ff5c"/><path d="M2035.2,933.9 L2044.2,925.4 L2030.4,920.6 L2021.4,929Z" fill="#76ff5c" stroke="#76ff5c"/><path d="M2049.2,938.8 L2058.2,930.3 L2044.2,925.4 L2035.2,933.9Z" fill="#79ff5c" stroke="#79ff5c"/><path d="M2063.4,943.9 L2072.3,935.2 L2058.2,930.3 L2049.2,938.8Z" fill="#7bff5c" stroke="#7bff5c"/><path d="M2077.7,948.9 L2086.6,940.2 L2072.3,935.2 L2063.4,943.9Z" fill="#7dff5c" stroke="#7dff5c"/><path d="M2092.2,954.1 L2101,945.3 L2086.6,940.2 L2077.7,948.9Z" fill="#7fff5c" stroke="#7fff5c"/><path d="M1832,872.9 L1841.5,865.3 L1829.6,861.1 L1820.1,868.6Z" fill="#5cff67" stroke="#5cff67"/><path d="M1844.1,877.2 L1853.6,869.6 L1841.5,865.3 L1832,872.9Z" fill="#5cff65" stroke="#5cff65"/><path d="M1856.2,881.5 L1865.7,873.9 L1853.6,869.6 L1844.1,877.2Z" fill="#5cff63" stroke="#5cff63"/><path d="M1868.5,885.9 L1878,878.2 L1865.7,873.9 L1856.2,881.5Z" fill="#5cff60" stroke="#5cff60"/><path d="M1880.9,890.4 L1890.3,882.6 L1878,878.2 L1868.5,885.9Z" fill="#5cff5e" stroke="#5cff5e"/><path d="M1893.4,894.9 L1902.8,887 L1890.3,882.6 L1880.9,890.4Z" fill="#5cff5c" stroke="#5cff5c"/><path d="M1906.1,899.4 L1915.5,891.5 L1902.8,887 L1893.4,894.9Z" fill="#5eff5c" stroke="#5eff5c"/><path d="M1918.9,904 L1928.2,896 L1915.5,891.5 L1906.1,899.4Z" fill="#60ff5c" stroke="#60ff5c"/><path d="M1931.8,908.6 L1941.1,900.6 L1928.2,896 L1918.9,904Z" fill="#62ff5c" stroke="#62ff5c"/><path d="M1944.9,913.3 L1954.2,905.2 L1941.1,900.6 L1931.8,908.6Z" fill="#64ff5c" stroke="#64ff5c"/><path d="M1958,918.1 L1967.3,909.8 L1954.2,905.2 L1944.9,913.3Z" fill="#67ff5c" stroke="#67ff5c"/><path d="M1971.4,922.8 L1980.6,914.6 L1967.3,909.8 L1958,918.1Z" fill="#69ff5c" stroke="#69ff5c"/><path d="M1984.8,927.7 L1994.1,919.3 L1980.6,914.6 L1971.4,922.8Z" fill="#6bff5c" stroke="#6bff5c"/><path d="M1998.5,932.5 L2007.6,924.1 L1994.1,919.3 L1984.8,927.7Z" fill="#6dff5c" stroke="#6dff5c"/><path d="M2012.2,937.5 L2021.4,929 L2007.6,924.1 L1998.5,932.5Z" fill="#70ff5c" stroke="#70ff5c"/><path d="M2026.1,942.5 L2035.2,933.9 L2021.4,929 L2012.2,937.5Z" fill="#72ff5c" stroke="#72ff5c"/><path d="M2040.2,947.5 L2049.2,938.8 L2035.2,933.9 L2026.1,942.5Z" fill="#74ff5c" stroke="#74ff5c"/><path d="M2054.4,952.6 L2063.4,943.9 L2049.2,938.8 L2040.2,947.5Z" fill="#76ff5c" stroke="#76ff5c"/><path d="M2068.7,957.7 L2077.7,948.9 L2063.4,943.9 L2054.4,952.6Z" fill="#78ff5c" stroke="#78ff5c"/><path d="M2083.3,962.9 L2092.2,954.1 L2077.7,948.9 L2068.7,957.7Z" fill="#7bff5c" stroke="#7bff5c"/><path d="M1822.4,880.5 L1832,872.9 L1820.1,868.6 L1810.4,876.2Z" fill="#5cff6b" stroke="#5cff6b"/><path d="M1834.4,884.9 L1844.1,877.2 L1832,872.9 L1822.4,880.5Z" fill="#5cff69" stroke="#5cff69"/><path d="M1846.6,889.3 L1856.2,881.5 L1844.1,877.2 L1834.4,884.9Z" fill="#5cff67" stroke="#5cff67"/><path d="M1858.9,893.8 L1868.5,885.9 L1856.2,881.5 L1846.6,889.3Z" fill="#5cff65" stroke="#5cff65"/><path d="M1871.4,898.3 L1880.9,890.4 L1868.5,885.9 L1858.9,893.8Z" fill="#5cff62" stroke="#5cff62"/><path d="M1883.9,902.8 L1893.4,894.9 L1880.9,890.4 L1871.4,898.3Z" fill="#5cff60" stroke="#5cff60"/><path d="M1896.6,907.5 L1906.1,899.4 L1893.4,894.9 L1883.9,902.8Z" fill="#5cff5e" stroke="#5cff5e"/><path d="M1909.4,912.1 L1918.9,904 L1906.1,899.4 L1896.6,907.5Z" fill="#5cff5c" stroke="#5cff5c"/><path d="M1922.4,916.8 L1931.8,908.6 L1918.9,904 L1909.4,912.1Z" fill="#5eff5c" stroke="#5eff5c"/><path d="M1935.4,921.6 L1944.9,913.3 L1931.8,908.6 L1922.4,916.8Z" fill="#60ff5c" stroke="#60ff5c"/><path d="M1948.7,926.4 L1958,918.1 L1944.9,913.3 L1935.4,921.6Z" fill="#62ff5c" stroke="#62ff5c"/><path d="M1962,931.2 L1971.4,922.8 L1958,918.1 L1948.7,926.4Z" fill="#64ff5c" stroke="#64ff5c"/><path d="M1975.5,936.1 L1984.8,927.7 L1971.4,922.8 L1962,931.2Z" fill="#67ff5c" stroke="#67ff5c"/><path d="M1989.2,941.1 L1998.5,932.5 L1984.8,927.7 L1975.5,936.1Z" fill="#69ff5c" stroke="#69ff5c"/><path d="M2003,946.1 L2012.2,937.5 L1998.5,932.5 L1989.2,941.1Z" fill="#6bff5c" stroke="#6bff5c"/><path d="M2016.9,951.1 L2026.1,942.5 L2012.2,937.5 L2003,946.1Z" fill="#6dff5c" stroke="#6dff5c"/><path d="M2031,956.3 L2040.2,947.5 L2026.1,942.5 L2016.9,951.1Z" fill="#6fff5c" stroke="#6fff5c"/><path d="M2045.3,961.4 L2054.4,952.6 L2040.2,947.5 L2031,956.3Z" fill="#72ff5c" stroke="#72ff5c"/><path d="M2059.7,966.7 L2068.7,957.7 L2054.4,952.6 L2045.3,961.4Z" fill="#74ff5c" stroke="#74ff5c"/><path d="M2074.2,972 L2083.3,962.9 L2068.7,957.7 L2059.7,966.7Z" fill="#76ff5c" stroke="#76ff5c"/><path d="M1812.6,888.2 L1822.4,880.5 L1810.4,876.2 L1800.7,883.8Z" fill="#5cff6f" stroke="#5cff6f"/><path d="M1824.7,892.7 L1834.4,884.9 L1822.4,880.5 L1812.6,888.2Z" fill="#5cff6d" stroke="#5cff6d"/><path d="M1836.9,897.2 L1846.6,889.3 L1834.4,884.9 L1824.7,892.7Z" fill="#5cff6b" stroke="#5cff6b"/><path d="M1849.2,901.7 L1858.9,893.8 L1846.6,889.3 L1836.9,897.2Z" fill="#5cff69" stroke="#5cff69"/><path d="M1861.7,906.3 L1871.4,898.3 L1858.9,893.8 L1849.2,901.7Z" fill="#5cff67" stroke="#5cff67"/><path d="M1874.3,910.9 L1883.9,902.8 L1871.4,898.3 L1861.7,906.3Z" fill="#5cff65" stroke="#5cff65"/><path d="M1887,915.6 L1896.6,907.5 L1883.9,902.8 L1874.3,910.9Z" fill="#5cff62" stroke="#5cff62"/><path d="M1899.8,920.3 L1909.4,912.1 L1896.6,907.5 L1887,915.6Z" fill="#5cff60" stroke="#5cff60"/><path d="M1912.8,925.1 L1922.4,916.8 L1909.4,912.1 L1899.8,920.3Z" fill="#5cff5e" stroke="#5cff5e"/><path d="M1925.9,929.9 L1935.4,921.6 L1922.4,916.8 L1912.8,925.1Z" fill="#5cff5c" stroke="#5cff5c"/><path d="M1939.2,934.8 L1948.7,926.4 L1935.4,921.6 L1925.9,929.9Z" fill="#5eff5c" stroke="#5eff5c"/><path d="M1952.6,939.7 L1962,931.2 L1948.7,926.4 L1939.2,934.8Z" fill="#60ff5c" stroke="#60ff5c"/><path d="M1966.1,944.7 L1975.5,936.1 L1962,931.2 L1952.6,939.7Z" fill="#62ff5c" stroke="#62ff5c"/><path d="M1979.8,949.7 L1989.2,941.1 L1975.5,936.1 L1966.1,944.7Z" fill="#64ff5c" stroke="#64ff5c"/><path d="M1993.6,954.8 L2003,946.1 L1989.2,941.1 L1979.8,949.7Z" fill="#66ff5c" stroke="#66ff5c"/><path d="M2007.6,959.9 L2016.9,951.1 L2003,946.1 L1993.6,954.8Z" fill="#69ff5c" stroke="#69ff5c"/><path d="M2021.7,965.1 L2031,956.3 L2016.9,951.1 L2007.6,959.9Z" fill="#6bff5c" stroke="#6bff5c"/><path d="M2036,970.4 L2045.3,961.4 L2031,956.3 L2021.7,965.1Z" fill="#6dff5c" stroke="#6dff5c"/><path d="M2050.4,975.7 L2059.7,966.7 L2045.3,961.4 L2036,970.4Z" fill="#6fff5c" stroke="#6fff5c"/><path d="M2065,981.1 L2074.2,972 L2059.7,966.7 L2050.4,975.7Z" fill="#71ff5c" stroke="#71ff5c"/><path d="M1802.7,896 L1812.6,888.2 L1800.7,883.8 L1790.8,891.6Z" fill="#5cff73" stroke="#5cff73"/><path d="M1814.9,900.6 L1824.7,892.7 L1812.6,888.2 L1802.7,896Z" fill="#5cff71" stroke="#5cff71"/><path d="M1827.1,905.1 L1836.9,897.2 L1824.7,892.7 L1814.9,900.6Z" fill="#5cff6f" stroke="#5cff6f"/><path d="M1839.4,909.7 L1849.2,901.7 L1836.9,897.2 L1827.1,905.1Z" fill="#5cff6d" stroke="#5cff6d"/><path d="M1851.9,914.4 L1861.7,906.3 L1849.2,901.7 L1839.4,909.7Z" fill="#5cff6b" stroke="#5cff6b"/><path d="M1864.5,919.1 L1874.3,910.9 L1861.7,906.3 L1851.9,914.4Z" fill="#5cff69" stroke="#5cff69"/><path d="M1877.3,923.8 L1887,915.6 L1874.3,910.9 L1864.5,919.1Z" fill="#5cff67" stroke="#5cff67"/><path d="M1890.1,928.6 L1899.8,920.3 L1887,915.6 L1877.3,923.8Z" fill="#5cff65" stroke="#5cff65"/><path d="M1903.1,933.4 L1912.8,925.1 L1899.8,920.3 L1890.1,928.6Z" fill="#5cff62" stroke="#5cff62"/><path d="M1916.3,938.3 L1925.9,929.9 L1912.8,925.1 L1903.1,933.4Z" fill="#5cff60" stroke="#5cff60"/><path d="M1929.6,943.3 L1939.2,934.8 L1925.9,929.9 L1916.3,938.3Z" fill="#5cff5e" stroke="#5cff5e"/><path d="M1943,948.3 L1952.6,939.7 L1939.2,934.8 L1929.6,943.3Z" fill="#5cff5c" stroke="#5cff5c"/><path d="M1956.6,953.3 L1966.1,944.7 L1952.6,939.7 L1943,948.3Z" fill="#5eff5c" stroke="#5eff5c"/><path d="M1970.3,958.5 L1979.8,949.7 L1966.1,944.7 L1956.6,953.3Z" fill="#60ff5c" stroke="#60ff5c"/><path d="M1984.1,963.6 L1993.6,954.8 L1979.8,949.7 L1970.3,958.5Z" fill="#62ff5c" stroke="#62ff5c"/><path d="M1998.1,968.8 L2007.6,959.9 L1993.6,954.8 L1984.1,963.6Z" fill="#64ff5c" stroke="#64ff5c"/><path d="M2012.3,974.1 L2021.7,965.1 L2007.6,959.9 L1998.1,968.8Z" fill="#66ff5c" stroke="#66ff5c"/><path d="M2026.6,979.5 L2036,970.4 L2021.7,965.1 L2012.3,974.1Z" fill="#68ff5c" stroke="#68ff5c"/><path d="M2041.1,984.9 L2050.4,975.7 L2036,970.4 L2026.6,979.5Z" fill="#6aff5c" stroke="#6aff5c"/><path d="M2055.8,990.3 L2065,981.1 L2050.4,975.7 L2041.1,984.9Z" fill="#6cff5c" stroke="#6cff5c"/><path d="M1792.8,903.9 L1802.7,896 L1790.8,891.6 L1780.8,899.4Z" fill="#5cff78" stroke="#5cff78"/><path d="M1804.9,908.5 L1814.9,900.6 L1802.7,896 L1792.8,903.9Z" fill="#5cff75" stroke="#5cff75"/><path d="M1817.1,913.1 L1827.1,905.1 L1814.9,900.6 L1804.9,908.5Z" fill="#5cff73" stroke="#5cff73"/><path d="M1829.5,917.8 L1839.4,909.7 L1827.1,905.1 L1817.1,913.1Z" fill="#5cff71" stroke="#5cff71"/><path d="M1842,922.5 L1851.9,914.4 L1839.4,909.7 L1829.5,917.8Z" fill="#5cff6f" stroke="#5cff6f"/><path d="M1854.6,927.3 L1864.5,919.1 L1851.9,914.4 L1842,922.5Z" fill="#5cff6d" stroke="#5cff6d"/><path d="M1867.4,932.1 L1877.3,923.8 L1864.5,919.1 L1854.6,927.3Z" fill="#5cff6b" stroke="#5cff6b"/><path d="M1880.3,937 L1890.1,928.6 L1877.3,923.8 L1867.4,932.1Z" fill="#5cff69" stroke="#5cff69"/><path d="M1893.3,941.9 L1903.1,933.4 L1890.1,928.6 L1880.3,937Z" fill="#5cff67" stroke="#5cff67"/><path d="M1906.5,946.9 L1916.3,938.3 L1903.1,933.4 L1893.3,941.9Z" fill="#5cff65" stroke="#5cff65"/><path d="M1919.8,951.9 L1929.6,943.3 L1916.3,938.3 L1906.5,946.9Z" fill="#5cff63" stroke="#5cff63"/><path d="M1933.3,957 L1943,948.3 L1929.6,943.3 L1919.8,951.9Z" fill="#5cff61" stroke="#5cff61"/><path d="M1946.9,962.1 L1956.6,953.3 L1943,948.3 L1933.3,957Z" fill="#5cff5f" stroke="#5cff5f"/><path d="M1960.6,967.3 L1970.3,958.5 L1956.6,953.3 L1946.9,962.1Z" fill="#5cff5c" stroke="#5cff5c"/><path d="M1974.5,972.6 L1984.1,963.6 L1970.3,958.5 L1960.6,967.3Z" fill="#5dff5c" stroke="#5dff5c"/><path d="M1988.6,977.9 L1998.1,968.8 L1984.1,963.6 L1974.5,972.6Z" fill="#5fff5c" stroke="#5fff5c"/><path d="M2002.8,983.2 L2012.3,974.1 L1998.1,968.8 L1988.6,977.9Z" fill="#61ff5c" stroke="#61ff5c"/><path d="M2017.2,988.7 L2026.6,979.5 L2012.3,974.1 L2002.8,983.2Z" fill="#64ff5c" stroke="#64ff5c"/><path d="M2031.7,994.1 L2041.1,984.9 L2026.6,979.5 L2017.2,988.7Z" fill="#66ff5c" stroke="#66ff5c"/><path d="M2046.4,999.7 L2055.8,990.3 L2041.1,984.9 L2031.7,994.1Z" fill="#68ff5c" stroke="#68ff5c"/><path d="M1782.7,911.9 L1792.8,903.9 L1780.8,899.4 L1770.6,907.3Z" fill="#5cff7c" stroke="#5cff7c"/><path d="M1794.8,916.6 L1804.9,908.5 L1792.8,903.9 L1782.7,911.9Z" fill="#5cff7a" stroke="#5cff7a"/><path d="M1807.1,921.3 L1817.1,913.1 L1804.9,908.5 L1794.8,916.6Z" fill="#5cff78" stroke="#5cff78"/><path d="M1819.5,926 L1829.5,917.8 L1817.1,913.1 L1807.1,921.3Z" fill="#5cff75" stroke="#5cff75"/><path d="M1832,930.8 L1842,922.5 L1829.5,917.8 L1819.5,926Z" fill="#5cff73" stroke="#5cff73"/><path d="M1844.7,935.7 L1854.6,927.3 L1842,922.5 L1832,930.8Z" fill="#5cff71" stroke="#5cff71"/><path d="M1857.4,940.5 L1867.4,932.1 L1854.6,927.3 L1844.7,935.7Z" fill="#5cff6f" stroke="#5cff6f"/><path d="M1870.4,945.5 L1880.3,937 L1867.4,932.1 L1857.4,940.5Z" fill="#5cff6d" stroke="#5cff6d"/><path d="M1883.4,950.5 L1893.3,941.9 L1880.3,937 L1870.4,945.5Z" fill="#5cff6b" stroke="#5cff6b"/><path d="M1896.6,955.5 L1906.5,946.9 L1893.3,941.9 L1883.4,950.5Z" fill="#5cff69" stroke="#5cff69"/><path d="M1910,960.6 L1919.8,951.9 L1906.5,946.9 L1896.6,955.5Z" fill="#5cff67" stroke="#5cff67"/><path d="M1923.5,965.8 L1933.3,957 L1919.8,951.9 L1910,960.6Z" fill="#5cff65" stroke="#5cff65"/><path d="M1937.1,971 L1946.9,962.1 L1933.3,957 L1923.5,965.8Z" fill="#5cff63" stroke="#5cff63"/><path d="M1950.9,976.3 L1960.6,967.3 L1946.9,962.1 L1937.1,971Z" fill="#5cff61" stroke="#5cff61"/><path d="M1964.8,981.6 L1974.5,972.6 L1960.6,967.3 L1950.9,976.3Z" fill="#5cff5f" stroke="#5cff5f"/><path d="M1978.9,987 L1988.6,977.9 L1974.5,972.6 L1964.8,981.6Z" fill="#5cff5d" stroke="#5cff5d"/><path d="M1993.1,992.4 L2002.8,983.2 L1988.6,977.9 L1978.9,987Z" fill="#5dff5c" stroke="#5dff5c"/><path d="M2007.5,998 L2017.2,988.7 L2002.8,983.2 L1993.1,992.4Z" fill="#5fff5c" stroke="#5fff5c"/><path d="M2022.1,1003.5 L2031.7,994.1 L2017.2,988.7 L2007.5,998Z" fill="#61ff5c" stroke="#61ff5c"/><path d="M2036.8,1009.2 L2046.4,999.7 L2031.7,994.1 L2022.1,1003.5Z" fill="#63ff5c" stroke="#63ff5c"/><path d="M1772.4,920 L1782.7,911.9 L1770.6,907.3 L1760.4,915.4Z" fill="#5cff80" stroke="#5cff80"/><path d="M1784.6,924.8 L1794.8,916.6 L1782.7,911.9 L1772.4,920Z" fill="#5cff7e" stroke="#5cff7e"/><path d="M1796.9,929.5 L1807.1,921.3 L1794.8,916.6 L1784.6,924.8Z" fill="#5cff7c" stroke="#5cff7c"/><path d="M1809.3,934.3 L1819.5,926 L1807.1,921.3 L1796.9,929.5Z" fill="#5cff7a" stroke="#5cff7a"/><path d="M1821.9,939.2 L1832,930.8 L1819.5,926 L1809.3,934.3Z" fill="#5cff78" stroke="#5cff78"/><path d="M1834.5,944.1 L1844.7,935.7 L1832,930.8 L1821.9,939.2Z" fill="#5cff76" stroke="#5cff76"/><path d="M1847.4,949.1 L1857.4,940.5 L1844.7,935.7 L1834.5,944.1Z" fill="#5cff74" stroke="#5cff74"/><path d="M1860.3,954.1 L1870.4,945.5 L1857.4,940.5 L1847.4,949.1Z" fill="#5cff72" stroke="#5cff72"/><path d="M1873.4,959.2 L1883.4,950.5 L1870.4,945.5 L1860.3,954.1Z" fill="#5cff70" stroke="#5cff70"/><path d="M1886.6,964.3 L1896.6,955.5 L1883.4,950.5 L1873.4,959.2Z" fill="#5cff6e" stroke="#5cff6e"/><path d="M1900,969.5 L1910,960.6 L1896.6,955.5 L1886.6,964.3Z" fill="#5cff6c" stroke="#5cff6c"/><path d="M1913.5,974.7 L1923.5,965.8 L1910,960.6 L1900,969.5Z" fill="#5cff6a" stroke="#5cff6a"/><path d="M1927.2,980 L1937.1,971 L1923.5,965.8 L1913.5,974.7Z" fill="#5cff68" stroke="#5cff68"/><path d="M1941,985.4 L1950.9,976.3 L1937.1,971 L1927.2,980Z" fill="#5cff66" stroke="#5cff66"/><path d="M1955,990.8 L1964.8,981.6 L1950.9,976.3 L1941,985.4Z" fill="#5cff64" stroke="#5cff64"/><path d="M1969.1,996.3 L1978.9,987 L1964.8,981.6 L1955,990.8Z" fill="#5cff61" stroke="#5cff61"/><path d="M1983.4,1001.8 L1993.1,992.4 L1978.9,987 L1969.1,996.3Z" fill="#5cff5f" stroke="#5cff5f"/><path d="M1997.8,1007.4 L2007.5,998 L1993.1,992.4 L1983.4,1001.8Z" fill="#5cff5d" stroke="#5cff5d"/><path d="M2012.4,1013 L2022.1,1003.5 L2007.5,998 L1997.8,1007.4Z" fill="#5cff5c" stroke="#5cff5c"/><path d="M2027.2,1018.8 L2036.8,1009.2 L2022.1,1003.5 L2012.4,1013Z" fill="#5eff5c" stroke="#5eff5c"/><path d="M1762.1,928.2 L1772.4,920 L1760.4,915.4 L1750,923.5Z" fill="#5cff84" stroke="#5cff84"/><path d="M1774.3,933 L1784.6,924.8 L1772.4,920 L1762.1,928.2Z" fill="#5cff82" stroke="#5cff82"/><path d="M1786.6,937.9 L1796.9,929.5 L1784.6,924.8 L1774.3,933Z" fill="#5cff80" stroke="#5cff80"/><path d="M1799,942.7 L1809.3,934.3 L1796.9,929.5 L1786.6,937.9Z" fill="#5cff7e" stroke="#5cff7e"/><path d="M1811.6,947.7 L1821.9,939.2 L1809.3,934.3 L1799,942.7Z" fill="#5cff7c" stroke="#5cff7c"/><path d="M1824.3,952.7 L1834.5,944.1 L1821.9,939.2 L1811.6,947.7Z" fill="#5cff7a" stroke="#5cff7a"/><path d="M1837.1,957.7 L1847.4,949.1 L1834.5,944.1 L1824.3,952.7Z" fill="#5cff78" stroke="#5cff78"/><path d="M1850.1,962.8 L1860.3,954.1 L1847.4,949.1 L1837.1,957.7Z" fill="#5cff76" stroke="#5cff76"/><path d="M1863.2,968 L1873.4,959.2 L1860.3,954.1 L1850.1,962.8Z" fill="#5cff74" stroke="#5cff74"/><path d="M1876.5,973.2 L1886.6,964.3 L1873.4,959.2 L1863.2,968Z" fill="#5cff72" stroke="#5cff72"/><path d="M1889.9,978.4 L1900,969.5 L1886.6,964.3 L1876.5,973.2Z" fill="#5cff70" stroke="#5cff70"/><path d="M1903.4,983.7 L1913.5,974.7 L1900,969.5 L1889.9,978.4Z" fill="#5cff6e" stroke="#5cff6e"/><path d="M1917.1,989.1 L1927.2,980 L1913.5,974.7 L1903.4,983.7Z" fill="#5cff6c" stroke="#5cff6c"/><path d="M1931,994.6 L1941,985.4 L1927.2,980 L1917.1,989.1Z" fill="#5cff6a" stroke="#5cff6a"/><path d="M1945,1000.1 L1955,990.8 L1941,985.4 L1931,994.6Z" fill="#5cff68" stroke="#5cff68"/><path d="M1959.2,1005.6 L1969.1,996.3 L1955,990.8 L1945,1000.1Z" fill="#5cff66" stroke="#5cff66"/><path d="M1973.5,1011.3 L1983.4,1001.8 L1969.1,996.3 L1959.2,1005.6Z" fill="#5cff64" stroke="#5cff64"/><path d="M1988,1016.9 L1997.8,1007.4 L1983.4,1001.8 L1973.5,1011.3Z" fill="#5cff62" stroke="#5cff62"/><path d="M2002.6,1022.7 L2012.4,1013 L1997.8,1007.4 L1988,1016.9Z" fill="#5cff60" stroke="#5cff60"/><path d="M2017.4,1028.5 L2027.2,1018.8 L2012.4,1013 L2002.6,1022.7Z" fill="#5cff5e" stroke="#5cff5e"/><path d="M1751.6,936.5 L1762.1,928.2 L1750,923.5 L1739.5,931.7Z" fill="#5cff88" stroke="#5cff88"/><path d="M1763.8,941.4 L1774.3,933 L1762.1,928.2 L1751.6,936.5Z" fill="#5cff86" stroke="#5cff86"/><path d="M1776.2,946.3 L1786.6,937.9 L1774.3,933 L1763.8,941.4Z" fill="#5cff84" stroke="#5cff84"/><path d="M1788.6,951.2 L1799,942.7 L1786.6,937.9 L1776.2,946.3Z" fill="#5cff82" stroke="#5cff82"/><path d="M1801.2,956.3 L1811.6,947.7 L1799,942.7 L1788.6,951.2Z" fill="#5cff80" stroke="#5cff80"/><path d="M1813.9,961.3 L1824.3,952.7 L1811.6,947.7 L1801.2,956.3Z" fill="#5cff7e" stroke="#5cff7e"/><path d="M1826.8,966.4 L1837.1,957.7 L1824.3,952.7 L1813.9,961.3Z" fill="#5cff7c" stroke="#5cff7c"/><path d="M1839.8,971.6 L1850.1,962.8 L1837.1,957.7 L1826.8,966.4Z" fill="#5cff7a" stroke="#5cff7a"/><path d="M1852.9,976.9 L1863.2,968 L1850.1,962.8 L1839.8,971.6Z" fill="#5cff78" stroke="#5cff78"/><path d="M1866.2,982.1 L1876.5,973.2 L1863.2,968 L1852.9,976.9Z" fill="#5cff76" stroke="#5cff76"/><path d="M1879.7,987.5 L1889.9,978.4 L1876.5,973.2 L1866.2,982.1Z" fill="#5cff74" stroke="#5cff74"/><path d="M1893.2,992.9 L1903.4,983.7 L1889.9,978.4 L1879.7,987.5Z" fill="#5cff73" stroke="#5cff73"/><path d="M1907,998.4 L1917.1,989.1 L1903.4,983.7 L1893.2,992.9Z" fill="#5cff71" stroke="#5cff71"/><path d="M1920.8,1003.9 L1931,994.6 L1917.1,989.1 L1907,998.4Z" fill="#5cff6f" stroke="#5cff6f"/><path d="M1934.9,1009.5 L1945,1000.1 L1931,994.6 L1920.8,1003.9Z" fill="#5cff6d" stroke="#5cff6d"/><path d="M1949.1,1015.1 L1959.2,1005.6 L1945,1000.1 L1934.9,1009.5Z" fill="#5cff6b" stroke="#5cff6b"/><path d="M1963.4,1020.8 L1973.5,1011.3 L1959.2,1005.6 L1949.1,1015.1Z" fill="#5cff69" stroke="#5cff69"/><path d="M1978,1026.6 L1988,1016.9 L1973.5,1011.3 L1963.4,1020.8Z" fill="#5cff67" stroke="#5cff67"/><path d="M1992.6,1032.5 L2002.6,1022.7 L1988,1016.9 L1978,1026.6Z" fill="#5cff65" stroke="#5cff65"/><path d="M2007.5,1038.4 L2017.4,1028.5 L2002.6,1022.7 L1992.6,1032.5Z" fill="#5cff63" stroke="#5cff63"/><path d="M1741,944.9 L1751.6,936.5 L1739.5,931.7 L1728.9,940Z" fill="#5cff8c" stroke="#5cff8c"/><path d="M1753.2,949.8 L1763.8,941.4 L1751.6,936.5 L1741,944.9Z" fill="#5cff8a" stroke="#5cff8a"/><path d="M1765.6,954.8 L1776.2,946.3 L1763.8,941.4 L1753.2,949.8Z" fill="#5cff88" stroke="#5cff88"/><path d="M1778.1,959.9 L1788.6,951.2 L1776.2,946.3 L1765.6,954.8Z" fill="#5cff86" stroke="#5cff86"/><path d="M1790.7,965 L1801.2,956.3 L1788.6,951.2 L1778.1,959.9Z" fill="#5cff84" stroke="#5cff84"/><path d="M1803.4,970.1 L1813.9,961.3 L1801.2,956.3 L1790.7,965Z" fill="#5cff83" stroke="#5cff83"/><path d="M1816.3,975.3 L1826.8,966.4 L1813.9,961.3 L1803.4,970.1Z" fill="#5cff81" stroke="#5cff81"/><path d="M1829.4,980.6 L1839.8,971.6 L1826.8,966.4 L1816.3,975.3Z" fill="#5cff7f" stroke="#5cff7f"/><path d="M1842.5,985.9 L1852.9,976.9 L1839.8,971.6 L1829.4,980.6Z" fill="#5cff7d" stroke="#5cff7d"/><path d="M1855.8,991.2 L1866.2,982.1 L1852.9,976.9 L1842.5,985.9Z" fill="#5cff7b" stroke="#5cff7b"/><path d="M1869.3,996.7 L1879.7,987.5 L1866.2,982.1 L1855.8,991.2Z" fill="#5cff79" stroke="#5cff79"/><path d="M1882.9,1002.2 L1893.2,992.9 L1879.7,987.5 L1869.3,996.7Z" fill="#5cff77" stroke="#5cff77"/><path d="M1896.7,1007.7 L1907,998.4 L1893.2,992.9 L1882.9,1002.2Z" fill="#5cff75" stroke="#5cff75"/><path d="M1910.6,1013.3 L1920.8,1003.9 L1907,998.4 L1896.7,1007.7Z" fill="#5cff73" stroke="#5cff73"/><path d="M1924.7,1019 L1934.9,1009.5 L1920.8,1003.9 L1910.6,1013.3Z" fill="#5cff71" stroke="#5cff71"/><path d="M1938.9,1024.7 L1949.1,1015.1 L1934.9,1009.5 L1924.7,1019Z" fill="#5cff6f" stroke="#5cff6f"/><path d="M1953.3,1030.6 L1963.4,1020.8 L1949.1,1015.1 L1938.9,1024.7Z" fill="#5cff6d" stroke="#5cff6d"/><path d="M1967.8,1036.4 L1978,1026.6 L1963.4,1020.8 L1953.3,1030.6Z" fill="#5cff6b" stroke="#5cff6b"/><path d="M1982.6,1042.4 L1992.6,1032.5 L1978,1026.6 L1967.8,1036.4Z" fill="#5cff6a" stroke="#5cff6a"/><path d="M1997.5,1048.4 L2007.5,1038.4 L1992.6,1032.5 L1982.6,1042.4Z" fill="#5cff68" stroke="#5cff68"/><path d="M1730.3,953.4 L1741,944.9 L1728.9,940 L1718.2,948.5Z" fill="#5cff90" stroke="#5cff90"/><path d="M1742.5,958.4 L1753.2,949.8 L1741,944.9 L1730.3,953.4Z" fill="#5cff8e" stroke="#5cff8e"/><path d="M1754.9,963.5 L1765.6,954.8 L1753.2,949.8 L1742.5,958.4Z" fill="#5cff8c" stroke="#5cff8c"/><path d="M1767.4,968.6 L1778.1,959.9 L1765.6,954.8 L1754.9,963.5Z" fill="#5cff8b" stroke="#5cff8b"/><path d="M1780,973.8 L1790.7,965 L1778.1,959.9 L1767.4,968.6Z" fill="#5cff89" stroke="#5cff89"/><path d="M1792.8,979 L1803.4,970.1 L1790.7,965 L1780,973.8Z" fill="#5cff87" stroke="#5cff87"/><path d="M1805.7,984.3 L1816.3,975.3 L1803.4,970.1 L1792.8,979Z" fill="#5cff85" stroke="#5cff85"/><path d="M1818.8,989.6 L1829.4,980.6 L1816.3,975.3 L1805.7,984.3Z" fill="#5cff83" stroke="#5cff83"/><path d="M1832,995 L1842.5,985.9 L1829.4,980.6 L1818.8,989.6Z" fill="#5cff81" stroke="#5cff81"/><path d="M1845.3,1000.4 L1855.8,991.2 L1842.5,985.9 L1832,995Z" fill="#5cff7f" stroke="#5cff7f"/><path d="M1858.8,1006 L1869.3,996.7 L1855.8,991.2 L1845.3,1000.4Z" fill="#5cff7d" stroke="#5cff7d"/><path d="M1872.4,1011.5 L1882.9,1002.2 L1869.3,996.7 L1858.8,1006Z" fill="#5cff7b" stroke="#5cff7b"/><path d="M1886.2,1017.2 L1896.7,1007.7 L1882.9,1002.2 L1872.4,1011.5Z" fill="#5cff7a" stroke="#5cff7a"/><path d="M1900.2,1022.9 L1910.6,1013.3 L1896.7,1007.7 L1886.2,1017.2Z" fill="#5cff78" stroke="#5cff78"/><path d="M1914.3,1028.7 L1924.7,1019 L1910.6,1013.3 L1900.2,1022.9Z" fill="#5cff76" stroke="#5cff76"/><path d="M1928.5,1034.5 L1938.9,1024.7 L1924.7,1019 L1914.3,1028.7Z" fill="#5cff74" stroke="#5cff74"/><path d="M1943,1040.4 L1953.3,1030.6 L1938.9,1024.7 L1928.5,1034.5Z" fill="#5cff72" stroke="#5cff72"/><path d="M1957.6,1046.4 L1967.8,1036.4 L1953.3,1030.6 L1943,1040.4Z" fill="#5cff70" stroke="#5cff70"/><path d="M1972.3,1052.4 L1982.6,1042.4 L1967.8,1036.4 L1957.6,1046.4Z" fill="#5cff6e" stroke="#5cff6e"/><path d="M1987.3,1058.5 L1997.5,1048.4 L1982.6,1042.4 L1972.3,1052.4Z" fill="#5cff6c" stroke="#5cff6c"/><path d="M1719.4,962 L1730.3,953.4 L1718.2,948.5 L1707.3,957Z" fill="#5cff94" stroke="#5cff94"/><path d="M1731.7,967.1 L1742.5,958.4 L1730.3,953.4 L1719.4,962Z" fill="#5cff92" stroke="#5cff92"/><path d="M1744.1,972.2 L1754.9,963.5 L1742.5,958.4 L1731.7,967.1Z" fill="#5cff91" stroke="#5cff91"/><path d="M1756.6,977.4 L1767.4,968.6 L1754.9,963.5 L1744.1,972.2Z" fill="#5cff8f" stroke="#5cff8f"/><path d="M1769.3,982.7 L1780,973.8 L1767.4,968.6 L1756.6,977.4Z" fill="#5cff8d" stroke="#5cff8d"/><path d="M1782.1,988 L1792.8,979 L1780,973.8 L1769.3,982.7Z" fill="#5cff8b" stroke="#5cff8b"/><path d="M1795,993.3 L1805.7,984.3 L1792.8,979 L1782.1,988Z" fill="#5cff89" stroke="#5cff89"/><path d="M1808.1,998.8 L1818.8,989.6 L1805.7,984.3 L1795,993.3Z" fill="#5cff87" stroke="#5cff87"/><path d="M1821.3,1004.2 L1832,995 L1818.8,989.6 L1808.1,998.8Z" fill="#5cff86" stroke="#5cff86"/><path d="M1834.7,1009.8 L1845.3,1000.4 L1832,995 L1821.3,1004.2Z" fill="#5cff84" stroke="#5cff84"/><path d="M1848.2,1015.4 L1858.8,1006 L1845.3,1000.4 L1834.7,1009.8Z" fill="#5cff82" stroke="#5cff82"/><path d="M1861.8,1021 L1872.4,1011.5 L1858.8,1006 L1848.2,1015.4Z" fill="#5cff80" stroke="#5cff80"/><path d="M1875.7,1026.8 L1886.2,1017.2 L1872.4,1011.5 L1861.8,1021Z" fill="#5cff7e" stroke="#5cff7e"/><path d="M1889.6,1032.6 L1900.2,1022.9 L1886.2,1017.2 L1875.7,1026.8Z" fill="#5cff7c" stroke="#5cff7c"/><path d="M1903.8,1038.4 L1914.3,1028.7 L1900.2,1022.9 L1889.6,1032.6Z" fill="#5cff7a" stroke="#5cff7a"/><path d="M1918.1,1044.4 L1928.5,1034.5 L1914.3,1028.7 L1903.8,1038.4Z" fill="#5cff79" stroke="#5cff79"/><path d="M1932.5,1050.4 L1943,1040.4 L1928.5,1034.5 L1918.1,1044.4Z" fill="#5cff77" stroke="#5cff77"/><path d="M1947.2,1056.4 L1957.6,1046.4 L1943,1040.4 L1932.5,1050.4Z" fill="#5cff75" stroke="#5cff75"/><path d="M1962,1062.6 L1972.3,1052.4 L1957.6,1046.4 L1947.2,1056.4Z" fill="#5cff73" stroke="#5cff73"/><path d="M1977,1068.8 L1987.3,1058.5 L1972.3,1052.4 L1962,1062.6Z" fill="#5cff71" stroke="#5cff71"/><path d="M1708.4,970.7 L1719.4,962 L1707.3,957 L1696.3,965.6Z" fill="#5cff98" stroke="#5cff98"/><path d="M1720.7,975.9 L1731.7,967.1 L1719.4,962 L1708.4,970.7Z" fill="#5cff97" stroke="#5cff97"/><path d="M1733.1,981.1 L1744.1,972.2 L1731.7,967.1 L1720.7,975.9Z" fill="#5cff95" stroke="#5cff95"/><path d="M1745.7,986.4 L1756.6,977.4 L1744.1,972.2 L1733.1,981.1Z" fill="#5cff93" stroke="#5cff93"/><path d="M1758.3,991.7 L1769.3,982.7 L1756.6,977.4 L1745.7,986.4Z" fill="#5cff91" stroke="#5cff91"/><path d="M1771.2,997.1 L1782.1,988 L1769.3,982.7 L1758.3,991.7Z" fill="#5cff8f" stroke="#5cff8f"/><path d="M1784.1,1002.5 L1795,993.3 L1782.1,988 L1771.2,997.1Z" fill="#5cff8e" stroke="#5cff8e"/><path d="M1797.2,1008 L1808.1,998.8 L1795,993.3 L1784.1,1002.5Z" fill="#5cff8c" stroke="#5cff8c"/><path d="M1810.5,1013.6 L1821.3,1004.2 L1808.1,998.8 L1797.2,1008Z" fill="#5cff8a" stroke="#5cff8a"/><path d="M1823.9,1019.2 L1834.7,1009.8 L1821.3,1004.2 L1810.5,1013.6Z" fill="#5cff88" stroke="#5cff88"/><path d="M1837.4,1024.9 L1848.2,1015.4 L1834.7,1009.8 L1823.9,1019.2Z" fill="#5cff86" stroke="#5cff86"/><path d="M1851.1,1030.7 L1861.8,1021 L1848.2,1015.4 L1837.4,1024.9Z" fill="#5cff84" stroke="#5cff84"/><path d="M1864.9,1036.5 L1875.7,1026.8 L1861.8,1021 L1851.1,1030.7Z" fill="#5cff83" stroke="#5cff83"/><path d="M1879,1042.4 L1889.6,1032.6 L1875.7,1026.8 L1864.9,1036.5Z" fill="#5cff81" stroke="#5cff81"/><path d="M1893.1,1048.4 L1903.8,1038.4 L1889.6,1032.6 L1879,1042.4Z" fill="#5cff7f" stroke="#5cff7f"/><path d="M1907.5,1054.4 L1918.1,1044.4 L1903.8,1038.4 L1893.1,1048.4Z" fill="#5cff7d" stroke="#5cff7d"/><path d="M1922,1060.5 L1932.5,1050.4 L1918.1,1044.4 L1907.5,1054.4Z" fill="#5cff7b" stroke="#5cff7b"/><path d="M1936.6,1066.6 L1947.2,1056.4 L1932.5,1050.4 L1922,1060.5Z" fill="#5cff7a" stroke="#5cff7a"/><path d="M1951.5,1072.9 L1962,1062.6 L1947.2,1056.4 L1936.6,1066.6Z" fill="#5cff78" stroke="#5cff78"/><path d="M1966.5,1079.2 L1977,1068.8 L1962,1062.6 L1951.5,1072.9Z" fill="#5cff76" stroke="#5cff76"/></g>
<path d="M1966.5,1079.2 L1696.3,965.6 M1966.5,1079.2 L2151.7,894.8 M1977,1068.8 L1707.3,957 M1951.5,1072.9 L2137.5,890.2 M1987.3,1058.5 L1718.2,948.5 M1936.6,1066.6 L2123.5,885.6 M1997.5,1048.4 L1728.9,940 M1922,1060.5 L2109.6,881.1 M2007.5,1038.4 L1739.5,931.7 M1907.5,1054.4 L2095.9,876.7 M2017.4,1028.5 L1750,923.5 M1893.1,1048.4 L2082.3,872.3 M2027.2,1018.8 L1760.4,915.4 M1879,1042.4 L2068.8,867.9 M2036.8,1009.2 L1770.6,907.3 M1864.9,1036.5 L2055.5,863.6 M2046.4,999.7 L1780.8,899.4 M1851.1,1030.7 L2042.3,859.3 M2055.8,990.3 L1790.8,891.6 M1837.4,1024.9 L2029.2,855 M2065,981.1 L1800.7,883.8 M1823.9,1019.2 L2016.3,850.8 M2074.2,972 L1810.4,876.2 M1810.5,1013.6 L2003.5,846.7 M2083.3,962.9 L1820.1,868.6 M1797.2,1008 L1990.8,842.6 M2092.2,954.1 L1829.6,861.1 M1784.1,1002.5 L1978.2,838.5 M2101,945.3 L1839.1,853.7 M1771.2,997.1 L1965.8,834.4 M2109.7,936.6 L1848.4,846.4 M1758.3,991.7 L1953.5,830.4 M2118.3,928 L1857.7,839.2 M1745.7,986.4 L1941.3,826.5 M2126.8,919.6 L1866.8,832 M1733.1,981.1 L1929.2,822.5 M2135.2,911.2 L1875.8,824.9 M1720.7,975.9 L1917.2,818.7 M2143.5,903 L1884.8,817.9 M1708.4,970.7 L1905.3,814.8 M2151.7,894.8 L1893.6,811 M1696.3,965.6 L1893.6,811" fill="none" stroke="#000" stroke-opacity="0.82" stroke-width="1.0"/>
<ellipse cx="1698.5" cy="983" rx="5.1" ry="5.2" fill="#ffc6c6" stroke="#3c2020" stroke-width="0.9"/>
<path d="M1893.6,771.6 L1893.6,811" stroke="#111" stroke-opacity="1" stroke-width="1.6"/>
<ellipse cx="1893.6" cy="771.6" rx="5.1" ry="5.2" fill="#b40000" stroke="#3c0000" stroke-width="0.9"/>
<path d="M1926.8,855.9 L1926.8,931.2" stroke="#111" stroke-opacity="0.5" stroke-width="1.6"/>
<ellipse cx="1926.8" cy="855.9" rx="5.1" ry="5.2" fill="#b40000" stroke="#3c0000" stroke-width="0.9"/>
<ellipse cx="2156.2" cy="863.9" rx="5.1" ry="5.2" fill="#b40000" stroke="#3c0000" stroke-width="0.9"/>
<path d="M1967.5,1035.2 L1967.5,1079.2" stroke="#111" stroke-opacity="0.5" stroke-width="1.6"/>
<ellipse cx="1967.5" cy="1035.2" rx="5.1" ry="5.2" fill="#b40000" stroke="#3c0000" stroke-width="0.9"/>
</g>
</svg>
</body></html>
